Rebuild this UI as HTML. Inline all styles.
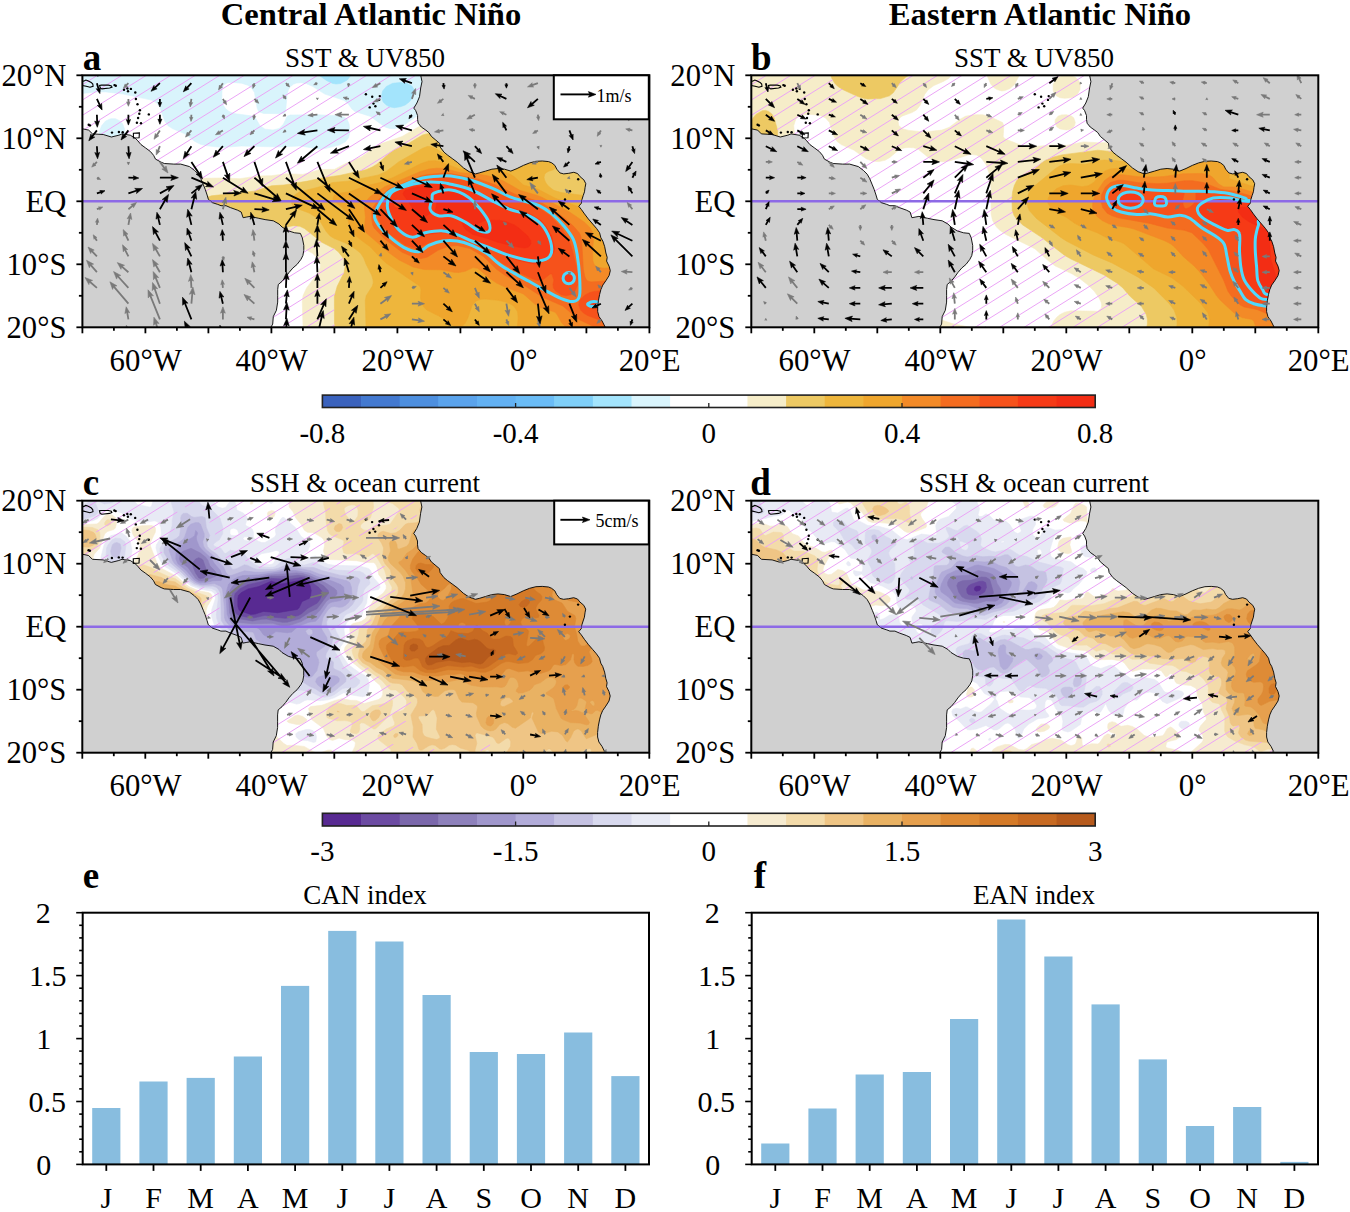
<!DOCTYPE html>
<html><head><meta charset="utf-8"><style>
html,body{margin:0;padding:0;background:#fff;}
svg{display:block;}
</style></head><body>
<svg width="1350" height="1212" viewBox="0 0 1350 1212">
<rect width="1350" height="1212" fill="#fff"/>
<clipPath id="clipa"><rect x="82.4" y="75.3" width="567.0" height="252.0"/></clipPath>
<g clip-path="url(#clipa)">
<path d="M71.4,339.9 205.9,339.9 227.3,319.1 244.6,300.4 254.1,288.8 270.1,265.9 276.6,258 281.9,253.3 286.9,250.1 291.9,248.2 296.6,247.6 304.5,249 312.5,253.3 318.6,259.2 320.5,264.3 320.3,267.4 318.5,272.2 306.6,287.9 303,295.8 302.3,302.1 303,325.7 299.9,339.9 662,339.9 662,120.4 641.5,115.4 606.9,102.2 592.7,97.9 575.4,95.3 559.6,96 545.5,99.2 531.3,105.1 518.7,112.6 491.9,131.2 484,135.3 477.7,137.3 471.4,137.8 466.7,136.5 451,125.7 443.1,122.3 435.2,121.4 427.3,122.8 419.5,126.3 402.1,136.5 380.1,144.1 361.2,157 347,162.8 334.4,169.4 320.2,169.5 302.9,174.4 285.6,173.8 271.4,175.7 257.2,176 239.9,178.7 222.6,178 184.8,178.6 172.2,180.3 161.2,183.2 149.4,188.7 121.8,206.1 106,214.7 88.7,221.8 69.8,226.7 69.8,339.9 71.4,339.9Z" fill="#f6edc9" stroke="#f6edc9" stroke-width="0.6" fill-rule="evenodd"/>
<path d="M336,339.9 662,339.9 662,178.5 646.2,177.7 632.1,175.6 617.9,172.1 607.9,168.2 602.7,165.1 599,161.8 587.1,144.6 581.4,138.3 572.2,132 562.8,128.7 551.8,127.9 539.1,130 528.1,134 506.2,144.6 495,149.2 479.3,153.7 468.3,155.6 463.5,155.2 458.8,153.1 441.5,136.7 435.4,133.6 430.5,132.9 422.6,135 408.4,143.5 394.2,149.9 389.5,153.2 376.9,164.2 372.2,167.1 365.9,169.7 339.1,175.5 323.4,177.7 307.6,181.1 284,185 271.4,185.8 254.1,191.2 211.6,195.8 205.2,197.8 199,201.3 192.8,206 188,210.8 183.2,217.1 179.1,224.9 177,232.8 176.8,240.7 178.5,247.1 182.4,253.3 187.9,257.8 194.2,260.5 200.5,261.7 208.4,261.8 216.3,260.7 225.7,258 241.5,250.6 265.1,236.2 274.6,231.1 284,227.4 293.4,225.7 299.8,226.3 304.5,228.5 321.7,242.2 334.4,248.8 338.2,251.7 343.2,258 344.5,261.1 345.2,265.9 344.2,272.2 337.2,286.3 334.4,296.2 334.5,328.9 335.1,339.9 336,339.9Z" fill="#edc963" stroke="#edc963" stroke-width="0.6" fill-rule="evenodd"/>
<path d="M370.6,339.9 662,339.9 662,217.2 647.8,216.3 636.8,214.4 627.3,211.4 605.3,201.9 594.3,198.1 581.7,195.2 561.2,192.6 553.7,190.3 549.4,187.1 546.6,184 544.8,180.8 544,177.7 544.6,174.5 545.7,172.9 548.6,171.2 553.3,169.8 554.9,168.5 555.6,166.6 555.2,163.5 554.3,161.9 551.8,159.8 549.2,158.8 542.3,157.9 525,157.5 504.5,160.4 462,164.3 456.1,161.9 436.8,149.1 430.5,146.4 427.3,146.5 422.6,148.3 399,161.7 386.2,171.4 378.5,174.9 350.1,180.9 332.8,182.5 317.1,187.5 299.7,191.8 294.6,195 291.9,198.1 291.3,202.9 293.4,206 298.2,208.9 309.2,213.1 315.5,217 320.4,221.8 326,231.2 330.1,235.9 334.4,238.5 345.4,243 354.8,248.6 360.7,253.3 363.7,258 366.1,264.3 371.7,275.3 373.1,280.1 373.2,283.2 372.2,286.3 366.2,295.8 365.3,300.5 366,327.3 368.1,335.2 370.1,339.9 370.6,339.9Z" fill="#eeb63c" stroke="#eeb63c" stroke-width="0.6" fill-rule="evenodd"/>
<path d="M518.7,338.8 519.1,339.9 662,339.9 662,246.8 632.1,244.6 621,241.9 614.8,237.3 605.4,224.9 601,220.2 589.9,212.3 578.5,206.8 554.9,198.1 537.6,189 523.4,185.1 514,176.6 510.8,174.6 504.5,172.1 496.6,170.4 479.3,168.8 460.4,169.4 441.5,162.1 435.2,160.8 428.9,160.9 421,163.6 392.9,177.7 380.1,182.6 365.9,185.8 350.1,191.8 337.6,193.4 334.4,195.1 333.1,198.1 333.4,199.7 334.5,201.3 342.3,207.5 345.4,211.5 347.6,217.1 349.4,226.5 354.7,234.4 359.8,239.1 370.5,247 380.1,257.5 386.4,263.3 419.9,286.3 421,289.5 420.5,297.4 421.3,302.1 423.7,306.8 426.8,310 439.9,316.6 452.5,325.2 458.8,327.3 462,326.4 465.1,323.3 467.9,317.8 472.2,305.2 476.1,300.9 480.9,299.3 485.6,299.1 498.2,300.3 505.9,302.1 510,303.7 514,306.2 517.5,311.6 518.2,317.8 517,330.4 518.7,338.8Z" fill="#efa62d" stroke="#efa62d" stroke-width="0.6" fill-rule="evenodd"/>
<path d="M589.5,338.7 590.7,339.9 662,339.9 662,271.8 647.8,268.7 635.2,267.2 622.6,267 603.7,268.2 597.4,267.3 594.3,264.8 592.9,261.1 592.5,251.7 593.5,239.1 592.6,232.8 590.3,228.1 584.8,222.4 569.9,212.3 542.3,197.5 536,195 520.2,190.5 502.9,180.7 489,176.1 476.1,173.7 460.4,172.8 444.6,168.5 436.8,168.2 428.9,169.1 419.5,171.9 384.8,186.7 370.2,196.6 366,201.3 364.4,207.6 365.5,217.1 364.5,226.5 364.8,229.6 366.1,232.8 389.5,253.1 399,259.9 413.1,267 424.2,269.5 441.5,269.8 454.1,272.3 458.8,272.5 465.1,271.3 473,267.6 477.7,268.3 490.3,278.8 496.6,283.1 504.5,286.8 523.4,293.9 534.4,303.7 540.7,307.7 554.9,312.1 557.2,314.7 561.5,322.6 564.6,325.7 569.1,328.3 583.2,333.6 589.5,338.7Z" fill="#f38a27" stroke="#f38a27" stroke-width="0.6" fill-rule="evenodd"/>
<path d="M614.8,338.6 617.7,339.9 662,339.9 662,302.9 655.7,296.7 647.9,291.1 639.9,287 632.1,284 617.9,281.3 608.4,281 591.1,281.9 588,281.2 586.5,280.1 584.8,276.8 583.3,269 581.7,240.7 580.7,235.9 579.2,232.8 573.8,226.5 565,218.6 554.7,210.8 542.3,203.2 536,200.6 515.5,194.4 495,184.7 478.8,179.2 451,173.6 443.1,173 427.3,174.6 421,175.9 389.2,188.7 383.5,193.4 372.8,207.6 371.5,212.3 371.9,220.2 372.7,224.9 374.2,228.1 384.8,239.1 402.1,252.3 414.7,257.6 421,258.6 427.3,257.1 438.4,250.1 447.8,246.5 457.2,245.5 470.1,248.6 483.4,256.4 496.6,269.3 505.1,275.3 526.5,286.8 542.3,297.1 562.8,306 578.5,319.3 589.5,324.5 614.8,338.6Z" fill="#f46c20" stroke="#f46c20" stroke-width="0.6" fill-rule="evenodd"/>
<path d="M605.3,321 611.6,321.6 617.9,321 622.4,319.4 625.8,317 628.3,313.1 628.8,310 627.9,305.2 624.9,300.5 621.6,297.4 616.6,294.2 606,291.1 600.6,290.8 594.3,291.4 589.5,292.7 584.8,295.2 580.9,298.9 579,302.1 578.8,305.2 580.6,310 583.6,313.1 588,315.7 597.4,319.1 605.3,321ZM561.2,294.8 565.9,295.8 570.6,294.8 575.4,290.3 577.7,284.8 578.4,278.5 578,273.8 572.2,249.6 568.6,239.1 560.2,226.5 549.9,215.5 538,207.6 509.2,198.5 491.9,190.3 472.4,182.4 451.9,177.7 444.6,177.1 421,179.2 403.7,185 389.5,191.6 386.7,195 378.3,210.8 377.6,213.9 377.9,217.1 378.7,220.2 380.5,223.3 390.3,234.4 405.3,245.3 413.1,247.5 417.9,247.9 428.9,242.8 441.5,239.3 454.1,239.6 459.9,240.7 473,245.2 485.9,251.7 502.9,263.6 521.5,273.8 532.9,279 537.6,280.4 542.3,280.3 550.2,274 551.8,273.9 553.9,280.1 553,284.8 553.5,287.9 555.6,291.1 561.2,294.8Z" fill="#f6521b" stroke="#f6521b" stroke-width="0.6" fill-rule="evenodd"/>
<path d="M592.7,306.9 599,306.3 600.4,305.2 600.5,303.7 597.4,302 591,302.1 589,303.7 589,305.2 591.1,306.7 592.7,306.9ZM567.5,283.8 570.6,283.4 572.2,282.2 573.9,278.5 572.2,273.9 569.1,272.4 565.9,273.2 563.6,276.9 564.4,281.6 567.5,283.8ZM529.7,263.1 534.4,263.8 537.6,263.5 547,260.1 549.9,258 552.4,254.8 554.1,251.7 554.7,248.6 551.6,235.9 545.9,226.5 540.7,220.2 529.8,213.9 509.2,206.8 471.4,188.4 446.2,182 439.9,181.6 421,182.3 403.7,187.1 394.2,192.8 392.1,193.4 390.5,195 386,207.6 386.1,212.3 387.4,217.1 390.3,221.8 397.9,231.2 408,237.5 411.6,238.8 414.7,238.8 427.3,234.5 439.9,232.7 446.2,233.1 460.4,236.8 487.2,247.5 506.1,256.1 518.7,260.4 529.7,263.1ZM396,207.6 394.2,205.9 393.5,202.9 395.3,199.7 397.4,199.1 399,199.6 400.6,201.3 401.3,204.4 400.5,206.5 399,207.8 396,207.6Z" fill="#f63a16" stroke="#f63a16" stroke-width="0.6" fill-rule="evenodd"/>
<path d="M518.7,247.3 525,248 528.1,247 530,245.4 530.8,243.8 530.7,240.7 527.6,235.9 518.9,228.1 514.2,224.9 506.1,221.8 499.8,220.4 491.9,220.2 488.8,221.5 487.2,229.9 484,230.2 479.3,228.6 477,224.9 478.7,223.3 485.4,220.2 485.2,217.1 480.1,209.2 471,199.7 467,196.6 451,190.3 441.5,191.5 436.8,193.1 435.2,192.6 431.5,188.7 424.2,186.5 417.9,186.8 410,188.5 405.5,190.3 403.8,191.8 403.2,193.4 403.6,195 409.3,202.9 414.7,212.3 417.9,215.8 422.6,216.7 426.9,215.5 429.5,213.9 430.5,212.3 432,202.3 433.6,198.8 435.2,197.9 436.7,202.9 436.1,207.6 434.5,212.3 435.5,213.9 438.6,215.5 451,216.3 459.8,220.2 461.8,221.8 463.4,226.5 465.7,229.6 472.7,234.4 487.2,238.4 497.6,242.2 518.7,247.3Z" fill="#f32d14" stroke="#f32d14" stroke-width="0.6" fill-rule="evenodd"/>
<path d="M109.2,148 113.9,147.7 118.6,145.2 122,141.4 124.5,135.2 124.5,128.8 122.7,124.1 120.1,121 115.5,118.7 110.8,118.7 105.6,121 101.6,125.7 99.8,130.4 99.4,136.7 101.3,142.5 104.5,146 109.2,148ZM312.4,147.9 318.6,149 324.9,148.6 339.1,145.1 345.4,141.8 348.6,137.7 349.9,132 349.1,124.1 347,119.1 343.9,116.9 336,115.7 317.1,114.7 290.3,115 287.1,116.2 283.5,124.1 279.3,128.4 273,130 265.1,129.2 260,125.7 255.7,118.3 254.1,116.8 250.9,115.8 233.6,113.5 229.1,111.5 225.7,108.8 223.3,105.2 221.8,98.9 222,89.5 223.8,84.8 227.3,82.8 232,82.4 241.5,83.2 247.8,85.2 251.5,87.9 254.5,92.6 257.2,108.2 258.8,111.7 263.5,113.4 279.3,113.7 284,113.2 285.6,111.5 287.1,94.2 288.5,89.5 290.3,86.7 293.4,84.2 296.6,83 301.3,82.7 306.1,83.5 312.4,86.3 324.9,94.1 343.9,100.3 348,103.6 351.7,108.7 354.9,111.4 370.6,116.5 384.8,126.9 389.5,128.4 394.2,128.7 402.1,126.5 422.6,112 436.8,105 447.8,102.2 469.9,100.1 479.3,97 488.8,91.2 514,72.2 530.2,62.7 69.8,62.7 69.8,92.2 82.4,93.4 98.2,91.8 106,91.9 123.3,94.1 151.7,100.1 156.4,102.8 159.6,106.4 164.7,121 168,125.7 172.8,128.8 184.4,133.6 194.9,141.4 200.5,144.3 206.8,145.8 222.6,147.5 241.5,146 279.3,147 299.8,145.9 312.4,147.9Z" fill="#d9f4fc" stroke="#d9f4fc" stroke-width="0.6" fill-rule="evenodd"/>
<path d="M389.5,106.8 394.2,107.7 400.5,106.7 405.3,104.9 409.1,102.1 411.8,98.9 414.1,94.2 414,89.5 412.1,86.3 406.9,83.3 400.5,82.5 392.7,83.3 386.4,86.4 382.6,91 381.3,97.3 383.2,102.1 386.4,105.1 389.5,106.8ZM332.8,83.4 336,84 340.7,83.5 347.3,80 352.1,73.7 356.8,62.7 297.2,62.7 310.8,69.5 326.5,80.5 332.8,83.4ZM142.2,74 145.4,75.1 150.2,73.7 153.3,70.6 157.5,62.7 128.5,62.7 142.2,74Z" fill="#a3e4fc" stroke="#a3e4fc" stroke-width="0.6" fill-rule="evenodd"/>
<clipPath id="ha"><path d="M71.4,339.9 335.1,339.9 334,303.7 334.4,295.8 336.6,287.9 343.6,273.8 345.2,267.4 344.9,262.7 343.9,259.6 341.1,254.8 338.2,251.7 334.4,248.8 321.7,242.2 304.5,228.5 299.8,226.3 293.4,225.7 284,227.4 274.6,231.1 265.1,236.2 241.5,250.6 225.7,258 216.3,260.7 208.4,261.8 200.5,261.7 194.2,260.5 187.9,257.8 182.4,253.3 178.5,247.1 176.8,240.7 177,232.8 179.1,224.9 183.2,217.1 188,210.8 192.8,206 199,201.3 205.2,197.8 211.6,195.8 254.1,191.2 271.4,185.8 284,185 307.6,181.1 323.4,177.7 339.1,175.5 365.9,169.7 372.2,167.1 376.9,164.2 389.5,153.2 394.2,149.9 408.4,143.5 422.6,135 430.5,132.9 435.4,133.6 441.5,136.7 458.8,153.1 463.5,155.2 468.3,155.6 479.3,153.7 495,149.2 506.2,144.6 528.1,134 539.1,130 551.8,127.9 562.8,128.7 572.2,132 581.4,138.3 587.1,144.6 599,161.8 602.7,165.1 607.9,168.2 617.9,172.1 632.1,175.6 646.2,177.7 662,178.5 662,62.7 356.8,62.7 352.9,72.1 348.9,78.5 343.9,82.3 337.6,84 332.8,83.4 328.4,81.6 310.8,69.5 297.2,62.7 157.5,62.7 154.9,68.2 152,72.1 148.6,74.6 145.4,75.1 139.4,72.1 128.5,62.7 69.8,62.7 69.8,339.9 71.4,339.9ZM389.4,106.8 386.4,105.1 383.2,102.1 381.3,97.3 382.6,91 386.4,86.4 392.7,83.3 400.5,82.5 406.9,83.3 412.1,86.3 414,89.5 414.1,94.2 411.8,98.9 409.1,102.1 405.3,104.9 400.5,106.7 394.2,107.7 389.4,106.8Z" clip-rule="evenodd"/></clipPath><path d="M82.4,84.7L649.4,-269.7M82.4,100.0L649.4,-254.4M82.4,115.3L649.4,-239.1M82.4,130.6L649.4,-223.8M82.4,145.9L649.4,-208.5M82.4,161.2L649.4,-193.2M82.4,176.5L649.4,-177.9M82.4,191.8L649.4,-162.6M82.4,207.1L649.4,-147.3M82.4,222.4L649.4,-132.0M82.4,237.7L649.4,-116.7M82.4,253.0L649.4,-101.4M82.4,268.3L649.4,-86.1M82.4,283.6L649.4,-70.8M82.4,298.9L649.4,-55.5M82.4,314.2L649.4,-40.2M82.4,329.5L649.4,-24.9M82.4,344.8L649.4,-9.6M82.4,360.1L649.4,5.7M82.4,375.4L649.4,21.0M82.4,390.7L649.4,36.3M82.4,406.0L649.4,51.6M82.4,421.3L649.4,66.9M82.4,436.6L649.4,82.2M82.4,451.9L649.4,97.5M82.4,467.2L649.4,112.8M82.4,482.5L649.4,128.1M82.4,497.8L649.4,143.4M82.4,513.1L649.4,158.7M82.4,528.4L649.4,174.0M82.4,543.7L649.4,189.3M82.4,559.0L649.4,204.6M82.4,574.3L649.4,219.9M82.4,589.6L649.4,235.2M82.4,604.9L649.4,250.5M82.4,620.2L649.4,265.8M82.4,635.5L649.4,281.1M82.4,650.8L649.4,296.4M82.4,666.1L649.4,311.7M82.4,681.4L649.4,327.0M82.4,696.7L649.4,342.3" stroke="#eba4f6" stroke-width="1.0" fill="none" clip-path="url(#ha)"/>
<line x1="82.4" y1="201.3" x2="649.4" y2="201.3" stroke="#8d6ae6" stroke-width="2.6"/>
<path d="M375.4,212.0C377.1,207.2 382.6,197.6 387.3,193.1C392.0,188.6 397.8,187.4 403.7,184.9C409.6,182.4 416.3,179.5 422.6,178.0C428.9,176.5 436.8,176.4 441.5,176.1C446.2,175.8 445.9,175.4 451.0,176.1C456.0,176.8 464.7,178.4 471.7,180.5C478.8,182.6 486.8,186.0 493.2,188.7C499.6,191.4 504.9,194.8 510.2,196.9C515.4,199.0 519.8,199.8 524.7,201.3C529.5,202.8 534.6,203.6 539.1,205.7C543.7,207.8 547.5,210.4 551.8,213.9C556.0,217.4 560.8,222.3 564.4,226.5C567.9,230.7 571.1,234.6 573.2,239.1C575.3,243.6 575.9,247.6 577.0,253.6C578.0,259.6 579.1,268.0 579.5,275.0C579.9,282.0 580.5,291.4 579.5,295.8C578.4,300.2 576.3,301.0 573.2,301.5C570.0,301.9 565.5,300.3 560.6,298.3C555.6,296.3 548.8,292.3 543.6,289.5C538.3,286.7 534.0,284.0 529.1,281.3C524.1,278.6 518.9,276.0 514.0,273.1C509.0,270.3 504.0,267.6 499.5,264.3C494.9,261.0 491.5,256.7 486.9,253.6C482.2,250.4 476.7,247.5 471.7,245.4C466.8,243.3 462.1,241.7 457.2,241.0C452.4,240.3 447.5,240.3 442.8,241.0C438.0,241.7 432.9,243.6 428.9,245.4C424.9,247.2 423.0,251.4 418.8,251.7C414.6,252.0 409.0,250.1 403.7,247.3C398.5,244.5 391.8,238.9 387.3,234.7C382.8,230.5 378.6,225.9 376.6,222.1C374.6,218.3 373.6,216.8 375.4,212.0Z" fill="none" stroke="#50d8fc" stroke-width="3"/>
<path d="M387.3,205.7C387.3,201.5 388.4,196.3 391.1,193.1C393.8,190.0 398.5,188.6 403.7,186.8C409.0,185.0 416.3,183.1 422.6,182.4C428.9,181.7 436.8,182.1 441.5,182.4C446.2,182.7 445.9,183.0 451.0,184.3C456.0,185.5 464.7,187.1 471.7,190.0C478.8,192.8 486.8,198.0 493.2,201.3C499.6,204.6 504.9,207.4 510.2,209.5C515.4,211.6 519.8,211.8 524.7,213.9C529.5,216.0 535.3,218.6 539.1,222.1C543.0,225.6 545.9,230.1 548.0,234.7C550.1,239.3 551.8,245.9 551.8,249.8C551.8,253.7 550.7,256.1 548.0,258.0C545.2,259.9 540.3,261.1 535.4,261.1C530.4,261.1 523.6,259.3 518.4,258.0C513.1,256.7 508.8,255.4 503.9,253.6C498.9,251.8 494.1,249.4 488.8,247.3C483.4,245.2 477.0,243.1 471.7,241.0C466.5,238.9 462.1,236.4 457.2,234.7C452.4,233.0 448.1,231.2 442.8,230.9C437.4,230.6 430.2,231.8 425.1,232.8C420.1,233.9 416.7,237.5 412.5,237.2C408.3,236.9 403.5,234.1 399.9,230.9C396.3,227.8 393.2,222.5 391.1,218.3C389.0,214.1 387.3,209.9 387.3,205.7Z" fill="none" stroke="#50d8fc" stroke-width="3"/>
<path d="M430.2,209.5C429.1,206.8 431.4,202.1 432.0,199.4C432.7,196.7 430.8,194.7 433.9,193.1C437.1,191.5 445.3,189.3 451.0,190.0C456.6,190.6 463.0,193.6 468.0,196.9C472.9,200.1 477.1,205.3 480.6,209.5C484.0,213.7 487.4,218.4 488.8,222.1C490.1,225.8 490.5,230.2 488.8,231.5C487.0,232.9 481.9,231.9 478.0,230.3C474.2,228.7 470.0,224.5 465.4,222.1C460.9,219.7 455.5,216.8 451.0,215.8C446.4,214.7 441.8,216.8 438.4,215.8C434.9,214.7 431.2,212.2 430.2,209.5Z" fill="none" stroke="#50d8fc" stroke-width="3"/>
<path d="M574.4,278.2C574.4,276.8 573.7,275.1 572.8,274.2C571.8,273.2 570.1,272.5 568.8,272.5C567.4,272.5 565.7,273.2 564.8,274.2C563.8,275.1 563.1,276.8 563.1,278.2C563.1,279.5 563.8,281.2 564.8,282.2C565.7,283.1 567.4,283.8 568.8,283.8C570.1,283.8 571.8,283.1 572.8,282.2C573.7,281.2 574.4,279.5 574.4,278.2Z" fill="none" stroke="#50d8fc" stroke-width="3"/>
<path d="M588.3,303.4C589.2,302.7 591.9,301.5 594.0,301.5C596.1,301.5 600.9,302.5 600.9,303.4C600.9,304.2 596.1,306.2 594.0,306.5C591.9,306.8 589.2,305.8 588.3,305.2C587.3,304.7 587.3,304.0 588.3,303.4Z" fill="none" stroke="#50d8fc" stroke-width="3"/>
<path d="M50.9,122.5L73.0,123.2L81.1,125.7L82.4,128.8L88.7,130.1L92.5,133.9L103.2,134.5L111.4,137.0L118.9,135.2L122.1,133.9L130.3,135.2L135.3,138.3L137.8,140.8L141.0,144.6L145.4,147.8L150.4,151.5L153.6,155.3L155.5,159.1L161.2,162.2L164.3,163.5L173.8,164.1L180.7,164.1L189.5,166.6L194.5,170.4L198.3,174.2L200.8,178.6L203.4,184.9L205.2,189.3L207.1,195.0L208.4,199.4L212.2,202.6L217.8,204.4L221.0,205.7L226.0,205.7L230.4,207.6L237.4,210.1L241.2,212.0L243.1,217.7L246.2,217.1L250.0,216.4L258.8,218.3L265.1,219.6L273.3,220.8L279.0,224.0L282.1,227.1L288.4,230.9L294.7,232.8L300.4,233.4L302.3,237.8L303.8,245.4L303.8,250.4L302.9,255.5L301.0,259.3L297.2,264.3L292.8,268.1L289.0,272.5L285.9,276.9L282.1,281.3L278.3,284.5L277.7,289.5L277.7,295.8L277.7,302.1L276.4,310.3L273.3,316.6L272.7,324.1L269.5,329.8L265.1,336.8L258.8,346.2L145.4,390.3L19.4,390.3L19.4,122.5Z" fill="#d0d0d0" stroke="#000" stroke-width="0.9" stroke-linejoin="round"/>
<path d="M415.0,56.4L416.3,69.0L420.7,75.3L422.0,81.6L420.7,87.9L419.5,96.7L416.9,103.0L413.8,108.1L415.7,110.6L417.6,115.6L417.6,119.4L418.2,123.2L421.3,127.0L425.8,130.1L428.9,132.6L431.4,136.4L435.2,139.6L439.6,143.3L440.2,147.1L444.0,152.2L447.8,155.3L452.2,158.5L457.2,162.2L463.5,167.9L469.2,171.7L475.5,173.9L479.3,172.9L485.6,171.1L491.9,169.2L498.2,168.5L504.5,169.2L510.8,171.1L517.1,168.5L523.4,165.4L529.7,162.9L536.0,161.3L542.3,161.0L548.6,161.6L551.8,162.9L554.9,165.4L556.8,169.2L559.9,172.9L563.7,173.9L568.8,173.3L573.8,172.3L577.6,173.6L580.1,176.7L583.9,179.9L585.8,183.7L585.1,187.4L584.5,191.8L583.2,195.6L582.0,199.4L581.4,203.2L578.8,206.3L581.4,209.5L584.5,213.9L588.3,218.9L592.7,224.0L596.5,228.4L599.6,232.8L600.9,237.8L602.8,241.0L604.7,246.7L605.9,253.0L607.2,257.4L606.6,261.1L609.1,266.2L610.3,270.6L609.1,275.6L605.9,280.7L602.8,285.1L600.9,289.5L599.6,294.5L598.4,300.8L597.7,307.1L597.7,311.6L599.0,316.6L602.1,321.0L605.3,327.3L608.4,333.6L611.6,346.2L712.4,346.2L712.4,56.4Z" fill="#d0d0d0" stroke="#000" stroke-width="0.9" stroke-linejoin="round"/>
<path d="M99.6,85.4L100.2,88.0L101.9,88.9L109.7,88.0L112.0,87.1L111.4,85.9L108.5,85.1L101.4,85.1Z" fill="none" stroke="#000" stroke-width="1.1"/>
<path d="M79.2,79.7L83.7,81.2L85.9,80.0L87.8,80.7L91.2,82.4L92.8,84.1L93.1,86.3L90.0,87.3L86.2,86.3L83.7,85.7L79.2,86.0Z" fill="none" stroke="#000" stroke-width="1.1"/>
<path d="M133.4,133.3L139.4,132.9L139.1,137.7L133.4,138.0Z" fill="none" stroke="#000" stroke-width="1.1"/>
<circle cx="114.5" cy="85.1" r="1.2" fill="#000"/>
<circle cx="115.8" cy="85.7" r="1.2" fill="#000"/>
<circle cx="124.0" cy="89.8" r="1.2" fill="#000"/>
<circle cx="127.4" cy="88.5" r="1.2" fill="#000"/>
<circle cx="128.0" cy="91.3" r="1.2" fill="#000"/>
<circle cx="130.9" cy="88.9" r="1.2" fill="#000"/>
<circle cx="135.3" cy="92.5" r="1.2" fill="#000"/>
<circle cx="135.9" cy="99.0" r="1.2" fill="#000"/>
<circle cx="137.5" cy="104.3" r="1.2" fill="#000"/>
<circle cx="139.9" cy="110.3" r="1.2" fill="#000"/>
<circle cx="139.3" cy="113.7" r="1.2" fill="#000"/>
<circle cx="138.1" cy="118.0" r="1.2" fill="#000"/>
<circle cx="136.9" cy="122.7" r="1.2" fill="#000"/>
<circle cx="141.0" cy="123.3" r="1.2" fill="#000"/>
<circle cx="148.8" cy="114.4" r="1.2" fill="#000"/>
<circle cx="88.7" cy="124.8" r="1.2" fill="#000"/>
<circle cx="90.0" cy="125.4" r="1.2" fill="#000"/>
<circle cx="112.0" cy="132.6" r="1.2" fill="#000"/>
<circle cx="118.9" cy="132.0" r="1.2" fill="#000"/>
<circle cx="122.7" cy="132.2" r="1.2" fill="#000"/>
<circle cx="372.2" cy="96.7" r="1.2" fill="#000"/>
<circle cx="375.4" cy="106.2" r="1.2" fill="#000"/>
<circle cx="379.1" cy="99.9" r="1.2" fill="#000"/>
<circle cx="369.7" cy="107.4" r="1.2" fill="#000"/>
<circle cx="365.9" cy="94.2" r="1.2" fill="#000"/>
<circle cx="379.8" cy="96.1" r="1.2" fill="#000"/>
<circle cx="373.5" cy="103.6" r="1.2" fill="#000"/>
<circle cx="578.2" cy="179.2" r="1.2" fill="#000"/>
<circle cx="565.0" cy="199.4" r="1.2" fill="#000"/>
<circle cx="570.0" cy="191.2" r="1.2" fill="#000"/>
<clipPath id="La"><path d="M50.9,122.5L73.0,123.2L81.1,125.7L82.4,128.8L88.7,130.1L92.5,133.9L103.2,134.5L111.4,137.0L118.9,135.2L122.1,133.9L130.3,135.2L135.3,138.3L137.8,140.8L141.0,144.6L145.4,147.8L150.4,151.5L153.6,155.3L155.5,159.1L161.2,162.2L164.3,163.5L173.8,164.1L180.7,164.1L189.5,166.6L194.5,170.4L198.3,174.2L200.8,178.6L203.4,184.9L205.2,189.3L207.1,195.0L208.4,199.4L212.2,202.6L217.8,204.4L221.0,205.7L226.0,205.7L230.4,207.6L237.4,210.1L241.2,212.0L243.1,217.7L246.2,217.1L250.0,216.4L258.8,218.3L265.1,219.6L273.3,220.8L279.0,224.0L282.1,227.1L288.4,230.9L294.7,232.8L300.4,233.4L302.3,237.8L303.8,245.4L303.8,250.4L302.9,255.5L301.0,259.3L297.2,264.3L292.8,268.1L289.0,272.5L285.9,276.9L282.1,281.3L278.3,284.5L277.7,289.5L277.7,295.8L277.7,302.1L276.4,310.3L273.3,316.6L272.7,324.1L269.5,329.8L265.1,336.8L258.8,346.2L145.4,390.3L19.4,390.3L19.4,122.5ZM415.0,56.4L416.3,69.0L420.7,75.3L422.0,81.6L420.7,87.9L419.5,96.7L416.9,103.0L413.8,108.1L415.7,110.6L417.6,115.6L417.6,119.4L418.2,123.2L421.3,127.0L425.8,130.1L428.9,132.6L431.4,136.4L435.2,139.6L439.6,143.3L440.2,147.1L444.0,152.2L447.8,155.3L452.2,158.5L457.2,162.2L463.5,167.9L469.2,171.7L475.5,173.9L479.3,172.9L485.6,171.1L491.9,169.2L498.2,168.5L504.5,169.2L510.8,171.1L517.1,168.5L523.4,165.4L529.7,162.9L536.0,161.3L542.3,161.0L548.6,161.6L551.8,162.9L554.9,165.4L556.8,169.2L559.9,172.9L563.7,173.9L568.8,173.3L573.8,172.3L577.6,173.6L580.1,176.7L583.9,179.9L585.8,183.7L585.1,187.4L584.5,191.8L583.2,195.6L582.0,199.4L581.4,203.2L578.8,206.3L581.4,209.5L584.5,213.9L588.3,218.9L592.7,224.0L596.5,228.4L599.6,232.8L600.9,237.8L602.8,241.0L604.7,246.7L605.9,253.0L607.2,257.4L606.6,261.1L609.1,266.2L610.3,270.6L609.1,275.6L605.9,280.7L602.8,285.1L600.9,289.5L599.6,294.5L598.4,300.8L597.7,307.1L597.7,311.6L599.0,316.6L602.1,321.0L605.3,327.3L608.4,333.6L611.6,346.2L712.4,346.2L712.4,56.4Z"/></clipPath>
<line x1="82.4" y1="201.3" x2="649.4" y2="201.3" stroke="#8d6ae6" stroke-width="2.6" clip-path="url(#La)"/>
<path d="M128.4,83.2L125.2,86.4M222.9,83.2L220.0,87.5M254.4,83.2L253.5,86.3M285.9,83.2L288.1,85.4M317.4,83.2L315.4,84.0M348.9,83.2L348.5,85.1M380.4,83.2L375.0,86.1M474.9,83.2L474.9,86.2M537.9,83.2L530.8,85.7M569.4,83.2L565.6,85.1M600.9,83.2L597.9,84.4M632.4,83.2L630.0,85.6M128.4,98.9L128.4,103.7M191.4,98.9L190.6,104.2M222.9,98.9L225.2,102.7M254.4,98.9L257.1,101.6M285.9,98.9L284.1,96.6M317.4,98.9L317.4,98.7M348.9,98.9L345.3,98.0M380.4,98.9L376.1,100.8M411.9,98.9L414.4,91.8M443.4,98.9L439.6,101.7M474.9,98.9L470.6,96.7M191.4,114.7L191.1,118.9M222.9,114.7L223.7,117.2M254.4,114.7L254.0,117.7M285.9,114.7L284.4,115.4M317.4,114.7L310.9,115.1M348.9,114.7L339.0,114.7M380.4,114.7L377.8,112.9M443.4,114.7L442.8,114.9M474.9,114.7L469.5,117.6M506.4,114.7L502.1,112.8M537.9,114.7L538.3,118.3M632.4,114.7L629.8,118.5M159.9,130.4L155.9,136.5M191.4,130.4L187.5,134.9M222.9,130.4L218.0,133.3M254.4,130.4L251.7,133.1M285.9,130.4L284.4,131.4M443.4,130.4L437.5,131.4M474.9,130.4L471.3,129.8M537.9,130.4L534.7,132.3M600.9,130.4L598.5,134.2M632.4,130.4L628.2,129.5M159.9,146.2L157.4,152.2M537.9,146.2L538.4,147.6M600.9,146.2L600.9,146.0M96.9,161.9L93.6,165.3M128.4,161.9L128.4,163.3M159.9,161.9L165.6,169.7M411.9,161.9L407.1,163.3M537.9,161.9L534.2,163.2M96.9,177.7L98.9,178.7M569.4,177.7L568.8,177.8M537.9,193.4L532.2,185.9M569.4,193.4L566.7,190.7M96.9,209.2L100.5,207.8M128.4,209.2L133.9,204.6M222.9,209.2L225.0,200.9M474.9,209.2L474.9,203.4M632.4,209.2L629.0,204.8M96.9,224.9L97.3,220.7M128.4,224.9L129.9,216.7M506.4,224.9L504.8,223.3M96.9,240.7L94.5,236.9M128.4,240.7L124.8,233.0M254.4,240.7L253.4,233.1M506.4,240.7L511.4,245.7M537.9,240.7L539.6,243.0M96.9,256.4L90.7,249.9M128.4,256.4L124.3,248.3M159.9,256.4L154.7,247.2M222.9,256.4L223.4,258.6M254.4,256.4L253.5,253.0M380.4,256.4L380.7,254.7M96.9,272.2L89.5,263.7M128.4,272.2L120.5,265.4M159.9,272.2L154.7,263.3M254.4,272.2L252.9,265.1M411.9,272.2L412.2,273.6M443.4,272.2L448.9,276.2M569.4,272.2L569.4,273.5M600.9,272.2L597.5,268.3M632.4,272.2L624.8,271.7M96.9,287.9L88.4,280.5M128.4,287.9L116.7,275.0M159.9,287.9L154.9,275.8M191.4,287.9L190.9,278.6M222.9,287.9L222.4,282.6M254.4,287.9L247.7,281.2M411.9,287.9L414.4,287.1M443.4,287.9L447.2,291.3M474.9,287.9L477.9,295.1M569.4,287.9L574.0,294.0M600.9,287.9L599.3,286.3M632.4,287.9L630.4,289.1M128.4,303.7L112.8,285.3M159.9,303.7L154.0,286.8M191.4,303.7L192.5,291.5M254.4,303.7L247.1,297.1M380.4,303.7L388.2,298.0M411.9,303.7L420.7,303.7M474.9,303.7L477.8,309.1M506.4,303.7L507.9,312.5M128.4,319.4L126.9,310.6M159.9,319.4L149.7,294.1M222.9,319.4L222.9,310.7M254.4,319.4L249.6,318.0M380.4,319.4L387.6,315.6M411.9,319.4L420.7,320.7M506.4,319.4L507.8,323.2M537.9,319.4L539.2,324.7M600.9,319.4L598.5,321.8M128.4,335.2L127.0,328.4M159.9,335.2L155.3,321.5" stroke="#7a7a7a" stroke-width="1.8" fill="none" stroke-linecap="butt"/>
<path d="M123.4,88.2L125.2,83.9L125.8,85.7L127.6,86.4ZM218.5,89.9L219.5,85.0L220.5,86.8L222.6,87.0ZM252.9,88.4L252.5,84.4L253.7,85.6L255.4,85.3ZM289.6,86.9L286.0,85.4L287.6,84.8L288.1,83.3ZM313.7,84.7L316.1,82.3L316.0,83.7L317.1,84.7ZM348.2,86.9L347.5,83.7L348.6,84.5L350.0,84.1ZM372.3,87.6L375.8,83.4L375.9,85.6L377.7,86.9ZM474.9,88.4L473.4,84.8L474.9,85.5L476.4,84.8ZM527.5,86.9L532.2,82.8L531.9,85.3L533.7,87.0ZM563.4,86.2L566.4,82.8L566.4,84.7L567.8,85.8ZM595.9,85.2L598.7,82.4L598.6,84.1L599.8,85.2ZM628.4,87.2L630.0,83.4L630.5,85.1L632.1,85.6ZM128.4,106.3L126.6,101.9L128.4,102.8L130.1,101.9ZM190.2,107.0L189.0,102.1L190.7,103.3L192.7,102.6ZM226.6,104.8L222.9,102.1L224.8,101.9L225.8,100.3ZM258.8,103.3L254.8,101.7L256.5,101.1L257.1,99.4ZM282.9,94.9L286.2,96.9L284.6,97.2L283.8,98.6ZM317.4,99.9L316.4,97.9L317.4,98.3L318.3,97.9ZM343.0,97.4L347.2,96.8L346.0,98.2L346.4,99.9ZM373.7,101.9L377.0,98.5L376.9,100.5L378.4,101.7ZM415.6,88.5L415.7,94.7L414.0,92.9L411.6,93.2ZM437.5,103.3L440.0,99.3L440.3,101.2L442.1,102.1ZM468.2,95.4L473.0,95.9L471.4,97.1L471.3,99.1ZM191.0,121.4L189.6,117.1L191.2,118.1L192.9,117.3ZM224.4,119.1L222.0,116.3L223.5,116.5L224.6,115.4ZM253.7,119.9L252.7,116.1L254.1,117.0L255.6,116.5ZM282.9,116.2L284.9,113.8L284.9,115.1L286.0,116.0ZM307.8,115.4L312.9,113.0L312.0,115.1L313.2,117.0ZM334.9,114.7L341.8,112.1L340.4,114.7L341.8,117.3ZM376.0,111.7L379.8,112.5L378.4,113.3L378.1,115.0ZM441.4,115.4L443.3,113.5L443.2,114.7L444.0,115.6ZM466.8,119.1L470.3,114.9L470.4,117.1L472.2,118.4ZM499.7,111.7L504.4,111.9L502.9,113.1L503.0,115.1ZM538.6,120.6L536.6,116.9L538.2,117.5L539.7,116.6ZM628.4,120.7L629.4,116.1L630.3,117.8L632.2,118.0ZM154.0,139.3L155.3,133.4L156.5,135.6L158.9,135.8ZM185.5,137.1L187.3,132.1L188.1,134.1L190.3,134.7ZM215.5,134.8L218.7,130.7L218.8,132.8L220.7,134.0ZM250.0,134.8L251.7,130.9L252.2,132.6L253.9,133.2ZM282.9,132.4L284.7,129.7L284.9,131.1L286.1,131.8ZM434.5,131.9L439.1,129.2L438.5,131.3L439.8,133.0ZM469.0,129.4L473.1,128.5L472.0,129.9L472.5,131.6ZM532.7,133.4L535.3,130.1L535.4,131.9L536.8,132.9ZM597.2,136.3L598.0,131.8L599.0,133.4L600.9,133.6ZM625.7,128.9L630.2,128.2L629.0,129.7L629.4,131.5ZM156.2,155.1L156.3,149.4L157.8,151.2L160.1,151.0ZM538.9,149.2L536.8,146.9L538.2,147.0L539.2,146.1ZM600.9,147.2L599.9,145.2L600.9,145.6L601.8,145.2ZM91.7,167.1L93.6,162.8L94.2,164.6L96.0,165.3ZM128.4,164.9L127.2,162.2L128.4,162.7L129.6,162.2ZM168.0,173.0L161.9,169.0L164.8,168.6L166.0,166.0ZM404.5,164.1L408.3,161.1L408.0,163.1L409.3,164.6ZM531.9,163.9L535.2,161.1L534.9,162.9L536.2,164.2ZM100.6,179.6L97.1,179.3L98.3,178.4L98.4,176.9ZM567.4,178.2L569.4,176.5L569.2,177.7L570.0,178.7ZM529.8,182.6L535.8,186.5L533.0,186.9L531.8,189.5ZM565.0,189.0L568.9,190.7L567.2,191.3L566.7,193.0ZM102.8,207.0L99.6,209.9L99.8,208.1L98.5,206.9ZM136.5,202.5L133.5,207.7L133.0,205.3L130.8,204.4ZM225.9,197.3L226.7,203.9L224.7,202.1L222.1,202.8ZM474.9,200.5L476.8,205.4L474.9,204.4L473.0,205.4ZM627.2,202.5L631.6,205.1L629.6,205.5L628.7,207.4ZM97.6,218.2L98.8,222.5L97.2,221.5L95.5,222.2ZM130.6,213.0L131.8,219.5L129.7,217.9L127.2,218.7ZM503.4,221.9L506.6,223.2L505.2,223.7L504.7,225.2ZM93.2,234.8L96.9,237.5L95.0,237.7L94.0,239.3ZM123.2,229.6L128.0,234.2L125.3,234.1L123.7,236.2ZM252.9,229.6L255.9,235.1L253.5,234.2L251.5,235.7ZM513.8,248.1L508.3,245.6L510.6,244.9L511.4,242.6ZM540.9,244.7L537.6,242.7L539.2,242.4L540.0,241.0ZM88.0,247.1L94.2,250.1L91.6,250.9L90.7,253.5ZM122.5,244.8L127.7,249.5L124.9,249.5L123.3,251.8ZM152.5,243.4L158.4,248.4L155.4,248.5L153.7,251.1ZM223.9,260.4L221.8,257.7L223.3,258.0L224.4,257.0ZM252.9,250.8L255.4,254.1L253.7,253.8L252.4,254.9ZM381.1,252.9L381.8,256.1L380.6,255.2L379.3,255.6ZM86.5,260.3L93.6,264.1L90.5,264.9L89.4,267.8ZM117.3,262.6L124.5,265.3L121.6,266.3L121.0,269.3ZM152.5,259.6L158.4,264.4L155.4,264.5L153.8,267.1ZM252.2,261.8L255.5,266.8L253.1,266.2L251.2,267.7ZM412.6,275.2L410.8,272.8L412.1,273.0L413.1,272.2ZM451.5,278.1L445.9,276.6L448.0,275.5L448.3,273.2ZM569.4,275.2L568.2,272.4L569.4,273.0L570.6,272.4ZM595.7,266.3L600.1,268.5L598.1,269.0L597.4,270.9ZM621.3,271.5L627.2,269.6L625.9,271.8L627.0,274.1ZM85.0,277.5L92.6,280.4L89.6,281.5L88.9,284.6ZM113.6,271.6L120.8,275.4L117.7,276.1L116.6,279.1ZM153.2,271.6L158.7,277.6L155.5,277.2L153.5,279.7ZM190.7,274.6L193.5,281.1L191.0,279.9L188.5,281.4ZM222.2,279.8L224.4,284.3L222.5,283.6L220.8,284.7ZM244.8,278.3L251.4,281.3L248.6,282.1L247.8,284.9ZM416.3,286.4L413.6,288.8L413.7,287.3L412.6,286.2ZM449.3,293.1L444.6,291.5L446.5,290.7L447.0,288.7ZM479.3,298.3L474.9,293.8L477.5,294.0L479.1,292.0ZM576.1,296.8L570.8,293.5L573.3,293.1L574.4,290.8ZM597.9,284.9L601.1,286.2L599.7,286.7L599.2,288.2ZM628.7,290.1L630.8,287.3L630.9,288.8L632.2,289.6ZM109.9,281.8L116.9,285.8L113.8,286.4L112.6,289.4ZM152.5,282.5L157.6,288.7L154.5,288.2L152.3,290.6ZM192.9,287.0L195.0,294.8L192.3,293.0L189.4,294.3ZM244.0,294.4L250.9,297.1L248.1,298.1L247.4,300.9ZM391.5,295.6L387.5,301.7L387.1,298.8L384.5,297.5ZM424.5,303.7L418.1,306.1L419.4,303.7L418.1,301.3ZM479.3,311.8L475.1,308.2L477.3,308.2L478.6,306.3ZM508.6,316.3L505.1,310.3L507.7,311.2L509.9,309.5ZM126.2,306.8L129.7,312.8L127.1,311.9L124.9,313.6ZM148.0,289.8L153.4,295.8L150.3,295.5L148.2,297.9ZM222.9,306.8L225.3,313.2L222.9,311.9L220.5,313.2ZM247.0,317.2L251.8,316.8L250.5,318.3L250.8,320.2ZM390.8,313.8L386.5,318.7L386.5,316.1L384.3,314.7ZM424.5,321.2L417.8,322.7L419.4,320.5L418.5,317.9ZM508.6,325.4L505.7,322.2L507.5,322.4L508.7,321.1ZM539.9,327.4L536.9,323.3L539.0,323.8L540.5,322.4ZM596.9,323.4L598.5,319.7L599.0,321.3L600.6,321.9ZM126.4,325.2L129.5,330.1L127.2,329.5L125.4,331.0ZM153.9,317.2L159.0,323.5L155.8,322.9L153.6,325.3Z" fill="#7a7a7a" stroke="#7a7a7a" stroke-width="0.6" stroke-linejoin="miter"/>
<path d="M96.9,67.4L97.6,73.4M159.9,67.4L157.2,72.7M191.4,67.4L188.7,72.7M96.9,83.2L98.9,90.3M159.9,83.2L153.7,88.8M191.4,83.2L185.8,89.1M411.9,83.2L403.1,80.1M443.4,83.2L443.8,86.8M506.4,83.2L506.4,86.1M96.9,98.9L100.5,106.6M159.9,98.9L159.9,104.2M506.4,98.9L498.7,95.3M537.9,98.9L530.6,105.2M569.4,98.9L565.5,102.2M600.9,98.9L597.8,101.4M632.4,98.9L629.8,102.8M96.9,114.7L97.2,123.4M128.4,114.7L128.4,121.7M159.9,114.7L159.9,121.1M411.9,114.7L410.1,117.0M569.4,114.7L565.0,117.5M600.9,114.7L596.3,117.3M96.9,130.4L91.2,137.7M128.4,130.4L123.3,137.1M317.4,130.4L301.9,132.7M348.9,130.4L331.9,130.2M380.4,130.4L367.8,127.5M411.9,130.4L400.0,127.0M506.4,130.4L503.9,125.0M569.4,130.4L571.9,136.9M96.9,146.2L97.4,154.9M128.4,146.2L128.9,154.9M191.4,146.2L185.7,155.1M222.9,146.2L216.1,154.0M254.4,146.2L247.0,153.5M285.9,146.2L278.5,154.6M317.4,146.2L300.9,160.2M348.9,146.2L334.7,151.6M380.4,146.2L367.9,148.6M411.9,146.2L399.3,143.1M443.4,146.2L434.6,144.9M474.9,146.2L479.4,151.2M506.4,146.2L510.9,151.2M569.4,146.2L568.4,150.4M632.4,146.2L633.8,151.0M191.4,161.9L200.0,175.1M222.9,161.9L228.1,176.9M254.4,161.9L261.1,182.0M285.9,161.9L294.7,186.0M317.4,161.9L328.2,188.1M348.9,161.9L356.8,174.4M380.4,161.9L382.4,167.9M443.4,161.9L439.3,156.5M474.9,161.9L466.3,153.9M506.4,161.9L499.9,158.9M569.4,161.9L565.6,165.3M600.9,161.9L597.2,163.3M632.4,161.9L627.8,168.5M128.4,177.7L135.5,177.9M159.9,177.7L173.8,177.7M191.4,177.7L209.4,185.2M222.9,177.7L244.2,190.9M254.4,177.7L277.6,197.7M285.9,177.7L321.5,207.2M317.4,177.7L351.4,205.5M348.9,177.7L378.3,192.1M380.4,177.7L399.3,186.5M411.9,177.7L428.2,185.5M443.4,177.7L447.1,167.7M474.9,177.7L466.2,156.7M506.4,177.7L499.6,168.7M537.9,177.7L530.3,179.0M600.9,177.7L600.5,175.2M632.4,177.7L634.8,173.3M96.9,193.4L102.2,191.6M128.4,193.4L138.4,190.0M159.9,193.4L170.0,187.8M191.4,193.4L199.2,187.2M222.9,193.4L236.8,193.1M254.4,193.4L275.9,199.8M285.9,193.4L315.1,207.1M317.4,193.4L350.1,217.8M348.9,193.4L377.0,213.0M380.4,193.4L402.6,207.9M411.9,193.4L428.4,200.5M443.4,193.4L441.3,186.6M474.9,193.4L470.0,181.6M506.4,193.4L495.0,178.1M600.9,193.4L598.2,191.2M632.4,193.4L629.5,188.5M159.9,209.2L166.2,198.3M191.4,209.2L194.7,195.8M254.4,209.2L264.9,209.7M285.9,209.2L297.9,206.3M317.4,209.2L333.2,222.5M348.9,209.2L361.9,228.4M380.4,209.2L394.2,223.7M411.9,209.2L424.0,219.5M443.4,209.2L449.9,211.2M506.4,209.2L494.7,197.1M537.9,209.2L522.2,197.2M569.4,209.2L561.6,203.6M600.9,209.2L596.6,207.8M159.9,224.9L157.8,216.1M191.4,224.9L188.7,213.8M222.9,224.9L220.8,216.1M254.4,224.9L251.8,216.1M285.9,224.9L294.0,213.5M317.4,224.9L318.8,216.6M348.9,224.9L352.5,233.2M380.4,224.9L386.1,234.4M411.9,224.9L421.2,233.7M443.4,224.9L453.3,233.8M474.9,224.9L482.1,229.6M537.9,224.9L523.0,213.6M569.4,224.9L552.8,210.2M600.9,224.9L595.4,220.9M632.4,224.9L624.6,219.7M159.9,240.7L154.6,230.6M191.4,240.7L188.3,231.9M222.9,240.7L222.4,233.1M285.9,240.7L285.9,229.2M317.4,240.7L317.4,229.2M348.9,240.7L350.8,244.4M380.4,240.7L386.0,247.4M411.9,240.7L419.9,249.2M443.4,240.7L454.5,253.5M474.9,240.7L487.0,251.0M569.4,240.7L555.8,228.9M600.9,240.7L589.3,234.7M632.4,240.7L615.8,233.0M191.4,256.4L186.6,246.6M285.9,256.4L285.9,245.0M317.4,256.4L316.7,244.0M348.9,256.4L343.7,249.3M411.9,256.4L416.9,261.0M443.4,256.4L452.4,263.3M474.9,256.4L487.3,268.8M506.4,256.4L516.9,269.8M537.9,256.4L538.9,264.0M569.4,256.4L561.6,250.7M600.9,256.4L585.7,242.5M632.4,256.4L614.1,238.1M191.4,272.2L188.8,262.2M222.9,272.2L222.4,263.4M285.9,272.2L285.9,256.7M317.4,272.2L316.9,260.4M348.9,272.2L345.8,262.1M380.4,272.2L379.4,267.2M474.9,272.2L486.8,280.6M506.4,272.2L520.0,284.7M537.9,272.2L544.3,288.9M285.9,287.9L286.4,276.6M317.4,287.9L317.4,277.8M348.9,287.9L349.4,280.1M380.4,287.9L384.9,283.8M506.4,287.9L514.8,299.1M537.9,287.9L547.2,309.6M222.9,303.7L220.8,295.1M285.9,303.7L286.9,293.9M317.4,303.7L317.4,293.8M348.9,303.7L352.5,295.0M443.4,303.7L449.6,309.3M537.9,303.7L539.6,319.1M569.4,303.7L575.1,317.9M600.9,303.7L594.9,306.6M632.4,303.7L627.4,308.2M191.4,319.4L184.2,301.5M285.9,319.4L286.6,307.0M317.4,319.4L324.5,302.9M348.9,319.4L355.4,309.2M443.4,319.4L448.4,323.6M474.9,319.4L477.7,323.3M569.4,319.4L571.4,324.7M632.4,319.4L631.1,323.1M191.4,335.2L186.4,325.2M222.9,335.2L220.8,328.4M285.9,335.2L286.6,322.7M317.4,335.2L322.2,315.0M348.9,335.2L352.7,321.6" stroke="#000" stroke-width="1.8" fill="none" stroke-linecap="butt"/>
<path d="M97.9,76.4L95.4,71.6L97.4,72.4L99.3,71.2ZM155.9,75.4L156.4,70.1L157.7,71.8L159.9,71.8ZM187.4,75.4L187.9,70.1L189.2,71.8L191.4,71.8ZM99.9,93.6L96.2,88.7L98.6,89.2L100.4,87.5ZM151.0,91.3L154.0,85.4L154.6,88.0L157.1,88.8ZM183.3,91.8L185.8,85.8L186.6,88.2L189.1,88.9ZM399.3,78.8L406.4,78.6L404.3,80.5L404.8,83.3ZM444.1,89.1L442.1,85.4L443.7,86.0L445.2,85.1ZM506.4,88.2L504.9,84.7L506.4,85.4L507.8,84.7ZM102.1,110.0L97.3,105.4L100.0,105.5L101.6,103.4ZM159.9,107.0L158.0,102.3L159.9,103.3L161.7,102.3ZM495.3,93.7L502.0,94.2L499.8,95.8L500.0,98.5ZM527.5,107.8L531.0,101.5L531.6,104.3L534.3,105.3ZM563.4,103.9L565.7,99.6L566.2,101.6L568.1,102.4ZM595.9,102.9L598.0,99.1L598.4,100.9L600.1,101.7ZM628.4,104.9L629.4,100.4L630.3,102.0L632.2,102.3ZM97.3,127.3L94.7,121.0L97.1,122.2L99.5,120.8ZM128.4,125.1L126.3,119.5L128.4,120.6L130.5,119.5ZM159.9,124.3L157.9,119.0L159.9,120.1L161.9,119.0ZM408.9,118.7L409.8,115.0L410.6,116.4L412.2,116.7ZM562.7,119.1L565.6,115.0L565.8,117.0L567.6,118.1ZM593.9,118.7L597.0,114.8L597.1,116.8L598.9,118.0ZM88.8,140.8L90.9,134.1L92.0,136.7L94.8,137.1ZM121.0,140.0L122.9,133.7L124.0,136.1L126.6,136.5ZM297.4,133.4L304.5,129.5L303.4,132.5L305.3,135.1ZM327.4,130.1L335.0,127.4L333.5,130.2L335.0,133.0ZM363.4,126.4L371.4,125.4L369.3,127.8L370.1,130.9ZM395.6,125.7L403.7,125.1L401.4,127.4L402.1,130.5ZM502.7,122.3L506.5,126.1L504.3,126.0L503.0,127.7ZM573.1,140.0L569.1,135.6L571.5,135.9L573.1,134.1ZM97.6,158.8L94.8,152.5L97.3,153.7L99.6,152.3ZM129.1,158.8L126.3,152.5L128.8,153.7L131.1,152.3ZM183.3,158.8L185.0,151.2L186.4,153.9L189.5,154.1ZM213.3,157.3L216.0,150.1L217.0,152.9L220.0,153.6ZM244.0,156.6L247.2,149.6L248.1,152.5L251.0,153.4ZM275.5,158.1L278.4,150.5L279.5,153.5L282.6,154.2ZM297.4,163.2L301.4,156.1L302.0,159.2L305.0,160.4ZM330.4,153.2L336.5,147.9L336.1,151.0L338.5,153.1ZM363.4,149.5L370.3,145.3L369.4,148.3L371.4,150.8ZM394.9,142.1L402.9,141.1L400.8,143.5L401.6,146.6ZM430.8,144.3L437.5,142.8L435.9,145.0L436.8,147.6ZM481.6,153.6L476.4,151.0L478.7,150.4L479.5,148.2ZM513.1,153.6L507.9,151.0L510.2,150.4L511.0,148.2ZM567.9,152.9L567.2,148.4L568.6,149.6L570.5,149.1ZM634.6,153.6L631.6,149.7L633.6,150.1L635.0,148.7ZM202.5,178.9L196.0,174.1L199.2,173.8L200.7,171.0ZM229.6,181.2L224.4,175.0L227.6,175.5L229.8,173.1ZM262.5,186.3L257.4,180.0L260.6,180.6L262.8,178.2ZM296.3,190.3L291.0,184.2L294.2,184.6L296.3,182.2ZM330.0,192.3L324.5,186.4L327.7,186.7L329.7,184.2ZM359.3,178.2L352.8,173.3L356.0,173.1L357.6,170.3ZM383.4,170.8L379.8,166.6L382.1,166.9L383.6,165.3ZM437.4,153.9L442.3,157.0L440.0,157.4L439.0,159.5ZM463.0,150.8L470.5,154.0L467.4,155.0L466.6,158.1ZM496.8,157.5L502.8,157.9L500.9,159.4L501.0,161.8ZM563.5,167.1L565.7,162.7L566.2,164.7L568.1,165.5ZM595.0,164.1L598.2,161.2L598.0,163.0L599.3,164.2ZM625.7,171.5L627.3,165.3L628.5,167.6L631.0,167.9ZM138.8,178.1L133.2,180.0L134.3,177.9L133.3,175.7ZM178.4,177.7L170.8,180.5L172.3,177.7L170.8,174.9ZM213.6,187.0L205.5,186.6L208.0,184.6L207.7,181.4ZM248.1,193.3L240.1,191.7L242.9,190.1L243.1,186.9ZM281.1,200.7L273.5,197.8L276.5,196.7L277.2,193.6ZM325.0,210.1L317.3,207.4L320.3,206.2L320.9,203.1ZM354.9,208.4L347.2,205.7L350.2,204.5L350.8,201.4ZM382.4,194.1L374.3,193.3L376.9,191.4L376.8,188.2ZM403.4,188.5L395.3,187.8L397.9,185.9L397.7,182.7ZM432.3,187.5L424.2,186.7L426.8,184.8L426.7,181.7ZM448.6,163.6L448.6,171.4L446.6,169.1L443.5,169.5ZM464.5,152.5L470.0,158.4L466.8,158.1L464.8,160.6ZM496.8,165.1L503.6,169.4L500.5,169.9L499.2,172.8ZM526.8,179.6L532.2,176.4L531.4,178.8L533.0,180.8ZM600.2,173.3L602.1,176.3L600.6,175.9L599.3,176.7ZM636.1,171.0L635.5,175.8L634.3,174.1L632.3,174.1ZM105.0,190.7L101.0,194.1L101.3,192.0L99.8,190.5ZM142.5,188.5L136.5,193.5L137.0,190.4L134.7,188.4ZM174.0,185.5L168.7,191.7L168.7,188.5L166.0,186.8ZM202.5,184.5L198.7,190.9L198.1,188.0L195.4,186.9ZM241.4,193.0L233.9,196.0L235.3,193.2L233.7,190.4ZM280.3,201.1L272.2,201.7L274.5,199.4L273.8,196.3ZM319.2,209.0L311.1,208.3L313.7,206.4L313.5,203.3ZM353.8,220.5L346.0,218.2L348.9,216.9L349.4,213.7ZM380.8,215.6L372.9,213.6L375.8,212.2L376.2,209.0ZM406.4,210.4L398.5,208.6L401.3,207.1L401.6,203.9ZM432.6,202.3L424.5,201.9L427.0,199.9L426.7,196.7ZM440.4,183.4L444.0,188.1L441.7,187.7L439.9,189.4ZM468.2,177.4L473.7,183.4L470.5,183.0L468.5,185.5ZM492.3,174.4L499.1,178.9L495.9,179.3L494.6,182.2ZM596.5,189.7L600.4,191.0L598.8,191.7L598.4,193.3ZM628.0,186.0L632.1,189.2L630.0,189.4L628.8,191.2ZM168.5,194.4L167.1,202.4L165.4,199.6L162.2,199.5ZM195.8,191.4L196.7,199.4L194.3,197.3L191.2,198.1ZM269.2,209.9L261.8,212.2L263.4,209.6L262.1,206.9ZM302.3,205.2L295.6,209.7L296.4,206.6L294.2,204.2ZM336.7,225.5L329.1,222.7L332.0,221.6L332.7,218.4ZM364.5,232.2L357.9,227.5L361.1,227.1L362.5,224.3ZM397.4,227.0L390.1,223.4L393.2,222.6L394.2,219.5ZM427.5,222.5L419.9,219.7L422.9,218.5L423.5,215.4ZM453.0,212.2L447.2,212.6L448.8,210.9L448.4,208.6ZM491.6,193.8L498.9,197.3L495.8,198.2L494.8,201.2ZM518.6,194.5L526.3,196.8L523.4,198.2L522.9,201.3ZM558.3,201.2L565.3,203.1L562.7,204.4L562.3,207.2ZM594.2,207.0L598.8,206.7L597.4,208.0L597.7,209.9ZM156.9,212.3L160.8,218.1L158.1,217.4L156.0,219.2ZM187.7,209.3L192.2,216.1L189.1,215.2L186.7,217.4ZM219.9,212.3L223.8,218.1L221.1,217.4L219.0,219.2ZM250.7,212.3L254.9,218.0L252.2,217.4L250.2,219.3ZM296.6,209.8L294.5,217.6L293.1,214.8L289.9,214.4ZM319.4,212.9L320.7,219.5L318.6,217.8L316.0,218.7ZM354.1,236.8L349.2,231.8L352.0,232.0L353.7,229.9ZM388.5,238.2L382.2,233.3L385.4,233.1L387.0,230.4ZM424.5,236.8L417.0,233.6L420.1,232.7L420.9,229.6ZM456.7,236.8L449.2,233.8L452.2,232.8L452.9,229.7ZM485.3,231.6L478.7,230.2L481.1,228.9L481.3,226.2ZM519.4,210.8L527.1,213.2L524.2,214.5L523.7,217.7ZM549.4,207.1L556.9,210.1L553.9,211.2L553.2,214.3ZM592.8,219.0L598.4,220.5L596.3,221.6L595.9,223.9ZM621.3,217.5L628.2,219.1L625.7,220.5L625.5,223.3ZM152.5,226.6L158.5,232.0L155.3,232.0L153.5,234.6ZM187.0,228.1L191.6,233.5L188.7,233.1L186.8,235.2ZM222.2,229.6L224.8,235.2L222.5,234.2L220.3,235.5ZM285.9,224.7L288.7,232.3L285.9,230.8L283.1,232.3ZM317.4,224.7L320.2,232.3L317.4,230.8L314.6,232.3ZM351.9,246.7L348.5,243.7L350.4,243.7L351.5,242.2ZM388.5,250.3L382.5,247.0L385.2,246.4L386.2,243.9ZM423.0,252.6L415.8,248.9L418.8,248.1L419.9,245.1ZM457.5,257.0L450.4,253.1L453.5,252.4L454.6,249.4ZM490.5,254.0L482.9,251.2L485.9,250.0L486.5,246.9ZM552.4,225.9L560.0,228.7L557.0,229.9L556.3,233.0ZM585.3,232.6L593.3,233.6L590.7,235.4L590.7,238.6ZM611.7,231.1L619.8,231.7L617.2,233.6L617.4,236.8ZM184.7,242.6L190.4,248.1L187.3,248.0L185.5,250.5ZM285.9,240.4L288.7,248.0L285.9,246.5L283.1,248.0ZM316.4,239.4L319.6,246.8L316.7,245.5L314.0,247.2ZM341.5,246.2L347.2,250.0L344.5,250.4L343.3,252.8ZM419.3,263.1L413.9,261.0L416.1,260.2L416.7,258.0ZM456.0,266.0L448.2,263.7L451.2,262.3L451.6,259.2ZM490.5,272.0L483.1,268.6L486.2,267.7L487.1,264.7ZM519.7,273.4L512.8,269.2L515.9,268.6L517.2,265.7ZM539.4,267.5L536.4,262.0L538.8,262.9L540.8,261.4ZM558.3,248.3L565.3,250.3L562.7,251.5L562.3,254.4ZM582.4,239.4L589.9,242.5L586.9,243.5L586.1,246.6ZM610.9,234.9L618.2,238.3L615.2,239.2L614.3,242.3ZM187.7,258.1L192.1,264.3L189.1,263.6L186.9,265.7ZM222.2,259.6L225.0,265.8L222.5,264.7L220.1,266.1ZM285.9,252.2L288.7,259.8L285.9,258.3L283.1,259.8ZM316.7,255.9L319.8,263.3L317.0,261.9L314.2,263.6ZM344.5,258.0L349.2,264.1L346.2,263.5L344.1,265.7ZM378.9,264.6L381.5,268.7L379.6,268.1L378.0,269.4ZM490.5,283.3L482.7,281.2L485.5,279.8L485.9,276.6ZM523.4,287.8L515.9,284.7L518.9,283.7L519.7,280.6ZM546.0,293.2L540.6,287.1L543.8,287.5L545.9,285.1ZM286.6,272.0L289.1,279.7L286.3,278.1L283.5,279.5ZM317.4,273.5L320.0,280.6L317.4,279.2L314.8,280.6ZM349.6,276.5L351.5,282.6L349.3,281.3L347.0,282.3ZM387.1,281.7L384.7,286.6L384.1,284.5L382.0,283.7ZM517.5,302.7L510.7,298.3L513.8,297.9L515.2,295.0ZM549.0,313.8L543.4,307.9L546.6,308.2L548.6,305.7ZM219.9,291.4L223.8,297.0L221.1,296.4L219.1,298.2ZM287.4,289.8L289.2,296.9L286.8,295.3L284.1,296.4ZM317.4,289.7L320.0,296.6L317.4,295.2L314.8,296.6ZM354.1,291.3L353.8,298.4L352.0,296.2L349.2,296.5ZM452.3,311.8L446.2,309.3L448.6,308.5L449.3,305.9ZM540.1,323.7L536.5,316.4L539.4,317.6L542.1,315.8ZM576.8,322.2L571.4,316.2L574.5,316.5L576.6,314.1ZM592.0,308.1L595.9,303.8L595.8,306.2L597.7,307.6ZM625.0,310.4L627.6,305.2L628.2,307.5L630.4,308.3ZM182.5,297.2L187.9,303.2L184.8,302.9L182.7,305.3ZM286.9,302.4L289.2,310.2L286.5,308.5L283.6,309.8ZM326.3,298.7L325.9,306.8L323.9,304.3L320.7,304.6ZM357.8,305.3L356.1,313.3L354.5,310.5L351.4,310.3ZM450.8,325.6L445.4,323.8L447.6,322.9L448.1,320.7ZM479.3,325.4L475.3,322.9L477.2,322.6L478.1,320.8ZM572.4,327.4L568.9,323.6L571.0,323.8L572.5,322.2ZM630.4,325.4L630.1,321.1L631.4,322.4L633.2,322.1ZM184.4,321.2L190.3,326.7L187.1,326.6L185.3,329.2ZM219.9,325.2L223.5,329.9L221.2,329.4L219.4,331.1ZM286.9,318.2L289.2,325.9L286.5,324.2L283.6,325.6ZM323.3,310.6L324.2,318.6L321.9,316.5L318.8,317.3ZM353.9,317.2L354.6,325.2L352.3,323.0L349.2,323.7Z" fill="#000" stroke="#000" stroke-width="0.6" stroke-linejoin="miter"/>
</g>
<rect x="82.4" y="75.3" width="567.0" height="252.0" fill="none" stroke="#000" stroke-width="2"/>
<line x1="76.4" y1="327.3" x2="82.4" y2="327.3" stroke="#000" stroke-width="1.8"/>
<line x1="78.9" y1="295.8" x2="82.4" y2="295.8" stroke="#000" stroke-width="1.8"/>
<line x1="76.4" y1="264.3" x2="82.4" y2="264.3" stroke="#000" stroke-width="1.8"/>
<line x1="78.9" y1="232.8" x2="82.4" y2="232.8" stroke="#000" stroke-width="1.8"/>
<line x1="76.4" y1="201.3" x2="82.4" y2="201.3" stroke="#000" stroke-width="1.8"/>
<line x1="78.9" y1="169.8" x2="82.4" y2="169.8" stroke="#000" stroke-width="1.8"/>
<line x1="76.4" y1="138.3" x2="82.4" y2="138.3" stroke="#000" stroke-width="1.8"/>
<line x1="78.9" y1="106.8" x2="82.4" y2="106.8" stroke="#000" stroke-width="1.8"/>
<line x1="76.4" y1="75.3" x2="82.4" y2="75.3" stroke="#000" stroke-width="1.8"/>
<line x1="82.4" y1="327.3" x2="82.4" y2="333.3" stroke="#000" stroke-width="1.8"/>
<line x1="113.9" y1="327.3" x2="113.9" y2="330.8" stroke="#000" stroke-width="1.8"/>
<line x1="145.4" y1="327.3" x2="145.4" y2="333.3" stroke="#000" stroke-width="1.8"/>
<line x1="176.9" y1="327.3" x2="176.9" y2="330.8" stroke="#000" stroke-width="1.8"/>
<line x1="208.4" y1="327.3" x2="208.4" y2="333.3" stroke="#000" stroke-width="1.8"/>
<line x1="239.9" y1="327.3" x2="239.9" y2="330.8" stroke="#000" stroke-width="1.8"/>
<line x1="271.4" y1="327.3" x2="271.4" y2="333.3" stroke="#000" stroke-width="1.8"/>
<line x1="302.9" y1="327.3" x2="302.9" y2="330.8" stroke="#000" stroke-width="1.8"/>
<line x1="334.4" y1="327.3" x2="334.4" y2="333.3" stroke="#000" stroke-width="1.8"/>
<line x1="365.9" y1="327.3" x2="365.9" y2="330.8" stroke="#000" stroke-width="1.8"/>
<line x1="397.4" y1="327.3" x2="397.4" y2="333.3" stroke="#000" stroke-width="1.8"/>
<line x1="428.9" y1="327.3" x2="428.9" y2="330.8" stroke="#000" stroke-width="1.8"/>
<line x1="460.4" y1="327.3" x2="460.4" y2="333.3" stroke="#000" stroke-width="1.8"/>
<line x1="491.9" y1="327.3" x2="491.9" y2="330.8" stroke="#000" stroke-width="1.8"/>
<line x1="523.4" y1="327.3" x2="523.4" y2="333.3" stroke="#000" stroke-width="1.8"/>
<line x1="554.9" y1="327.3" x2="554.9" y2="330.8" stroke="#000" stroke-width="1.8"/>
<line x1="586.4" y1="327.3" x2="586.4" y2="333.3" stroke="#000" stroke-width="1.8"/>
<line x1="617.9" y1="327.3" x2="617.9" y2="330.8" stroke="#000" stroke-width="1.8"/>
<line x1="649.4" y1="327.3" x2="649.4" y2="333.3" stroke="#000" stroke-width="1.8"/>
<text x="66.4" y="85.9" style="font-family:'Liberation Serif',serif;font-size:30.6px;" text-anchor="end" >20°N</text>
<text x="66.4" y="148.9" style="font-family:'Liberation Serif',serif;font-size:30.6px;" text-anchor="end" >10°N</text>
<text x="66.4" y="211.9" style="font-family:'Liberation Serif',serif;font-size:30.6px;" text-anchor="end" >EQ</text>
<text x="66.4" y="274.9" style="font-family:'Liberation Serif',serif;font-size:30.6px;" text-anchor="end" >10°S</text>
<text x="66.4" y="337.9" style="font-family:'Liberation Serif',serif;font-size:30.6px;" text-anchor="end" >20°S</text>
<text x="145.7" y="370.9" style="font-family:'Liberation Serif',serif;font-size:30.8px;" text-anchor="middle" >60°W</text>
<text x="271.7" y="370.9" style="font-family:'Liberation Serif',serif;font-size:30.8px;" text-anchor="middle" >40°W</text>
<text x="397.7" y="370.9" style="font-family:'Liberation Serif',serif;font-size:30.8px;" text-anchor="middle" >20°W</text>
<text x="523.7" y="370.9" style="font-family:'Liberation Serif',serif;font-size:30.8px;" text-anchor="middle" >0°</text>
<text x="649.7" y="370.9" style="font-family:'Liberation Serif',serif;font-size:30.8px;" text-anchor="middle" >20°E</text>
<clipPath id="clipb"><rect x="751.3" y="75.3" width="567.0" height="252.0"/></clipPath>
<g clip-path="url(#clipb)">
<path d="M740.3,339.9 984.5,339.9 977.7,332 971.8,327.6 952.9,323.8 937.1,318.4 848.5,278.5 836.3,271.6 826.9,265.1 818.5,258 811.1,250.1 804.6,240.7 799.2,229.6 795.6,217.1 793.9,204.4 793.8,190.3 796.3,154.1 793.7,125.7 795.7,119.4 798.5,116.6 801.7,115.1 808,114.3 815.9,114.8 820.6,115.7 825.3,117.8 829.5,122.5 833.2,135.2 837,141.4 841.3,144.6 853.7,150.1 866.3,158.8 872.6,161.2 878.9,161.6 885,160.3 889.9,157.4 899.3,149.5 904.1,147.9 908.8,147.4 913.8,147.8 918.2,149.2 929.3,158.3 937.1,161.3 943.4,161.7 949.8,160.9 970.2,154.3 976.5,155.1 981.2,157.9 986.4,165.1 989.5,174.5 991.1,190.3 991.1,213.9 992.5,220.2 996,226.5 1000.1,230.5 1005.9,234.4 1034.8,248.7 1049,261.3 1055.3,266 1071.9,273.8 1079.7,278.5 1087.7,284.8 1094.1,291.1 1098.8,297.4 1101.1,302.1 1101.7,305.2 1101.2,308.4 1097.8,311.2 1071,310.8 1064.7,312.2 1060,314.6 1056.8,317.2 1053.7,321.1 1044.4,339.9 1330.9,339.9 1330.9,150.2 1321.4,148 1310.4,146.5 1282.1,146.5 1272.6,145.4 1264.8,142.2 1247.4,130.9 1239.5,126.9 1230.1,123.6 1219.1,122.1 1209.6,122.5 1200.2,124.3 1162.4,137.9 1145,141.8 1130.9,142.7 1097.8,142.7 1083.6,141.9 1066.3,145.4 1052.1,145 1033.2,146.7 1022.2,145.7 1004.9,138.8 1003.2,136.7 1003.8,125.7 1002.5,122.5 990.7,117 982.8,114.8 973.4,114.7 965.5,116.3 959.7,119.4 949.3,127.3 941.9,130.1 924.5,132 908.8,130.4 902.6,128.8 898.8,125.7 898,121 899.8,117.8 902.5,115.9 911.9,112.6 916.5,109.9 920.2,105.2 924.7,94.2 928.4,89.5 934,85.5 943.4,81.4 948.5,78.5 960.8,66 965.3,62.7 738.7,62.7 738.7,339.9 740.3,339.9ZM1060,128.9 1066.3,129.9 1069.4,129.5 1072.6,128 1074.5,125.7 1075.3,122.5 1073.7,117.8 1071,115.8 1066.3,114.7 1061.6,114.9 1058,116.2 1055.4,119.4 1055,122.5 1056.8,126.7 1060,128.9ZM1060,97.7 1064.7,98.3 1071,97.8 1074.2,96.7 1077.5,94.2 1080,89.5 1080.2,84.8 1078.9,81 1075.8,77.4 1071,75.3 1063.1,75.4 1058.4,77.1 1055.4,80 1053.1,84.8 1053.2,91 1056.2,95.8 1060,97.7ZM997,89.6 1001.7,90.9 1004.9,90.6 1009.6,88.7 1014.3,84.8 1018.5,76.9 1021.6,62.7 979,62.7 981.2,64.6 984.2,69 990.7,84 993.8,87.5 997,89.6Z" fill="#f6edc9" stroke="#f6edc9" stroke-width="0.6" fill-rule="evenodd"/>
<path d="M740.3,339.9 779.7,339.9 759.2,325.6 738.7,307.7 738.7,339.9 740.3,339.9ZM1143.5,339.9 1330.9,339.9 1330.9,166.6 1318.3,162.3 1304.1,160.5 1291.5,161.4 1271,165.3 1263.2,164.9 1256.9,161.5 1244.4,147.8 1236.4,141.4 1231.7,138.9 1225.4,136.9 1214.3,135.9 1203.3,137.7 1170.2,148.9 1151.3,153 1132.4,153.7 1097.8,150.2 1061.6,154.9 1053,157.2 1045.5,160.3 1040.8,163.5 1034.2,169.8 1023.8,174.5 1019.3,177.7 1016.7,180.8 1014.3,185.6 1012.6,191.8 1011.9,198.1 1012.3,210.8 1014.1,215.5 1016.1,218.6 1022.7,224.9 1041.1,237.1 1064.7,255.4 1071,259 1104.1,275 1117.2,283.2 1122.9,287.9 1129.5,295.8 1141.7,306.8 1146.4,314.7 1147.4,319.4 1147.4,324.1 1145.7,332 1142.2,339.9 1143.5,339.9ZM740.3,177.9 745,178.3 749.7,177.2 759.2,171.8 767,164.1 770.8,158.8 774.2,152.5 777.4,141.4 777.6,130.4 774.1,117.8 771.8,114 768.6,111.4 765.5,110.4 762.3,110.7 756,114.4 753.2,117.8 750.8,122.5 742.9,133.6 738.7,141 738.7,177.2 740.3,177.9ZM867.8,99 880.4,98.6 889.5,95.8 893.4,92.6 900.8,81.6 905.6,77.2 915.1,71.7 929.3,65.7 933.6,62.7 826.2,62.7 831.9,78.5 834.7,83.2 837.7,86.3 842.6,89.5 856.8,96.1 863.1,98.2 867.8,99Z" fill="#edc963" stroke="#edc963" stroke-width="0.6" fill-rule="evenodd"/>
<path d="M1175,339.9 1330.9,339.9 1330.9,182.9 1324.6,178.7 1316.7,174.9 1310.1,172.9 1302.5,171.9 1289.9,172.7 1266.3,179.1 1260,179.2 1255.3,178.3 1250.3,176.1 1245.8,172.8 1242.7,168.6 1237.3,158.8 1231.7,152.8 1223.8,148.9 1215.9,148 1206.5,149.4 1181.3,157 1156.1,162.1 1135.6,162.8 1115.1,160.5 1104.1,160.1 1099.4,160.5 1085.2,164.3 1071,163.5 1064.7,164.1 1060,165.8 1055.3,168.7 1033.2,187.1 1030.1,191 1028.1,195 1026.9,202.9 1028,207.6 1029.5,210.8 1036.4,218.4 1060.9,237.5 1066.3,241 1093.1,254.9 1112,262.9 1137.7,276.9 1153.7,287.9 1169.4,303.7 1174.1,310 1176.9,317.8 1177.1,324.1 1175,339.9Z" fill="#eeb63c" stroke="#eeb63c" stroke-width="0.6" fill-rule="evenodd"/>
<path d="M1208,339.9 1330.9,339.9 1330.9,204.8 1325.4,196.6 1319.9,190.6 1315.2,186.9 1310,184 1304.1,181.9 1297.8,180.8 1288.4,181.4 1266.3,187.1 1258.4,187.2 1250.6,185.7 1230.1,178.9 1229,177.7 1229.7,169.8 1228.2,165.1 1223.8,161.2 1217.5,159.8 1211.2,160.4 1192.3,165.1 1159.2,169.9 1140.3,170.4 1118.3,168.3 1110.4,168.9 1105.7,170.7 1102.5,172.8 1093.1,182.9 1088.3,185.7 1082,186.7 1071,185 1063.1,185.8 1056.8,188.6 1051.1,193.4 1048.2,198.1 1047.9,202.9 1050.5,207.6 1055.3,211.9 1066.3,217.3 1074.7,223.3 1080.7,226.5 1097.3,232.8 1107.2,238 1119.8,241.8 1124.2,243.8 1153.7,269 1171.8,277.7 1183,286.3 1201,303.7 1208.1,313.1 1209.6,319.4 1207.9,333.6 1208,339.9Z" fill="#efa62d" stroke="#efa62d" stroke-width="0.6" fill-rule="evenodd"/>
<path d="M1269.5,339.2 1270.8,339.9 1302.3,339.9 1308.8,335.2 1314.4,328.9 1318.9,321 1322.2,311.6 1324.7,297.4 1326.2,276.9 1326.6,259.6 1325.6,243.8 1322.8,228.1 1318.2,212.3 1314.1,202.9 1308.3,195 1301,190 1293.1,188 1286.8,188.3 1271,192 1260,192.6 1252.1,191.8 1234.8,187 1223.8,186.9 1218.6,184 1212.8,177.5 1209.6,175.2 1201.8,173.4 1182.8,173.8 1163.9,176.5 1154.5,177.1 1138.8,176.8 1123,174.8 1116.7,174.7 1110.4,176.3 1104.2,180.8 1095.7,193.4 1092.9,201.3 1092.5,206 1093,209.2 1095.2,213.9 1097.8,217.1 1102.5,220.7 1108.8,223.8 1115.1,225.6 1127.7,227.4 1134,229 1164.6,240.7 1170.6,243.8 1174.5,247 1183.1,256.4 1193.9,265.8 1200.2,272.4 1208,282.4 1216.6,295.8 1220.6,300.5 1233.2,312.2 1238,315.8 1242.7,317.7 1252.1,319.5 1253.8,321 1255.9,327.3 1258.1,330.4 1263.3,335.2 1269.5,339.2Z" fill="#f38a27" stroke="#f38a27" stroke-width="0.6" fill-rule="evenodd"/>
<path d="M1283.7,319.5 1289.9,319.3 1294.7,317.5 1299.4,313.5 1302.5,308.7 1305.1,302.1 1306.6,295.8 1310.2,269 1311,251.7 1309.2,234.4 1302,204.4 1299.6,199.7 1296.6,196.6 1293.1,194.7 1288.4,193.9 1271,196.3 1252.1,196.2 1234.8,191.2 1220.6,189.4 1203.3,182.5 1192.3,180.7 1184.4,180.8 1167.1,183.2 1157.6,183.7 1138.8,182.7 1123,180.3 1118.3,180.2 1110.4,182.6 1105.4,187.1 1101.5,195 1101,201.3 1102.7,207.6 1107.2,213.2 1112,215.8 1118.3,217.8 1149.8,223.4 1167.1,228 1184.4,230.3 1191.9,232.8 1203.4,243.8 1208.5,250.1 1223.6,280.1 1227.9,291.1 1231.1,295.8 1236.8,302.1 1240.7,305.2 1244.3,307 1256.9,309.4 1274.2,316.8 1283.7,319.5Z" fill="#f46c20" stroke="#f46c20" stroke-width="0.6" fill-rule="evenodd"/>
<path d="M1263.2,305.6 1271,306.5 1285.2,306.2 1291.5,300.5 1293.7,295.8 1297.5,264.3 1298.1,245.4 1297.3,235.9 1295.3,224.9 1291.1,212.3 1291.6,202.9 1289.9,200.2 1288.4,199.3 1285.2,198.9 1271,199.7 1250.6,199.6 1230.1,193.9 1212.8,191.8 1200.2,191.4 1197.3,191.8 1195.9,193.4 1195.9,199.7 1193.9,203.8 1189.1,207.7 1186,208.8 1184.4,207.9 1183,204.4 1182.7,199.7 1184.3,193.4 1182.8,191.6 1149.8,189.7 1121.4,185.7 1113.5,187.6 1109.5,190.3 1106.9,196.6 1107.6,201.3 1109.2,204.4 1111.9,207.6 1118.3,210.9 1123,212.5 1135.6,214.4 1151.3,214 1167.1,216.9 1184.4,214.4 1201.8,227.7 1214.9,235.9 1223.8,244 1230.5,272.2 1235.2,283.2 1244.2,297.4 1247.4,300.4 1250.6,302.1 1254.6,303.7 1263.2,305.6Z" fill="#f6521b" stroke="#f6521b" stroke-width="0.6" fill-rule="evenodd"/>
<path d="M1263.2,299.1 1267.9,299.9 1280.5,299.8 1283.7,298.3 1287.3,294.2 1285.9,291.1 1287.2,289.5 1285.6,286.3 1287.1,283.2 1285.6,281.6 1287.4,278.5 1285.7,276.9 1285.6,275.3 1287.3,273.8 1285.4,270.6 1287.2,267.4 1285.4,265.9 1287.4,262.7 1285.5,261.1 1285.7,259.6 1287.2,258 1285.6,254.8 1287,251.7 1285.7,250.1 1287,247 1286.1,245.4 1287,234.4 1286.3,231.2 1287.4,229.6 1286.2,226.5 1287.4,224.9 1286.5,221.8 1287.4,218.6 1284.6,215.5 1283.1,206 1282.3,204.4 1280.5,203.4 1275.8,202.7 1249,202.6 1228.5,198.1 1212.8,198.4 1203.3,202.3 1200.2,205.5 1197.9,209.2 1198.6,213.4 1201.8,217 1212.8,223.4 1223.1,228.1 1226.9,229.7 1234.8,230.1 1238.3,232.8 1239.6,235.9 1239.6,251.7 1240.7,265.9 1243.7,278.5 1252.4,291.1 1258.4,296.9 1263.2,299.1ZM1127.7,207.7 1134,207.7 1139,206 1143.1,202.9 1144.1,201.3 1143.2,198.1 1140,195 1134,192.6 1126.1,192.5 1121.4,194.2 1118.3,197.4 1118.2,201.3 1121.4,205.3 1127.7,207.7ZM1154.5,204.6 1163.9,205.3 1166.1,204.4 1167.2,202.9 1167.3,201.3 1166.6,199.7 1163.9,197.9 1155.1,198.1 1151.7,199.7 1150.5,201.3 1151.5,202.9 1154.5,204.6Z" fill="#f63a16" stroke="#f63a16" stroke-width="0.6" fill-rule="evenodd"/>
<path d="M1267.9,294.2 1278.9,294.1 1280.1,292.6 1280.1,289.5 1270.8,259.6 1268.8,231.2 1267.9,229.6 1266.3,228.5 1258.4,226.8 1256.9,231.1 1255.4,242.2 1255.4,251.7 1257.4,278.5 1258.4,281.6 1262.5,289.5 1265,292.6 1267.9,294.2ZM1256.9,225.5 1258.4,224.9 1260.3,221.8 1263.1,220.2 1269.5,220.5 1274.2,222.9 1275.8,222.9 1278.5,221.8 1279.6,220.2 1274.8,210.8 1273.1,209.2 1271,208.4 1264.8,207.6 1242.7,207.3 1240.4,207.6 1238.2,209.2 1238.5,212.3 1242.3,217.1 1249,221.8 1256.9,225.5Z" fill="#f32d14" stroke="#f32d14" stroke-width="0.6" fill-rule="evenodd"/>
<path d="M1324.6,130.6 1330.9,131.9 1330.9,62.7 1100.7,62.7 1103.8,73.7 1104.4,84.8 1103,94.2 1098.1,111.5 1097.4,119.4 1097.8,122.6 1099.2,125.7 1102.5,128 1107.2,128.6 1115.1,128.2 1141.9,125.2 1157.5,121 1192.3,108.5 1204.9,105.9 1217.5,105.1 1228.5,106.1 1241.1,109 1271,121.1 1282.1,124.5 1324.6,130.6Z" fill="#d9f4fc" stroke="#d9f4fc" stroke-width="0.6" fill-rule="evenodd"/>
<path d="M1330.9,110.2 1330.9,62.7 1138.8,62.7 1143.1,72.1 1146.6,77.2 1151.3,81.1 1157.6,83.5 1168.7,84.4 1206.5,82.3 1228.5,84.1 1249,88.7 1289.9,101.5 1330.9,110.2Z" fill="#a3e4fc" stroke="#a3e4fc" stroke-width="0.6" fill-rule="evenodd"/>
<path d="M1329.3,83.6 1330.9,84 1330.9,62.7 1259.1,62.7 1294.7,74.1 1329.3,83.6Z" fill="#7fcff8" stroke="#7fcff8" stroke-width="0.6" fill-rule="evenodd"/>
<clipPath id="hb"><path d="M778.1,338.9 779.7,339.9 1142.2,339.9 1145.2,333.6 1147.2,325.7 1147.4,319.4 1146.4,314.7 1141.7,306.8 1129.5,295.8 1122.9,287.9 1117.2,283.2 1104.1,275 1071,259 1064.7,255.4 1041.1,237.1 1022.7,224.9 1016.1,218.6 1014.1,215.5 1012.3,210.8 1011.8,199.7 1013.8,187.1 1017.9,179.2 1023.7,174.5 1034.8,169.4 1040.8,163.5 1044.2,161 1052.1,157.5 1060,155.3 1097.8,150.2 1132.4,153.7 1151.3,153 1170.2,148.9 1203.3,137.7 1214.3,135.9 1225.4,136.9 1231.7,138.9 1236.4,141.4 1244.4,147.8 1256.9,161.5 1263.2,164.9 1271,165.3 1291.5,161.4 1304.1,160.5 1318.3,162.3 1330.9,166.6 1330.9,110.2 1289.9,101.5 1249,88.7 1228.5,84.1 1206.5,82.3 1168.7,84.4 1157.6,83.5 1151.3,81.1 1146.6,77.2 1143.1,72.1 1138.8,62.7 933.6,62.7 929.3,65.7 915.1,71.7 905.6,77.2 900.8,81.6 893.4,92.6 889.5,95.8 882,98.3 872.6,99.1 864.7,98.6 858.4,96.8 844.2,90.3 837.9,86.5 834.7,83.2 831.9,78.5 826.2,62.7 738.7,62.7 738.7,141 754.4,116 759.2,112 763.9,110.4 768.6,111.4 771.8,114 773.3,116.3 776.7,125.7 777.9,135.2 777.1,143 774.8,150.9 770.2,159.8 765.5,166 759.2,171.8 751.3,176.6 745,178.3 738.7,177.2 738.7,307.7 757.3,324.1 778.1,338.9Z" clip-rule="evenodd"/></clipPath><path d="M751.3,84.7L1318.3,-269.7M751.3,100.0L1318.3,-254.4M751.3,115.3L1318.3,-239.1M751.3,130.6L1318.3,-223.8M751.3,145.9L1318.3,-208.5M751.3,161.2L1318.3,-193.2M751.3,176.5L1318.3,-177.9M751.3,191.8L1318.3,-162.6M751.3,207.1L1318.3,-147.3M751.3,222.4L1318.3,-132.0M751.3,237.7L1318.3,-116.7M751.3,253.0L1318.3,-101.4M751.3,268.3L1318.3,-86.1M751.3,283.6L1318.3,-70.8M751.3,298.9L1318.3,-55.5M751.3,314.2L1318.3,-40.2M751.3,329.5L1318.3,-24.9M751.3,344.8L1318.3,-9.6M751.3,360.1L1318.3,5.7M751.3,375.4L1318.3,21.0M751.3,390.7L1318.3,36.3M751.3,406.0L1318.3,51.6M751.3,421.3L1318.3,66.9M751.3,436.6L1318.3,82.2M751.3,451.9L1318.3,97.5M751.3,467.2L1318.3,112.8M751.3,482.5L1318.3,128.1M751.3,497.8L1318.3,143.4M751.3,513.1L1318.3,158.7M751.3,528.4L1318.3,174.0M751.3,543.7L1318.3,189.3M751.3,559.0L1318.3,204.6M751.3,574.3L1318.3,219.9M751.3,589.6L1318.3,235.2M751.3,604.9L1318.3,250.5M751.3,620.2L1318.3,265.8M751.3,635.5L1318.3,281.1M751.3,650.8L1318.3,296.4M751.3,666.1L1318.3,311.7M751.3,681.4L1318.3,327.0M751.3,696.7L1318.3,342.3" stroke="#eba4f6" stroke-width="1.0" fill="none" clip-path="url(#hb)"/>
<line x1="751.3" y1="201.3" x2="1318.3" y2="201.3" stroke="#8d6ae6" stroke-width="2.6"/>
<path d="M1250.3,200.7C1243.3,200.2 1248.6,199.3 1245.2,198.1C1241.9,197.0 1235.2,194.8 1230.1,193.7C1225.0,192.7 1219.6,192.3 1214.3,191.8C1209.1,191.4 1203.7,191.3 1198.6,191.2C1193.5,191.1 1188.6,191.3 1183.5,191.2C1178.3,191.1 1173.0,190.8 1167.7,190.6C1162.5,190.4 1157.1,190.4 1152.0,190.0C1146.8,189.5 1142.0,188.8 1136.9,188.1C1131.7,187.3 1125.5,185.4 1121.1,185.6C1116.7,185.7 1112.8,186.8 1110.4,188.7C1108.0,190.6 1106.9,194.5 1106.6,196.9C1106.3,199.3 1107.7,201.4 1108.5,203.2C1109.3,205.0 1109.6,206.1 1111.7,207.6C1113.8,209.1 1116.9,210.9 1121.1,212.0C1125.3,213.2 1131.7,214.2 1136.9,214.5C1142.0,214.8 1146.8,213.5 1152.0,213.9C1157.1,214.3 1163.0,216.8 1167.7,217.1C1172.5,217.3 1176.7,214.9 1180.3,215.2C1184.0,215.4 1186.2,216.2 1189.8,218.3C1193.3,220.4 1197.7,224.9 1201.8,227.8C1205.8,230.6 1210.7,232.7 1214.3,235.3C1218.0,237.9 1221.7,240.0 1223.8,243.5C1225.9,247.0 1225.9,251.5 1226.9,256.1C1228.0,260.7 1228.8,266.9 1230.1,271.2C1231.4,275.5 1232.9,278.8 1234.5,281.9C1236.1,285.1 1237.7,287.2 1239.5,290.1C1241.4,293.1 1243.3,297.3 1245.8,299.6C1248.4,301.9 1251.6,302.9 1254.7,304.0C1257.7,305.0 1261.4,305.5 1264.1,305.9C1266.8,306.3 1267.3,306.4 1271.0,306.5C1274.8,306.6 1284.2,324.1 1286.8,306.5C1289.4,288.9 1292.9,218.3 1286.8,200.7C1280.7,183.0 1257.2,201.1 1250.3,200.7Z" fill="none" stroke="#50d8fc" stroke-width="3"/>
<path d="M1247.1,201.3C1237.7,200.8 1235.8,198.7 1230.1,198.1C1224.4,197.6 1217.8,197.3 1213.1,198.1C1208.4,199.0 1204.4,201.4 1201.8,203.2C1199.1,205.0 1197.3,206.6 1197.3,208.9C1197.3,211.2 1198.9,214.4 1201.8,217.1C1204.6,219.7 1210.1,222.4 1214.3,224.6C1218.5,226.8 1223.6,229.4 1226.9,230.3C1230.3,231.1 1232.4,229.0 1234.5,229.6C1236.6,230.3 1238.7,230.5 1239.5,234.1C1240.4,237.6 1239.3,245.6 1239.5,251.1C1239.8,256.5 1240.1,262.1 1240.8,266.8C1241.5,271.5 1242.2,275.5 1244.0,279.4C1245.7,283.3 1248.9,287.1 1251.5,290.1C1254.1,293.2 1257.3,296.1 1259.7,297.7C1262.1,299.3 1261.5,299.3 1266.0,299.6C1270.5,299.9 1283.3,316.0 1286.8,299.6C1290.3,283.2 1293.4,217.7 1286.8,201.3C1280.2,184.9 1256.6,201.8 1247.1,201.3Z" fill="none" stroke="#50d8fc" stroke-width="3"/>
<path d="M1261.0,219.6C1256.2,220.5 1259.2,223.2 1258.4,225.2C1257.7,227.2 1257.1,229.2 1256.6,231.5C1256.0,233.9 1255.5,235.8 1255.3,239.1C1255.1,242.4 1255.1,246.4 1255.3,251.1C1255.5,255.7 1256.1,261.9 1256.6,266.8C1257.0,271.8 1256.8,276.8 1257.8,280.7C1258.9,284.6 1261.3,287.8 1262.9,290.1C1264.4,292.4 1263.3,293.8 1267.3,294.5C1271.3,295.3 1283.5,307.0 1286.8,294.5C1290.1,282.0 1291.1,232.1 1286.8,219.6C1282.5,207.1 1265.7,218.6 1261.0,219.6Z" fill="none" stroke="#50d8fc" stroke-width="3"/>
<path d="M1143.2,200.0C1143.2,198.4 1142.2,196.5 1140.8,195.2C1139.3,193.9 1136.8,192.7 1134.5,192.3C1132.1,191.8 1129.0,191.8 1126.7,192.3C1124.3,192.7 1121.8,193.9 1120.4,195.2C1118.9,196.5 1118.0,198.4 1118.0,200.0C1118.0,201.6 1118.9,203.6 1120.4,204.9C1121.8,206.2 1124.3,207.3 1126.7,207.8C1129.0,208.3 1132.1,208.3 1134.5,207.8C1136.8,207.3 1139.3,206.2 1140.8,204.9C1142.2,203.6 1143.2,201.6 1143.2,200.0Z" fill="none" stroke="#50d8fc" stroke-width="3"/>
<path d="M1155.1,205.1C1153.6,203.8 1154.8,198.8 1156.4,197.5C1158.0,196.3 1163.0,196.3 1164.6,197.5C1166.2,198.8 1167.4,203.8 1165.8,205.1C1164.3,206.3 1156.7,206.3 1155.1,205.1Z" fill="none" stroke="#50d8fc" stroke-width="3"/>
<path d="M719.8,122.5L741.8,123.2L750.0,125.7L751.3,128.8L757.6,130.1L761.4,133.9L772.1,134.5L780.3,137.0L787.8,135.2L791.0,133.9L799.2,135.2L804.2,138.3L806.7,140.8L809.9,144.6L814.3,147.8L819.3,151.5L822.5,155.3L824.4,159.1L830.0,162.2L833.2,163.5L842.6,164.1L849.6,164.1L858.4,166.6L863.4,170.4L867.2,174.2L869.7,178.6L872.3,184.9L874.1,189.3L876.0,195.0L877.3,199.4L881.1,202.6L886.8,204.4L889.9,205.7L894.9,205.7L899.3,207.6L906.3,210.1L910.1,212.0L911.9,217.7L915.1,217.1L918.9,216.4L927.7,218.3L934.0,219.6L942.2,220.8L947.9,224.0L951.0,227.1L957.3,230.9L963.6,232.8L969.3,233.4L971.2,237.8L972.7,245.4L972.7,250.4L971.8,255.5L969.9,259.3L966.1,264.3L961.7,268.1L957.9,272.5L954.8,276.9L951.0,281.3L947.2,284.5L946.6,289.5L946.6,295.8L946.6,302.1L945.3,310.3L942.2,316.6L941.6,324.1L938.4,329.8L934.0,336.8L927.7,346.2L814.3,390.3L688.3,390.3L688.3,122.5Z" fill="#d0d0d0" stroke="#000" stroke-width="0.9" stroke-linejoin="round"/>
<path d="M1083.9,56.4L1085.2,69.0L1089.6,75.3L1090.9,81.6L1089.6,87.9L1088.3,96.7L1085.8,103.0L1082.7,108.1L1084.6,110.6L1086.5,115.6L1086.5,119.4L1087.1,123.2L1090.2,127.0L1094.6,130.1L1097.8,132.6L1100.3,136.4L1104.1,139.6L1108.5,143.3L1109.1,147.1L1112.9,152.2L1116.7,155.3L1121.1,158.5L1126.1,162.2L1132.4,167.9L1138.1,171.7L1144.4,173.9L1148.2,172.9L1154.5,171.1L1160.8,169.2L1167.1,168.5L1173.4,169.2L1179.7,171.1L1186.0,168.5L1192.3,165.4L1198.6,162.9L1204.9,161.3L1211.2,161.0L1217.5,161.6L1220.6,162.9L1223.8,165.4L1225.7,169.2L1228.8,172.9L1232.6,173.9L1237.7,173.3L1242.7,172.3L1246.5,173.6L1249.0,176.7L1252.8,179.9L1254.7,183.7L1254.0,187.4L1253.4,191.8L1252.1,195.6L1250.9,199.4L1250.3,203.2L1247.7,206.3L1250.3,209.5L1253.4,213.9L1257.2,218.9L1261.6,224.0L1265.4,228.4L1268.5,232.8L1269.8,237.8L1271.7,241.0L1273.6,246.7L1274.8,253.0L1276.1,257.4L1275.5,261.1L1278.0,266.2L1279.2,270.6L1278.0,275.6L1274.8,280.7L1271.7,285.1L1269.8,289.5L1268.5,294.5L1267.3,300.8L1266.6,307.1L1266.6,311.6L1267.9,316.6L1271.0,321.0L1274.2,327.3L1277.3,333.6L1280.5,346.2L1381.3,346.2L1381.3,56.4Z" fill="#d0d0d0" stroke="#000" stroke-width="0.9" stroke-linejoin="round"/>
<path d="M768.5,85.4L769.1,88.0L770.8,88.9L778.6,88.0L780.9,87.1L780.3,85.9L777.4,85.1L770.3,85.1Z" fill="none" stroke="#000" stroke-width="1.1"/>
<path d="M748.1,79.7L752.6,81.2L754.8,80.0L756.7,80.7L760.1,82.4L761.7,84.1L762.0,86.3L758.9,87.3L755.1,86.3L752.6,85.7L748.1,86.0Z" fill="none" stroke="#000" stroke-width="1.1"/>
<path d="M802.3,133.3L808.3,132.9L808.0,137.7L802.3,138.0Z" fill="none" stroke="#000" stroke-width="1.1"/>
<circle cx="783.4" cy="85.1" r="1.2" fill="#000"/>
<circle cx="784.7" cy="85.7" r="1.2" fill="#000"/>
<circle cx="792.9" cy="89.8" r="1.2" fill="#000"/>
<circle cx="796.3" cy="88.5" r="1.2" fill="#000"/>
<circle cx="796.9" cy="91.3" r="1.2" fill="#000"/>
<circle cx="799.8" cy="88.9" r="1.2" fill="#000"/>
<circle cx="804.2" cy="92.5" r="1.2" fill="#000"/>
<circle cx="804.8" cy="99.0" r="1.2" fill="#000"/>
<circle cx="806.4" cy="104.3" r="1.2" fill="#000"/>
<circle cx="808.8" cy="110.3" r="1.2" fill="#000"/>
<circle cx="808.2" cy="113.7" r="1.2" fill="#000"/>
<circle cx="807.0" cy="118.0" r="1.2" fill="#000"/>
<circle cx="805.8" cy="122.7" r="1.2" fill="#000"/>
<circle cx="809.9" cy="123.3" r="1.2" fill="#000"/>
<circle cx="817.7" cy="114.4" r="1.2" fill="#000"/>
<circle cx="757.6" cy="124.8" r="1.2" fill="#000"/>
<circle cx="758.9" cy="125.4" r="1.2" fill="#000"/>
<circle cx="780.9" cy="132.6" r="1.2" fill="#000"/>
<circle cx="787.8" cy="132.0" r="1.2" fill="#000"/>
<circle cx="791.6" cy="132.2" r="1.2" fill="#000"/>
<circle cx="1041.1" cy="96.7" r="1.2" fill="#000"/>
<circle cx="1044.2" cy="106.2" r="1.2" fill="#000"/>
<circle cx="1048.0" cy="99.9" r="1.2" fill="#000"/>
<circle cx="1038.6" cy="107.4" r="1.2" fill="#000"/>
<circle cx="1034.8" cy="94.2" r="1.2" fill="#000"/>
<circle cx="1048.7" cy="96.1" r="1.2" fill="#000"/>
<circle cx="1042.4" cy="103.6" r="1.2" fill="#000"/>
<circle cx="1247.1" cy="179.2" r="1.2" fill="#000"/>
<circle cx="1233.9" cy="199.4" r="1.2" fill="#000"/>
<circle cx="1238.9" cy="191.2" r="1.2" fill="#000"/>
<clipPath id="Lb"><path d="M719.8,122.5L741.8,123.2L750.0,125.7L751.3,128.8L757.6,130.1L761.4,133.9L772.1,134.5L780.3,137.0L787.8,135.2L791.0,133.9L799.2,135.2L804.2,138.3L806.7,140.8L809.9,144.6L814.3,147.8L819.3,151.5L822.5,155.3L824.4,159.1L830.0,162.2L833.2,163.5L842.6,164.1L849.6,164.1L858.4,166.6L863.4,170.4L867.2,174.2L869.7,178.6L872.3,184.9L874.1,189.3L876.0,195.0L877.3,199.4L881.1,202.6L886.8,204.4L889.9,205.7L894.9,205.7L899.3,207.6L906.3,210.1L910.1,212.0L911.9,217.7L915.1,217.1L918.9,216.4L927.7,218.3L934.0,219.6L942.2,220.8L947.9,224.0L951.0,227.1L957.3,230.9L963.6,232.8L969.3,233.4L971.2,237.8L972.7,245.4L972.7,250.4L971.8,255.5L969.9,259.3L966.1,264.3L961.7,268.1L957.9,272.5L954.8,276.9L951.0,281.3L947.2,284.5L946.6,289.5L946.6,295.8L946.6,302.1L945.3,310.3L942.2,316.6L941.6,324.1L938.4,329.8L934.0,336.8L927.7,346.2L814.3,390.3L688.3,390.3L688.3,122.5ZM1083.9,56.4L1085.2,69.0L1089.6,75.3L1090.9,81.6L1089.6,87.9L1088.3,96.7L1085.8,103.0L1082.7,108.1L1084.6,110.6L1086.5,115.6L1086.5,119.4L1087.1,123.2L1090.2,127.0L1094.6,130.1L1097.8,132.6L1100.3,136.4L1104.1,139.6L1108.5,143.3L1109.1,147.1L1112.9,152.2L1116.7,155.3L1121.1,158.5L1126.1,162.2L1132.4,167.9L1138.1,171.7L1144.4,173.9L1148.2,172.9L1154.5,171.1L1160.8,169.2L1167.1,168.5L1173.4,169.2L1179.7,171.1L1186.0,168.5L1192.3,165.4L1198.6,162.9L1204.9,161.3L1211.2,161.0L1217.5,161.6L1220.6,162.9L1223.8,165.4L1225.7,169.2L1228.8,172.9L1232.6,173.9L1237.7,173.3L1242.7,172.3L1246.5,173.6L1249.0,176.7L1252.8,179.9L1254.7,183.7L1254.0,187.4L1253.4,191.8L1252.1,195.6L1250.9,199.4L1250.3,203.2L1247.7,206.3L1250.3,209.5L1253.4,213.9L1257.2,218.9L1261.6,224.0L1265.4,228.4L1268.5,232.8L1269.8,237.8L1271.7,241.0L1273.6,246.7L1274.8,253.0L1276.1,257.4L1275.5,261.1L1278.0,266.2L1279.2,270.6L1278.0,275.6L1274.8,280.7L1271.7,285.1L1269.8,289.5L1268.5,294.5L1267.3,300.8L1266.6,307.1L1266.6,311.6L1267.9,316.6L1271.0,321.0L1274.2,327.3L1277.3,333.6L1280.5,346.2L1381.3,346.2L1381.3,56.4Z"/></clipPath>
<line x1="751.3" y1="201.3" x2="1318.3" y2="201.3" stroke="#8d6ae6" stroke-width="2.6" clip-path="url(#Lb)"/>
<path d="M797.3,67.4L799.9,71.5M891.8,67.4L894.6,70.1M923.3,67.4L925.1,69.9M954.8,67.4L954.3,69.2M986.3,67.4L985.9,69.2M1017.8,67.4L1017.9,68.2M1080.8,67.4L1080.9,67.4M1112.3,67.4L1110.9,69.7M1143.8,67.4L1141.5,66.7M1175.3,67.4L1172.4,66.7M1206.8,67.4L1203.7,66.5M1238.3,67.4L1234.8,65.4M1269.8,67.4L1265.7,64.0M1301.3,67.4L1298.0,62.3M797.3,83.2L799.4,87.4M891.8,83.2L894.5,85.9M923.3,83.2L925.3,85.8M954.8,83.2L952.9,85.0M986.3,83.2L985.0,85.7M1017.8,83.2L1016.5,85.7M1080.8,83.2L1080.7,83.2M1112.3,83.2L1110.9,87.4M1143.8,83.2L1141.3,81.9M1175.3,83.2L1172.0,82.5M1206.8,83.2L1203.5,82.5M1238.3,83.2L1234.9,81.1M1269.8,83.2L1265.4,79.5M1301.3,83.2L1298.3,77.2M1017.8,98.9L1021.1,97.6M1049.3,98.9L1053.7,94.5M1080.8,98.9L1080.8,98.7M1112.3,98.9L1109.0,98.9M1143.8,98.9L1141.3,97.7M1175.3,98.9L1173.7,98.9M1206.8,98.9L1206.8,99.0M1238.3,98.9L1234.1,97.5M1269.8,98.9L1263.9,96.0M1301.3,98.9L1297.8,96.1M860.3,114.7L864.6,117.5M954.8,114.7L957.6,118.2M986.3,114.7L989.6,116.0M1017.8,114.7L1020.3,113.4M1049.3,114.7L1051.9,112.7M1080.8,114.7L1080.8,114.6M1112.3,114.7L1109.0,114.7M1143.8,114.7L1141.3,113.4M1206.8,114.7L1204.3,113.4M1269.8,114.7L1260.6,114.7M1301.3,114.7L1297.2,114.7M860.3,130.4L864.5,131.8M986.3,130.4L990.5,131.8M1017.8,130.4L1021.9,130.4M1049.3,130.4L1051.9,128.5M1080.8,130.4L1082.0,130.2M1112.3,130.4L1108.9,131.8M1143.8,130.4L1143.2,128.8M1206.8,130.4L1204.3,129.2M1301.3,130.4L1296.3,129.7M1080.8,146.2L1086.1,146.2M1112.3,146.2L1109.8,147.4M1143.8,146.2L1141.2,144.2M1175.3,146.2L1173.3,143.5M1206.8,146.2L1203.4,144.1M1238.3,146.2L1234.9,144.1M1269.8,146.2L1266.4,144.1M1301.3,146.2L1297.9,144.1M765.8,161.9L769.9,161.9M797.3,161.9L800.7,164.0M828.8,161.9L832.4,165.5M860.3,161.9L864.7,166.3M891.8,161.9L895.1,161.9M1112.3,161.9L1110.4,160.1M1143.8,161.9L1141.8,159.3M1175.3,161.9L1173.3,159.3M1206.8,161.9L1204.2,160.0M1301.3,161.9L1297.2,161.9M828.8,177.7L832.9,178.4M860.3,177.7L864.6,180.5M891.8,177.7L896.8,176.2M1301.3,177.7L1297.2,177.7M828.8,193.4L832.9,193.4M860.3,193.4L864.4,193.4M891.8,193.4L897.7,190.5M1175.3,193.4L1175.3,186.7M1301.3,193.4L1297.2,193.4M828.8,209.2L832.2,207.1M860.3,209.2L863.8,206.4M891.8,209.2L895.2,207.1M1143.8,209.2L1146.5,211.9M1175.3,209.2L1178.0,206.5M1206.8,209.2L1211.0,211.3M1301.3,209.2L1297.3,207.6M828.8,224.9L831.5,227.6M860.3,224.9L860.3,228.2M891.8,224.9L891.8,228.2M1049.3,224.9L1052.7,227.0M1080.8,224.9L1084.2,227.0M1112.3,224.9L1114.9,226.9M1143.8,224.9L1146.5,227.6M1175.3,224.9L1172.7,223.0M1206.8,224.9L1204.2,223.0M1301.3,224.9L1296.2,222.8M765.8,240.7L764.3,234.8M860.3,240.7L863.0,243.4M891.8,240.7L894.5,243.4M1049.3,240.7L1051.3,244.1M1080.8,240.7L1078.7,237.3M1112.3,240.7L1109.6,238.0M1143.8,240.7L1141.2,238.7M1175.3,240.7L1172.6,238.0M1206.8,240.7L1204.1,238.0M1238.3,240.7L1236.2,237.3M1301.3,240.7L1296.3,240.7M1080.8,256.4L1077.9,252.1M1112.3,256.4L1108.8,253.6M1143.8,256.4L1140.4,254.4M1175.3,256.4L1172.6,253.7M1206.8,256.4L1204.0,252.9M1238.3,256.4L1235.6,253.7M1269.8,256.4L1264.8,256.4M1301.3,256.4L1297.1,254.3M765.8,272.2L760.4,265.3M891.8,272.2L886.0,272.2M923.3,272.2L917.5,272.2M1080.8,272.2L1076.5,269.3M1112.3,272.2L1108.1,270.8M1143.8,272.2L1139.6,271.5M1175.3,272.2L1171.2,272.2M1206.8,272.2L1202.6,270.8M1238.3,272.2L1234.8,269.4M1269.8,272.2L1264.8,272.2M1301.3,272.2L1296.3,272.2M797.3,287.9L791.1,280.2M954.8,287.9L951.0,281.1M1017.8,287.9L1013.3,281.9M1049.3,287.9L1044.9,283.5M1080.8,287.9L1076.6,285.8M1112.3,287.9L1108.1,286.5M1143.8,287.9L1139.7,287.9M1175.3,287.9L1171.1,286.5M1206.8,287.9L1202.6,285.8M1238.3,287.9L1234.7,283.6M1269.8,287.9L1264.8,287.9M1301.3,287.9L1296.3,287.9M765.8,303.7L764.8,302.7M797.3,303.7L790.3,296.7M954.8,303.7L954.0,296.1M1017.8,303.7L1016.4,299.5M1049.3,303.7L1045.8,300.9M1080.8,303.7L1076.6,302.3M1112.3,303.7L1108.2,303.7M1143.8,303.7L1139.7,303.7M1175.3,303.7L1171.1,301.6M1206.8,303.7L1202.5,300.8M1238.3,303.7L1235.4,299.4M1269.8,303.7L1264.8,303.7M1301.3,303.7L1296.3,303.7M765.8,319.4L765.8,319.5M797.3,319.4L796.7,317.8M954.8,319.4L954.8,311.9M1017.8,319.4L1017.8,315.3M1049.3,319.4L1046.5,315.9M1080.8,319.4L1077.4,317.4M1112.3,319.4L1108.9,317.4M1143.8,319.4L1141.1,316.7M1175.3,319.4L1171.9,318.1M1206.8,319.4L1203.9,315.1M1238.3,319.4L1236.9,314.4M1269.8,319.4L1264.8,319.4M1301.3,319.4L1296.3,319.4M765.8,335.2L765.4,334.5M797.3,335.2L795.4,333.4M954.8,335.2L953.7,329.2M1017.8,335.2L1017.0,331.0M1049.3,335.2L1046.6,331.9M1080.8,335.2L1077.5,333.0M1112.3,335.2L1108.9,333.1M1143.8,335.2L1140.8,332.9M1175.3,335.2L1172.0,333.3M1206.8,335.2L1203.9,331.5M1238.3,335.2L1236.0,331.4M1269.8,335.2L1265.3,334.5M1301.3,335.2L1296.4,335.0" stroke="#7a7a7a" stroke-width="1.8" fill="none" stroke-linecap="butt"/>
<path d="M801.4,73.8L797.5,71.0L799.5,70.8L800.5,69.1ZM896.3,71.7L892.3,70.2L894.0,69.5L894.5,67.8ZM926.3,71.6L923.0,69.6L924.6,69.3L925.4,67.9ZM953.7,70.9L953.4,67.7L954.4,68.6L955.8,68.4ZM985.5,71.0L984.9,67.8L986.0,68.7L987.4,68.4ZM1018.0,69.7L1016.7,67.3L1017.8,67.7L1018.9,67.1ZM1082.2,67.4L1080.1,68.5L1080.5,67.4L1080.0,66.4ZM1109.9,71.4L1110.4,67.8L1111.3,69.1L1112.8,69.3ZM1139.7,66.2L1143.2,65.8L1142.1,66.9L1142.4,68.4ZM1170.3,66.2L1174.1,65.6L1173.1,66.9L1173.4,68.5ZM1201.6,65.9L1205.5,65.5L1204.4,66.7L1204.7,68.4ZM1232.7,64.1L1237.0,64.8L1235.5,65.8L1235.3,67.6ZM1263.5,62.1L1268.3,63.8L1266.4,64.6L1265.9,66.6ZM1296.4,59.8L1300.8,63.0L1298.6,63.2L1297.4,65.1ZM800.6,89.8L797.1,86.6L799.0,86.6L800.2,85.1ZM896.2,87.6L892.2,85.9L893.9,85.3L894.5,83.6ZM926.6,87.6L923.2,85.5L924.8,85.2L925.6,83.7ZM951.5,86.5L952.9,83.1L953.4,84.6L954.9,85.1ZM984.1,87.6L984.3,83.8L985.3,85.1L986.9,85.1ZM1015.6,87.6L1015.8,83.8L1016.8,85.1L1018.4,85.1ZM1081.9,83.3L1079.8,84.1L1080.3,83.1L1080.0,82.1ZM1110.1,89.8L1109.8,85.2L1111.2,86.6L1113.0,86.3ZM1139.4,81.0L1143.1,81.2L1141.9,82.2L1141.8,83.8ZM1169.8,82.1L1173.7,81.3L1172.7,82.7L1173.1,84.3ZM1201.3,82.1L1205.2,81.3L1204.2,82.7L1204.6,84.3ZM1232.8,79.9L1237.1,80.6L1235.6,81.5L1235.4,83.4ZM1263.2,77.7L1268.1,79.3L1266.2,80.2L1265.7,82.3ZM1296.9,74.4L1301.1,78.2L1298.8,78.2L1297.4,80.1ZM1023.3,96.7L1020.3,99.6L1020.4,97.9L1019.1,96.7ZM1055.9,92.3L1053.7,97.4L1053.0,95.2L1050.8,94.6ZM1080.8,97.5L1081.8,99.6L1080.8,99.2L1079.8,99.6ZM1106.8,98.9L1110.5,97.4L1109.7,98.9L1110.5,100.4ZM1139.4,96.7L1143.1,97.0L1141.9,98.0L1141.8,99.6ZM1172.0,98.9L1174.8,97.7L1174.3,98.9L1174.8,100.2ZM1206.8,97.8L1207.8,99.8L1206.8,99.4L1205.8,99.8ZM1231.7,96.7L1236.3,96.5L1234.9,97.8L1235.2,99.7ZM1261.0,94.5L1266.7,95.1L1264.8,96.4L1264.8,98.8ZM1295.8,94.5L1300.2,95.9L1298.5,96.7L1298.1,98.5ZM866.9,119.1L862.0,118.0L863.8,117.0L864.1,115.0ZM959.2,120.2L955.2,117.9L957.1,117.5L957.9,115.8ZM991.8,116.9L987.6,116.9L988.9,115.7L988.8,114.0ZM1022.2,112.5L1019.7,115.3L1019.7,113.7L1018.4,112.7ZM1053.7,111.4L1051.6,114.8L1051.3,113.1L1049.8,112.4ZM1080.7,113.4L1081.8,115.4L1080.8,115.1L1079.9,115.5ZM1106.8,114.7L1110.5,113.2L1109.7,114.7L1110.5,116.2ZM1139.4,112.5L1143.1,112.7L1141.9,113.7L1141.8,115.3ZM1202.4,112.5L1206.1,112.7L1204.9,113.7L1204.8,115.3ZM1256.6,114.7L1263.2,112.2L1261.9,114.7L1263.2,117.2ZM1294.7,114.7L1298.8,113.0L1298.0,114.7L1298.8,116.3ZM866.9,132.6L862.3,132.9L863.7,131.6L863.4,129.7ZM992.9,132.6L988.3,132.9L989.7,131.6L989.4,129.7ZM1024.4,130.4L1020.3,132.1L1021.1,130.4L1020.3,128.8ZM1053.7,127.1L1051.6,130.6L1051.3,128.9L1049.8,128.1ZM1083.6,130.0L1081.2,131.6L1081.5,130.3L1080.8,129.2ZM1106.8,132.6L1109.8,129.7L1109.7,131.5L1110.9,132.7ZM1142.7,127.1L1144.8,129.5L1143.4,129.3L1142.4,130.3ZM1202.4,128.2L1206.1,128.5L1204.9,129.5L1204.8,131.1ZM1293.6,129.3L1298.4,128.2L1297.2,129.8L1297.8,131.8ZM1088.9,146.2L1084.2,148.0L1085.1,146.2L1084.2,144.3ZM1107.9,148.4L1110.3,145.5L1110.4,147.1L1111.6,148.1ZM1139.4,142.9L1143.3,143.9L1141.8,144.6L1141.4,146.3ZM1172.0,141.8L1175.4,143.8L1173.8,144.1L1173.0,145.6ZM1201.3,142.9L1205.6,143.6L1204.1,144.5L1203.9,146.4ZM1232.8,142.9L1237.1,143.6L1235.6,144.5L1235.4,146.4ZM1264.3,142.9L1268.6,143.6L1267.1,144.5L1266.9,146.4ZM1295.8,142.9L1300.1,143.6L1298.6,144.5L1298.4,146.4ZM772.4,161.9L768.3,163.6L769.1,161.9L768.3,160.3ZM802.8,165.2L798.5,164.5L800.0,163.6L800.2,161.7ZM834.3,167.4L829.8,165.5L831.7,164.8L832.3,162.9ZM866.9,168.5L861.8,166.3L864.0,165.6L864.7,163.5ZM897.3,161.9L893.6,163.4L894.3,161.9L893.6,160.4ZM1109.0,158.6L1112.4,160.0L1110.9,160.5L1110.4,162.0ZM1140.5,157.5L1143.9,159.6L1142.3,159.9L1141.5,161.4ZM1172.0,157.5L1175.4,159.6L1173.8,159.9L1173.0,161.4ZM1202.4,158.6L1206.3,159.6L1204.8,160.4L1204.4,162.1ZM1294.7,161.9L1298.8,160.3L1298.0,161.9L1298.8,163.6ZM835.4,178.8L831.0,179.7L832.1,178.2L831.6,176.4ZM866.9,182.1L862.0,181.0L863.8,180.0L864.1,178.0ZM899.5,175.5L895.5,178.5L895.9,176.5L894.5,175.0ZM1294.7,177.7L1298.8,176.0L1298.0,177.7L1298.8,179.3ZM835.4,193.4L831.3,195.1L832.1,193.4L831.3,191.8ZM866.9,193.4L862.8,195.1L863.6,193.4L862.8,191.8ZM900.6,189.0L896.7,193.3L896.8,190.9L894.9,189.6ZM1175.3,183.5L1177.4,188.9L1175.3,187.8L1173.2,188.9ZM1294.7,193.4L1298.8,191.8L1298.0,193.4L1298.8,195.1ZM834.3,205.9L831.7,209.4L831.5,207.5L830.0,206.6ZM865.8,204.8L863.5,208.8L863.1,206.9L861.4,206.1ZM897.3,205.9L894.7,209.4L894.5,207.5L893.0,206.6ZM1148.2,213.6L1144.2,211.9L1145.9,211.3L1146.5,209.6ZM1179.7,204.8L1178.0,208.7L1177.4,207.0L1175.7,206.4ZM1213.4,212.5L1208.7,212.1L1210.2,210.9L1210.2,208.9ZM1294.9,206.7L1299.4,206.6L1298.0,207.9L1298.2,209.8ZM833.2,229.3L829.2,227.7L830.9,227.1L831.5,225.4ZM860.3,230.4L858.8,226.7L860.3,227.5L861.8,226.7ZM891.8,230.4L890.3,226.7L891.8,227.5L893.3,226.7ZM1054.8,228.2L1050.5,227.5L1052.0,226.6L1052.2,224.7ZM1086.3,228.2L1082.0,227.5L1083.5,226.6L1083.7,224.7ZM1116.7,228.2L1112.8,227.2L1114.3,226.5L1114.6,224.8ZM1148.2,229.3L1144.2,227.7L1145.9,227.1L1146.5,225.4ZM1170.9,221.6L1174.8,222.6L1173.3,223.4L1172.9,225.1ZM1202.4,221.6L1206.3,222.6L1204.8,223.4L1204.4,225.1ZM1293.6,221.6L1298.7,221.8L1297.1,223.1L1297.2,225.2ZM763.6,231.9L766.7,236.3L764.6,235.8L762.9,237.2ZM864.7,245.1L860.7,243.4L862.4,242.8L863.0,241.1ZM896.2,245.1L892.2,243.4L893.9,242.8L894.5,241.1ZM1052.6,246.2L1049.1,243.6L1050.9,243.4L1051.9,241.9ZM1077.5,235.2L1081.0,237.8L1079.2,237.9L1078.2,239.5ZM1107.9,236.3L1111.8,237.9L1110.1,238.5L1109.6,240.2ZM1139.4,237.4L1143.3,238.4L1141.8,239.1L1141.4,240.8ZM1170.9,236.3L1174.8,237.9L1173.1,238.5L1172.6,240.2ZM1202.4,236.3L1206.3,237.9L1204.6,238.5L1204.1,240.2ZM1235.0,235.2L1238.5,237.8L1236.7,237.9L1235.7,239.5ZM1293.6,240.7L1298.1,238.9L1297.2,240.7L1298.1,242.5ZM1076.4,249.8L1080.5,252.7L1078.4,252.9L1077.4,254.7ZM1106.8,252.0L1111.2,253.4L1109.5,254.2L1109.1,256.0ZM1138.3,253.1L1142.6,253.8L1141.1,254.8L1140.9,256.6ZM1170.9,252.0L1174.8,253.7L1173.1,254.3L1172.6,256.0ZM1202.4,250.9L1206.4,253.2L1204.5,253.6L1203.7,255.3ZM1233.9,252.0L1237.8,253.7L1236.1,254.3L1235.6,256.0ZM1262.1,256.4L1266.6,254.6L1265.7,256.4L1266.6,258.2ZM1294.7,253.1L1299.4,253.5L1297.8,254.7L1297.8,256.7ZM758.1,262.3L763.9,265.8L761.2,266.3L760.1,268.8ZM883.0,272.2L887.9,270.2L886.9,272.2L887.9,274.1ZM914.5,272.2L919.4,270.2L918.4,272.2L919.4,274.1ZM1074.2,267.8L1079.0,268.8L1077.3,269.8L1077.0,271.9ZM1105.7,270.0L1110.3,269.7L1108.9,271.0L1109.2,272.9ZM1137.2,271.1L1141.6,270.1L1140.5,271.6L1141.0,273.4ZM1168.7,272.2L1172.8,270.5L1172.0,272.2L1172.8,273.8ZM1200.2,270.0L1204.8,269.7L1203.4,271.0L1203.7,272.9ZM1232.8,267.8L1237.2,269.1L1235.5,269.9L1235.1,271.8ZM1262.1,272.2L1266.6,270.4L1265.7,272.2L1266.6,274.0ZM1293.6,272.2L1298.1,270.4L1297.2,272.2L1298.1,274.0ZM788.5,276.9L794.9,280.7L792.0,281.3L790.8,284.0ZM949.3,278.0L954.1,282.1L951.6,282.2L950.2,284.3ZM1011.2,279.1L1016.4,282.4L1014.0,282.8L1012.9,285.1ZM1042.7,281.3L1047.7,283.6L1045.6,284.2L1044.9,286.4ZM1074.2,284.6L1078.9,285.0L1077.3,286.2L1077.3,288.2ZM1105.7,285.7L1110.3,285.5L1108.9,286.8L1109.2,288.7ZM1137.2,287.9L1141.3,286.3L1140.5,287.9L1141.3,289.6ZM1168.7,285.7L1173.3,285.5L1171.9,286.8L1172.2,288.7ZM1200.2,284.6L1204.9,285.0L1203.3,286.2L1203.3,288.2ZM1232.8,281.3L1237.4,283.8L1235.3,284.3L1234.4,286.3ZM1262.1,287.9L1266.6,286.1L1265.7,287.9L1266.6,289.7ZM1293.6,287.9L1298.1,286.1L1297.2,287.9L1298.1,289.7ZM763.6,301.5L766.4,302.6L765.2,303.0L764.7,304.3ZM787.4,293.8L794.1,296.8L791.3,297.7L790.5,300.5ZM953.7,292.7L956.5,298.2L954.2,297.3L952.1,298.7ZM1015.6,297.1L1018.5,300.6L1016.7,300.3L1015.3,301.6ZM1043.8,299.3L1048.2,300.6L1046.5,301.4L1046.1,303.3ZM1074.2,301.5L1078.8,301.2L1077.4,302.5L1077.7,304.4ZM1105.7,303.7L1109.8,302.0L1109.0,303.7L1109.8,305.3ZM1137.2,303.7L1141.3,302.0L1140.5,303.7L1141.3,305.3ZM1168.7,300.4L1173.4,300.8L1171.8,302.0L1171.8,303.9ZM1200.2,299.3L1205.0,300.3L1203.3,301.3L1203.0,303.4ZM1233.9,297.1L1238.0,299.9L1235.9,300.1L1234.9,301.9ZM1262.1,303.7L1266.6,301.9L1265.7,303.7L1266.6,305.5ZM1293.6,303.7L1298.1,301.9L1297.2,303.7L1298.1,305.5ZM765.8,318.3L766.8,320.3L765.8,319.9L764.8,320.3ZM796.2,316.1L798.3,318.5L796.9,318.3L795.9,319.3ZM954.8,308.4L957.0,314.2L954.8,313.0L952.6,314.2ZM1017.8,312.8L1019.4,316.9L1017.8,316.1L1016.1,316.9ZM1044.9,313.9L1048.9,316.2L1047.0,316.6L1046.2,318.3ZM1075.3,316.1L1079.6,316.8L1078.1,317.8L1077.9,319.6ZM1106.8,316.1L1111.1,316.8L1109.6,317.8L1109.4,319.6ZM1139.4,315.0L1143.3,316.7L1141.6,317.3L1141.1,319.0ZM1169.8,317.2L1173.9,317.2L1172.7,318.4L1172.8,320.1ZM1202.4,312.8L1206.5,315.7L1204.4,315.9L1203.4,317.7ZM1236.1,311.7L1239.1,315.7L1237.1,315.3L1235.6,316.7ZM1262.1,319.4L1266.6,317.6L1265.7,319.4L1266.6,321.2ZM1293.6,319.4L1298.1,317.6L1297.2,319.4L1298.1,321.2ZM764.7,333.2L766.9,334.8L765.6,334.9L764.9,335.9ZM793.9,332.0L797.3,333.3L795.9,333.8L795.4,335.3ZM953.1,326.3L956.0,330.9L953.9,330.2L952.1,331.6ZM1016.6,328.6L1019.0,332.4L1017.2,331.9L1015.7,333.0ZM1045.1,329.9L1049.0,332.1L1047.2,332.5L1046.4,334.2ZM1075.4,331.6L1079.7,332.5L1078.1,333.4L1077.9,335.2ZM1106.9,331.9L1111.1,332.6L1109.6,333.6L1109.5,335.4ZM1138.9,331.5L1143.0,332.6L1141.4,333.4L1141.1,335.1ZM1170.0,332.1L1174.2,332.7L1172.7,333.7L1172.6,335.5ZM1202.3,329.4L1206.3,331.8L1204.4,332.2L1203.6,333.9ZM1234.6,329.2L1238.3,332.0L1236.4,332.1L1235.4,333.7ZM1262.8,334.1L1267.3,333.1L1266.2,334.6L1266.8,336.5ZM1293.8,334.9L1298.3,333.3L1297.3,335.0L1298.2,336.8Z" fill="#7a7a7a" stroke="#7a7a7a" stroke-width="0.6" stroke-linejoin="miter"/>
<path d="M765.8,67.4L767.9,72.8M828.8,67.4L832.4,70.8M860.3,67.4L863.7,69.8M1049.3,67.4L1053.7,64.4M765.8,83.2L767.3,89.0M828.8,83.2L832.4,86.7M860.3,83.2L863.7,85.2M1049.3,83.2L1055.3,78.7M765.8,98.9L771.9,105.0M797.3,98.9L802.5,102.6M828.8,98.9L833.9,101.1M860.3,98.9L865.5,102.6M891.8,98.9L895.3,101.7M923.3,98.9L926.9,102.5M954.8,98.9L958.4,102.5M986.3,98.9L990.4,98.2M765.8,114.7L771.8,119.2M797.3,114.7L803.2,117.6M828.8,114.7L833.0,116.1M891.8,114.7L896.1,118.3M923.3,114.7L926.9,119.0M1175.3,114.7L1174.0,112.1M1238.3,114.7L1229.0,111.6M765.8,130.4L770.9,133.3M797.3,130.4L802.4,133.3M828.8,130.4L834.7,133.4M891.8,130.4L896.1,134.1M923.3,130.4L928.6,135.7M954.8,130.4L959.1,134.1M1175.3,130.4L1175.3,127.1M1238.3,130.4L1234.2,130.4M1269.8,130.4L1262.2,128.9M765.8,146.2L773.4,150.0M797.3,146.2L804.9,150.0M828.8,146.2L834.7,149.1M860.3,146.2L866.2,149.1M891.8,146.2L898.6,149.2M923.3,146.2L932.8,149.0M954.8,146.2L966.9,152.2M986.3,146.2L1001.0,152.5M1017.8,146.2L1032.1,146.2M1049.3,146.2L1060.9,146.2M923.3,161.9L934.9,161.9M954.8,161.9L969.2,164.0M986.3,161.9L1003.3,163.0M1017.8,161.9L1036.2,159.8M1049.3,161.9L1066.4,159.8M1080.8,161.9L1095.2,159.9M1238.3,161.9L1234.1,159.8M1269.8,161.9L1264.7,159.8M765.8,177.7L771.6,177.7M797.3,177.7L803.1,177.7M923.3,177.7L930.9,172.0M954.8,177.7L965.1,167.4M986.3,177.7L999.0,167.1M1017.8,177.7L1035.1,171.2M1049.3,177.7L1066.5,173.4M1080.8,177.7L1097.9,174.5M1112.3,177.7L1123.1,168.5M1143.8,177.7L1145.3,168.4M1175.3,177.7L1176.1,168.4M1206.8,177.7L1206.8,168.4M1238.3,177.7L1236.0,173.2M1269.8,177.7L1264.7,175.5M765.8,193.4L767.7,191.6M797.3,193.4L802.3,193.4M923.3,193.4L931.2,183.5M954.8,193.4L961.1,178.7M986.3,193.4L991.6,177.5M1017.8,193.4L1029.9,187.4M1049.3,193.4L1063.6,193.4M1080.8,193.4L1095.1,193.4M1112.3,193.4L1120.0,187.2M1143.8,193.4L1144.6,185.0M1206.8,193.4L1206.8,185.9M1238.3,193.4L1239.1,184.2M1269.8,193.4L1265.6,191.3M765.8,209.2L768.0,204.1M797.3,209.2L803.1,209.2M923.3,209.2L927.2,197.3M954.8,209.2L957.9,194.7M986.3,209.2L989.4,194.7M1017.8,209.2L1025.6,200.4M1049.3,209.2L1061.0,211.1M1080.8,209.2L1092.6,212.1M1112.3,209.2L1115.3,203.2M1238.3,209.2L1239.8,201.6M1269.8,209.2L1265.6,207.1M765.8,224.9L768.7,219.8M797.3,224.9L800.9,220.6M923.3,224.9L922.5,215.7M954.8,224.9L953.2,214.0M986.3,224.9L984.7,214.0M1017.8,224.9L1019.3,217.4M1238.3,224.9L1238.3,220.8M1269.8,224.9L1269.8,219.1M797.3,240.7L796.5,231.4M828.8,240.7L828.0,231.4M923.3,240.7L920.2,232.2M954.8,240.7L951.7,230.6M986.3,240.7L984.0,230.6M1017.8,240.7L1016.3,233.1M1269.8,240.7L1269.8,234.8M765.8,256.4L761.3,250.4M797.3,256.4L795.7,247.2M828.8,256.4L827.2,247.2M860.3,256.4L855.3,255.0M891.8,256.4L885.8,251.9M923.3,256.4L917.2,250.3M954.8,256.4L950.2,247.9M986.3,256.4L981.7,247.9M1017.8,256.4L1014.0,249.6M1049.3,256.4L1046.3,250.5M797.3,272.2L791.9,264.5M828.8,272.2L822.7,266.1M860.3,272.2L854.4,271.4M954.8,272.2L950.2,263.7M986.3,272.2L980.9,264.5M1017.8,272.2L1013.3,266.1M1049.3,272.2L1044.8,267.0M765.8,287.9L759.6,280.2M828.8,287.9L821.9,281.8M860.3,287.9L852.8,287.9M891.8,287.9L882.6,287.9M923.3,287.9L914.1,287.9M986.3,287.9L981.8,281.9M828.8,303.7L821.2,302.2M860.3,303.7L852.8,303.7M891.8,303.7L882.6,304.4M923.3,303.7L915.8,303.7M986.3,303.7L986.3,297.8M828.8,319.4L821.3,318.7M860.3,319.4L849.4,318.6M891.8,319.4L884.3,320.2M923.3,319.4L917.5,319.4M986.3,319.4L986.3,313.6M828.8,335.2L821.8,334.0M860.3,335.2L851.0,334.4M891.8,335.2L884.5,335.2M923.3,335.2L918.2,334.0M986.3,335.2L985.8,329.7" stroke="#000" stroke-width="1.8" fill="none" stroke-linecap="butt"/>
<path d="M768.9,75.5L765.4,71.6L767.5,71.9L768.9,70.2ZM834.3,72.6L829.8,70.8L831.7,70.1L832.3,68.2ZM865.8,71.2L861.4,70.2L863.1,69.3L863.3,67.5ZM1056.0,62.8L1053.2,67.0L1052.9,65.0L1051.1,64.0ZM768.0,92.0L764.9,87.6L767.0,88.1L768.7,86.6ZM834.3,88.7L829.8,86.7L831.7,86.1L832.3,84.2ZM865.8,86.5L861.5,85.8L863.0,84.8L863.2,83.0ZM1058.1,76.6L1054.8,81.8L1054.4,79.3L1052.1,78.3ZM774.6,107.7L768.4,104.9L771.0,104.1L771.8,101.6ZM805.0,104.4L799.6,103.0L801.6,102.0L801.9,99.8ZM836.5,102.2L831.4,102.1L833.0,100.7L832.8,98.6ZM868.0,104.4L862.6,103.0L864.6,102.0L864.9,99.8ZM897.3,103.3L892.9,102.0L894.6,101.2L895.0,99.3ZM928.8,104.4L924.3,102.5L926.2,101.8L926.8,99.9ZM960.3,104.4L955.8,102.5L957.7,101.8L958.3,99.9ZM992.9,97.8L989.1,100.2L989.6,98.4L988.5,96.9ZM774.6,121.3L768.6,119.6L770.9,118.5L771.3,116.0ZM806.1,119.1L800.4,118.5L802.3,117.2L802.2,114.8ZM835.4,116.9L830.8,117.1L832.2,115.8L831.9,113.9ZM898.4,120.2L893.4,118.5L895.4,117.7L895.9,115.6ZM928.8,121.3L924.2,118.8L926.3,118.3L927.1,116.3ZM1173.1,110.3L1175.9,112.7L1174.3,112.8L1173.3,114.0ZM1225.1,110.3L1232.4,110.0L1230.3,112.0L1230.8,114.9ZM773.5,134.8L768.2,134.0L770.0,132.9L770.1,130.7ZM805.0,134.8L799.7,134.0L801.5,132.9L801.6,130.7ZM837.6,134.8L831.9,134.3L833.8,132.9L833.7,130.6ZM898.4,135.9L893.4,134.3L895.4,133.4L895.9,131.3ZM931.0,138.1L925.4,135.6L927.7,134.9L928.5,132.5ZM961.4,135.9L956.4,134.3L958.4,133.4L958.9,131.3ZM1175.3,124.9L1176.8,128.6L1175.3,127.9L1173.8,128.6ZM1231.7,130.4L1235.8,128.8L1235.0,130.4L1235.8,132.1ZM1258.8,128.2L1265.0,127.2L1263.4,129.1L1264.1,131.6ZM776.8,151.7L770.1,151.0L772.3,149.4L772.2,146.7ZM808.3,151.7L801.6,151.0L803.8,149.4L803.7,146.7ZM837.6,150.6L831.9,150.0L833.8,148.7L833.7,146.3ZM869.1,150.6L863.4,150.0L865.3,148.7L865.2,146.3ZM901.7,150.6L895.6,150.3L897.5,148.7L897.4,146.3ZM936.8,150.2L929.4,150.7L931.5,148.6L930.9,145.7ZM971.0,154.3L962.9,153.4L965.6,151.6L965.4,148.4ZM1005.2,154.3L997.1,153.9L999.6,151.9L999.3,148.7ZM1036.7,146.2L1029.1,149.0L1030.6,146.2L1029.1,143.4ZM1065.5,146.2L1057.9,149.0L1059.4,146.2L1057.9,143.4ZM939.5,161.9L931.9,164.7L933.4,161.9L931.9,159.1ZM973.7,164.6L965.8,166.3L967.7,163.8L966.6,160.8ZM1007.9,163.3L1000.1,165.6L1001.8,162.9L1000.5,160.0ZM1040.7,159.2L1033.5,162.9L1034.7,159.9L1032.9,157.3ZM1070.9,159.2L1063.7,163.0L1064.9,160.0L1063.0,157.4ZM1099.7,159.2L1092.6,163.1L1093.7,160.1L1091.8,157.5ZM1231.7,158.6L1236.4,159.0L1234.8,160.2L1234.8,162.2ZM1262.1,158.6L1267.2,158.8L1265.6,160.1L1265.7,162.2ZM774.6,177.7L769.6,179.6L770.6,177.7L769.6,175.7ZM806.1,177.7L801.1,179.6L802.1,177.7L801.1,175.7ZM934.1,169.6L930.2,175.6L929.8,172.8L927.2,171.6ZM968.3,164.2L964.9,171.5L964.0,168.5L960.9,167.6ZM1002.5,164.2L998.4,171.2L997.8,168.1L994.9,166.9ZM1039.4,169.6L1033.3,174.9L1033.7,171.7L1031.3,169.6ZM1070.9,172.3L1064.2,176.8L1065.0,173.7L1062.8,171.4ZM1102.4,173.6L1095.4,177.8L1096.4,174.7L1094.4,172.3ZM1126.6,165.6L1122.6,172.6L1121.9,169.5L1119.0,168.3ZM1146.0,164.5L1147.4,171.5L1145.1,169.8L1142.4,170.7ZM1176.4,164.5L1178.3,171.3L1175.9,169.8L1173.4,170.9ZM1206.8,164.5L1209.3,171.1L1206.8,169.8L1204.3,171.1ZM1234.7,170.8L1238.4,174.0L1236.4,174.0L1235.2,175.6ZM1262.1,174.4L1267.2,174.5L1265.6,175.9L1265.7,178.0ZM769.1,190.1L767.7,193.5L767.2,192.0L765.7,191.5ZM805.0,193.4L800.5,195.2L801.4,193.4L800.5,191.6ZM934.1,179.9L931.5,187.6L930.3,184.7L927.1,184.1ZM962.9,174.5L962.5,182.6L960.5,180.1L957.3,180.4ZM993.0,173.2L993.3,181.3L991.1,178.9L988.0,179.5ZM1034.0,185.3L1028.4,191.2L1028.6,188.0L1025.9,186.2ZM1068.2,193.4L1060.6,196.2L1062.1,193.4L1060.6,190.6ZM1099.7,193.4L1092.1,196.2L1093.6,193.4L1092.1,190.6ZM1123.3,184.6L1119.5,191.0L1118.9,188.1L1116.2,186.9ZM1144.9,181.3L1146.7,187.7L1144.4,186.3L1142.0,187.3ZM1206.8,182.4L1209.0,188.2L1206.8,187.0L1204.6,188.2ZM1239.4,180.2L1241.3,187.0L1238.9,185.5L1236.4,186.6ZM1263.2,190.1L1267.9,190.5L1266.3,191.7L1266.3,193.7ZM769.1,201.5L768.9,206.6L767.6,205.0L765.5,205.1ZM806.1,209.2L801.1,211.1L802.1,209.2L801.1,207.2ZM928.7,193.0L929.0,201.1L926.8,198.7L923.6,199.3ZM958.8,190.3L960.0,198.3L957.6,196.2L954.5,197.1ZM990.3,190.3L991.5,198.3L989.1,196.2L986.0,197.1ZM1028.6,197.0L1025.6,204.6L1024.6,201.6L1021.4,200.8ZM1065.5,211.9L1057.5,213.4L1059.5,210.9L1058.5,207.9ZM1097.0,213.2L1088.9,214.1L1091.1,211.7L1090.3,208.7ZM1116.7,200.4L1116.1,206.1L1114.8,204.2L1112.5,204.2ZM1240.5,198.2L1241.5,204.4L1239.6,202.8L1237.1,203.5ZM1263.2,205.9L1267.9,206.3L1266.3,207.5L1266.3,209.4ZM770.2,217.2L769.4,222.5L768.2,220.7L766.0,220.6ZM802.8,218.3L801.1,223.3L800.3,221.3L798.2,220.8ZM922.2,211.7L925.2,218.1L922.6,217.0L920.3,218.5ZM952.6,209.5L956.4,216.6L953.4,215.5L950.9,217.4ZM984.1,209.5L987.9,216.6L984.9,215.5L982.4,217.4ZM1020.0,213.9L1021.0,220.1L1019.1,218.5L1016.6,219.2ZM1238.3,218.3L1239.9,222.4L1238.3,221.6L1236.6,222.4ZM1269.8,216.1L1271.7,221.1L1269.8,220.1L1267.9,221.1ZM796.2,227.5L799.2,233.9L796.6,232.8L794.3,234.3ZM827.7,227.5L830.7,233.9L828.1,232.8L825.8,234.3ZM918.9,228.6L923.4,233.8L920.7,233.5L918.8,235.5ZM950.4,226.4L955.1,232.5L952.1,231.9L949.9,234.1ZM983.0,226.4L987.2,232.8L984.3,232.0L982.0,234.0ZM1015.6,229.7L1018.9,235.0L1016.5,234.3L1014.5,235.9ZM1269.8,231.9L1271.7,236.8L1269.8,235.8L1267.9,236.8ZM759.2,247.6L764.4,250.9L762.0,251.3L760.9,253.6ZM795.1,243.2L798.7,249.4L796.0,248.5L793.7,250.2ZM826.6,243.2L830.2,249.4L827.5,248.5L825.2,250.2ZM852.6,254.2L857.6,253.7L856.2,255.2L856.6,257.3ZM883.0,249.8L888.9,251.5L886.7,252.6L886.3,255.1ZM914.5,247.6L920.7,250.4L918.1,251.2L917.3,253.8ZM948.2,244.3L953.7,249.1L950.8,249.1L949.2,251.6ZM979.7,244.3L985.2,249.1L982.3,249.1L980.7,251.6ZM1012.3,246.5L1017.1,250.6L1014.6,250.7L1013.2,252.8ZM1044.9,247.6L1049.1,251.5L1046.8,251.4L1045.4,253.3ZM789.6,261.2L795.5,265.2L792.7,265.6L791.4,268.1ZM820.0,263.4L826.2,266.2L823.6,267.0L822.8,269.5ZM851.5,271.1L856.7,269.8L855.4,271.6L856.2,273.6ZM948.2,260.1L953.7,264.9L950.8,264.9L949.2,267.3ZM978.6,261.2L984.5,265.2L981.7,265.6L980.4,268.1ZM1011.2,263.4L1016.4,266.7L1014.0,267.1L1012.9,269.3ZM1042.7,264.5L1047.8,267.2L1045.5,267.8L1044.6,270.0ZM757.0,276.9L763.4,280.7L760.5,281.3L759.3,284.0ZM818.9,279.1L825.5,281.7L822.9,282.7L822.2,285.4ZM849.3,287.9L855.1,285.7L853.9,287.9L855.1,290.1ZM878.6,287.9L885.2,285.4L883.9,287.9L885.2,290.4ZM910.1,287.9L916.7,285.4L915.4,287.9L916.7,290.4ZM979.7,279.1L984.9,282.4L982.5,282.8L981.4,285.1ZM817.8,301.5L824.0,300.4L822.4,302.4L823.1,304.8ZM849.3,303.7L855.1,301.5L853.9,303.7L855.1,305.9ZM878.6,304.8L885.0,301.7L883.9,304.3L885.4,306.7ZM912.3,303.7L918.1,301.5L916.9,303.7L918.1,305.9ZM986.3,294.9L988.2,299.8L986.3,298.8L984.4,299.8ZM817.8,318.3L823.8,316.7L822.4,318.8L823.3,321.1ZM844.9,318.3L852.5,316.1L850.8,318.8L852.1,321.6ZM880.8,320.5L886.3,317.7L885.4,320.1L886.8,322.2ZM914.5,319.4L919.4,317.5L918.4,319.4L919.4,321.4ZM986.3,310.6L988.2,315.6L986.3,314.6L984.4,315.6ZM818.5,333.5L824.4,332.3L822.9,334.2L823.7,336.5ZM847.0,334.1L853.8,332.1L852.3,334.5L853.4,337.1ZM881.1,335.2L886.8,333.0L885.6,335.2L886.8,337.4ZM915.5,333.3L920.5,332.6L919.1,334.2L919.6,336.2ZM985.5,326.9L987.8,331.5L985.9,330.7L984.1,331.8Z" fill="#000" stroke="#000" stroke-width="0.6" stroke-linejoin="miter"/>
</g>
<rect x="751.3" y="75.3" width="567.0" height="252.0" fill="none" stroke="#000" stroke-width="2"/>
<line x1="745.3" y1="327.3" x2="751.3" y2="327.3" stroke="#000" stroke-width="1.8"/>
<line x1="747.8" y1="295.8" x2="751.3" y2="295.8" stroke="#000" stroke-width="1.8"/>
<line x1="745.3" y1="264.3" x2="751.3" y2="264.3" stroke="#000" stroke-width="1.8"/>
<line x1="747.8" y1="232.8" x2="751.3" y2="232.8" stroke="#000" stroke-width="1.8"/>
<line x1="745.3" y1="201.3" x2="751.3" y2="201.3" stroke="#000" stroke-width="1.8"/>
<line x1="747.8" y1="169.8" x2="751.3" y2="169.8" stroke="#000" stroke-width="1.8"/>
<line x1="745.3" y1="138.3" x2="751.3" y2="138.3" stroke="#000" stroke-width="1.8"/>
<line x1="747.8" y1="106.8" x2="751.3" y2="106.8" stroke="#000" stroke-width="1.8"/>
<line x1="745.3" y1="75.3" x2="751.3" y2="75.3" stroke="#000" stroke-width="1.8"/>
<line x1="751.3" y1="327.3" x2="751.3" y2="333.3" stroke="#000" stroke-width="1.8"/>
<line x1="782.8" y1="327.3" x2="782.8" y2="330.8" stroke="#000" stroke-width="1.8"/>
<line x1="814.3" y1="327.3" x2="814.3" y2="333.3" stroke="#000" stroke-width="1.8"/>
<line x1="845.8" y1="327.3" x2="845.8" y2="330.8" stroke="#000" stroke-width="1.8"/>
<line x1="877.3" y1="327.3" x2="877.3" y2="333.3" stroke="#000" stroke-width="1.8"/>
<line x1="908.8" y1="327.3" x2="908.8" y2="330.8" stroke="#000" stroke-width="1.8"/>
<line x1="940.3" y1="327.3" x2="940.3" y2="333.3" stroke="#000" stroke-width="1.8"/>
<line x1="971.8" y1="327.3" x2="971.8" y2="330.8" stroke="#000" stroke-width="1.8"/>
<line x1="1003.3" y1="327.3" x2="1003.3" y2="333.3" stroke="#000" stroke-width="1.8"/>
<line x1="1034.8" y1="327.3" x2="1034.8" y2="330.8" stroke="#000" stroke-width="1.8"/>
<line x1="1066.3" y1="327.3" x2="1066.3" y2="333.3" stroke="#000" stroke-width="1.8"/>
<line x1="1097.8" y1="327.3" x2="1097.8" y2="330.8" stroke="#000" stroke-width="1.8"/>
<line x1="1129.3" y1="327.3" x2="1129.3" y2="333.3" stroke="#000" stroke-width="1.8"/>
<line x1="1160.8" y1="327.3" x2="1160.8" y2="330.8" stroke="#000" stroke-width="1.8"/>
<line x1="1192.3" y1="327.3" x2="1192.3" y2="333.3" stroke="#000" stroke-width="1.8"/>
<line x1="1223.8" y1="327.3" x2="1223.8" y2="330.8" stroke="#000" stroke-width="1.8"/>
<line x1="1255.3" y1="327.3" x2="1255.3" y2="333.3" stroke="#000" stroke-width="1.8"/>
<line x1="1286.8" y1="327.3" x2="1286.8" y2="330.8" stroke="#000" stroke-width="1.8"/>
<line x1="1318.3" y1="327.3" x2="1318.3" y2="333.3" stroke="#000" stroke-width="1.8"/>
<text x="735.3" y="85.9" style="font-family:'Liberation Serif',serif;font-size:30.6px;" text-anchor="end" >20°N</text>
<text x="735.3" y="148.9" style="font-family:'Liberation Serif',serif;font-size:30.6px;" text-anchor="end" >10°N</text>
<text x="735.3" y="211.9" style="font-family:'Liberation Serif',serif;font-size:30.6px;" text-anchor="end" >EQ</text>
<text x="735.3" y="274.9" style="font-family:'Liberation Serif',serif;font-size:30.6px;" text-anchor="end" >10°S</text>
<text x="735.3" y="337.9" style="font-family:'Liberation Serif',serif;font-size:30.6px;" text-anchor="end" >20°S</text>
<text x="814.6" y="370.9" style="font-family:'Liberation Serif',serif;font-size:30.8px;" text-anchor="middle" >60°W</text>
<text x="940.6" y="370.9" style="font-family:'Liberation Serif',serif;font-size:30.8px;" text-anchor="middle" >40°W</text>
<text x="1066.6" y="370.9" style="font-family:'Liberation Serif',serif;font-size:30.8px;" text-anchor="middle" >20°W</text>
<text x="1192.6" y="370.9" style="font-family:'Liberation Serif',serif;font-size:30.8px;" text-anchor="middle" >0°</text>
<text x="1318.6" y="370.9" style="font-family:'Liberation Serif',serif;font-size:30.8px;" text-anchor="middle" >20°E</text>
<clipPath id="clipc"><rect x="82.3" y="500.7" width="567.0" height="252.0"/></clipPath>
<g clip-path="url(#clipc)">
<path d="M71.3,765.3 661.9,765.3 661.9,488.1 280.3,488.1 282.3,490.6 287.3,494.4 288.9,499.1 289.1,507 293,511.7 295.8,518 301.1,524.3 304.4,530.2 307.5,532.3 313.8,532.8 321.7,537.6 323.3,539.2 324.4,541.6 324.6,544.8 323.5,551.1 325,555.8 326.4,557.9 329.6,559.5 356.4,560.7 365.8,562.5 373.7,562.6 375.3,563.7 377,566.9 378.8,574.7 384.7,582.3 386.3,585.8 386.1,588.9 383.1,593.3 373.7,599.8 369.2,607.8 367.2,615.7 365.3,618.8 361.1,621.6 353.2,623.5 351.1,625.1 349.7,628.3 350.5,636.1 350.1,639.3 348.7,642.5 345.1,647.2 344.2,650.3 345.4,653.5 351.3,661.4 360.9,669.2 368.5,674 375.2,681.3 380,685.2 382.8,691.3 382.7,694.4 381.6,697.3 378.4,699.6 364.2,703.6 356.4,700.4 350.1,700.3 342.2,698.6 334.3,700.7 321.7,705.3 310.7,706.6 308.5,708.6 311.6,719.6 323.3,728.3 326.4,735.7 329.6,739.5 332.7,740.4 339,738.1 345.3,739.7 352.1,740.1 354.9,741.7 355.4,743.2 354.9,746.4 351.9,752.7 348.5,757.4 345.3,759.2 338.7,757.4 334.3,752.4 331.1,750.1 328,750.1 320.1,752.9 317,753 313.8,751.9 304.1,746.4 293.3,745.2 287.1,745.5 283.9,743.6 276,736 274.9,733.8 275.1,727.5 274.5,725.9 265.4,721.2 261.2,714.9 260.9,713.3 261.8,710.9 268,708.6 268.4,707 267.7,705.5 265,703.4 258.7,702.1 255.9,700.7 255.2,699.1 255.4,691.3 254.4,688.1 250.7,685 241.9,680.2 241.3,678.7 241.7,674 241.2,672.4 234.4,664.5 229.8,655 227.2,652.4 219.3,649.1 210.8,634.6 206.9,620.4 206,611 207.4,606.2 212.1,598.4 211.8,595.2 210.5,593.6 208.3,592.6 198.8,590.8 189.4,586.8 184.7,583.6 176.8,576.4 161.6,568.4 157.3,563.7 150.6,546.4 150,543.2 155.3,532.2 155.6,529 154.8,526.8 151.6,525.5 142.1,525.7 134.3,526.9 132.7,527.9 131.9,530.6 132.6,533.8 134.4,536.9 139.7,543.2 140.1,544.8 139.4,551.1 137.8,555.8 132.8,563.7 123.2,572.7 115.4,577.7 109.1,583.8 105.9,584.9 102.8,583.2 95.5,573.1 95,565.3 93.1,557.4 94.2,554.2 99.6,548.2 104.7,533.8 107.5,531.4 113.8,529.6 115.4,527.9 116.7,522.8 116.1,518 112.2,514.9 107.5,514.2 104.3,516.2 98.7,522.8 96.5,524 69.7,524.9 69.7,765.3 71.3,765.3ZM84.1,571.6 83.1,568.4 83.9,566.9 87,566.5 89.3,568.4 89.6,570 88.6,572 87,572.8 84.1,571.6ZM296.5,724.4 299.6,724.5 302.8,723.6 306.2,721.2 306.9,719.6 302.8,716.5 298.1,715 294.9,715.8 286.9,721.2 289,722.8 296.5,724.4ZM269.7,519.5 271.3,519.3 274.1,516.5 275.2,513.3 274.4,511.1 271.3,510.6 268.1,511.9 267.5,513.3 267.8,516.5 269.7,519.5ZM250.8,504.3 252.6,503.8 253,502.3 252.4,501.6 250.7,502.3 250.2,503.8 250.8,504.3ZM236.6,492.2 238.2,492.6 241.4,491.5 243.4,488.1 234.2,488.1 235.1,490.7 236.6,492.2Z" fill="#f6ebd0" stroke="#f6ebd0" stroke-width="0.6" fill-rule="evenodd"/>
<path d="M71.3,765.3 279.6,765.3 274.2,759 263.7,749.5 262.1,746.4 262,738.5 254,728.9 250.8,726.2 242.9,725.7 240.5,722.8 239.6,718 239.9,711.8 242,705.5 243.2,699.1 246.3,694.4 246.5,691.3 244.5,689.7 242.9,689.8 240.5,691.3 235.1,697.2 231.9,698.1 227.2,696.5 224.7,692.9 222.5,684 222,678.7 223.2,672.4 227.2,665.2 227.2,661.4 225.3,658.2 217.8,654.9 213.4,650.3 208.3,641.3 205.1,629.9 200.5,620.4 201.1,611 207.3,598.4 207.5,596.8 206.7,595.9 197.3,592.5 187.8,588.1 175.2,578.5 168.9,576.7 157.6,571.6 151.6,567.8 142.2,564.3 139,565.3 134.3,569.6 129.6,572.7 123.2,579.2 116.9,581.8 109.1,588 104.3,589.8 101.2,588.8 96.7,582.6 94.9,581.2 83.9,578.9 79.7,576.3 76,572.8 69.7,570.3 69.7,765.3 71.3,765.3ZM288.6,765.3 298.1,765.3 294.9,761.1 293.3,760 291.8,760.2 287.3,765.3 288.6,765.3ZM323.3,765.3 327.9,765.3 326.4,762.6 324.8,761.8 323.3,762.8 322.4,765.3 323.3,765.3ZM351.6,765.3 373.6,765.3 374.2,763.7 373,760.6 371.5,759 365.8,755.7 362.6,755.2 353.2,761.8 350.9,765.3 351.6,765.3ZM378.4,765.3 386.1,765.3 384.7,763.4 381.6,762.9 378.4,763.7 377.1,765.3 378.4,765.3ZM392.6,764.4 392.8,765.3 411.6,765.3 413.1,760.9 414.6,759.6 427.2,756 428.8,756.1 433.5,760 437.6,762.1 440,765.3 501,765.3 502.8,764.3 503.2,765.3 577.4,765.3 578.4,764.7 579.3,765.3 661.9,765.3 661.9,488.1 301.7,488.1 302.5,489.7 304.4,491.2 309.1,493.2 312.2,493.9 320.1,492.8 323.6,494.4 324.5,497.6 323.4,503.8 325.6,511.7 325.9,519.6 327.5,530.6 329.4,533.8 331.1,535.2 343.1,540.1 343.8,541 343.9,543.2 342.5,548 343.7,552.7 346.9,554 354.8,553.6 365.8,557.1 368.9,556.2 372.1,553.8 373.7,553.8 376.8,557.3 384.5,570 386.9,577.9 392.1,587.3 391.7,590.5 385.2,598.4 381.6,604.8 373.7,610.8 370.1,618.8 367.5,622 359.3,628.3 358.6,634.6 355.4,644 352.1,650.3 352.6,653.5 354.5,658.2 359.5,664 381.7,680.2 389.4,689.1 391,689.9 395.7,689.9 397.3,691 404.7,697.6 406.6,700.7 406.5,705.5 403.6,709.9 400.4,711.3 395.7,712.2 393.7,713.3 392.6,714.9 392.4,716.5 394.7,722.8 394.6,724.4 393.5,725.9 386.3,729 378,735.4 378,738.5 379.1,740.1 391,749.5 391.5,759 392.6,764.4ZM486.2,757.4 485.2,755.9 484.7,752.7 485.5,750.6 487.1,749.7 488.6,750.2 490.2,752.4 490.4,755.9 488.6,758.3 487.1,758.3 486.2,757.4ZM362.1,529 360.7,527.5 360.4,525.9 361.2,524.3 364.2,521.8 368.9,519.8 370.5,517.5 373.6,507 373,500.7 373.4,499.1 375.1,497.6 378.4,497.4 384.7,501.2 392.6,503.4 399,508.6 399.4,510.1 398.7,511.7 390,524.3 386.3,525.2 375.2,525.9 367.4,530.4 364.2,530.2 362.1,529ZM349.4,519.6 345.9,514.9 344.2,510.1 344.3,508.6 345.4,507 348.7,505.4 351.6,504.8 354.8,505 356.9,507 358.2,510.1 357.9,516.1 354.8,520.6 351.6,520.9 349.4,519.6ZM351.6,732.9 356.4,733.7 358.7,732.2 359.8,729.1 359.6,724.4 361.1,722.7 364.2,723.1 373.7,729 375.2,728.9 376.8,727.8 389.7,714.9 392.4,705.5 392.6,700.6 391,699.9 388.6,702.3 386.3,703.3 372.1,705.8 364.2,711.4 362.6,711.7 361.1,711.1 356.4,705.8 354.8,705.3 346.9,705.6 340.6,703.5 337.4,703.3 332.7,704.5 329.1,707 326.6,711.8 326.6,716.5 327.5,718 337.4,720.8 345.3,720.6 350.1,721.5 351.8,722.8 352.4,724.4 350.4,730.6 350.6,732.2 351.6,732.9ZM71.3,561.3 76,560 80.7,557.7 96.5,547 98.6,543.2 100,536.9 99.6,532.2 98,529.7 92.3,527.5 82.3,527 78.5,527.5 69.7,530.3 69.7,561.6 71.3,561.3ZM107.5,525.9 110.6,524.3 111.1,522.8 110.6,520.9 109.1,519.8 107.5,519.8 105.9,520.8 104.8,522.8 104.6,524.3 105.9,525.7 107.5,525.9Z" fill="#f3dbaa" stroke="#f3dbaa" stroke-width="0.6" fill-rule="evenodd"/>
<path d="M71.3,765.3 273,765.3 269.8,760.6 263.4,755 260.3,753.6 254,752.9 252.4,751.6 252.4,749.2 254.9,743.2 254.9,740.1 254,738.5 250.8,736.3 241.4,734 238.2,732.2 236.6,729.1 234.4,721.2 233.7,711.8 232.4,707 230.3,704.9 223.2,700.7 220.3,696 217.3,688.1 214.1,677.1 214.4,674 216.6,666.1 216.2,662.9 213,659.7 208.3,653 200.8,647.2 197.9,644 198,640.9 201.4,634.6 201.6,631.4 200.4,628.3 195.9,622 195.3,617.2 196.2,612.5 201.2,601.5 201,598.4 199.6,596.8 183.1,587.8 175.2,582 167.3,580.5 161.1,577.4 150,574.4 146.9,574.9 139,578.4 132.7,579.8 131.1,581.1 127.1,587.3 125,588.9 115.4,589 107.5,594.5 97.7,593.6 94.4,592 90.2,588.8 82.3,586 79.1,586.7 72.8,591.7 69.7,592.6 69.7,765.3 71.3,765.3ZM469.8,765.3 479.8,765.3 480.1,762.1 479.3,759 474.8,751.1 476.8,743.2 475,735.4 476.1,733.1 477.6,732.9 492.4,737 494.3,738.5 496.5,742.6 498.1,743.5 499.7,743.1 506,738.5 507.6,738 509.2,738.5 510.8,741.7 510.5,746.4 506.4,752.7 511.6,765.3 515.5,765.3 516.6,760.6 516.3,752.7 517,751.5 518.6,750.8 520.2,751.1 522,757.4 523.3,759 526.4,759.9 539,754.9 548.5,749 550.1,748.9 553.2,752.3 554.9,757.4 556.4,758.9 561.1,759.2 562.7,760.6 564.5,765.3 570.9,765.3 572.5,759 574.6,755.9 580.9,751.1 589.4,748.6 591,749 591.4,751.1 590.2,754.3 586.3,760.3 585.7,765.3 595.6,765.3 598.9,762.3 602,761.4 605.9,762.1 609.7,765.3 617,765.3 619.4,763.5 620.9,763.3 622.7,765.3 641.7,765.3 644.6,761.6 649.3,760.1 657.2,751.8 661.9,749.5 661.9,488.1 412.3,488.1 412.2,492.8 413,494.4 414.6,495 418.1,494.4 420,492.8 422.5,489 424.1,488.7 430.4,499.1 430.5,500.7 428.8,502.2 424.1,503.5 420.6,507 419.8,510.1 421.1,516.5 420.4,519.6 419.1,521.2 416.2,522.8 408.3,523.3 405.4,524.3 399.4,530.6 395.7,532.8 391,533.4 383.1,531.3 380.3,532.2 378.5,533.8 377.8,535.4 378.4,538.5 381.6,543.2 383.6,548 382.8,555.8 383.5,560.5 385.1,563.7 390.5,570 391.9,577.9 396.7,584.2 398.2,587.3 398.4,592 397.2,595.2 389.4,601.3 383.1,608.8 376.6,614.1 372.5,623.5 367.3,629.9 366.7,639.3 365.8,641.6 361.8,645.6 359.5,649.9 358.3,655 359,658.2 362.6,662.7 368.7,666.1 375.2,671.6 381.6,675.1 389.4,681.9 392.6,683.1 398.9,683.5 402,684.7 407.4,691.3 416.2,697.4 417.4,699.1 417.7,702.3 416.6,705.5 410.9,714.9 413.4,727.5 413,737 416.9,743.2 419,749.5 420.9,750.2 422.5,749.8 428.8,745.8 431.9,744.8 435.1,745.3 439.8,748.9 441.4,749.3 444.6,748.3 449.3,745.1 452.4,744.5 455.6,745 460.3,748 468.2,750.3 471,752.7 469.8,765.3ZM431.5,738.5 426.2,737 423.8,735.4 422.4,732.2 422.1,724.4 418.2,718 418.5,716.5 419.4,716 427.2,715.4 431.9,709.9 433.5,709.6 435.1,711.5 437.2,718 436.3,729.1 440.2,737 439.4,738.5 436.7,739.6 431.5,738.5ZM535.9,765.3 540.8,765.3 540.7,763.7 539,762.2 537.5,762 535.4,763.7 535.3,765.3 535.9,765.3ZM394.1,737.2 395.7,737.5 396.6,737 397.8,735.4 397.9,733.8 395.7,733.6 394.1,734.8 393.7,735.4 394.1,737.2ZM372.1,720.2 373.7,720.8 375.2,720.5 378.4,717.8 380.8,713.3 380,710.7 378.4,709.9 375.2,710 371.9,711.8 370.5,713.5 369.9,716.5 372.1,720.2ZM337.4,711.9 339.3,711.8 337.4,711 337.4,711.9ZM69.7,554.2 76,551.9 80.7,546.7 88.6,547.1 93.3,545.3 95.2,543.2 96.2,540.1 96.1,536.9 94.9,533.8 93.2,532.2 88.6,530.4 83.9,530 80.7,530.9 78.4,533.8 76,539.2 69.7,540.4 69.7,554.2ZM335.9,531.2 339,531.7 341.1,530.6 342.7,527.5 341.6,524.3 339,523.5 335.2,525.9 334.1,529 335.9,531.2ZM362.6,494.6 365.8,494.8 375.2,488.7 384.7,493.8 387.9,494.5 391,494.2 394.1,491.8 395.6,488.1 357.2,488.1 358.4,491.2 362.6,494.6Z" fill="#efc585" stroke="#efc585" stroke-width="0.6" fill-rule="evenodd"/>
<path d="M71.3,765.3 221.7,765.3 221.7,762.1 223.8,754.3 221.9,748 218.7,741.7 219.4,738.5 223,730.6 222.7,722.8 221.1,718 219.6,716.5 214.2,714.9 214.1,711.8 216.9,705.5 217,700.7 214.6,694.7 210.1,689.7 208.1,681.8 203.6,672.4 203.6,670.4 205.5,664.5 204.5,659.8 201.8,655 194.1,647.6 192.9,644 193.8,639.3 197,633 197.1,631.4 192.9,625.1 191.8,622 192.5,612.5 196.2,604.6 196.9,601.5 195.7,598.7 193.8,596.8 175.2,586 165.8,584.5 159.5,581.8 156.3,581.5 150,584.3 143.7,585.1 134.3,588.1 127.1,593.6 120.8,596.8 115.5,603.1 113.8,604 110.6,604.5 109.1,604 104.3,600.6 101.2,599.6 98,601.2 95.5,604.6 93.3,606 85.5,606 69.7,608.5 69.7,765.3 71.3,765.3ZM209.7,721.2 211,721.2 209.9,722.1 209.7,721.2ZM633.5,760.7 634.5,759 633.5,758.4 632.3,759 633.5,760.7ZM609.9,756.4 613.1,757.4 616.2,756.6 618.3,754.3 622.5,746.1 630.4,742.4 632.6,740.1 633.1,737 632,734 626,730.6 624.8,729.1 624.6,725.9 625.7,724.3 627.2,723.5 632.3,724.4 638.2,729.1 639.8,729.6 652.4,731.4 658.7,735.8 661.9,736.7 661.9,488.1 455.7,488.1 453.6,491.2 450.9,493.1 443,494.6 441.8,496 441.9,497.6 446.1,507 445,510.1 443,511.4 434.9,513.3 431.9,514.6 431.1,516.5 430.3,522.8 427.2,526.4 417.1,529 413.8,530.6 411.8,533.8 409.2,543.2 406.8,546.3 398.9,549.2 397.2,548 396.9,544.8 395.6,541.6 392.6,540.5 390.2,541.6 389.5,543.2 390.5,551.1 388.1,557.4 388.5,560.5 390.6,563.7 400.7,573.1 403.1,576.3 405.6,582.6 405.5,588.9 404,593.6 400.8,598.4 392,604.6 380,617.1 377.4,625.1 372.2,633 370.4,644 368.9,646.6 364.2,651 362.8,653.5 362.4,656.6 362.9,658.2 365.8,660.8 370.5,662.6 376.8,667.4 383.1,670.2 389.4,676.4 392.6,678.3 411.5,680.4 415.9,681.8 419.8,685 422.6,691.3 425.6,693.8 428.8,695.2 435.1,696.4 438.2,696.3 444.6,690.9 449.3,689.6 454,689.5 455.8,691.3 459.2,699.1 461.9,702.1 472.9,702.7 477.1,705.5 477.6,707 476.4,713.3 476.8,716.5 481,725.9 483.9,728.7 487.1,730.3 490.2,730.9 493.4,730.5 495.9,729.1 499.7,724.4 504.4,722.5 507.6,723.4 512.3,727.3 515.4,728.2 530.3,718 531.4,713.3 532.8,711.4 533.7,713.3 532,718 538.5,732.2 540.6,733.3 543.8,733.6 551.6,731.2 557.9,731.9 562.6,735.4 565.8,740.8 567.4,742.1 570.5,737.8 573.7,731 576.9,728.9 578.4,729 581,730.6 586.3,738.8 598.9,733.6 602,733.5 603.6,734.2 606.2,737 607,740.1 603.8,748 603.7,751.1 606.7,754.3 609.9,756.4ZM500.5,705.5 500.1,703.9 500.9,700.7 505.5,697.6 509.3,697.6 513.1,700.7 512.9,702.3 504.4,706.4 502.8,706.7 500.5,705.5ZM625.8,584.2 625.2,581 626.1,579.5 628.8,578.4 631,579.5 631.5,581 630.4,584.3 628.8,585.4 627.2,585.4 625.8,584.2ZM640.4,565.3 639.4,563.7 639,560.5 639.8,559.2 641.4,559.1 643.4,560.5 644.3,563.7 643,565.5 641.4,566 640.4,565.3ZM239.8,751.6 241.4,750.8 242,749.5 241.4,747.4 239.8,747.1 238.2,749.4 238.8,751.1 239.8,751.6Z" fill="#e9b263" stroke="#e9b263" stroke-width="0.6" fill-rule="evenodd"/>
<path d="M71.3,765.3 214.2,765.3 213.5,757.4 216.1,752.7 216.2,750.9 214.6,748.9 208.3,746 203.6,742.5 197.3,736 195.8,732.2 195.7,729.1 200.6,721.2 202.3,713.3 209,707 210.1,705.5 210.9,702.3 210.3,700.7 208.3,699.1 197.3,697.2 194.1,695 192.3,691.3 191.9,686.5 195.7,677.1 194.1,675.1 189.4,673.7 187.7,672.4 187.4,670.8 188.4,667.6 193.2,662.9 195,658.2 194.5,655 190.3,648.8 189.2,645.6 190.2,636.1 188.1,628.3 187.7,622 189.1,611 191.9,601.5 190.2,598.4 188.2,596.8 172.1,589.8 162.6,591.4 156.3,589.7 150,592.2 146.9,592.6 139,591.6 135.9,592 132.7,594 126.3,599.9 123.2,606.8 120.1,609.7 112.2,613 102.8,610.6 96.5,612.2 85.5,611.6 81.5,614.1 75.2,622 73.4,628.3 70.5,634.6 70.4,637.7 69.7,639.3 69.7,765.3 71.3,765.3ZM608.3,729.1 613.1,729.3 614.5,727.5 614.7,725.9 614.2,716.5 610.9,708.6 613.6,699.1 613.1,697.3 609.7,692.9 609.9,692 614.6,689 617,686.5 618.8,680.2 620,678.7 624.1,677.2 630.5,677.1 631.6,670.8 630.4,668.3 625.7,663 625.1,659.8 625.5,658.2 636.7,646.6 643,645.6 647.7,643.1 649.3,640.9 649.7,636.1 648.9,634.6 647.7,633.9 644.6,633.9 636.7,640.6 633.5,641.9 622.5,639.3 620.9,635.5 617.9,634.6 614.6,635.2 609.9,639.4 603.6,640 599.1,637.7 594.2,631.5 592.6,631.3 587.9,632.7 584.7,631.7 581.7,628.3 581.5,625.1 583.1,622.8 589.6,617.2 592.6,615.7 594.8,615.7 598.3,617.2 599.2,618.8 598.8,623.5 599.7,626.7 605.2,629.7 608.3,629.3 609.6,626.7 609.5,622 608.3,619 605.2,615.7 602.1,604.6 603.6,603.1 609.9,602.7 619.4,605.9 622.5,608.7 625.7,612.9 628.8,615.1 633.5,615.7 641.4,614.5 644.6,615.6 651.2,623.5 652,626.7 651.9,631.4 652.6,633 656.3,634.6 661.9,635.2 661.9,618.4 657.2,617.9 655.6,615.7 655.3,599.9 656.6,595.2 655,592 647.7,588.3 644.6,589 642,590.5 640.6,592 639.8,595.2 641.4,598.4 643.9,599.9 644,601.5 641.4,602.7 638.3,601.5 628.8,595.7 620.3,593.6 614.6,588 609.9,588.1 607.9,587.3 606.9,585.8 608.3,575.9 609.8,573.1 611.5,571.7 614.6,570.2 616.2,570.1 620.9,573.1 622.5,573.1 628.2,570 631.5,565.3 631.8,562.1 630.4,559.1 628.8,558 624.1,557.1 622.5,555.4 621.9,552.7 622.2,549.5 624.8,546.4 627.2,545.3 630.4,545.6 636.7,550.3 644.6,553 652.4,558.2 654,557.4 656.2,552.7 658.7,549.4 661.9,548.4 661.9,502.9 644.6,500.4 638.3,504.3 635.1,504.1 632.1,502.3 630.6,499.1 631,496 632,494.5 635.1,493 641.4,494.7 643,493.6 644.5,488.1 621,488.1 619.4,491.4 616.2,492.6 614.5,491.2 613.6,488.1 589.2,488.1 587.9,490.2 584.7,491 581.6,489.7 580.4,488.1 512,488.1 510.7,488.9 509.5,488.1 497.2,488.1 494.9,494.1 493.4,495.6 486.6,488.1 466.9,488.1 465,491.7 458.7,496.5 457.2,500.7 458.6,503.8 460.3,505.2 461.9,505.7 466.9,505.4 468.4,507 468.2,509.5 466.6,510.3 461.9,509.5 458.7,510.7 457.1,513.3 455.5,519.6 452.4,523.8 449.3,524.9 444.6,525 441.4,525.8 435.5,530.6 434,533.8 434,536.9 439.8,538 441.4,540.1 440.9,541.6 438.2,542.5 436,541.6 433.5,537.2 422.5,539.9 419.4,542.2 413.1,549.2 406.8,553.3 402,560.4 398.8,562.1 399.2,563.7 405.2,570 410.7,577.9 413.1,593.6 412.5,595.2 410.7,596.8 395.7,606.9 391,613.7 384.7,620.3 375.8,636.1 373.7,648.2 371,655 375.2,657.5 380.5,662.9 395.2,674 400.4,675.3 413.1,676 425.6,680.6 435.1,679.9 441.4,682.2 444.6,682.6 460.3,679.2 463,680.2 468.2,684.1 471.3,685.3 482.4,687 496.5,686.8 501.2,687.4 504.4,686.7 506,685 509.1,678.5 510.7,677.3 513.9,677.4 517,680 518.4,683.4 518.8,686.5 516.5,689.7 516.2,691.3 518.6,693 522.2,692.9 529.6,690.3 532.1,688.1 534.3,684.8 540.6,682.6 546.9,677.8 550.1,677.2 553.2,677.7 556.2,680.2 556.5,681.8 555.6,685 553.2,687.9 546,692.9 546.8,694.4 551.6,696.9 554,699.1 556.4,708.6 561.1,718.2 563,719.6 570.5,722.6 580,723 586.3,724.8 588.4,724.4 589.4,722.8 588.9,721.2 583.1,713.1 578.4,710.9 575.3,710.5 572.1,711.3 571,710.2 573.7,709.4 575.3,708.1 576.9,705.2 578.4,698.8 580,698 581.6,698.2 585.8,700.7 586.6,702.3 585.2,708.6 586.3,711.6 587.9,712.8 591,713.9 592.6,713.5 595.7,710.4 597.3,710.2 603.9,713.3 606.1,716.5 606.2,718 605.2,719.6 599.6,722.8 598.4,724.4 599.9,725.9 608.3,729.1ZM592.2,705.5 589.7,702.3 590.7,700.7 592.6,700.4 594.2,701.5 594.9,703.9 594.2,706.4 592.2,705.5ZM605.4,653.5 604.1,650.3 605.2,647.3 608.3,646.5 609.9,647.1 610.8,648.8 609.9,652.5 608.3,654.1 606.8,654.2 605.4,653.5ZM600.4,529 599.5,525.9 600.5,521.9 602,519.4 603.6,518.7 605.2,519.2 606.8,520.6 607.8,522.8 606.9,525.9 603.6,529 602,529.5 600.4,529ZM553,502.3 552.3,499.1 553.2,497.5 556.4,497.3 558.5,499.1 558.6,500.7 557.3,502.3 554.8,502.9 553,502.3ZM490.2,726 491.8,725.3 493.4,723.3 493.8,719.6 491.8,717.1 488.6,716.3 486.9,718 486,722.8 487.1,724.9 490.2,726ZM635.1,708.8 635.1,706.6 634.5,707 635.1,708.8ZM635.1,691.8 646.1,691.8 647.7,690.8 650,685 652.4,681.7 655.6,680.7 661.9,680.4 661.9,663.5 658.7,663.5 656.8,664.5 654.8,670.8 652.4,674 650.9,675 647.7,674.2 644.6,671.2 642.4,672.4 640.4,677.1 639.1,678.7 632,679.7 632.9,688.1 633.5,690.2 635.1,691.8ZM71.3,617.4 71.3,615.7 69.7,615.3 69.7,617.9 71.3,617.4ZM661.9,493 661.9,488.1 658.1,488.1 659.5,491.2 661.9,493Z" fill="#e6a04e" stroke="#e6a04e" stroke-width="0.6" fill-rule="evenodd"/>
<path d="M71.3,765.3 198.9,765.3 197.3,755.3 195.7,754.9 191.1,760.6 189.4,761 186.2,757.5 184.7,751.7 183.1,749.3 179.9,747.4 176.7,748 181.9,741.7 188.5,735.4 187.8,732.3 184.4,729.1 183.7,727.5 184.7,723.3 187.4,718 185.4,708.6 188,700.7 188,696 185.5,689.7 184.7,684.5 184.1,683.4 179.5,680.2 178.3,678.7 177.7,675.5 178.4,672.4 183.4,662.9 188.2,656.6 185.2,648.8 185.1,639.3 183.2,633 181.8,623.5 182,620.4 184,615.7 184.1,611 181.8,606.2 177.5,603.1 173.6,598.3 170.5,597.1 164.2,598.6 156.3,597.5 151.6,597.9 147.1,599.9 145.4,601.5 142.2,607.8 140.6,608.7 137.6,607.8 134.3,603.6 132.7,604.4 126.4,611.7 120.1,617.2 110.5,628.3 104.3,632.3 99.6,636.6 98,637.3 91.8,637.8 85.5,640.5 69.7,644.7 69.7,765.3 71.3,765.3ZM565.8,689.7 567.4,689.6 569.3,688.1 569.5,686.5 567.4,684.8 565,685 563.4,686.5 563.3,688.1 565.8,689.7ZM468.2,677.5 471.3,678.6 477.6,677.5 483.9,678.6 498.1,676.9 501.2,675.3 506,669.2 509.1,668.4 518.6,671.8 528,670.8 535.9,673.5 540.6,673.4 548.8,670.8 550.7,669.2 553.2,665.2 554.8,664.3 561.1,665.5 565.8,664.6 570.5,659.8 572.1,653.7 573.7,653.7 574.2,655 574,659.8 574.8,662.9 576.9,665.6 578.4,666.3 583.1,666.4 587.9,665.3 591,663.3 592.1,661.4 591.6,658.2 589,651.9 591.6,647.2 591,644.1 589.4,643.5 587.9,643.7 584.7,646 581.6,646 580,644.8 577.7,640.9 576.8,634.6 574.5,626.7 575.8,618.8 575,615.7 567.4,611.3 562.7,603.9 561.1,602.6 554.8,600.1 553.2,598.4 551.9,595.2 552.4,592 556.4,585.6 564.2,579.3 566.5,568.4 570.4,560.5 572.3,559 579.2,555.8 581.1,552.7 579.4,548 571.2,536.9 571.1,535.4 574.6,530.6 574.5,529 569.7,522.8 568.6,519.6 569.4,516.5 571.9,511.7 571.6,508.6 570.2,505.4 569,504.1 567.4,503.8 559.5,508.1 548.5,509.5 546.9,508.4 545.6,505.4 543.7,494.4 538,488.1 534.3,488.1 531.8,492.8 529.6,493.9 523.3,493.7 520.1,494.5 518.5,496 517.7,499.1 519,502.3 527.1,505.4 530.6,510.1 532.1,514.9 533.1,522.8 537,530.6 537,533.8 536.1,535.4 534.3,536.5 531.2,537 528.2,535.4 526.1,529 521.7,522.8 518.6,515 512.7,507 506,505.6 496.5,507.2 488.6,506.6 485.5,508.4 484.7,510.1 484.1,514.9 485,518 487.1,519 491.8,519.1 495.3,518 499.7,515.4 501.2,516.4 504.4,531.6 507.9,536.9 507.6,538.2 506,538.5 501.2,535.9 490.2,533 487.1,533.5 482.4,537.1 480.8,537.4 477.6,536.7 475.2,535.4 473.8,533.8 473.8,532.2 479,525.9 480.1,522.8 479.7,521.2 477.4,519.6 471.3,518 466.6,518.1 462.7,519.6 461.5,521.2 460.9,524.3 461.8,525.9 467.2,530.6 467.8,532.2 466.2,538.5 467.1,546.4 469.8,549.4 479.1,552.7 479.9,554.2 479.4,557.4 477.9,560.5 471.3,567.4 468.2,568.4 466.6,567.7 457.5,559 456.5,555.8 456.9,551.1 455.6,548.5 454,547.8 443,548.6 433.5,551 427.2,548.7 424.1,548.3 420.9,549.6 417.8,552.2 412.7,559 410.4,565.3 410.4,568.4 411.9,571.6 418.2,579.5 421.1,584.2 429.8,592 431.4,595.2 431.2,596.8 428.8,600.8 425.6,603 419.4,603.8 411.5,608 403.6,609.5 402,611 399.5,617.2 390.8,626.7 388.6,634.6 386.3,636.6 381.6,638.5 379.5,640.9 378.9,644 379.6,647.2 385.7,659.8 391,665.9 397.3,670.1 403.6,671.8 413.1,672 422.5,675.3 427.2,676 438.2,676.1 446.1,674.5 454,674.5 460.3,673.6 463.4,674.5 468.2,677.5ZM563.6,639.3 563.1,637.7 564.3,634.6 567.4,633.5 569.6,634.6 570.4,636.1 570,637.7 568.5,639.3 565.8,640.5 563.6,639.3ZM440.7,599.9 437.6,596.8 437.9,593.6 444.6,588.3 447.7,584.7 449.3,583.7 450.9,584.3 451.5,585.8 451.5,588.9 447.4,596.8 444.1,599.9 443,600.4 440.7,599.9ZM552.2,540.1 549.9,536.9 548.7,530.6 546.3,524.3 546.8,522.8 548.5,522 559.5,521 561.1,521.9 562.5,524.3 563,527.5 562.2,530.6 557.8,540.1 554.8,541.3 552.2,540.1ZM575.3,601.7 580,602.7 581.6,602 582.7,599.9 582.3,595.2 579.1,590.5 578.4,585.8 579.4,582.6 586.3,579 586.7,577.9 586.2,574.7 584.3,571.6 581.6,571.7 579.2,573.1 576.9,576.1 575.3,580.1 569,583 566.9,585.8 566.6,598.4 567.4,599.8 569,600.5 575.3,601.7ZM584.7,526.3 587.9,527.3 591,525.9 592.6,524.1 594.3,519.6 594.2,516.5 592.7,513.3 587.9,508.1 585.7,508.6 584.1,511.7 585.3,518 584.4,524.3 584.7,526.3ZM630.4,523.5 631.9,522.8 632,520.2 630.4,520.7 630.4,523.5ZM613.1,517 616.2,516.6 619.6,513.3 621.3,510.1 620.9,506.5 619.4,505.8 617.8,506.2 613.1,508.4 611,510.1 610.2,513.3 611.5,515.7 613.1,517ZM575.3,499.9 580,499.9 581.3,499.1 581.7,497.6 579.1,494.4 575.3,492.8 573.7,493 572.5,496 573.7,499 575.3,499.9ZM562.7,491.3 567.4,490.5 568.7,489.7 569.5,488.1 555.4,488.1 557.5,489.7 562.7,491.3Z" fill="#de8b36" stroke="#de8b36" stroke-width="0.6" fill-rule="evenodd"/>
<path d="M71.3,765.3 157.1,765.3 157.9,763.1 159.5,761.4 167.3,757.1 168.4,754.3 169.5,744.8 172.1,737 171.8,733.8 170,729.1 170,725.9 172.1,719.7 174.6,714.9 170.5,706.5 165.6,703.9 164.2,702.3 163.4,697.6 164.2,694.2 165.8,692.6 170.5,690.2 173.3,685 172.7,678.7 171.5,675.5 167.6,669.2 167,662.9 167.7,659.8 168.9,658 173.6,654.3 175,650.3 173.4,644 174.6,637.7 174,634.6 172.5,633 168.9,631.5 167.6,628.3 170,617.2 169,609.4 167.3,606.9 161.1,605.2 156.3,603 153.2,604.1 149.2,614.1 149.1,622 146.9,623.3 142.1,622 135.6,615.7 132.1,615.7 130.8,617.2 131,622 129.2,623.5 123.2,625.5 120.9,628.3 121.1,631.4 123.6,636.1 123.2,638 120.1,638.9 112.2,636.9 108.4,637.7 106.1,640.9 104.3,647.3 101.1,650.3 85.5,654.9 77.6,658.2 76.7,656.6 76.8,651.9 76.1,650.3 73.7,648.8 69.7,648.3 69.7,765.3 71.3,765.3ZM178.4,764.4 178.4,762 178.4,764.4ZM425.6,672.5 435.1,672.8 447.7,669.7 460.3,670.2 468.2,671.4 474.5,671 480.8,672.2 485.5,672.2 491.8,669.9 501.2,663.5 506,661.6 509.1,661.5 518.6,663.5 528,662.6 532.4,659.8 535.9,655.2 540.6,653.7 542.9,651.9 544.2,650.3 544.5,647.2 543.1,642.5 542.5,637.7 540.6,636.7 539,636.4 529.6,645.6 528,646.5 526.2,645.6 528.6,631.4 527.8,629.9 521.5,625.1 520.5,622 522.1,618.8 526.4,616.2 529.6,616.1 535.9,617.9 538.5,617.2 539,615.3 535.9,609.5 535.9,607.8 537.5,604.6 541.5,599.9 542,596.8 540.6,594.4 535.9,591.2 533.8,588.9 531.8,582.6 529.6,579.6 528,578.6 526.4,578.6 523.9,582.6 521.7,583.3 519.5,581 517.4,574.7 518.6,572.6 523.3,572.9 524.1,568.4 525.6,566.9 529.6,565 532.8,566.2 537.5,572.7 540.6,572.7 545.4,568.8 547.1,563.7 546.7,555.8 549.1,551.1 547.5,546.4 545.4,543.7 542.2,542.8 535.9,543.5 531.2,543 521.7,540.1 518.6,540 515.4,542.9 513.7,546.4 513.3,549.5 514.4,554.2 513.9,558 512.3,559.8 509.1,560.4 506,559.9 505,559 504.6,555.8 505.8,551.1 504.5,548 499.7,542.9 496.5,541.9 494.9,542.2 492.3,544.8 486,559 486.5,562.1 493.1,570 493.7,571.6 491.3,576.3 487.1,580.9 483.9,582.4 480.8,582 479.2,581.1 474.7,576.3 472.9,575.8 470.4,576.3 467.8,577.9 465.5,581 465.9,584.2 473.7,588.9 477.6,595.8 479.2,597 480.8,596.9 488.6,592.7 491.8,592.3 493.4,592.8 494.2,593.6 494.1,595.2 490.2,600.5 487.1,602.1 476.1,603.5 463.4,598.6 460.3,598.8 454,600.9 450.9,603.1 449.1,606.2 449.6,612.5 447.7,617.9 444.6,622.6 441.4,624.3 433.5,616.7 431.9,615.9 427.2,615.3 422.5,611.9 420.9,611.4 417.8,612.1 413.1,615.7 412.3,618.8 417.3,625.1 419.1,629.9 416,631.4 408.3,632.3 402,631.8 398.9,632.8 392.6,640.1 387.7,644 386.5,645.6 386.3,648.8 387.9,653.3 391.6,659.8 394.1,662.9 397.3,665.4 403.6,667 413.1,665.6 414.6,666.1 420.6,670.8 425.6,672.5ZM459.2,628.3 458.1,626.7 458.9,623.5 461.9,622.2 465.2,623.5 466,625.1 465,627.5 461.9,628.8 459.2,628.3ZM505.1,625.1 504.3,622 505.3,618.8 507.6,616.8 510.7,617.1 511.3,620.4 510.1,623.5 507.6,626 506,625.9 505.1,625.1ZM457.1,576.6 458.7,577 459.6,576.3 459.9,574.7 458.7,571.1 446.1,558.4 444.6,560.7 443.8,563.7 443.5,566.9 444.2,568.4 446.1,570.1 452.4,572.6 457.1,576.6ZM420.9,573.4 425.6,573.7 428.8,572.4 432.6,568.4 433.5,566.9 433.5,565.3 431.9,564.6 425.6,564.5 420.9,563.1 417.8,563.8 416.2,565.6 415.7,568.4 417.6,571.6 420.9,573.4ZM510.7,528.3 513.9,528.1 516.1,525.9 515.6,521.2 513.9,519.1 512.3,518.4 509.1,519.1 507.6,522 508.2,525.9 510.7,528.3ZM537.5,510.2 539,510 539.9,507 539,503.4 537.5,502.2 535.9,502.7 535.1,505.4 535.9,508.3 537.5,510.2Z" fill="#d47a28" stroke="#d47a28" stroke-width="0.6" fill-rule="evenodd"/>
<path d="M71.3,765.3 130.5,765.3 130.3,762.1 127.7,757.4 128.1,754.3 132.4,748 133.1,740.1 139.7,730.6 150.9,718 151.2,716.5 150.5,714.9 145.6,710.2 145.4,705.5 150,697.1 157.9,687.2 159.6,681.8 159.5,681.1 157.9,681.1 150,689.2 146.9,689.8 140.2,688.1 137.9,686.5 136,680.2 134.3,678.6 121.4,677.1 124.8,670.1 126.4,668.7 134.3,671.5 137,670.8 138.5,669.2 138.5,666.1 135.6,656.6 136.8,653.5 139,652.3 140.6,653 142.3,655 145.3,664.4 146.9,667 151.6,666.6 152.8,667.6 151.6,670.7 150,672.2 146.9,668.7 145.3,668.9 142.5,670.8 142.2,672.8 143.5,674 145.3,674 150,672.4 157.9,677.5 159.5,676.4 160.4,667.6 159.8,656.6 159.1,655 148.4,645.4 145.3,645.1 139,646.4 132.7,645.2 129.5,645.3 124.2,647.2 122,648.8 121.8,650.3 125.6,658.2 125.3,662.9 123.2,664.8 113.8,665.5 111.1,666.1 109.5,667.6 111.5,678.7 108.9,686.5 104.3,691.4 102.8,692.2 101.2,692 99.9,689.7 101.7,681.8 100.9,680.2 98,679.1 88.6,677.5 82.3,673.5 80.4,674 78.5,680.2 77.6,681 69.7,683.6 69.7,740.8 71.4,741.7 72.6,744.8 72.4,752.7 69.7,754.4 69.7,765.3 71.3,765.3ZM108,722.8 103.3,718 102.6,716.5 103.1,714.9 113.8,710.6 116.9,710.8 118.5,711.9 120.5,714.9 121.1,718 120.2,721.2 118.7,722.8 113.8,724.3 108,722.8ZM122.7,699.1 119.4,696 117.8,691.3 118.5,685.3 120.1,682.9 131.5,691.3 133.6,694.4 132.7,697.5 131.1,698.3 124.8,699.6 122.7,699.1ZM118.3,681.8 117.1,680.2 117.2,678.7 120.1,677.7 120.9,678.7 120.1,681.2 118.5,682.3 118.3,681.8ZM139,765.3 150.7,765.3 150,762.7 148.4,760.6 145.3,759.5 140.5,762.1 139,765.3ZM159.5,745.2 161.1,745.2 163,743.2 163.9,740.1 162.6,738 154.2,740.1 153.9,741.7 154.8,743.2 159.5,745.2ZM70,669.2 70.9,667.6 69.7,665.5 70,669.2ZM93.3,669.9 94.9,670.4 99.6,669.8 106.3,667.6 109,666.1 108.2,662.9 106.4,659.8 104.3,658.1 99.6,657.1 96.5,657.6 93.3,659.5 91.9,661.4 91.4,664.5 92,667.6 93.3,669.9ZM427.2,669.5 433.5,669.4 447.7,665.5 463.4,667.1 471.3,666 479.2,668.4 483.9,668.3 488.6,666.3 506,654.1 509.1,653.6 515.4,655 517.5,653.5 517.2,651.9 513.3,645.6 512.7,639.3 512.1,637.7 510.7,636.6 506,636.1 499.7,639 493.2,639.3 490.7,637.7 487.1,633 482.4,630.5 477.6,625.7 476.1,625.5 472.8,631.4 468.2,633.6 457.1,633 450.9,630.8 448.8,634.6 446.1,637.6 439.8,640.9 431.9,646.3 428.8,647.6 427.2,647.6 425.6,646.6 422.6,640.9 419.4,638.9 413.1,638.6 407.2,640.9 405.4,642.5 404.1,645.6 403.3,658.2 404.9,659.8 406.8,660.3 409.9,659.9 414.6,658.1 417.8,658.1 419.4,659.6 422.5,666.8 427.2,669.5ZM150,639.6 153.2,639.7 155.8,637.7 157.9,633 158.4,629.9 157.9,628.8 150,630.5 146.9,632.6 146.4,634.6 146.9,636.1 150,639.6ZM161,624 163,620.4 162.6,617.9 161.1,617.8 159.5,620.1 159.5,622.2 161,624ZM520.1,606.4 523.3,607.4 526.6,606.2 529.2,603.1 529.5,601.5 528.6,599.9 526.4,599 524.9,599.4 521.5,601.5 519.2,604.6 520.1,606.4Z" fill="#c76a22" stroke="#c76a22" stroke-width="0.6" fill-rule="evenodd"/>
<path d="M71.3,765.3 72.8,765.3 72,763.7 69.7,762.5 69.7,765.3 71.3,765.3ZM80.7,765.3 92.1,765.3 93.3,763.3 98.1,760.6 99.1,757.4 98,754.3 96.5,753 94.9,752.9 90.2,756.9 82.3,760.2 80,763.7 79.7,765.3 80.7,765.3ZM109.1,765.3 121.4,765.3 120.6,763.7 118.5,762.1 113.8,761.4 109.1,763 107.5,765.3 109.1,765.3ZM90.2,746.6 93.3,747.4 94.9,746.4 100.6,738.5 100.7,737 99.6,735.4 93.3,731 86.3,740.1 86.6,743.2 90.2,746.6ZM118.5,746.5 120.2,746.4 119.8,744.8 118.5,744.1 118.5,746.5ZM107.5,744.9 109.1,745.4 111.3,744.8 115.4,741.1 118.5,740.6 121.7,738.8 124.2,735.4 124,732.2 121.7,731.1 116.9,731.7 110.6,730.8 106.3,732.2 103.9,737 105.9,742.9 107.5,744.9ZM91.8,729.9 93.3,730.1 94.8,727.5 94.7,724.4 87.7,719.6 82.5,711.8 80.7,710.3 79.1,709.9 76,710.8 71.4,714.9 71.3,716.5 79.7,721.2 91.8,729.9ZM428.8,665.1 431.9,664.5 436.7,662.2 449.3,660.3 461.9,662.6 469.8,661.9 477.6,663.8 480.8,663.9 483,662.9 488.6,656.7 494.5,653.5 495.3,650.3 493.4,649.2 490.2,649.4 487.1,648.3 480.8,642.1 477.6,640 474.5,639.4 468.2,640.8 461.9,638.4 458.7,638.5 455.6,640.2 449.3,645.4 443,645.8 438.2,647.8 427.2,656 425.7,658.2 425.5,661.4 427.2,664.5 428.8,665.1ZM411.5,651.1 414.6,651.1 417.6,648.8 417.5,645.6 416.2,644.4 413.1,644 410.5,645.6 409.8,648.8 411.5,651.1Z" fill="#b65a1c" stroke="#b65a1c" stroke-width="0.6" fill-rule="evenodd"/>
<path d="M312.2,742 313.8,742.4 315.8,741.7 316.5,737 315.4,732.8 312.2,730.3 309.1,729.4 305.9,729.6 298.1,731.9 295.7,733.8 296.2,737 299.5,740.1 307.5,740.6 312.2,742ZM296.5,704.1 299.6,703.5 304.4,700.7 307.5,699.8 320.1,700.7 328,699.8 334.7,697.6 343.8,692.7 351.6,694.9 362.6,696.8 365.5,696 368,692.9 369.3,685 367.9,678.7 365,675.5 359.1,672.4 348.2,664.5 340.8,653.5 339.6,650.3 340.2,647.2 343.7,642.5 345.2,639.3 344,629.9 344.7,626.7 346.9,622.3 350.1,619.7 357.9,618.6 361.1,616.8 362.4,614.1 363.2,609.4 366.6,603.1 367.8,593.6 370.5,591 378.4,589.5 380,587.3 379.4,584.2 373.7,577.9 370.2,570 368.3,568.4 359.5,566 334.3,565.3 328,564.3 323.6,562.1 318.6,557.4 315.4,556.1 310.7,556.8 306.1,560.5 302.8,561.2 300.8,559 300.7,555.8 301.6,554.2 307.5,551.2 309.7,546.4 309.7,543.2 307.5,540.8 301.2,536.6 295.4,527.5 283.9,517.5 282.3,517.6 280.8,519 275.9,527.5 275.3,530.6 276,534.5 274.7,536.9 265,542.5 261.8,542.6 258.7,541.4 254.3,538.5 253.4,536.9 253.4,532.2 252.4,529.3 250.8,527.9 246.1,525.8 245.5,524.3 246.9,519.6 246.8,516.5 242.9,512.8 236.8,510.1 236,503.8 235.1,502.3 231.9,501.3 230.3,501.6 228.8,502.8 225.6,507.4 222.5,508.3 218.2,507 215,503.8 213.9,500.7 214.7,499.1 223.3,489.7 223.8,488.1 152.3,488.1 154,494.4 153.9,497.6 151.6,506.1 150,507.2 137.4,504.4 133.7,500.7 132.6,497.6 132.8,496 137.6,488.1 83,488.1 80.8,492.8 80.7,499.1 79.6,500.7 76,502 69.7,502.3 69.7,520.5 83.9,521.8 93.3,520.7 98,518.3 104.3,510.9 105.9,509.8 109.1,509.1 121.7,512.9 128,517.9 139,521.3 146.9,522.1 154.8,520.8 157.9,522.1 159.6,524.3 160.8,527.5 161.3,533.8 160.4,538.5 156.4,544.8 155.9,547.9 158.7,557.4 162.1,563.7 165.8,567.1 176.8,573.7 186.5,582.6 191,585.7 200.4,589.3 211.4,591 214.6,593.6 215.5,598.4 211.8,609.4 211.3,615.7 214.3,625.1 215,633 222.5,644 224.6,645.6 231.9,648.6 233.5,650.2 236.1,656.6 238.2,659.8 243.5,666.1 250.3,670.8 252.4,678.7 261,686.5 263.1,692.9 264.4,694.4 269.7,695.5 275.1,700.7 277.6,702 287.1,701.4 296.5,704.1ZM263.1,563.7 258.4,560.5 257.6,557.4 258.7,555.4 261.8,553.6 269.7,552.3 276,550.4 278.9,551.1 279.4,552.7 273.2,563.7 269.7,564.8 263.1,563.7ZM243.9,540.1 243,538.5 244.5,536.7 248.2,536.9 250.3,538.5 249.6,540.1 247.7,540.9 243.9,540.1ZM231.5,535.4 230,533.8 230,530.6 230.7,529 233.5,528.2 236.1,529 237.8,530.6 238.8,533.8 238.2,534.8 235.1,535.7 231.5,535.4ZM104.3,578.1 105.9,579.2 107.5,579.3 120.1,570.3 127.8,562.1 130.7,557.4 132,551.1 130.3,541.6 126.4,536.4 121.7,532.8 110.6,535.8 107.5,538.9 104.1,544.8 100.9,557.4 103.2,565.3 101.7,573.1 104.3,578.1ZM269.7,503.1 271.3,503.4 273.3,502.3 271.3,501.1 268.9,502.3 269.7,503.1ZM71.3,493.1 73.6,491.2 74.2,488.1 69.7,488.1 69.7,493.4 71.3,493.1Z" fill="#e8eaf5" stroke="#e8eaf5" stroke-width="0.6" fill-rule="evenodd"/>
<path d="M320.1,696.4 324.8,697.2 331.1,696.1 334.6,694.4 342.2,688.8 345.3,687.9 353.2,688 356.3,686.5 359.5,683.1 359.7,680.2 343.1,666.1 339.3,658.2 334.9,651.9 335,647.2 338.8,640.9 339.6,637.7 336.1,631.4 335.1,628.3 335.8,626.7 340.6,622.7 344.6,615.7 346.9,614 354.4,611 361.5,603.1 362.9,599.9 363,593.6 363.8,590.5 365.8,587.5 369.5,584.2 370,582.6 369.1,579.5 367.4,576.9 363.3,573.1 359.5,571.3 335.9,570.1 324.8,567.3 315.4,562.7 312.2,562.8 304.4,565.1 301.2,564.7 299.2,563.7 293.3,558.4 291.8,557.9 288.6,558.3 282.3,560.6 277.2,565.3 274.4,566.9 269.7,567.5 260.9,566.9 256,565.3 249.2,560.5 244.4,554.2 241.4,552.2 230.3,550.3 225.6,553.6 224.1,553.1 220.9,548.2 214.6,546.5 213.4,544.8 214.2,543.2 219.3,539.8 222.6,533.8 222.8,527.5 219.9,518 210.5,508.6 202.4,505.4 200.2,503.8 199.6,502.3 199.3,496 193.7,491.2 191.6,488.1 183.7,488.1 181.5,491.9 179.9,493.1 178.4,493.3 176.6,492.8 174.8,488.1 158.7,488.1 159.5,492.6 162.6,499.3 164.2,499.3 168.9,496 170.9,496 171.2,502.3 174,511.7 172.4,519.6 172.1,525.9 170.6,530.6 168.3,535.4 160.1,548 159.9,551.1 160.8,554.2 165.1,562.1 168.3,565.3 178.4,572.3 187.8,581.3 192.6,584.7 200.4,587.6 211.4,588.4 215.6,590.5 217.6,593.6 218.3,598.4 216.4,614.1 216.8,618.8 220.3,628.3 225.1,631.4 226.4,633 226.9,639.3 227.8,640.9 236.6,645.4 241.4,649.6 251,651.9 253.4,655 253.5,661.4 254.1,662.9 260.3,669.5 271.3,671.3 276,673.9 278.4,677.1 279.6,685 282.3,690 284,691.3 287.1,691.9 301.2,689.9 312.2,692.5 320.1,696.4ZM112.2,567.4 115.4,567.2 120.1,564.1 123,560.5 124.4,557.4 125.9,544.8 124.7,541.6 120.1,538.4 115.4,538.2 112.2,539.8 108,544.8 106.6,548 106,555.8 112.2,567.4ZM79.1,518.3 85.5,518.7 94.9,515.8 97.4,513.3 98.4,510.1 95.6,503.8 96.5,501.5 98,500.9 104.3,503.9 112.2,502.8 114.9,500.7 115.4,499.1 114.1,494.4 109.1,490.8 106.7,488.1 99.3,488.1 99.5,492.8 98,495.6 96.5,496 91.8,493.1 90.2,493.7 88.6,496 88,502.3 86.6,503.8 83.3,505.4 72.8,507.5 69.7,509 70.1,514.9 72.8,516.5 79.1,518.3ZM208.3,493 210.1,492.8 212.6,491.2 213.8,488.1 205,488.1 205.1,491.4 208.3,493ZM121.7,491.4 123.2,491.6 124.8,490.6 126,488.1 119.5,488.1 119.8,489.7 121.7,491.4Z" fill="#d8d9ee" stroke="#d8d9ee" stroke-width="0.6" fill-rule="evenodd"/>
<path d="M321.7,693 326.4,694 331.1,692.9 334.3,691.1 345.7,681.8 346.1,678.7 343.8,674.6 340.6,671.7 334.8,669.2 333.1,667.6 333.5,662.9 333,661.4 326.4,658.5 325.6,656.6 326.2,653.5 331.7,644 332.7,639.3 332,636.1 327,626.7 326.5,622 327.9,618.8 329.6,617.4 335.9,616.1 348.5,608.3 352.5,604.6 356,598.4 357.9,586.1 359.9,581 359.6,579.5 357.8,577.9 354.8,576.8 340.6,575.4 321.7,570.5 313.8,567.5 302.8,567.4 291.8,563.7 287.1,564.5 277.6,568.4 272.9,569.5 257.1,569.4 253.6,568.4 247.7,565.4 244.5,564.8 236.6,568.7 233.5,569.4 231.9,569 228.7,563.7 220.9,559 216.2,553.7 209.9,549.5 207.4,546.4 206.8,543.2 209.7,535.4 206.3,527.5 205.1,517.7 202,516.5 194.1,517.4 191.5,516.5 187.2,513.3 183.1,513.4 181.5,515.2 180.7,518 181.2,524.3 179.6,535.4 176.8,538.2 168.9,542.2 165.8,545.1 164,548 164,552.7 169.5,562.1 181.5,572.4 190.2,581 194.1,583.7 202,586.3 213,586.1 216.2,587.3 218.1,588.9 219.9,592 220.8,596.8 221.3,620.4 224.1,625.1 231.3,631.4 234.2,637.7 244.5,645.4 254,647.2 257,648.8 258.7,651 260.9,656.6 263.4,659.7 272.9,662.6 287.1,676.9 294.9,680.5 302.8,681.8 309.1,686.1 315.4,688.8 321.7,693ZM115.4,557.6 117.7,557.4 119.3,555.8 121.1,548 120.1,543.9 116.9,542.5 114.3,543.2 112.4,544.8 110.7,551.1 111.2,554.2 112.2,555.8 115.4,557.6Z" fill="#c5c2e2" stroke="#c5c2e2" stroke-width="0.6" fill-rule="evenodd"/>
<path d="M321.7,688.1 326.4,689.4 331.1,688.1 338.9,681.8 339.4,678.7 337.4,676.5 334.3,675.8 323.3,675.6 318.6,676.9 316.6,678.7 315.6,681.8 317.8,685 321.7,688.1ZM307.5,677.3 310.7,677.2 312.2,676.4 316.8,670.8 318.8,662.9 318.5,659.8 316.2,655 316.4,651.9 324.8,646.2 327.4,642.5 326.9,637.7 322.1,629.9 321,626.7 323.1,617.2 328,609.8 331.1,607.1 334.3,606.4 339,607.3 342.2,607 345.3,605.4 348.5,602.6 350.9,598.4 351.9,593.6 351.4,587.3 349.8,582.6 346.9,580.8 318.6,573.9 310.7,570.7 293.3,567.5 287.1,568 276,571 260.3,572.3 254,572.1 244.5,570.8 231.9,575.3 228.8,575.6 226.2,573.1 223.5,566.9 218.5,562.1 213.6,555.8 205.8,549.5 203.6,546.4 202.7,541.6 204.2,536.9 204.2,533.8 200.4,524 198.8,522.8 195.7,522.5 190.6,524.3 187.8,527.5 184.7,536.9 183.1,539.4 180.2,541.6 171.2,546.4 168.9,549.5 172.6,560.5 174.7,563.7 183.8,571.6 191.1,579.5 195.7,582.7 200.4,584.4 203.6,584.7 214.6,583.6 220.9,586.5 222.4,588.9 222.9,592 224.4,607.8 224.5,617.2 225.3,620.4 227.6,623.5 231.9,627.5 235.1,629.4 244.5,631.3 252.4,632 254,633.3 256,639.3 265.2,645.6 271.3,651.3 277.8,655 285.3,664.5 291.8,667.8 298.1,668.4 298.8,669.2 299.7,674 301.2,675.4 307.5,677.3ZM307.3,634.6 305.6,631.4 306.2,629.9 309.1,628.5 312.4,629.9 312.9,633 312.1,634.6 309.1,635.5 307.3,634.6Z" fill="#b2acd9" stroke="#b2acd9" stroke-width="0.6" fill-rule="evenodd"/>
<path d="M266.6,636.6 269.7,636 276,631.6 287.1,632.7 291.8,632.1 295.9,628.3 301.4,625.1 309.1,622.2 315.4,621.3 318.1,618.8 328,604.2 331.1,602.3 340.6,600.5 343.3,598.4 344.3,595.2 343.7,587.3 340.6,584.6 332,581 317,576.6 309.1,573.1 294.9,570.4 287.1,570.8 258.7,574.9 242.9,575.6 238.2,576.9 233.4,579.5 228.5,584.2 225.9,593.6 227.2,614.1 229.5,620.4 231.9,623.5 235.1,625.6 257.1,627.7 260.1,629.9 263.4,634.7 266.6,636.6ZM200.4,582.8 205.1,582.8 213,580.7 220.9,580.4 222,579.5 222.3,576.3 220,570 214.5,563.7 211.4,558.5 201.7,549.5 199.2,546.4 196.6,540.1 196.3,536.9 197.5,533.8 197.2,532.2 195.7,530.6 194.7,535.4 193.2,536.9 189.4,539.2 184.7,543.5 177.5,548 176.1,551.1 175.8,559 177.9,563.7 186.2,570.5 193.9,579.5 197.3,581.7 200.4,582.8Z" fill="#a097cc" stroke="#a097cc" stroke-width="0.6" fill-rule="evenodd"/>
<path d="M280.8,625.7 283.9,626.4 288.6,625.8 301.2,621.6 307.5,618 315.4,614.9 320.1,610.1 326.4,601.2 329.6,598.8 335.9,595.8 337,593.6 336.5,590.5 334.3,588.3 325,582.6 309.1,575.4 302.8,573.6 296.5,572.9 269.7,574.9 260.3,577 247.7,578.6 238.2,581.4 232.9,585.8 229.8,590.5 228.6,596.8 229.5,612.5 231.3,617.2 233.6,620.4 235.1,621.6 238.2,622.5 252.4,623.7 272.9,623.3 280.8,625.7ZM202,581.1 205.1,580.5 215.6,576.3 216.6,574.7 215.5,571.6 209.9,565.8 208,560.5 205.9,557.4 200.4,553.1 191,548.3 183.1,551.3 181.5,552.6 179.9,555.8 179.4,559 180.5,562.1 187.8,567.2 195.7,578.4 198.8,580.5 202,581.1Z" fill="#8e81bb" stroke="#8e81bb" stroke-width="0.6" fill-rule="evenodd"/>
<path d="M282.3,622.3 287.1,622.2 299.6,618.8 309.1,612.5 317,608.7 328.4,593.6 328.7,592 328.1,590.5 323.3,585.6 309.1,577.8 304.4,576 298.1,575.3 290.2,576.2 271.3,576.4 260.3,579.3 249.2,581.2 239.8,584.7 235.1,588.6 232.5,592 231.3,596.8 231.7,611 233.5,615.3 236.6,618.3 252.4,620.9 261.8,619.2 266.6,619.1 282.3,622.3ZM198.8,577.9 200.4,578.6 204,577.9 207.2,574.7 207.5,573.1 203.1,560.5 201.8,559 198.8,557.7 195.6,559 193.2,562.1 192.8,563.7 193.2,566.9 195.6,573.1 198.8,577.9Z" fill="#7b68ab" stroke="#7b68ab" stroke-width="0.6" fill-rule="evenodd"/>
<path d="M247.7,617.3 254,617.8 265,615.3 274.4,617.3 285.5,618.3 298.1,615.6 301.2,613.9 307.5,608.4 317.2,603.1 319.6,599.9 321.7,595.2 321.7,590.9 318.5,587.3 309.1,580.4 304.4,578 301.2,577.5 290.2,579.4 271.3,578.4 260.3,582 247.7,584.7 239.8,588.9 235.2,593.6 234.3,596.8 234.2,607.8 234.7,611 236.7,614.1 239.8,615.7 247.7,617.3Z" fill="#6c4ba2" stroke="#6c4ba2" stroke-width="0.6" fill-rule="evenodd"/>
<path d="M250.8,614.4 255.1,614.1 263.4,611.4 277.6,612.7 297.3,609.4 299.1,607.8 302.1,601.5 309.1,598.5 310.4,596.8 311.2,590.5 310.1,585.8 307.5,582.5 302.8,580 280.8,584 271.3,581.2 258.7,586.6 248.2,588.9 241.4,592.6 238.5,595.2 237.8,598.4 237.9,606.2 238.8,609.4 240.3,611 250.8,614.4Z" fill="#582a92" stroke="#582a92" stroke-width="0.6" fill-rule="evenodd"/>
<clipPath id="hc"><path d="M276,765.3 444.5,765.3 442.4,759 439.4,755.9 436.4,751.1 433.5,748.9 430.4,748.9 422.5,753.8 417.8,754.5 415.1,752.7 413.1,747.1 411.5,745.8 409.9,745.5 407.8,746.4 403.6,750.8 400.4,751.9 398.7,751.1 395.7,746 389.4,741.7 388.2,740.1 386.6,735.4 387,733.8 389.4,731.4 400.4,726.7 406.8,729.6 408.3,729 408.9,725.9 407.9,722.8 406.6,721.2 401.7,719.6 400.3,718 405.2,713.2 409.5,707 411.1,702.3 410.6,699.1 399.1,686.5 389.4,684.8 383.1,678.9 375.2,673.9 367.9,667.6 361.1,663.4 357.8,659.8 356.1,655 357.2,648.8 359.5,643.2 362.9,637.7 364.4,628.3 370.5,621.9 375.2,612.4 383.1,606.2 387.9,599.2 394,593.6 395.4,590.5 394.4,585.8 389.2,577.9 387.5,570 383.1,564.5 381.1,560.5 378.6,548 376.8,545.6 372.2,543.2 372.9,533.8 376.4,530.6 381.6,528.5 384.7,528.4 391,529.8 395.2,529 398.2,525.9 401.1,519.6 403.6,517.4 406.8,517.5 411.5,519.5 414.7,519.6 416.5,518 416.8,516.5 416.1,510.1 418.1,502.3 417.5,500.7 413.1,500.2 400.4,501.8 386.3,497.9 378.4,494.3 373.7,494.1 369.6,497.6 368.8,500.7 369,508.6 367.4,511.7 365.8,512.5 364.2,511.7 357.9,500.9 354.8,500 346.9,500.8 344.7,499.1 345.9,494.4 351.7,488.1 336.7,488.1 334.3,491.5 331.1,492.7 320.1,489.7 312.2,489.9 309.2,488.1 69.7,488.1 69.7,535.9 79.1,529.4 85.5,528.4 91.3,529 95.2,530.6 97.6,533.8 98.2,536.9 97,543.2 94.8,546.4 91.8,548.2 83.7,551.1 76,555.9 69.7,558 69.7,587.4 72.8,586.2 77.6,582.1 80.7,581.4 93.3,584.6 99.6,591.2 102.8,592.2 105.9,592 116.9,585.1 123.4,584.2 131.1,575.2 134.3,574.2 140.6,574.1 146.9,571.4 150,571.1 168.9,578.9 175.2,580.2 186.2,588.4 203.3,596.8 204.1,598.4 203.9,599.9 198.3,612.5 197.7,620.4 202.4,628.3 203.5,631.4 203,642.5 204.4,645.6 209.9,650.6 214.9,656.6 221.2,659.8 223.1,661.4 223,664.5 219.3,669.7 217.5,677.1 217.8,680.3 222.1,694.4 225.6,699.2 235.9,703.9 236.6,706.7 237.3,721.2 239.8,727.9 242.9,730.1 247.7,730.2 250.8,731 255.8,735.4 259,740.1 258.6,746.4 259.9,749.5 271.2,759 276,765.3ZM371.5,724.4 368.1,721.2 365.8,718 365.5,716.5 367,713.3 370.5,709.4 373.7,707.7 378.4,706.8 383.1,707.5 384.6,708.6 385.2,710.2 384.8,713.3 383.1,716.5 375.2,724.5 373.7,725 371.5,724.4ZM334.7,716.5 331.3,713.3 331,710.2 332.9,707 335.9,705.6 339,705.8 345.3,708.3 353.5,708.6 355.7,710.2 356.9,713.3 356.4,715.5 353.2,717.2 339,717.4 334.7,716.5ZM320.5,694.4 315.4,691.1 307.5,688.3 301.2,684.8 298.1,684.8 291.8,687 287.1,686.4 284.2,683.4 279.8,674 276,669.9 271.3,666.8 263.4,664.9 260.3,662.5 258.4,659.8 255.6,652.1 254,650.4 242.9,647.4 238.2,643.5 231.9,640.5 229.9,637.7 229.8,634.6 228.8,631.4 222.5,626.6 220.9,624.6 219.3,620.4 218.7,615.7 219.5,609.4 219.7,598.4 219,593.6 217.5,590.5 213,587.4 202,587.1 193.4,584.2 188.9,581 179.9,572.3 167.3,562.1 162.7,554.2 161.7,549.5 163.8,544.8 172.2,535.4 175.3,527.5 177.7,513.3 175.3,503.8 176.8,500.2 178.4,499.6 181.5,500.6 184.8,507 186.2,508.4 194.1,512 195.7,512.3 203.6,510.6 208.3,511.6 210.4,513.3 211.5,514.9 211.9,518 209.5,522.8 209,525.9 209.9,528.3 214.7,532.2 215.4,533.8 214.1,536.9 209.9,542.1 209.2,544.8 209.7,546.4 211.4,548.3 217.8,552.2 220.9,555.8 224.1,558.2 230.3,558.8 236.6,556.3 239.8,556.6 244.4,560.5 254,566.4 257.1,567.7 261.8,568.4 274.4,568.2 283.9,563.1 291.8,561.2 299.3,565.3 302.8,566.3 313.8,565.1 326.4,569.8 339,572.9 357.9,573.9 362.6,576.2 365.8,579.4 365.8,582.6 361.2,588.9 359.8,598.4 358.5,601.5 351.6,608.9 343,614.1 337.4,620.9 331.1,622.7 330.2,625.1 331.5,629.9 335.8,637.7 335.4,640.9 331.6,650.3 331.8,653.5 337.1,659.8 339,666.2 345.8,672.4 349.7,677.1 350.3,681.8 348.5,684.3 340.6,687.7 334.4,692.9 331.1,694.6 324.8,695.6 320.5,694.4ZM113.2,560.5 108.6,555.8 108,552.7 108.7,548 110.2,544.8 113,541.6 115.4,540.3 118.5,540.2 121.7,541.7 123.5,544.8 122.3,555.8 121,559 118.5,561.4 115.4,561.7 113.2,560.5ZM358,546.4 353.2,543.6 351.3,540.1 351.9,536.9 354.8,535 357.9,535.1 359.5,536.4 362.3,544.8 362.1,546.4 361.1,546.9 358,546.4ZM334.5,533.8 332.2,532.2 330.6,529 331.1,525.9 334.8,519.6 334.6,516.5 333.6,513.3 328.9,507 327.4,503.8 328,500.3 329.6,498.5 331.1,498.1 334.3,499.6 336.9,502.3 335.7,510.1 336.1,511.7 345.3,522 346.9,525.9 345.2,530.6 342.2,534 339,534.8 334.5,533.8ZM79.3,516.5 75.7,514.9 73.9,513.3 73.6,511.7 74.7,510.1 79.1,508.7 88.6,507.5 91.5,508.6 93,510.1 93.6,511.7 92.9,513.3 90.4,514.9 83.9,517 79.3,516.5ZM450.9,765.3 463.7,765.3 465.3,759 465.1,755.9 463.4,754.6 461.9,754.5 455.6,757.6 452.4,760.6 450.9,765.3ZM485.5,765.3 491.2,765.3 493.4,764.4 493.6,765.3 507.5,765.3 506.3,760.6 504.4,758.2 501.2,757 496.5,758.4 495.7,757.4 493.7,749.5 488.6,742.7 485.5,740.8 483.8,741.7 480.6,751.1 481.5,755.9 485.5,765.3ZM575.3,765.3 583.1,765.3 581.6,760.3 580,759.4 576.9,760.2 575,762.1 573.7,765.3 575.3,765.3ZM654,765.3 661.9,765.3 661.9,758.3 657.2,760 655.3,762.1 654,765.3ZM235.1,562.8 235.8,562.1 235.1,561.5 235.1,562.8ZM402,497 403.6,497.1 406.3,494.4 407.9,488.1 399.1,488.1 398.9,492.8 400.4,496 402,497Z" clip-rule="evenodd"/></clipPath><path d="M82.3,510.1L649.3,155.7M82.3,525.4L649.3,171.0M82.3,540.7L649.3,186.3M82.3,556.0L649.3,201.6M82.3,571.3L649.3,216.9M82.3,586.6L649.3,232.2M82.3,601.9L649.3,247.5M82.3,617.2L649.3,262.8M82.3,632.5L649.3,278.1M82.3,647.8L649.3,293.4M82.3,663.1L649.3,308.7M82.3,678.4L649.3,324.0M82.3,693.7L649.3,339.3M82.3,709.0L649.3,354.6M82.3,724.3L649.3,369.9M82.3,739.6L649.3,385.2M82.3,754.9L649.3,400.5M82.3,770.2L649.3,415.8M82.3,785.5L649.3,431.1M82.3,800.8L649.3,446.4M82.3,816.1L649.3,461.7M82.3,831.4L649.3,477.0M82.3,846.7L649.3,492.3M82.3,862.0L649.3,507.6M82.3,877.3L649.3,522.9M82.3,892.6L649.3,538.2M82.3,907.9L649.3,553.5M82.3,923.2L649.3,568.8M82.3,938.5L649.3,584.1M82.3,953.8L649.3,599.4M82.3,969.1L649.3,614.7M82.3,984.4L649.3,630.0M82.3,999.7L649.3,645.3M82.3,1015.0L649.3,660.6M82.3,1030.3L649.3,675.9M82.3,1045.6L649.3,691.2M82.3,1060.9L649.3,706.5M82.3,1076.2L649.3,721.8M82.3,1091.5L649.3,737.1M82.3,1106.8L649.3,752.4M82.3,1122.1L649.3,767.7" stroke="#eba4f6" stroke-width="1.0" fill="none" clip-path="url(#hc)"/>
<line x1="82.3" y1="626.7" x2="649.3" y2="626.7" stroke="#8d6ae6" stroke-width="2.6"/>
<path d="M50.8,548.0L72.8,548.6L81.0,551.1L82.3,554.2L88.6,555.5L92.4,559.3L103.1,559.9L111.3,562.4L118.8,560.5L122.0,559.3L130.2,560.5L135.2,563.7L137.7,566.2L140.9,570.0L145.3,573.1L150.3,576.9L153.5,580.7L155.4,584.5L161.1,587.6L164.2,588.9L173.6,589.5L180.6,589.5L189.4,592.0L194.4,595.8L198.2,599.6L200.7,604.0L203.3,610.3L205.1,614.7L207.0,620.4L208.3,624.8L212.1,628.0L217.8,629.9L220.9,631.1L225.9,631.1L230.3,633.0L237.3,635.5L241.1,637.4L242.9,643.1L246.1,642.5L249.9,641.8L258.7,643.7L265.0,645.0L273.2,646.2L278.9,649.4L282.0,652.5L288.3,656.3L294.6,658.2L300.3,658.8L302.2,663.2L303.7,670.8L303.7,675.8L302.8,680.9L300.9,684.7L297.1,689.7L292.7,693.5L288.9,697.9L285.8,702.3L282.0,706.7L278.2,709.9L277.6,714.9L277.6,721.2L277.6,727.5L276.3,735.7L273.2,742.0L272.6,749.5L269.4,755.2L265.0,762.1L258.7,771.6L145.3,815.7L19.3,815.7L19.3,548.0Z" fill="#d0d0d0" stroke="#000" stroke-width="0.9" stroke-linejoin="round"/>
<path d="M414.9,481.8L416.2,494.4L420.6,500.7L421.9,507.0L420.6,513.3L419.4,522.1L416.8,528.4L413.7,533.5L415.6,536.0L417.5,541.0L417.5,544.8L418.1,548.6L421.2,552.4L425.6,555.5L428.8,558.0L431.3,561.8L435.1,565.0L439.5,568.7L440.1,572.5L443.9,577.6L447.7,580.7L452.1,583.9L457.1,587.6L463.4,593.3L469.1,597.1L475.4,599.3L479.2,598.4L485.5,596.5L491.8,594.6L498.1,593.9L504.4,594.6L510.7,596.5L517.0,593.9L523.3,590.8L529.6,588.3L535.9,586.7L542.2,586.4L548.5,587.0L551.6,588.3L554.8,590.8L556.7,594.6L559.8,598.4L563.6,599.3L568.7,598.7L573.7,597.7L577.5,599.0L580.0,602.1L583.8,605.3L585.7,609.1L585.0,612.8L584.4,617.2L583.1,621.0L581.9,624.8L581.3,628.6L578.7,631.7L581.3,634.9L584.4,639.3L588.2,644.3L592.6,649.4L596.4,653.8L599.5,658.2L600.8,663.2L602.7,666.4L604.6,672.1L605.8,678.4L607.1,682.8L606.5,686.5L609.0,691.6L610.2,696.0L609.0,701.0L605.8,706.1L602.7,710.5L600.8,714.9L599.5,719.9L598.3,726.2L597.6,732.5L597.6,737.0L598.9,742.0L602.0,746.4L605.2,752.7L608.3,759.0L611.5,771.6L712.3,771.6L712.3,481.8Z" fill="#d0d0d0" stroke="#000" stroke-width="0.9" stroke-linejoin="round"/>
<path d="M99.5,510.8L100.1,513.4L101.8,514.3L109.6,513.4L111.9,512.5L111.3,511.3L108.4,510.5L101.3,510.5Z" fill="none" stroke="#000" stroke-width="1.1"/>
<path d="M79.1,505.1L83.6,506.6L85.8,505.4L87.7,506.1L91.1,507.8L92.7,509.5L93.0,511.7L89.9,512.7L86.1,511.7L83.6,511.1L79.1,511.4Z" fill="none" stroke="#000" stroke-width="1.1"/>
<path d="M133.3,558.7L139.3,558.3L139.0,563.1L133.3,563.4Z" fill="none" stroke="#000" stroke-width="1.1"/>
<circle cx="114.4" cy="510.5" r="1.2" fill="#000"/>
<circle cx="115.7" cy="511.1" r="1.2" fill="#000"/>
<circle cx="123.9" cy="515.2" r="1.2" fill="#000"/>
<circle cx="127.3" cy="513.9" r="1.2" fill="#000"/>
<circle cx="127.9" cy="516.7" r="1.2" fill="#000"/>
<circle cx="130.8" cy="514.3" r="1.2" fill="#000"/>
<circle cx="135.2" cy="517.9" r="1.2" fill="#000"/>
<circle cx="135.8" cy="524.4" r="1.2" fill="#000"/>
<circle cx="137.4" cy="529.7" r="1.2" fill="#000"/>
<circle cx="139.8" cy="535.7" r="1.2" fill="#000"/>
<circle cx="139.2" cy="539.1" r="1.2" fill="#000"/>
<circle cx="138.0" cy="543.4" r="1.2" fill="#000"/>
<circle cx="136.8" cy="548.1" r="1.2" fill="#000"/>
<circle cx="140.9" cy="548.7" r="1.2" fill="#000"/>
<circle cx="148.7" cy="539.8" r="1.2" fill="#000"/>
<circle cx="88.6" cy="550.2" r="1.2" fill="#000"/>
<circle cx="89.9" cy="550.8" r="1.2" fill="#000"/>
<circle cx="111.9" cy="558.0" r="1.2" fill="#000"/>
<circle cx="118.8" cy="557.4" r="1.2" fill="#000"/>
<circle cx="122.6" cy="557.6" r="1.2" fill="#000"/>
<circle cx="372.1" cy="522.1" r="1.2" fill="#000"/>
<circle cx="375.2" cy="531.6" r="1.2" fill="#000"/>
<circle cx="379.0" cy="525.3" r="1.2" fill="#000"/>
<circle cx="369.6" cy="532.8" r="1.2" fill="#000"/>
<circle cx="365.8" cy="519.6" r="1.2" fill="#000"/>
<circle cx="379.7" cy="521.5" r="1.2" fill="#000"/>
<circle cx="373.4" cy="529.0" r="1.2" fill="#000"/>
<circle cx="578.1" cy="604.6" r="1.2" fill="#000"/>
<circle cx="564.9" cy="624.8" r="1.2" fill="#000"/>
<circle cx="569.9" cy="616.6" r="1.2" fill="#000"/>
<clipPath id="Lc"><path d="M50.8,548.0L72.8,548.6L81.0,551.1L82.3,554.2L88.6,555.5L92.4,559.3L103.1,559.9L111.3,562.4L118.8,560.5L122.0,559.3L130.2,560.5L135.2,563.7L137.7,566.2L140.9,570.0L145.3,573.1L150.3,576.9L153.5,580.7L155.4,584.5L161.1,587.6L164.2,588.9L173.6,589.5L180.6,589.5L189.4,592.0L194.4,595.8L198.2,599.6L200.7,604.0L203.3,610.3L205.1,614.7L207.0,620.4L208.3,624.8L212.1,628.0L217.8,629.9L220.9,631.1L225.9,631.1L230.3,633.0L237.3,635.5L241.1,637.4L242.9,643.1L246.1,642.5L249.9,641.8L258.7,643.7L265.0,645.0L273.2,646.2L278.9,649.4L282.0,652.5L288.3,656.3L294.6,658.2L300.3,658.8L302.2,663.2L303.7,670.8L303.7,675.8L302.8,680.9L300.9,684.7L297.1,689.7L292.7,693.5L288.9,697.9L285.8,702.3L282.0,706.7L278.2,709.9L277.6,714.9L277.6,721.2L277.6,727.5L276.3,735.7L273.2,742.0L272.6,749.5L269.4,755.2L265.0,762.1L258.7,771.6L145.3,815.7L19.3,815.7L19.3,548.0ZM414.9,481.8L416.2,494.4L420.6,500.7L421.9,507.0L420.6,513.3L419.4,522.1L416.8,528.4L413.7,533.5L415.6,536.0L417.5,541.0L417.5,544.8L418.1,548.6L421.2,552.4L425.6,555.5L428.8,558.0L431.3,561.8L435.1,565.0L439.5,568.7L440.1,572.5L443.9,577.6L447.7,580.7L452.1,583.9L457.1,587.6L463.4,593.3L469.1,597.1L475.4,599.3L479.2,598.4L485.5,596.5L491.8,594.6L498.1,593.9L504.4,594.6L510.7,596.5L517.0,593.9L523.3,590.8L529.6,588.3L535.9,586.7L542.2,586.4L548.5,587.0L551.6,588.3L554.8,590.8L556.7,594.6L559.8,598.4L563.6,599.3L568.7,598.7L573.7,597.7L577.5,599.0L580.0,602.1L583.8,605.3L585.7,609.1L585.0,612.8L584.4,617.2L583.1,621.0L581.9,624.8L581.3,628.6L578.7,631.7L581.3,634.9L584.4,639.3L588.2,644.3L592.6,649.4L596.4,653.8L599.5,658.2L600.8,663.2L602.7,666.4L604.6,672.1L605.8,678.4L607.1,682.8L606.5,686.5L609.0,691.6L610.2,696.0L609.0,701.0L605.8,706.1L602.7,710.5L600.8,714.9L599.5,719.9L598.3,726.2L597.6,732.5L597.6,737.0L598.9,742.0L602.0,746.4L605.2,752.7L608.3,759.0L611.5,771.6L712.3,771.6L712.3,481.8Z"/></clipPath>
<line x1="82.3" y1="626.7" x2="649.3" y2="626.7" stroke="#8d6ae6" stroke-width="2.6" clip-path="url(#Lc)"/>
<path d="M310.3,557.8L324.2,557.3M249.5,577.6L227.9,595.2M310.3,597.5L324.4,593.9M309.6,656.9L301.2,650.8M289.8,637.7L286.1,645.0M190.1,519.3L180.0,525.7M110.1,538.5L93.9,542.0M129.4,537.0L127.4,531.0M330.2,636.7L359.5,645.8M345.0,620.0L357.6,617.0M330.0,598.0L347.5,596.4M150.0,560.0L157.0,567.0M170.0,590.0L175.7,599.2M366.0,614.6L456.1,609.7M366.0,612.0L435.5,606.4M380.0,616.0L450.4,612.2M366.0,537.9L395.1,537.9M450.1,611.5L460.6,610.0M469.1,614.6L481.4,612.3M513.2,634.6L520.4,633.2M530.1,637.8L540.5,638.5M388.0,636.0L395.0,642.3M88.6,519.6L84.7,521.9M88.6,539.1L85.2,541.4M108.4,558.7L105.4,561.2M128.3,519.6L123.1,522.2M128.3,558.7L124.9,561.6M148.1,519.6L142.8,522.3M148.1,539.1L143.7,542.0M168.0,519.6L163.2,522.1M168.0,539.1L164.2,542.3M168.0,558.7L164.0,562.6M168.0,578.2L164.7,581.6M187.8,539.1L184.9,542.0M187.8,558.7L183.9,562.6M187.8,578.2L184.9,581.4M207.7,539.1L207.5,539.9M207.7,578.2L206.1,580.5M207.7,597.7L207.8,598.4M207.7,617.2L208.9,617.6M227.5,519.6L231.2,518.4M227.5,539.1L229.5,538.9M247.4,519.6L251.1,518.4M247.4,539.1L250.3,538.5M247.4,617.2L250.7,617.3M267.2,519.6L270.6,518.7M267.2,597.7L271.4,597.6M267.2,617.2L271.6,617.1M267.2,636.8L271.0,636.8M287.1,519.6L290.5,519.5M287.1,539.1L290.4,539.0M287.1,617.2L292.5,617.0M287.1,714.9L290.3,713.9M287.1,734.4L290.7,734.4M287.1,754.0L290.1,753.9M306.9,519.6L311.3,520.4M306.9,539.1L310.3,539.2M306.9,617.2L313.7,617.0M306.9,695.4L309.7,691.6M306.9,714.9L310.6,714.0M306.9,734.4L311.4,735.1M306.9,754.0L310.3,754.2M326.7,519.6L332.0,520.9M326.7,539.1L329.7,539.2M326.7,617.2L335.1,616.7M326.7,695.4L329.4,690.1M326.7,714.9L330.9,714.6M326.7,734.4L331.8,735.6M326.7,754.0L330.1,754.3M346.6,519.6L351.6,520.8M346.6,539.1L347.3,538.8M346.6,558.7L344.5,556.7M346.6,578.2L351.3,577.5M346.6,597.7L355.0,597.6M346.6,636.8L351.7,636.9M346.6,656.3L350.4,658.7M346.6,675.8L349.5,675.3M346.6,695.4L349.3,690.4M346.6,714.9L350.3,714.5M346.6,734.4L351.3,735.5M346.6,754.0L349.0,754.2M366.4,519.6L366.7,518.8M366.4,558.7L362.6,556.1M366.4,578.2L369.5,577.1M366.4,636.8L368.6,635.7M366.4,675.8L369.2,675.2M366.4,695.4L369.5,693.7M366.4,714.9L367.4,714.3M366.4,754.0L366.4,754.0M386.3,539.1L384.4,536.8M386.3,558.7L383.9,556.5M386.3,578.2L392.5,577.3M386.3,656.3L386.3,656.0M386.3,675.8L389.1,675.4M386.3,695.4L391.3,695.3M386.3,714.9L385.2,714.3M386.3,734.4L381.8,733.2M386.3,754.0L385.7,753.7M406.1,519.6L402.2,515.7M406.1,539.1L404.3,536.4M406.1,558.7L406.8,557.4M406.1,578.2L414.1,577.5M406.1,617.2L407.7,616.0M406.1,636.8L401.2,634.2M406.1,656.3L405.5,655.5M406.1,695.4L411.2,695.4M406.1,714.9L404.9,714.3M406.1,734.4L401.4,733.2M406.1,754.0L405.5,753.7M426.0,558.7L428.7,557.3M426.0,597.7L434.3,596.6M426.0,617.2L429.4,615.9M426.0,636.8L424.3,635.4M426.0,695.4L429.4,695.0M426.0,714.9L426.4,714.8M445.8,597.7L454.0,595.3M445.8,636.8L442.1,635.6M445.8,656.3L439.9,655.0M445.8,695.4L450.6,694.2M445.8,714.9L449.6,715.9M445.8,734.4L450.3,736.6M445.8,754.0L447.3,754.4M465.7,597.7L474.0,595.0M465.7,636.8L460.7,635.5M465.7,656.3L458.9,655.0M465.7,695.4L470.9,694.1M465.7,714.9L469.9,716.2M465.7,734.4L470.7,736.9M465.7,754.0L467.6,754.5M485.5,597.7L492.9,596.5M485.5,695.4L487.2,695.0M485.5,734.4L487.5,735.0M485.5,754.0L485.9,753.8M505.3,597.7L512.0,598.8M505.3,617.2L512.1,619.0M505.3,656.3L500.9,658.2M505.3,675.8L502.7,676.8M505.3,695.4L502.5,697.1M505.3,714.9L503.6,713.7M505.3,734.4L502.7,731.5M505.3,754.0L504.9,752.8M525.2,597.7L532.0,599.1M525.2,617.2L533.5,620.0M525.2,656.3L519.9,659.0M525.2,695.4L521.4,697.9M525.2,714.9L522.2,712.7M525.2,754.0L524.0,751.8M545.0,597.7L551.2,598.9M545.0,617.2L547.8,617.2M545.0,636.8L540.0,631.9M545.0,656.3L541.2,658.4M545.0,695.4L542.7,695.4M545.0,714.9L543.6,712.8M545.0,734.4L543.5,731.1M545.0,754.0L544.5,751.5M564.9,617.2L563.6,615.1M564.9,636.8L559.8,631.9M564.9,656.3L562.2,661.4M564.9,675.8L563.1,676.5M564.9,695.4L563.6,690.3M564.9,714.9L565.7,711.5M564.9,734.4L567.1,730.7M564.9,754.0L565.4,751.2M584.7,656.3L582.1,661.3M584.7,675.8L583.2,676.3M584.7,695.4L583.4,690.3M584.7,714.9L585.8,711.3M584.7,734.4L587.0,730.7M584.7,754.0L585.7,751.1M604.6,675.8L603.4,675.9M604.6,695.4L603.5,692.0M604.6,754.0L605.4,751.3" stroke="#7a7a7a" stroke-width="1.8" fill="none" stroke-linecap="butt"/>
<path d="M328.8,557.2L321.3,560.3L322.7,557.4L321.1,554.6ZM224.4,598.1L228.5,591.1L229.1,594.3L232.1,595.5ZM328.8,592.8L322.1,597.4L322.9,594.3L320.7,591.9ZM297.7,648.3L305.1,650.3L302.4,651.7L302.0,654.7ZM284.5,648.3L285.2,641.8L286.7,643.9L289.3,643.9ZM176.1,528.1L181.0,521.7L181.2,524.9L184.0,526.4ZM89.4,543.0L96.2,538.6L95.3,541.7L97.4,544.1ZM126.4,528.1L130.0,532.4L127.7,532.0L126.2,533.6ZM363.9,647.2L355.8,647.6L358.1,645.4L357.5,642.3ZM362.0,616.0L355.2,620.5L356.1,617.4L354.0,615.0ZM352.0,596.0L344.7,599.5L345.9,596.6L344.2,593.9ZM160.0,570.0L153.2,566.9L156.1,566.1L156.9,563.2ZM178.0,603.0L171.8,598.1L174.9,598.0L176.5,595.3ZM460.7,609.4L453.3,612.6L454.6,609.7L453.0,607.0ZM440.0,606.0L432.7,609.4L433.9,606.5L432.2,603.8ZM455.0,612.0L447.6,615.2L448.9,612.3L447.3,609.6ZM399.7,537.9L392.1,540.7L393.6,537.9L392.1,535.1ZM464.9,609.4L458.1,613.1L459.1,610.2L457.3,607.7ZM485.9,611.5L478.9,615.6L479.9,612.6L477.9,610.1ZM523.8,632.5L518.6,635.8L519.3,633.4L517.8,631.5ZM544.8,638.8L537.4,641.0L539.1,638.4L537.8,635.6ZM398.0,645.0L391.3,642.4L394.0,641.4L394.7,638.6ZM82.4,523.2L85.3,519.5L85.4,521.4L87.0,522.5ZM83.1,542.7L85.6,539.1L85.8,540.9L87.4,541.9ZM103.6,562.7L105.6,558.9L106.1,560.6L107.7,561.4ZM120.4,523.6L124.0,519.6L124.0,521.8L125.7,523.1ZM123.0,563.3L125.1,559.2L125.6,561.1L127.3,561.8ZM140.1,523.6L143.7,519.6L143.7,521.8L145.5,523.1ZM141.4,543.5L144.3,539.4L144.5,541.5L146.3,542.5ZM160.7,523.5L164.0,519.6L164.0,521.7L165.7,522.9ZM162.1,544.0L164.4,539.8L164.9,541.7L166.7,542.5ZM162.0,564.6L164.1,559.9L164.7,561.9L166.7,562.6ZM162.9,583.5L164.7,579.1L165.3,581.0L167.2,581.5ZM183.2,543.8L184.9,539.7L185.5,541.4L187.3,542.0ZM181.9,564.6L183.9,559.9L184.6,561.9L186.6,562.5ZM183.1,583.3L184.8,579.0L185.4,580.8L187.3,581.3ZM207.1,541.3L206.6,538.6L207.6,539.4L208.8,539.2ZM204.9,582.2L205.7,578.5L206.5,579.9L208.1,580.2ZM208.1,599.9L206.5,597.7L207.7,598.0L208.7,597.3ZM210.4,618.1L207.5,618.4L208.4,617.5L208.2,616.2ZM233.4,517.7L230.2,520.4L230.4,518.6L229.2,517.4ZM231.3,538.6L228.5,540.3L228.9,538.9L228.1,537.7ZM253.3,517.6L250.1,520.4L250.3,518.6L249.0,517.3ZM252.4,538.0L249.2,540.2L249.6,538.6L248.6,537.3ZM252.9,617.3L249.2,618.8L249.9,617.3L249.2,615.7ZM272.9,518.1L269.6,520.6L269.9,518.9L268.8,517.6ZM273.9,597.6L269.8,599.3L270.6,597.6L269.7,596.0ZM274.1,617.0L269.9,618.9L270.7,617.1L269.8,615.5ZM273.4,636.8L269.4,638.4L270.2,636.8L269.4,635.2ZM292.7,519.4L289.0,521.1L289.7,519.5L288.9,518.0ZM292.6,539.0L288.9,540.6L289.6,539.1L288.8,537.6ZM295.4,616.9L290.7,619.0L291.6,617.1L290.6,615.2ZM292.4,713.2L289.3,715.8L289.6,714.1L288.4,712.9ZM293.0,734.4L289.1,736.0L289.9,734.4L289.1,732.8ZM292.2,753.9L288.7,755.4L289.4,753.9L288.6,752.5ZM313.9,520.8L309.3,521.8L310.5,520.2L309.9,518.4ZM312.5,539.2L308.8,540.7L309.5,539.2L308.8,537.6ZM316.9,616.8L311.6,619.1L312.6,617.0L311.4,615.0ZM311.2,689.5L310.0,694.0L309.1,692.3L307.2,692.0ZM312.9,713.5L309.4,715.9L309.8,714.2L308.7,712.8ZM313.9,735.5L309.4,736.5L310.5,735.0L309.9,733.1ZM312.5,754.4L308.7,755.6L309.5,754.1L308.9,752.6ZM334.7,521.6L329.7,522.2L331.0,520.7L330.6,518.6ZM331.9,539.3L328.3,540.6L329.0,539.2L328.4,537.7ZM338.9,616.5L332.8,619.2L333.9,616.8L332.5,614.5ZM330.8,687.5L330.2,692.8L329.0,691.0L326.8,691.0ZM333.4,714.4L329.4,716.4L330.1,714.7L329.2,713.1ZM334.6,736.3L329.6,737.0L330.9,735.4L330.5,733.4ZM332.3,754.6L328.4,755.7L329.4,754.3L328.8,752.6ZM354.3,521.4L349.4,522.1L350.7,520.6L350.2,518.6ZM348.6,538.0L346.9,540.2L346.9,539.0L345.9,538.2ZM342.9,555.3L346.5,556.6L345.0,557.2L344.5,558.7ZM353.9,577.1L349.8,579.5L350.4,577.6L349.3,576.0ZM358.8,597.6L352.6,600.0L353.8,597.6L352.5,595.3ZM354.5,636.9L349.8,638.7L350.8,636.9L349.9,635.0ZM352.5,660.0L348.0,659.2L349.6,658.2L349.8,656.3ZM351.6,674.9L348.4,677.0L348.8,675.4L347.8,674.1ZM350.6,687.8L350.0,693.0L348.8,691.2L346.7,691.2ZM352.6,714.2L348.9,716.2L349.5,714.5L348.6,713.1ZM354.0,736.1L349.2,736.8L350.5,735.3L350.0,733.4ZM350.9,754.3L347.6,755.4L348.3,754.1L347.8,752.7ZM367.1,517.4L367.5,520.1L366.5,519.3L365.3,519.5ZM360.4,554.7L365.0,555.6L363.3,556.6L363.1,558.5ZM371.6,576.3L368.6,579.0L368.8,577.3L367.6,576.1ZM370.4,634.8L368.1,637.5L368.1,636.0L366.9,635.0ZM371.2,674.8L368.1,676.9L368.5,675.4L367.5,674.1ZM371.5,692.5L369.0,695.8L368.9,694.0L367.4,693.0ZM368.7,713.5L367.1,715.9L366.9,714.6L365.9,713.9ZM367.6,753.5L366.0,755.2L366.0,754.1L365.3,753.3ZM383.1,535.1L386.4,537.0L384.9,537.3L384.1,538.8ZM382.3,555.0L386.0,556.4L384.5,557.0L384.0,558.6ZM395.6,576.9L390.7,579.6L391.5,577.5L390.2,575.6ZM386.7,654.7L387.1,657.1L386.2,656.4L385.1,656.6ZM391.2,675.1L388.0,677.0L388.4,675.5L387.5,674.2ZM394.0,695.3L389.5,697.1L390.4,695.3L389.5,693.5ZM383.8,713.5L386.7,713.8L385.7,714.6L385.5,715.8ZM379.3,732.6L383.9,732.0L382.6,733.5L383.0,735.4ZM384.5,753.0L387.1,753.2L386.1,753.9L386.0,755.1ZM400.2,513.6L404.9,515.7L402.9,516.4L402.2,518.4ZM403.0,534.6L406.3,536.8L404.7,537.0L403.8,538.5ZM407.6,555.9L407.4,558.9L406.5,557.9L405.2,557.8ZM417.7,577.2L411.9,580.0L412.9,577.6L411.5,575.5ZM409.1,614.8L407.6,617.8L407.2,616.3L405.9,615.7ZM398.7,632.9L403.8,633.4L402.1,634.7L402.1,636.8ZM404.6,654.2L407.0,655.6L405.8,655.9L405.2,657.0ZM414.0,695.3L409.4,697.2L410.3,695.4L409.4,693.5ZM403.4,713.6L406.4,713.7L405.4,714.5L405.3,715.9ZM398.9,732.6L403.6,732.0L402.3,733.5L402.7,735.4ZM404.1,753.1L406.8,753.1L405.9,753.9L405.9,755.1ZM430.6,556.3L428.1,559.2L428.1,557.6L426.8,556.6ZM438.0,596.1L432.1,599.3L433.0,596.8L431.5,594.6ZM431.6,615.1L428.5,618.0L428.7,616.2L427.4,615.0ZM422.9,634.2L426.1,635.2L424.8,635.8L424.4,637.2ZM431.7,694.7L428.1,696.7L428.7,695.0L427.7,693.6ZM427.8,714.6L425.7,716.0L426.0,714.9L425.4,713.9ZM457.7,594.2L452.3,598.3L452.8,595.6L451.0,593.7ZM439.8,634.8L444.1,634.5L442.8,635.8L443.1,637.6ZM436.9,654.4L442.3,653.5L440.9,655.2L441.4,657.4ZM453.2,693.6L449.3,696.4L449.7,694.4L448.4,692.9ZM451.9,716.5L447.6,717.0L448.8,715.7L448.4,713.9ZM452.7,737.7L447.9,737.4L449.5,736.2L449.4,734.2ZM449.0,755.0L445.9,755.3L446.8,754.3L446.6,752.9ZM477.7,593.8L472.3,598.1L472.8,595.4L470.8,593.5ZM458.0,634.8L462.9,634.2L461.6,635.7L462.0,637.7ZM455.7,654.3L461.5,653.3L460.0,655.2L460.7,657.4ZM473.6,693.4L469.5,696.3L469.9,694.3L468.6,692.7ZM472.3,717.0L467.8,717.3L469.1,716.0L468.8,714.1ZM473.3,738.2L468.1,737.8L469.9,736.5L469.8,734.4ZM469.3,755.0L466.0,755.4L467.0,754.3L466.8,752.9ZM496.3,595.9L491.0,599.0L491.7,596.6L490.2,594.7ZM488.9,694.7L486.3,696.5L486.6,695.2L485.8,694.0ZM489.3,735.4L485.9,735.9L486.9,734.8L486.6,733.4ZM487.2,753.5L485.3,755.1L485.5,754.0L484.8,753.1ZM515.2,599.4L509.5,600.5L510.9,598.7L510.2,596.4ZM515.3,619.9L509.5,620.5L511.1,618.8L510.5,616.4ZM498.4,659.3L501.8,655.9L501.7,657.9L503.2,659.2ZM500.8,677.6L503.5,675.0L503.4,676.6L504.5,677.7ZM500.6,698.3L502.9,695.1L503.1,696.7L504.5,697.7ZM502.0,712.7L505.4,713.3L504.1,714.1L503.9,715.5ZM501.1,729.7L505.0,731.6L503.2,732.1L502.6,733.8ZM504.3,751.3L506.4,753.3L505.1,753.3L504.2,754.2ZM535.2,599.7L529.4,600.7L530.9,598.9L530.2,596.6ZM537.1,621.2L530.3,621.5L532.3,619.6L531.8,616.9ZM517.2,660.3L520.8,656.3L520.8,658.5L522.5,659.8ZM519.2,699.4L521.8,695.5L522.1,697.4L523.8,698.4ZM520.3,711.3L524.4,712.3L522.8,713.2L522.5,714.9ZM523.1,750.0L525.8,752.3L524.3,752.3L523.4,753.6ZM554.2,599.5L548.8,600.5L550.2,598.7L549.5,596.6ZM549.8,617.2L546.4,618.7L547.1,617.2L546.4,615.8ZM537.7,629.6L543.1,631.9L540.8,632.7L540.1,635.0ZM539.0,659.5L541.9,656.1L542.0,658.0L543.5,659.0ZM540.7,695.5L543.9,694.0L543.3,695.4L544.0,696.8ZM542.4,711.1L545.5,713.1L543.9,713.3L543.2,714.7ZM542.5,729.0L545.6,731.9L543.8,731.8L542.7,733.2ZM544.0,749.6L546.1,752.5L544.6,752.2L543.4,753.1ZM562.5,613.4L565.4,615.5L563.9,615.7L563.1,617.0ZM557.4,629.6L562.8,631.9L560.6,632.7L559.9,635.0ZM560.8,663.9L561.4,658.7L562.7,660.5L564.8,660.5ZM561.5,677.0L563.8,674.8L563.7,676.3L564.7,677.3ZM562.9,687.6L565.8,691.6L563.8,691.2L562.3,692.6ZM566.3,709.3L566.9,713.4L565.5,712.2L563.8,712.6ZM568.4,728.6L567.7,733.0L566.7,731.4L564.8,731.3ZM565.8,749.2L566.5,752.8L565.3,751.9L563.7,752.3ZM580.7,663.9L581.3,658.7L582.5,660.5L584.7,660.5ZM581.6,676.8L584.0,674.8L583.8,676.1L584.7,677.1ZM582.7,687.6L585.7,691.7L583.7,691.2L582.1,692.6ZM586.5,709.0L586.9,713.2L585.6,712.0L583.9,712.3ZM588.4,728.5L587.6,733.0L586.6,731.4L584.7,731.2ZM586.4,749.1L586.6,752.9L585.5,751.8L583.8,752.0ZM601.8,676.0L604.4,674.7L603.9,675.9L604.5,677.0ZM602.9,689.8L605.5,693.0L603.8,692.7L602.5,693.9ZM606.1,749.4L606.4,753.1L605.2,752.0L603.6,752.2Z" fill="#7a7a7a" stroke="#7a7a7a" stroke-width="0.6" stroke-linejoin="miter"/>
<path d="M210.6,557.2L228.1,563.0M231.0,557.2L243.3,552.3M250.2,557.8L258.0,561.1M270.7,557.2L296.6,564.6M290.5,557.2L303.7,557.6M328.8,557.8L321.1,560.1M229.7,577.6L204.5,572.0M269.3,577.6L235.5,582.3M289.8,596.8L286.9,567.6M287.2,578.3L269.5,587.4M309.6,577.6L269.6,594.3M329.4,577.6L300.8,584.5M250.2,597.5L222.0,649.6M230.4,597.5L240.0,645.1M230.4,617.9L286.8,683.8M250.2,637.7L271.6,672.1M255.5,660.2L282.1,677.5M310.3,637.1L335.8,648.4M309.6,676.0L293.9,655.2M330.1,657.6L326.5,674.2M330.1,677.4L324.9,687.8M299.0,545.3L305.3,542.2M110.9,519.3L120.2,520.3M209.4,518.5L208.3,506.7M269.4,537.8L260.6,534.6M199.8,569.4L165.5,541.8M180.9,546.3L164.0,539.6M370.2,596.8L412.3,614.0M390.2,596.8L418.3,600.4M410.2,595.7L435.1,591.2M429.1,656.7L445.5,656.7M370.2,656.7L395.4,664.8M410.2,676.7L423.0,684.0M429.1,676.7L443.8,683.2M450.1,676.7L466.7,680.0M469.1,676.7L483.5,679.1M490.1,676.7L498.9,676.7M530.1,675.6L537.3,672.0M549.0,675.6L557.8,674.9M490.1,615.7L500.6,611.2M538.5,609.4L545.8,613.8M490.1,635.7L495.7,632.9M491.2,655.7L492.5,652.5M389.1,520.0L381.9,520.7M429.1,576.8L421.8,571.6M490.1,715.6L498.1,716.3M530.1,734.5L537.3,735.9M524.0,608.0L528.1,614.9M504.5,609.0L508.2,615.1" stroke="#000" stroke-width="1.8" fill="none" stroke-linecap="butt"/>
<path d="M232.4,564.4L224.3,564.7L226.6,562.5L226.1,559.4ZM247.5,550.6L241.5,556.0L241.9,552.9L239.4,550.8ZM261.4,562.5L254.8,562.3L256.8,560.6L256.6,557.9ZM301.0,565.8L292.9,566.4L295.2,564.1L294.5,561.0ZM308.3,557.8L300.6,560.4L302.2,557.6L300.8,554.7ZM317.6,561.1L322.7,557.2L322.2,559.7L324.0,561.6ZM200.0,571.0L208.0,569.9L205.9,572.3L206.8,575.4ZM231.0,582.9L238.1,579.1L237.0,582.1L238.9,584.6ZM286.5,563.1L290.0,570.4L287.1,569.2L284.4,570.9ZM265.4,589.5L270.9,583.5L270.8,586.7L273.4,588.5ZM265.4,596.1L271.3,590.6L271.0,593.8L273.5,595.8ZM296.4,585.6L303.1,581.1L302.3,584.2L304.4,586.5ZM219.8,653.6L221.0,645.6L222.7,648.3L225.9,648.3ZM240.9,649.6L236.6,642.7L239.7,643.6L242.2,641.6ZM289.8,687.3L282.7,683.4L285.8,682.7L287.0,679.7ZM274.0,676.0L267.6,671.0L270.8,670.8L272.4,668.1ZM285.9,680.0L278.0,678.2L280.8,676.7L281.1,673.5ZM340.0,650.3L331.9,649.8L334.4,647.8L334.2,644.6ZM291.1,651.6L297.9,656.0L294.8,656.4L293.5,659.4ZM325.5,678.7L324.4,670.7L326.8,672.8L329.9,671.9ZM322.8,691.9L323.7,683.8L325.5,686.5L328.7,686.4ZM308.3,540.7L304.3,545.1L304.3,542.7L302.4,541.2ZM124.2,520.7L117.3,522.5L118.9,520.1L117.8,517.5ZM207.9,502.2L211.4,509.5L208.5,508.3L205.8,510.0ZM256.8,533.3L263.9,533.2L261.8,535.1L262.3,537.9ZM161.9,538.9L169.6,541.5L166.6,542.7L166.1,545.9ZM159.8,537.9L167.9,538.1L165.4,540.1L165.8,543.3ZM416.5,615.7L408.4,615.4L410.9,613.4L410.5,610.2ZM422.8,601.0L414.9,602.8L416.8,600.2L415.6,597.2ZM439.6,590.4L432.6,594.5L433.6,591.5L431.6,589.0ZM450.1,656.7L442.5,659.5L444.0,656.7L442.5,653.9ZM399.7,666.2L391.6,666.5L393.9,664.3L393.3,661.2ZM427.0,686.2L419.0,684.9L421.7,683.2L421.8,680.0ZM448.0,685.1L439.9,684.6L442.4,682.6L442.2,679.4ZM471.2,680.9L463.2,682.2L465.2,679.7L464.3,676.7ZM488.0,679.8L480.0,681.3L482.0,678.8L481.0,675.8ZM502.7,676.7L496.3,679.1L497.6,676.7L496.3,674.3ZM540.6,670.4L536.2,675.1L536.3,672.5L534.2,671.0ZM561.6,674.6L555.4,677.5L556.5,675.0L555.0,672.7ZM504.8,609.4L498.9,615.0L499.2,611.8L496.7,609.8ZM549.0,615.7L542.4,614.5L544.7,613.1L544.9,610.5ZM498.5,631.5L494.8,635.6L494.8,633.3L493.0,632.0ZM493.3,650.4L493.3,654.5L492.2,653.2L490.5,653.3ZM378.6,521.0L384.0,518.3L383.1,520.6L384.4,522.6ZM418.6,569.4L425.3,571.1L422.8,572.4L422.5,575.1ZM501.7,716.6L495.5,718.4L496.9,716.2L495.9,713.8ZM540.6,736.6L534.6,737.6L536.2,735.7L535.5,733.4ZM530.0,618.0L524.9,614.0L527.5,613.9L528.9,611.6ZM510.0,618.0L505.2,614.3L507.7,614.2L508.9,612.1Z" fill="#000" stroke="#000" stroke-width="0.6" stroke-linejoin="miter"/>
</g>
<rect x="82.3" y="500.7" width="567.0" height="252.0" fill="none" stroke="#000" stroke-width="2"/>
<line x1="76.3" y1="752.7" x2="82.3" y2="752.7" stroke="#000" stroke-width="1.8"/>
<line x1="78.8" y1="721.2" x2="82.3" y2="721.2" stroke="#000" stroke-width="1.8"/>
<line x1="76.3" y1="689.7" x2="82.3" y2="689.7" stroke="#000" stroke-width="1.8"/>
<line x1="78.8" y1="658.2" x2="82.3" y2="658.2" stroke="#000" stroke-width="1.8"/>
<line x1="76.3" y1="626.7" x2="82.3" y2="626.7" stroke="#000" stroke-width="1.8"/>
<line x1="78.8" y1="595.2" x2="82.3" y2="595.2" stroke="#000" stroke-width="1.8"/>
<line x1="76.3" y1="563.7" x2="82.3" y2="563.7" stroke="#000" stroke-width="1.8"/>
<line x1="78.8" y1="532.2" x2="82.3" y2="532.2" stroke="#000" stroke-width="1.8"/>
<line x1="76.3" y1="500.7" x2="82.3" y2="500.7" stroke="#000" stroke-width="1.8"/>
<line x1="82.3" y1="752.7" x2="82.3" y2="758.7" stroke="#000" stroke-width="1.8"/>
<line x1="113.8" y1="752.7" x2="113.8" y2="756.2" stroke="#000" stroke-width="1.8"/>
<line x1="145.3" y1="752.7" x2="145.3" y2="758.7" stroke="#000" stroke-width="1.8"/>
<line x1="176.8" y1="752.7" x2="176.8" y2="756.2" stroke="#000" stroke-width="1.8"/>
<line x1="208.3" y1="752.7" x2="208.3" y2="758.7" stroke="#000" stroke-width="1.8"/>
<line x1="239.8" y1="752.7" x2="239.8" y2="756.2" stroke="#000" stroke-width="1.8"/>
<line x1="271.3" y1="752.7" x2="271.3" y2="758.7" stroke="#000" stroke-width="1.8"/>
<line x1="302.8" y1="752.7" x2="302.8" y2="756.2" stroke="#000" stroke-width="1.8"/>
<line x1="334.3" y1="752.7" x2="334.3" y2="758.7" stroke="#000" stroke-width="1.8"/>
<line x1="365.8" y1="752.7" x2="365.8" y2="756.2" stroke="#000" stroke-width="1.8"/>
<line x1="397.3" y1="752.7" x2="397.3" y2="758.7" stroke="#000" stroke-width="1.8"/>
<line x1="428.8" y1="752.7" x2="428.8" y2="756.2" stroke="#000" stroke-width="1.8"/>
<line x1="460.3" y1="752.7" x2="460.3" y2="758.7" stroke="#000" stroke-width="1.8"/>
<line x1="491.8" y1="752.7" x2="491.8" y2="756.2" stroke="#000" stroke-width="1.8"/>
<line x1="523.3" y1="752.7" x2="523.3" y2="758.7" stroke="#000" stroke-width="1.8"/>
<line x1="554.8" y1="752.7" x2="554.8" y2="756.2" stroke="#000" stroke-width="1.8"/>
<line x1="586.3" y1="752.7" x2="586.3" y2="758.7" stroke="#000" stroke-width="1.8"/>
<line x1="617.8" y1="752.7" x2="617.8" y2="756.2" stroke="#000" stroke-width="1.8"/>
<line x1="649.3" y1="752.7" x2="649.3" y2="758.7" stroke="#000" stroke-width="1.8"/>
<text x="66.3" y="511.3" style="font-family:'Liberation Serif',serif;font-size:30.6px;" text-anchor="end" >20°N</text>
<text x="66.3" y="574.3" style="font-family:'Liberation Serif',serif;font-size:30.6px;" text-anchor="end" >10°N</text>
<text x="66.3" y="637.3" style="font-family:'Liberation Serif',serif;font-size:30.6px;" text-anchor="end" >EQ</text>
<text x="66.3" y="700.3" style="font-family:'Liberation Serif',serif;font-size:30.6px;" text-anchor="end" >10°S</text>
<text x="66.3" y="763.3" style="font-family:'Liberation Serif',serif;font-size:30.6px;" text-anchor="end" >20°S</text>
<text x="145.6" y="796.3" style="font-family:'Liberation Serif',serif;font-size:30.8px;" text-anchor="middle" >60°W</text>
<text x="271.6" y="796.3" style="font-family:'Liberation Serif',serif;font-size:30.8px;" text-anchor="middle" >40°W</text>
<text x="397.6" y="796.3" style="font-family:'Liberation Serif',serif;font-size:30.8px;" text-anchor="middle" >20°W</text>
<text x="523.6" y="796.3" style="font-family:'Liberation Serif',serif;font-size:30.8px;" text-anchor="middle" >0°</text>
<text x="649.6" y="796.3" style="font-family:'Liberation Serif',serif;font-size:30.8px;" text-anchor="middle" >20°E</text>
<clipPath id="clipd"><rect x="751.3" y="500.7" width="567.0" height="252.0"/></clipPath>
<g clip-path="url(#clipd)">
<path d="M740.3,765.3 863.8,765.3 866.3,761.3 871,758.2 872.3,760.6 872.4,765.3 883.9,765.3 881.4,755.9 884.6,749.5 884.1,748 882,747.3 878.9,748 875.7,753.8 873.7,754.3 872.6,751.4 872.5,741.7 869.9,737 868.3,729.1 866.2,725.9 859,719.6 858.1,718 859,716.5 861.5,714.5 863.1,714 869.4,714.7 871.9,713.3 873.5,710.2 872.6,704.2 871,702.3 869.4,702.1 863.1,706 861.5,706.1 851.5,702.3 850.9,700.7 852.1,699.8 856.8,699.7 859.6,697.6 860.2,696 859,692.9 855.2,690.2 853.7,688.1 852.9,680.2 849.9,674 849.9,670.8 853,666.1 853.6,661.4 860,656.6 864.5,650.3 867.7,647.2 868.6,645.6 868.7,642.5 867.8,640.2 864.7,638.7 861.5,639.3 856.8,641.5 852.1,641.4 847.7,639.3 846.5,637.7 846.4,636.1 848.9,632.6 856.8,629.3 858.4,626.9 861.4,618.8 866.3,613.4 871,606.4 875.7,604.9 882,605.7 885.2,605.1 889.8,601.5 890.3,598.4 888.3,595.9 879.9,592 874.1,590.7 863.1,589.9 853.7,585 850.5,582.3 846.4,573.1 842.6,570.6 837.9,569.6 831.6,574.2 828.5,574.8 825.3,573.7 823.8,572.1 823,570 823.6,566.9 828.8,557.4 832.6,552.7 832.6,551.1 831.6,550.3 830,550.3 825.3,552.3 822.2,551.9 814.3,547.3 806.4,545 803.3,542.3 798.5,535.9 792.2,533.7 787.5,526.8 782.8,524.3 779.6,524.3 773.3,526.1 770.2,526.2 763.9,523.7 759.2,523.2 752.9,524.6 743.4,528 738.7,528.1 738.7,765.3 740.3,765.3ZM919.8,765.3 927.1,765.3 926.2,762.1 924.8,760.6 921.4,758.8 919.8,758.9 919,760.6 918.8,765.3 919.8,765.3ZM945,765.3 954.4,765.3 953.4,760.6 949.8,760.4 946.6,761.1 945,763.6 945,765.3ZM982.8,765.3 1224.6,765.3 1226.9,764.3 1230.1,764 1238,764.1 1240.8,765.3 1254.3,765.3 1256.9,762.6 1264.8,761.2 1266,762.1 1266.9,765.3 1330.9,765.3 1330.9,488.1 1304.2,488.1 1302.5,489.7 1299.4,490.5 1296.2,489.9 1294.6,488.1 1264.1,488.1 1263.2,492.1 1260,494.5 1256.9,494.4 1250.6,492 1249,492.5 1244.3,496.6 1236.4,497.5 1234.7,500.7 1234.9,503.8 1236.4,506 1243.1,511.7 1243.9,513.3 1241.3,519.6 1243.6,532.2 1242.9,533.8 1233.3,541.6 1231.9,544.8 1231.6,552.7 1230.1,555.6 1228.5,557 1226.9,557.4 1223.8,550.6 1220.6,547.9 1211.2,542.7 1204.9,541 1201.8,541.1 1199.6,543.2 1199.2,544.8 1199.8,546.4 1201.8,547.6 1208,548.1 1209.6,549.3 1213.8,554.2 1214.4,557.4 1213.9,559 1212.6,560.5 1206.5,563.7 1203.3,568.1 1201.8,569 1190.7,570.2 1189.1,569.1 1188.5,566.9 1191.8,560.5 1192.3,557.4 1189.7,549.5 1187.6,547.1 1184.4,545.1 1181.3,543.9 1178.1,543.7 1175.8,544.8 1174.1,548 1174,552.7 1175.4,560.5 1175,563.4 1159.2,553.5 1157.6,553.3 1156.1,554.1 1155.7,557.4 1161.1,565.3 1161.8,568.4 1161.3,570 1159.3,571.6 1157.6,571.9 1149.8,570.7 1140.3,577.4 1132.4,579 1130.7,581 1129.2,587.3 1126.1,590.2 1118.3,591.1 1116,590.5 1113.5,588.4 1112,588.8 1110,592 1107.8,593.6 1096.2,596.9 1093.1,596 1088.3,592.3 1086.8,592.1 1085.2,593.6 1084.2,596.8 1082,598.7 1074.2,599.1 1066.3,600.5 1060,600 1056.8,604.6 1053.7,607.3 1050.5,608.3 1041.1,609.6 1037.7,611 1036,612.5 1034.9,615.7 1034.7,620.4 1035,623.5 1036.4,626.8 1039.5,629.5 1044.2,630.5 1047.4,632 1051.5,636.1 1055.9,642.5 1058.4,644.6 1072.6,649.4 1085.2,650.6 1094.6,658.2 1097.8,659.8 1112,659.4 1121.4,661.1 1124.3,662.9 1129.3,669.6 1132.4,671.4 1141.9,669 1156.1,669.2 1161.3,670.8 1165.5,676.5 1167.1,676.6 1170.2,673.5 1171.8,673.8 1173.4,675.6 1175.2,681.8 1176.9,683.4 1181.3,684.6 1190.7,685.5 1195.6,688.1 1196.6,689.7 1197.3,696 1202.4,703.9 1203.4,711.8 1206.4,718 1206.2,719.6 1200.5,725.9 1199.1,729.1 1199.2,730.6 1202.8,735.4 1203.2,740.1 1201.8,742.4 1189.1,753.8 1187.6,754.5 1186,754.2 1178.1,750.3 1167.1,747.9 1165.8,746.4 1166.4,743.2 1167.6,741.7 1176.5,739.6 1179.7,737 1180,735.4 1179.3,733.8 1171.8,727.5 1170.2,726.9 1167.1,728.9 1163.9,734.4 1162.4,735.7 1149.8,737.4 1144.2,735.4 1137.1,729.1 1132.4,726.4 1127.7,725.3 1121.4,726.3 1119.8,725.8 1115.1,722.4 1112,721.7 1108.8,722.9 1107.9,724.4 1107.6,727.5 1108.8,730.9 1110.4,732.1 1115.5,733.8 1116.2,735.4 1115.7,737 1113.5,737.2 1108.8,734 1107.2,734.1 1104.1,736 1099.4,743.1 1097.8,744 1091.5,743.7 1083.6,746.2 1082.2,744.8 1081.8,738.5 1080.5,736.2 1078.9,736.5 1077.3,738.5 1075.8,743.3 1074.2,744.8 1071,745.7 1067.9,744.7 1061.1,740.1 1052.1,738.3 1045.8,739.4 1039.5,742.4 1031.6,744.6 1026.9,748.6 1023.8,750 1019,749.6 1009.6,744.6 1004.9,744.4 997,746.9 993,749.5 991.6,752.7 989.9,762.1 989.1,763.1 982.8,765.3ZM1218.4,760.6 1216.7,759 1216.2,757.4 1217.5,756 1219.1,757 1220,759 1219.6,760.6 1218.4,760.6ZM1248.4,536.9 1245.3,533.8 1245.9,532.2 1249.4,529 1252.1,527.5 1253.7,527.5 1255.3,528.5 1256.4,532.2 1254.1,536.9 1252.1,538 1248.4,536.9ZM1262.2,513.3 1262.2,511.7 1263.2,510.3 1264.8,510 1266.3,511.7 1266.3,513.4 1264.8,514.8 1262.2,513.3ZM956,759.2 956.8,759 956.7,757.4 956,757.2 955.2,759 956,759.2ZM973.4,759.2 976.5,758.4 977.6,757.4 978.3,754.3 976.5,750.6 973.4,748.2 971.8,748.3 970.8,749.5 969.6,755.9 970.2,757.8 973.4,759.2ZM900.9,756.4 904.1,756.1 907.2,754 908.6,751.1 908,748 905.6,745.2 900.9,743.7 896.8,740.1 893,739.7 890.6,741.7 888.7,746.4 897.8,754.7 900.9,756.4ZM926.1,735.7 929.3,735.8 932.4,734.8 935.4,732.2 937.2,729.1 937.1,726.9 935.6,724.4 929.3,721.1 928.3,722.8 925.4,733.8 926.1,735.7ZM1036.4,730.8 1039.5,732 1044.2,731.2 1048.4,729.1 1049.6,727.5 1049.5,725.9 1047.7,724.4 1045.8,723.8 1041.1,724.2 1037.3,727.5 1036.3,729.1 1036.4,730.8ZM897.8,721.3 901.6,721.2 904.2,718 904.1,713.3 902.5,711.1 900.9,710.1 897.8,709.9 896.2,710.5 894.2,713.3 894.4,718 895.4,719.6 897.8,721.3ZM1009.6,703 1012.8,702.4 1013.2,700.7 1011.2,699.5 1008,700.7 1008.3,702.3 1009.6,703ZM967.1,696.3 968.6,697.1 971.8,696.9 973.4,696.1 974.6,694.4 974.3,689.7 971.8,687 970.2,687 968.6,687.9 967.7,689.7 966.5,694.4 967.1,696.3ZM1003.3,622.3 1005.1,622 1003.3,621.7 1003.3,622.3ZM1108.8,568.7 1110.7,566.9 1111,563.7 1109,560.5 1107.2,559.4 1105.3,560.5 1105.3,563.7 1107.2,568.1 1108.8,568.7ZM1063.1,552.8 1067.9,553.7 1071.2,552.7 1071.6,551.1 1069.8,544.8 1071.3,538.5 1071,536.9 1063.1,538.3 1060.2,540.1 1059,541.6 1057.8,546.4 1058.2,549.5 1060,551.5 1063.1,552.8ZM1089.9,534.2 1092.6,533.8 1094.6,532.3 1095.8,529 1094.2,524.3 1088,521.2 1087.1,519.6 1086.6,507 1084.6,505.4 1078.9,503.2 1075.8,503.2 1074.2,504.9 1070.7,513.3 1063,519.6 1064,521.2 1069.4,523 1072.6,522.9 1080.5,520.8 1085.2,521.3 1086.8,522.6 1087.2,524.3 1087.2,532.2 1089.9,534.2ZM907.2,532.5 913.5,532.2 926,527.5 926.6,525.9 926.3,524.3 921.7,518 920.5,514.9 920.9,513.3 925.7,508.6 928.1,502.3 931.9,497.6 932.3,496 930.8,494 927.7,492.8 919.8,493.5 918.2,493.1 918.1,488.1 828.3,488.1 830,495.4 834.8,501.2 839.5,503.9 847.4,502.1 850.5,502.7 856.8,509.5 861.7,511.7 866.8,519.6 868.5,521.2 872.6,522.5 880.4,522.6 894.6,524.1 897.8,525.6 904.1,530.9 907.2,532.5ZM1198.6,529.5 1200.2,530.1 1201.5,529 1201.4,527.5 1199.5,527.5 1198.6,529.5ZM1214.3,517.6 1217.5,517.4 1219.2,516.5 1219.8,514.9 1218.5,508.6 1220.7,502.3 1219.1,500 1215.9,499 1212.8,499.2 1211.2,500.2 1210.4,502.3 1211.9,508.6 1212.4,514.9 1214.3,517.6ZM1025.3,507.1 1026.9,507.9 1028.5,507.1 1029,503.8 1026.9,500.5 1023.8,498.4 1022.7,499.1 1022.7,500.7 1025.3,507.1ZM1044.2,507.4 1047.4,508 1052.1,507.6 1055.3,506.3 1057.8,503.8 1059.4,500.7 1058,494.4 1060.2,488.1 1051.1,488.1 1054.1,494.4 1053.7,496 1044.3,503.8 1043.2,505.4 1044.2,507.4ZM1107.2,502.3 1108.9,502.3 1111.1,500.7 1111.3,494.4 1112.9,488.1 1092.5,488.1 1093,496 1094.6,499 1102.5,500.3 1107.2,502.3ZM1004.9,497.9 1006.5,497.6 1009.6,494.3 1011.2,493.6 1020.6,493.4 1022.2,492.3 1024.2,488.1 1008.1,488.1 1006.4,488.8 1006.1,488.1 999.1,488.1 1001.7,495.8 1003.3,497.5 1004.9,497.9ZM1135.6,489.8 1138.8,490.1 1140.9,488.1 1134,488.1 1135.6,489.8ZM1119.8,488.1 1121.4,488.8 1123.1,488.1 1119.8,488.1Z" fill="#f6ebd0" stroke="#f6ebd0" stroke-width="0.6" fill-rule="evenodd"/>
<path d="M740.3,765.3 852.5,765.3 856.5,757.4 851.8,754.3 850.6,752.7 848.9,748 845.1,744.8 843.6,741.7 844.6,733.8 843.2,725.9 844.7,714.9 844.2,713 839.9,708.6 839.9,707 842.2,700.7 842.4,697.6 839.5,694.6 834.8,692.7 831.6,692.4 826.9,693.6 825.3,693.3 821.5,680.2 822.1,677.1 823.8,674.9 826.9,673.1 830,672.6 835.2,674 836.3,675.5 837.9,680.8 839.5,681.5 842.7,680.2 843,678.7 840.3,674 839.4,667.6 837.9,665.1 834.2,661.4 833.7,659.8 839.5,658.6 842.4,656.6 843.6,653.5 843.5,650.3 842,647.2 836.6,640.9 834.5,633 833.2,631.1 828.9,628.3 827.9,625.1 828.5,623.1 830,622.3 837.9,628.5 839.5,629 842.6,628.2 845.8,625.1 850.5,617.9 850.8,614.1 849.8,609.4 850.5,606.5 857.9,604.6 859.2,603.1 859.5,601.5 858.6,599.9 853.7,597.5 842.4,588.9 840.6,585.8 843.1,582.6 843.5,581 842.6,578.4 841.1,578.4 840.2,579.5 839.7,581 840,584.2 837.9,585.4 831.6,584.6 823.8,581.6 822.2,580.3 817.3,571.6 817.1,568.4 818.3,560.5 816.5,557.4 814.5,555.8 803.3,551.1 793.8,551.1 785.9,546.4 783.2,543.2 783.4,535.4 782.8,533.7 781.2,532.5 773.3,532.1 765.5,535.6 763.9,535.1 759.8,529 756,528 751.3,528.8 743.4,533.5 738.7,534.8 738.7,765.3 740.3,765.3ZM1004.9,765.3 1053.7,765.3 1057,757.4 1055.3,754.8 1052.1,753.4 1050.5,753.3 1047.4,755.9 1044.2,756.8 1036.4,753.8 1033.2,754.5 1028.5,759.2 1026.9,759.3 1017.5,755.2 1010.6,751.1 1006.4,750.5 1001.7,751 998.1,752.7 996.9,754.3 996.7,757.4 997.6,759 1002,762.1 1004.9,765.3ZM1064.7,765.3 1092.7,765.3 1090.4,760.6 1086.8,759.2 1077.3,762.3 1071,761 1067.9,761.2 1066.3,762.3 1064.7,765.3ZM1105.7,765.3 1117.2,765.3 1115.1,760.5 1112,758.3 1108.8,758.9 1106.5,760.6 1105.3,763.7 1105.1,765.3 1105.7,765.3ZM1141.9,765.3 1180.7,765.3 1179.8,759 1177.6,755.9 1173.4,755.3 1165.5,759.8 1162.4,759.9 1159.2,758 1154.5,750.9 1152.9,749.9 1151.3,750.2 1148.2,752.9 1143,762.1 1141.9,765.3ZM1297.8,763.8 1299.5,765.3 1330.9,765.3 1330.9,488.1 1316.8,488.1 1314.8,491.2 1308.8,496.1 1305.7,497.9 1302.5,498.3 1297.8,497.9 1294.7,496.9 1290,492.8 1286.8,488.2 1284.9,488.1 1278.9,500.1 1274.5,505.4 1274.2,507 1275.8,509.6 1280.5,510.6 1282.6,511.7 1283.5,513.3 1283.1,514.9 1271,523.1 1264.1,524.3 1263.2,525.9 1264.5,532.2 1260.7,538.5 1258.3,544.8 1258.9,552.7 1258.4,554.1 1256.9,555.2 1252.1,556.4 1249,559.5 1244.3,566.9 1242.7,574.7 1240.9,576.3 1238,576.9 1236.3,576.3 1231.7,572.2 1228.5,571.1 1223.8,571.8 1215.9,574.3 1214.3,575.5 1213,577.9 1211,585.8 1209.6,588.6 1204.9,592.8 1201.8,592.6 1186,583.8 1181.3,583.7 1176.5,587 1170.2,582.4 1165.5,580.3 1148.2,579.1 1144.7,581 1141.8,584.2 1149.8,585 1152.7,587.3 1153.4,590.5 1152.5,595.2 1148.2,599 1143.5,599.3 1137.2,594.8 1135.6,594.4 1129.3,597.5 1119.5,598.4 1112,600.4 1104.1,603.7 1091.5,605.7 1072.6,605.2 1070.5,606.2 1066.4,611 1063.4,612.5 1045.8,614.1 1042.1,615.7 1041.5,617.2 1042.7,620.1 1047.4,623.1 1055.3,631.8 1060,634.8 1067.9,636.6 1069.4,637.9 1072.6,643.4 1074.2,644.6 1077.3,645.2 1086.8,645 1096.2,651.2 1104.1,649.3 1112,653.9 1123,654.7 1132.4,659.3 1141.9,659.1 1149.8,663.2 1162.4,664.9 1171.8,665.2 1175,666.6 1181.3,671.1 1186,671.5 1192.3,674.3 1198.6,674.8 1203.3,678.7 1207.8,685 1208.5,688.1 1208.1,696 1209.6,699.6 1212.8,702.4 1219.1,703.8 1220.2,705.5 1221.6,710.2 1224.9,716.5 1224.7,730.6 1225.4,733.8 1227.9,737 1234.8,740.9 1244.3,744.6 1253.7,746.8 1260,751.6 1261.6,751.6 1267.9,749 1272.2,749.5 1275.8,752.1 1280.5,758.1 1297.8,763.8ZM1271.8,546.4 1269.8,543.2 1268.7,536.9 1269.1,533.8 1271,532.6 1275.8,534.5 1277,535.4 1277.5,536.9 1275.8,546.9 1274.2,547.7 1271.8,546.4ZM1108.8,747.1 1110.4,746.4 1110,744.8 1108.8,744 1107.2,744.4 1107.4,746.4 1108.8,747.1ZM856.8,737.1 860,736.1 861.8,733.8 861.5,730.6 860,729 858.4,728.5 855.2,729.8 852.8,733.8 853.7,735.8 856.8,737.1ZM908.8,522.8 910.4,522.6 911.2,521.2 909.6,513.3 909.5,507 908.8,504.7 907.2,502.9 905.6,502.3 900.9,504.3 898.4,503.8 897.2,502.3 897.6,500.7 899.3,498.8 900.9,498 904.1,498.9 905.3,497.6 905.5,496 904.1,494.4 900.9,495.7 899.3,495.3 896.2,492.5 893.8,488.1 875.3,488.1 874.1,489.9 871,491 869.4,490.6 867.7,488.1 847.2,488.1 850.5,494.8 853.7,497.1 860,500.2 861.5,501.8 869.4,514.9 872.6,518.2 877.3,519.2 896.2,518.4 901.8,519.6 908.8,522.8ZM837.9,489.8 840.1,489.7 842.3,488.1 835.7,488.1 837.9,489.8Z" fill="#f3dbaa" stroke="#f3dbaa" stroke-width="0.6" fill-rule="evenodd"/>
<path d="M740.3,765.3 805,765.3 804.4,757.4 807.8,748 811.1,743.3 816.3,738.5 816.8,737 815.9,735.1 811.5,732.2 810.3,730.6 809,725.9 804.8,719 803.3,714.9 803.1,711.8 804.2,710.2 808,708.3 812.7,707.2 814.9,714.9 818.3,719.6 818.6,721.2 814.8,725.9 815.4,729.1 817.4,731.1 820.6,732.5 822.2,732 823.3,730.6 824.2,727.5 822.7,724.4 819.4,721.2 819.7,719.6 822.2,716.4 823.2,713.3 823.2,710.2 822.4,708.6 819,706.8 814.3,706.5 813.7,705.5 814.2,700.7 816.2,692.9 815.9,691.1 810.9,686.5 809.6,675.4 808,672.8 804.8,670.1 803.3,669.7 799.6,670.8 797,670.8 795,669.2 797,667.8 801.7,667.3 803,666.1 799.6,655 800.4,651.9 803.3,648.2 806.4,647.5 814.3,652.9 817.4,652.7 819.5,650.3 819.5,647.2 817.2,637.7 817.9,634.6 821.4,628.3 822.4,617.2 821.5,612.5 817.2,607.8 818.2,601.5 813.5,593.6 815,584.2 814.4,579.5 812.7,577.2 808,573.4 795.4,566.9 789.1,564.9 787,562.1 785.4,555.8 782.8,552.7 776.5,549.9 763.9,547.1 760.8,545 756,540.2 752.9,538.8 748.1,539.4 738.7,542.3 738.7,765.3 740.3,765.3ZM779.3,669.2 778.1,668.8 777.7,667.6 778.1,665.3 779.6,664 782,664.5 783.5,666.1 782.3,667.6 779.3,669.2ZM817.4,765.3 842.3,765.3 841,762.1 837.9,759.5 834.8,758.8 825.3,759.2 821.6,757.4 819.5,754.3 819.2,749.5 817.5,748.9 816.2,749.5 815.4,751.1 816.5,755.9 816.9,765.3 817.4,765.3ZM1085.2,765.3 1087.3,765.3 1084.7,765.3 1085.2,765.3ZM1305.7,764 1306.3,765.3 1313.8,765.3 1316.7,764.2 1319.5,765.3 1330.9,765.3 1330.9,521.7 1321.4,523 1319.9,522.3 1315.2,516.2 1312,515.7 1308.8,516.8 1305.7,519.6 1299.4,527.5 1299.2,529 1300.8,535.4 1299.5,538.5 1285.6,546.4 1282.1,556.7 1280.5,556.9 1271,554.4 1267.9,554.4 1263.2,559.2 1256.9,562.4 1253.7,564.9 1252.5,566.9 1252.2,570 1253.7,572.8 1257,576.3 1257.1,577.9 1254.9,582.6 1252.1,583.8 1244.3,582 1230.1,586.7 1227.6,588.9 1223.8,594 1216.8,596.8 1214.3,599.9 1211.2,602.1 1200.2,603.8 1189.1,601.1 1183.3,596.8 1181.3,596.4 1178.1,597.6 1173.4,601.3 1171.8,601.8 1169.7,601.5 1163.9,598.5 1145,605.5 1141.9,604.7 1137.2,601.5 1134,601.3 1117.6,607.8 1110.4,608.5 1096.2,612.1 1093.1,612.3 1084.9,611 1082.2,612.5 1078.9,616 1069.4,616.5 1066.3,618.1 1064,620.4 1063.5,623.5 1066.3,627 1069.4,628.6 1078.9,630.4 1084.7,636.1 1093.1,638.2 1097.8,642.7 1105.7,643.7 1113.5,647.7 1121.4,645.9 1129.3,652.2 1132.4,654 1135.6,654.5 1141.9,654 1149.8,656.1 1156.1,655.8 1160.8,658 1163.9,658.7 1176.5,659.1 1182.8,658.4 1189.1,662.1 1192.3,662.9 1195.5,661.4 1198.6,656.5 1204.7,656.6 1208,657.4 1209.5,659.8 1209.3,670.8 1210.5,674 1212.8,675.5 1219.1,676.7 1221.1,678.7 1221.7,681.8 1221.5,685 1218.3,692.9 1225.4,697.2 1227,699.1 1227.4,700.7 1226.1,708.6 1229.4,716.5 1230.4,722.8 1231.7,725.1 1233.2,725.9 1238,725.3 1239.7,725.9 1239.9,727.5 1238.6,732.2 1238.9,733.8 1241.1,737 1245.6,740.1 1249,741.1 1276.7,743.2 1279,744.8 1283.7,751.1 1287.8,754.3 1291.5,756.3 1299.4,756.9 1302.5,758.4 1304.3,760.6 1305.7,764ZM1259.6,574.7 1260,573.8 1261.6,574 1261.7,574.7 1259.6,574.7ZM1318,535.4 1315.1,533.8 1313.8,530.6 1314.6,529 1316.7,527.4 1319.9,526.8 1322.6,529 1323,532.2 1321.4,534 1318,535.4ZM831.6,745.2 832,744.8 831.3,744.8 831.6,745.2ZM825.3,604.2 826.9,604.5 830,603.1 834.8,600.1 836.3,598.4 836.8,596.8 836.1,593.6 832.4,590.5 826.9,589.1 824.5,590.5 823.6,592 823.4,596.8 824.5,603.1 825.3,604.2ZM1165.5,591.3 1166.3,590.5 1165.5,589.5 1165.1,590.5 1165.5,591.3ZM1282.1,526 1285.4,525.9 1287,524.3 1286.8,522.8 1285.2,522.2 1283.3,522.8 1281.7,524.3 1282.1,526ZM877.3,515.4 880.4,515.5 885.2,514 888.5,511.7 888.3,510.1 885.2,507.7 880.4,505.5 877.3,505.4 874.1,506.3 872.7,508.6 873,510.1 874.5,513.3 877.3,515.4ZM1319.9,506.6 1323,504.9 1325,502.3 1326.4,499.1 1327.2,494.4 1330.9,494.5 1330.9,488.1 1326.4,488.1 1326.2,493.7 1321.4,495.9 1318.5,499.1 1318.1,503.8 1319.9,506.6Z" fill="#efc585" stroke="#efc585" stroke-width="0.6" fill-rule="evenodd"/>
<path d="M740.3,765.3 764.3,765.3 765.1,760.6 766.3,759 780.9,754.3 780.6,748 781.1,741.7 779.7,737 780.9,730.6 779.9,727.5 780.8,724.4 782.8,722.5 784.4,721.9 785.3,722.8 783.7,729.1 784,730.6 785.9,731.9 793.8,733.5 797,732.3 798.2,730.6 799,725.9 797,722.2 793.8,719.9 790.7,719.7 787.5,720.5 786.6,719.6 788.6,711.8 790.2,697.6 789.1,696.4 781.2,698.5 777.9,697.6 776.9,696 776.2,692.9 777.3,686.5 777.1,683.4 775.3,680.2 771,675.5 770.1,670.8 772.1,659.8 774.9,655.7 778.1,654.2 785.9,653.4 789.1,652.2 793.8,648.6 797,642.4 798.5,640.9 806.4,639 808.3,637.7 808.8,636.1 808.6,634.6 804.7,628.3 804.6,625.1 806,620.4 805.7,618.8 802.5,614.1 802.5,612.5 804.8,606.2 804.8,603.1 798.9,595.2 797.7,592 798.5,589.9 804.9,587.3 805.3,585.8 804.8,584.2 801.7,582.5 797,583.1 790.7,581.6 784.4,582.1 778.1,579.9 771.8,579.2 768.6,578 766.5,576.3 762.3,570 760.8,569.4 754.4,569.2 752.9,568.3 749.7,550.8 738.7,550.2 738.7,765.3 740.3,765.3ZM776.2,626.7 773.5,623.5 773.3,620.4 774.2,618.8 784.4,614.9 787.7,615.7 790,620.4 789.1,622.6 781.2,626.9 776.2,626.7ZM769.9,601.5 768.8,599.9 768.8,598.4 770.2,596.3 773.3,594.7 777.4,595.2 776.9,598.4 774.9,600.5 771.8,601.9 769.9,601.5ZM1307.3,754.9 1310.4,755.5 1321.4,751.5 1330.9,751.9 1330.9,538.7 1326.2,539.5 1323.5,541.6 1321.4,550.1 1318.3,558.1 1316.7,560.8 1313.6,563.9 1310.4,565.5 1306.6,565.3 1305.3,559 1301,552.7 1297.8,551.1 1294.7,552 1293.1,553.5 1292.5,555.8 1293.4,559 1297,563.7 1297.4,565.3 1296.3,566.9 1293.1,568.2 1282.1,569.4 1277.6,571.6 1275.1,574.7 1267.9,588.1 1265.4,590.5 1258.4,594.1 1252.1,595.6 1249,594.6 1246.4,590.5 1244.5,588.9 1241.1,589.2 1236.2,592 1230.7,599.9 1223.8,603.5 1219,607.8 1215.9,609.5 1212.8,609.8 1206.5,609 1200.2,610.3 1193.9,609.9 1192.3,610.4 1187.6,614.4 1184.4,614.9 1176.5,610.9 1170.2,610.8 1160.8,608.5 1156.1,608.3 1151.3,610.3 1143.5,617.4 1140.3,618.9 1135.8,617.2 1129.3,612.8 1123,611.7 1102.5,615.3 1094.6,618.1 1088.3,618.2 1086.5,618.8 1083.4,622 1082.9,623.5 1083.4,625.1 1086.3,629.9 1088.3,631.4 1089.9,631.7 1096.2,630.1 1104.1,632.6 1110.1,636.1 1118.3,635.7 1123.6,639.3 1130.4,647.2 1134,648.7 1139.9,647.2 1146.1,644 1148.2,643.7 1154.5,644.7 1160.8,646.7 1166.9,651.9 1168.7,652.5 1171.8,651.8 1176.5,648 1190.7,644.5 1193.9,645 1203.3,649.5 1212.8,648.6 1217.5,649.4 1222.2,649.3 1225.2,650.3 1225.5,653.5 1222.4,658.2 1221.2,662.9 1222.3,666.1 1226.9,670 1228.2,672.4 1226,681.8 1226.2,689.7 1228.5,692.9 1232.5,696 1234.9,699.1 1234.6,702.3 1232,708.6 1233.9,713.3 1235.7,714.9 1238,715.6 1247.4,714.3 1251.2,714.9 1253.4,718 1254.2,725.9 1255.3,728.3 1263.2,729.8 1269.5,733.1 1272.5,733.8 1277.3,733.4 1283.7,731.6 1288.4,732.4 1291.5,734.9 1292.9,737 1294.4,744.8 1296,748 1307.3,754.9ZM1249,735.4 1252.1,735 1253.2,733.8 1253.4,730.6 1252.1,729.8 1249,730.8 1247.5,733.8 1249,735.4Z" fill="#e9b263" stroke="#e9b263" stroke-width="0.6" fill-rule="evenodd"/>
<path d="M745,737.1 746.6,738.1 748.1,738.1 749,737 748.5,729.1 752.9,724 754.6,719.6 755,710.2 753.8,707 751.3,704.8 749.7,704.9 748.1,706.6 745,712.9 743.4,714.4 738.7,714.2 738.7,734 741.8,734.7 745,737.1ZM1301,737 1302.5,737.4 1305.7,735.3 1306.7,732.2 1305.4,729.1 1306,727.5 1308.8,725.9 1316.7,724 1321.4,723.9 1327.8,729.1 1330.9,730.8 1330.9,578.4 1328.5,581 1328.5,587.3 1327.8,588.9 1326.1,590.5 1323,591.5 1320.2,590.5 1318.9,588.9 1316.5,581 1313.6,575.1 1310.4,574.4 1303.5,576.3 1301.6,579.5 1301.2,584.2 1303.9,595.2 1302.5,598.1 1299.4,600 1291.5,599 1285.2,602.6 1282.1,603.2 1274.2,597.8 1271,597.5 1263.2,598.3 1247.9,604.6 1241.5,609.4 1239.5,610.1 1231.7,608.7 1226.9,609 1215.9,614.5 1211.2,615.4 1197,615.8 1184.4,620.5 1176.5,619.4 1168.7,621.4 1160.8,616.5 1154.5,616 1149.8,618.3 1143.5,625.4 1140.3,626.5 1135.6,625.3 1127.7,620.2 1126.1,619.8 1123.9,620.4 1123.6,625.1 1125.3,633 1129.3,637.1 1132.4,638.3 1145,634.1 1148.2,634.8 1154.5,638.1 1157.6,638.6 1160.8,638.1 1165.5,635.9 1168.7,635.6 1170.2,636.3 1175,641.2 1178.1,642.1 1182.2,640.9 1186,636.6 1187.6,636.2 1198.6,637.3 1200.2,638 1203.3,641.3 1205.7,642.5 1212.8,642.1 1219.1,643.1 1228.5,641.5 1231.7,642.6 1233.3,644 1234.7,647.2 1234.8,655 1234.7,656.6 1230.6,661.4 1230.8,662.9 1234.8,667.3 1236,670.8 1235.5,674 1231.7,682.3 1231.5,686.5 1232.9,689.7 1234.8,691.4 1238,692.7 1242.7,692.7 1244.3,693.4 1245.3,699.1 1244.7,705.5 1245.8,706.2 1250.6,706.8 1253.7,708.9 1259.2,714.9 1263,722.8 1266.3,724.2 1269.5,724.6 1277.3,722.5 1285.2,721.4 1289.9,722 1298.4,730.6 1301,737ZM1249,661.4 1247.2,659.8 1247.5,658.2 1250.6,654.5 1253.7,653 1255,656.6 1253.9,659.8 1252.1,661.1 1249,661.4ZM740.3,697.6 749.7,699 751.3,698.2 754,692.9 756,683.4 754.4,682.7 749.7,683 746.6,682.2 738.7,675 738.7,697.7 740.3,697.6ZM740.3,666.2 744.8,664.5 749.8,661.4 753.4,658.2 753.7,656.6 751.3,655.3 745,655.2 738.7,652.8 738.7,666.7 740.3,666.2ZM748.1,645.7 752.9,644.4 757.6,639.9 764.6,636.1 768.5,633 766.5,625.1 763.9,621.5 760.8,620.6 757.6,621.5 756.2,623.5 754.6,629.9 751.3,631.6 749.7,631.1 748.7,629.9 745,623.5 743.4,622.5 738.7,621.5 738.7,641.3 741.8,642.4 745,644.8 748.1,645.7ZM746.6,615.7 751.3,616.8 754.4,616.3 760.8,609.7 761,606.2 752.9,595.7 751.3,595 746.6,594.8 738.7,592.5 738.7,615.1 743.4,615 746.6,615.7ZM754.4,590.6 757.6,590.9 764.6,588.9 766.3,587.3 766.7,585.8 765.9,584.2 760.8,579.4 757.6,578.5 756,579.5 754.4,582.9 753.8,587.3 754.4,590.6ZM740.3,579.6 741.3,579.5 742,577.9 738.7,577.2 738.7,579.8 740.3,579.6ZM1329.3,568.5 1330.9,569.1 1330.9,559.5 1328.4,562.1 1327.2,565.3 1327.6,566.9 1329.3,568.5ZM1330.9,552.3 1330.9,544.8 1328.8,546.4 1328.5,548 1329.3,550.5 1330.9,552.3Z" fill="#e6a04e" stroke="#e6a04e" stroke-width="0.6" fill-rule="evenodd"/>
<path d="M1302.5,719.7 1306,718 1311.1,711.8 1310.3,710.2 1300.6,707 1298.1,705.5 1298,703.9 1301,701.5 1304.1,700.2 1312,701.1 1318.3,700 1320.5,700.7 1324.6,706.7 1328.6,708.6 1327.2,716.5 1328,718 1330.9,719.7 1330.9,683.9 1324.6,689.5 1323,689.9 1321.1,688.1 1321.8,685 1324.6,682.7 1327.8,682.4 1330.9,683 1330.9,640.1 1330.4,639.3 1330.9,637.2 1330.9,610 1326.2,608.4 1324.6,608.2 1319.9,612.7 1315.2,614.7 1305.7,611.4 1302.5,611.9 1299.4,614.2 1296,622 1291.5,625.2 1288.4,625.3 1282.1,623.1 1278.9,624.2 1276.1,629.9 1271.5,634.6 1271.1,636.1 1274.2,638.5 1279,639.3 1275.8,639.9 1275.4,640.9 1271,643.2 1264.8,642.7 1260.9,651.9 1259.5,661.4 1256.8,664.5 1247.5,670.8 1246.2,674 1246.9,677.1 1250.6,681.1 1253.7,682.3 1260.2,681.8 1261.6,682.2 1263.2,683.8 1263.6,686.5 1263,691.3 1261.6,694.3 1257.9,699.1 1258,702.3 1260,705 1261.6,705.3 1269.5,701.3 1277.3,699.7 1278.9,698 1282.1,692 1283.7,691.6 1286.8,694.6 1290.5,700.7 1295.1,705.5 1290.8,711.8 1299.4,718.8 1302.5,719.7ZM1272,662.9 1271.2,661.4 1271.1,656.6 1272.6,652.6 1274.2,651.6 1275.8,651.6 1279.6,653.5 1281.7,656.6 1280.5,659.6 1275.8,663 1274.2,663.6 1272,662.9ZM1255.3,640.9 1260,640.9 1264.8,642 1266.1,637.7 1261.6,634.4 1258.4,633.2 1255.3,633 1252.9,634.6 1251.6,637.7 1252.1,639.6 1255.3,640.9ZM1156.1,630.1 1159.2,630.7 1162.4,629.9 1163.6,628.3 1163.5,626.7 1162.4,624.8 1159.2,622.6 1154.5,622 1151.9,623.5 1151.1,626.7 1152.3,628.3 1156.1,630.1ZM1208,630.4 1210,629.9 1209.6,626.2 1207,623.5 1203.7,622 1200.2,621.4 1196.2,622 1193.6,623.5 1192.7,625.1 1193.9,626.6 1201.8,627.5 1208,630.4ZM1252.1,625.4 1256.9,626 1262.5,623.5 1264.8,621.3 1265.8,618.8 1264.8,615.7 1255.3,610.7 1252.1,610.2 1250.2,611 1247.6,614.1 1246.7,618.8 1248.1,622 1252.1,625.4ZM1228.5,622.5 1230.1,622.2 1232.1,620.4 1232.4,617.2 1230.1,614.7 1226.9,614.3 1224.5,615.7 1223.9,617.2 1225.4,620.4 1228.5,622.5ZM1288.4,612.6 1292,611 1292.2,609.4 1290.7,607.8 1288.4,607.8 1285.9,609.4 1285.2,611 1286.8,612.3 1288.4,612.6ZM1312,595.3 1313.8,595.2 1312,589.4 1310.4,586.9 1309.2,587.3 1309.1,588.9 1312,595.3Z" fill="#de8b36" stroke="#de8b36" stroke-width="0.6" fill-rule="evenodd"/>
<path d="M1271,694.5 1274.2,693.9 1276,691.3 1276.1,686.5 1274.2,683.6 1271,684.4 1269,688.1 1269.2,692.9 1271,694.5ZM1296.2,693.1 1298,692.9 1296.2,692.4 1296.2,693.1ZM1307.3,674.2 1308.8,674.9 1310.4,674.7 1318.3,669.1 1326.3,667.6 1327.7,666.1 1329.1,661.4 1330.9,659.7 1330.9,647.8 1326.7,645.6 1321.3,637.7 1318.3,637.4 1315.2,638.5 1313.6,640.9 1313.7,642.5 1315.2,645.8 1322.5,651.9 1323.7,656.6 1322.9,658.2 1316.7,664.5 1315.2,665.2 1308.8,665 1307.6,666.1 1306.2,670.8 1307.3,674.2ZM1288.4,669.9 1290.9,669.2 1291.5,667.8 1289.9,665.8 1286.8,666.1 1286.2,667.6 1286.8,669.1 1288.4,669.9ZM1289.9,652 1291.5,652.6 1293.3,651.9 1291.5,648.5 1289.9,647.5 1288.1,648.8 1288.3,650.3 1289.9,652ZM1327.8,629.3 1330.9,629.6 1330.9,621.2 1327.8,622.5 1326.2,625.1 1326.2,628.3 1327.8,629.3Z" fill="#d47a28" stroke="#d47a28" stroke-width="0.6" fill-rule="evenodd"/>
<path d="M932.4,765.3 938.5,765.3 937.1,762.6 935.6,761.8 933.7,762.1 932.4,763.7 932.4,765.3ZM943.4,740.9 945,741.4 946.8,740.1 946.9,737 945,735.3 943,735.4 941.4,737 941.4,738.5 943.4,740.9ZM989.1,740.5 990.8,740.1 990.7,738.1 989,738.5 988.5,740.1 989.1,740.5ZM1017.5,737.6 1019,738.2 1020.6,737.3 1023.7,729.1 1028.5,724.3 1037.9,718.7 1045.8,717.8 1048.9,716.5 1048.6,714.9 1046,711.8 1044.5,708.6 1045.1,702.3 1045.8,700.5 1047.4,699.4 1050.5,699.7 1052.1,700.8 1055.7,708.6 1061.6,715.4 1063,721.2 1062,729.1 1062.8,730.6 1067.9,732 1071,731 1080.4,724.4 1081.6,718 1088.3,712.5 1093.1,710.7 1097.8,712.6 1099.4,712.7 1100.9,711.7 1105.7,703.6 1108.6,710.2 1111.3,713.3 1115.1,714.9 1121.4,715.5 1122.9,714.9 1124.3,708.6 1129.3,701.1 1130.9,699.8 1137.2,700.1 1141.9,694.9 1145,693 1149.8,692 1154.5,693.1 1158.2,696 1162.4,701.4 1167.1,703.7 1181.1,697.6 1183.6,694.4 1183.5,692.9 1181.8,691.3 1178.1,690.4 1175,690.7 1168.7,692.7 1165.5,692.3 1163.9,691.2 1157.9,681.8 1154.5,679.4 1141.9,677.1 1134,679.1 1130.9,678.5 1119.4,670.8 1113.5,665.6 1110.4,665.1 1100.9,668.5 1093.1,666.3 1090.5,664.5 1087.3,658.2 1083.8,655 1067.9,652.5 1056.8,648.7 1052.6,645.6 1044.2,636.5 1034.5,634.6 1032.5,633 1028.5,627.6 1025.3,625.8 1020.6,625.7 1012.8,629.4 1001.7,630 992.3,632.8 990.7,632.8 988.9,631.4 989.2,629.9 991.9,626.7 994.2,620.4 997.9,617.2 1003.3,615.5 1014.3,615.5 1026.9,612.8 1034,607.8 1045.8,603.6 1049,601.6 1050.5,599 1051.9,593.6 1053.7,591.8 1058.4,590.7 1067.9,592.9 1070.5,592 1074.2,588 1078.9,584.3 1085.3,576.3 1086.8,573.1 1086.6,571.6 1083.2,568.4 1077.3,566.5 1071,561.8 1055.3,559 1052,557.4 1050.7,555.8 1050,549.5 1053.7,537.2 1056.8,533.1 1062.3,530.6 1061.6,529.6 1055.3,530.2 1049,528 1045.8,527.7 1043.7,529 1041.1,535.1 1039.6,536.9 1036.4,538 1033.2,535.4 1032.3,532.2 1032.9,529 1035.6,524.3 1034.8,518 1033.2,516.3 1030.1,516.2 1020.6,519.4 1019,520.7 1018.4,522.8 1021.3,530.6 1020.6,532.3 1017.5,533.6 1014.3,531.8 1009.6,524.3 1005.7,521.2 1001.7,520.2 997,520.5 993.8,519.9 989.1,515.2 986,513.9 981.9,516.5 979.4,516.5 978,514.9 979.6,508.6 977.1,502.3 977.3,499.1 979.7,497.6 989.1,496.8 992.3,495.4 993.6,492.8 994,488.1 956.2,488.1 954.5,490.1 952.9,490.6 951.3,490.4 949.6,488.1 938.4,488.1 945,498.6 946.6,499.7 951.3,500.9 955.1,503.8 956.5,507 956.4,508.6 948.6,516.5 940.3,519.2 937.1,522 935.7,525.9 936.9,533.8 935.6,534.9 930.8,535.2 921.4,534.1 907.2,539.7 904.1,539.1 900.9,537.4 891.5,529.9 878.9,526.3 867.8,525.5 860,521.4 855.2,520.7 853.5,519.6 850,510.1 847.4,508.1 845.3,508.6 837.9,513 831.6,512.1 830.1,503.8 826.9,499.7 822.2,496.6 819,496.7 815.9,498.1 811.1,505.2 809.6,505.7 806.4,505.1 803,502.3 796.3,488.1 780,488.1 778.1,488.8 776.5,488.1 765.4,488.1 763.9,490.8 760.8,492.2 756.5,491.2 753,488.1 738.7,488.1 738.7,504.2 740.3,506.5 740.6,508.6 740.3,510.2 738.7,512.2 738.7,523.8 745,523.8 757.6,519.4 765.5,518.4 773.3,516 781.2,515.1 784.1,513.3 786.9,510.1 789.1,510.2 794.3,514.9 801.7,518.7 803.4,521.2 803.8,525.9 805.1,527.5 811.1,531.4 820.6,542.6 823.8,543.8 831.6,541.6 834.8,541.9 844.9,549.5 850.5,558.1 858.4,559.4 860,560.4 862.9,566.9 862.7,570 861.5,572.1 853.7,570.6 853.4,573.1 855.2,575.7 856.8,575.9 861.5,574 870.3,582.6 882,585.9 893.5,592 896.2,595.2 897.3,604.6 899.3,608.4 902.5,609.2 910.4,605.7 913.5,606.1 915.5,607.8 916.3,611 911.9,617 911.9,620.4 913.5,625 919.8,623.8 921.4,624 922.7,625.1 922.8,629.9 921.4,632.7 919.8,633.6 918.2,633.2 916.7,631.7 913.5,625.2 905.6,627.2 901.4,625.1 899.4,622 898.8,617.2 897.8,615.4 894.6,614.6 889.9,614.9 883.6,618.8 880.4,619.7 879.4,618.8 879.6,615.7 877.8,612.5 875.7,612.2 874.2,614.1 875.5,617.2 878.8,620.4 874.2,626.7 873.9,628.3 880.3,640.9 881.6,650.3 883.6,653.8 889.5,656.6 890.1,658.2 886.5,666.1 884.9,674 888.3,676 894.6,676.7 896.2,676.3 902.5,671.7 905.6,671.1 908.8,673.4 910.5,677.1 910,678.7 907.2,680.6 904.1,680.6 894.6,678.8 891.5,679.9 889.4,681.8 888.7,685 892.1,689.7 891.6,691.3 880.4,698.7 878.2,702.3 878.5,707 883.6,717.8 885.2,717.6 886.8,715.8 889.5,708.6 893,705.8 899.3,705.2 908.8,706.3 910.4,706.1 915.1,703.3 917.7,700.7 921.4,693.6 929.3,687.3 930.5,681.8 932,680.2 937.1,678.3 941.9,674.9 945,674.8 950.7,677.1 954,680.2 954.5,688.1 955.2,689.7 957,691.3 959.2,691.2 960.7,689.7 962.1,685 963.9,682.7 968.6,681.2 973.4,681.5 977.2,683.4 984.4,693.6 992.9,697.6 994.8,699.1 990.9,703.9 981.2,712.1 978.1,712.4 974.9,711.5 967.1,707 965.5,706.9 960.8,709 956,708.3 952.9,709.3 951.8,711.8 952.9,715.8 959.2,721.2 967.1,729.6 970.2,730 976.5,729 986,725.4 993.8,729.9 997,729.9 1000.1,728.1 1004.9,723.8 1008,722.9 1011.2,724.8 1015,729.1 1017.5,737.6ZM1007.2,713.3 1000.1,708.5 999.1,707 997,700.8 995.6,699.1 995.7,697.6 997.4,694.4 1000.1,691.7 1011.2,690.7 1020.6,696.9 1028.5,697.4 1030.1,698.1 1034.9,702.3 1036.8,705.5 1036.6,707 1035.5,708.6 1033.2,709.7 1028.5,710.3 1019,709.8 1015.9,710.9 1011.2,713.9 1009.6,714.3 1007.2,713.3ZM930.4,666.1 926.3,661.4 925,658.2 926.8,647.2 928,645.6 930.8,644.9 933.7,645.6 935,647.2 937.5,655 937.8,658.2 935.6,665.2 934,667.3 932.4,667.4 930.4,666.1ZM1037.8,554.2 1037,551.1 1037.9,549.4 1039.5,549.1 1041.1,550 1042,552.7 1041.1,554.5 1039.5,555 1037.8,554.2ZM1000.8,541.6 1003.3,541 1004.4,541.6 1003.3,542.6 1001.7,542.7 1000.8,541.6ZM915.1,729.1 916.7,728 917.5,725.9 917.9,719.6 916.7,715.5 915.1,713.9 913.5,713.4 911.8,714.9 910.6,724.4 911.9,727.2 915.1,729.1ZM1181.3,728.3 1184.4,729 1187.6,727.5 1189.4,724.4 1189,722.8 1186,721.2 1181.3,721.3 1179.7,722.5 1179,724.4 1179.2,725.9 1181.3,728.3ZM934,712.3 937.1,712.3 938.2,710.2 938.1,708.6 936,705.5 932.4,704.7 930.7,705.5 930.1,707 931.5,710.2 934,712.3ZM1091.5,572 1094.6,572.4 1096.2,571.6 1096.7,570 1096.2,568.7 1094.6,567.8 1091.9,568.4 1090.5,570 1090.6,571.6 1091.5,572ZM848.9,565.9 850.4,565.3 850.4,563.7 848.9,561.6 847.4,561.8 846.4,563.7 847.4,565.2 848.9,565.9ZM1141.9,565.1 1143.5,564.6 1145,563.1 1145.8,560.5 1141.1,552.7 1134,547.4 1130.9,546.9 1129.3,547.7 1127.7,549.9 1127,552.7 1127.7,556.5 1130.9,558.8 1138.8,560.1 1141.9,565.1ZM1085.2,556.8 1089.9,557.2 1093.1,556.2 1094.6,554.8 1095.7,552.7 1096.8,544.8 1096.2,542.2 1094.6,541.8 1089.9,542.7 1081.4,546.4 1080.5,548 1081.3,552.7 1082.2,554.2 1085.2,556.8ZM1146.6,543.4 1149.8,542 1150.9,540.1 1149.9,536.9 1145,534.3 1143.5,534.2 1140.8,535.4 1139.9,536.9 1140.4,538.5 1143.5,542 1146.6,543.4ZM1127.7,537.3 1129.3,537.8 1130.9,537.1 1131.1,535.4 1128.3,535.4 1127.7,537.3ZM1175,529.7 1176.7,529 1177.1,522.8 1176.5,521 1175,519.8 1173.4,519.7 1171.1,521.2 1169.8,524.3 1171.3,527.5 1175,529.7ZM1156.1,513.3 1157.6,513.3 1159.2,512.3 1163.6,508.6 1164.9,505.4 1163.9,501.9 1162.4,501.2 1160.8,501.6 1157.6,504.5 1155.5,510.1 1156.1,513.3ZM1201.8,514.4 1203.3,514.8 1204.9,512.7 1203.5,507 1204.5,497.6 1203.8,496 1201.8,494.7 1198.6,494.5 1194,497.6 1192.4,500.7 1192.3,502.9 1193.9,506.2 1199.7,510.1 1201.8,514.4ZM1134,511.9 1137.2,512.7 1139.3,511.7 1143.5,506.4 1145.1,502.3 1138.8,500 1129.3,495.2 1127.7,495 1124.8,496 1122.6,499.1 1123,502.5 1124.6,504.3 1130.7,507 1134,511.9ZM1067.9,493.3 1069.4,493.7 1072,492.8 1073.3,491.2 1073.9,488.1 1065.2,488.1 1065.9,491.2 1067.9,493.3ZM1159.2,490.2 1160.8,491.1 1162.4,491 1163.6,488.1 1158,488.1 1159.2,490.2ZM1212.8,490.4 1214.3,490.8 1216.1,488.1 1212.3,488.1 1212.8,490.4Z" fill="#e8eaf5" stroke="#e8eaf5" stroke-width="0.6" fill-rule="evenodd"/>
<path d="M971.8,723.1 974.3,722.8 975.2,721.2 974.7,719.6 971.8,717.9 969.6,719.6 969.7,721.2 971.8,723.1ZM1078.9,707.2 1083.6,707 1089.9,703 1096.2,701.3 1099.4,699.3 1102.1,694.4 1102.1,691.3 1100.9,688.3 1099.4,686.4 1096.2,686.5 1088.3,693 1085.2,694.5 1083.6,693.9 1086,681.8 1086.1,677.1 1084.6,674 1079.2,669.2 1075.8,662.2 1072,659.8 1063.1,658.1 1057.3,653.5 1039.5,642.1 1031.6,641.5 1023.8,638 1004.9,635.1 1001.7,635.4 993.8,638.6 990.7,638.7 981.2,633.7 976.5,633.3 973.6,634.6 971.9,636.1 970.2,642.2 968.6,643.9 960.8,645.9 957.6,647.3 956.3,648.8 956.1,650.3 957.2,655 957,658.2 955.5,659.8 949.8,661.3 948,662.9 948,666.1 949.9,669.2 956,672.8 960.8,674.1 968.6,673.8 976.5,676 984.8,677.1 985.6,678.7 985.7,683.4 987.5,685.8 989.1,686.1 990.7,685.5 992.6,683.4 993.6,680.2 993.1,677.1 993.8,676.2 1003.3,678.5 1009.6,678.3 1011.2,678.8 1018.6,689.7 1020.6,691.2 1022.2,691.3 1023.8,690.5 1026.9,687 1030.1,685.5 1036.4,687.7 1045.8,688.3 1055.3,694.5 1057.6,697.6 1059.8,703.9 1061.6,705.5 1069.4,705.8 1078.9,707.2ZM899.3,699.8 902.5,700.6 905.6,699.5 906.9,697.6 906.5,696 904.1,694.2 900.9,694.8 898.4,697.6 898.5,699.1 899.3,699.8ZM1116.7,698 1118.3,698.1 1123,693.9 1130.9,690.8 1133.1,688.1 1132.8,686.5 1131.5,685 1127.7,682.8 1124.6,682.4 1121.8,683.4 1114,691.3 1113.9,694.4 1116.7,698ZM896.2,648.9 899.3,650.1 902.5,649.9 905.6,647.2 906.3,645.6 905.8,642.5 904.1,639.3 901.6,636.1 899.3,634.5 897.8,634.4 896.2,635.6 894.1,640.9 891.1,645.6 892.7,647.2 896.2,648.9ZM934,636.3 937.1,635 940.3,632.2 942,629.9 944.4,622 946.6,620.6 957.6,621.4 976.5,618.5 986,619.6 995.4,614.5 1014.3,611 1023.8,606.5 1039.1,601.5 1044.2,597.5 1047.4,590.8 1049,588.9 1060,583.9 1061.4,581 1063.4,568.4 1060.7,566.9 1055.3,566.3 1037.9,561.8 1026.9,556.6 1019,555.1 1010.6,549.5 1008,549.3 995.4,552 990.9,551.1 983.9,548 981.4,546.4 980.5,544.8 981.3,538.5 979.3,533.8 976.5,531.2 967.1,525.2 963.9,526.1 957.6,530.7 954.5,530 949.1,527.5 946.3,527.5 946.1,529 949.2,535.4 949.2,536.9 945.6,540.1 938.7,543.3 927.7,543.2 921.4,539.8 916.7,541 914.5,543.2 913.9,544.8 914.7,552.7 914,555.8 909.4,559 909.5,560.5 910.7,562.1 910.6,563.7 905.6,568 901.6,573.1 900.2,576.3 900.5,577.9 903.5,582.6 909.2,588.9 909.7,590.5 909.3,592 905.6,596 905.6,598.4 907.2,599.2 918.2,599.4 923,604.9 938.7,613.9 940.4,615.7 941.2,618.8 940.6,620.4 933.1,626.7 931.3,629.9 931.1,634.6 932.4,636.1 934,636.3ZM962.3,549.5 960.8,548 959.8,544.8 959.2,541.6 960.8,541.1 967,543.2 968.6,546.1 968.3,548 967.1,549.7 965.5,550.4 962.3,549.5ZM957.5,540.1 955.8,538.5 956,536.8 957.6,536.9 959.3,540.1 959.2,541.3 957.5,540.1ZM885.2,582.7 888.3,583.6 891.5,582.6 893.8,579.5 895,576.3 894.8,563.7 889.3,555.8 888.5,552.7 890.3,549.5 896.1,544.8 896.1,543.2 889.9,538.6 885.2,536.2 878.9,530.5 874.1,529.5 867.8,530.3 865.4,532.2 865,543.2 870.9,548 871.9,551.1 871,554.2 867.9,559 867.9,562.1 871.4,568.4 872.4,574.7 873.3,576.3 875.7,578.2 885.2,582.7ZM856.8,549.6 859.9,548 862.3,544.8 858.4,539 858,532.2 856.4,530.6 850.5,528.3 847.4,526.3 842.6,520.9 837.9,520.1 834.4,521.2 833.3,522.8 833.7,525.9 839.9,532.2 844.4,540.1 851.7,544.8 855.2,549.1 856.8,549.6ZM756,513.5 760.8,513.9 762.6,513.3 764.1,511.7 764,510.1 760.9,505.4 759.2,499.2 756,498.4 752.9,498.8 749.7,500.3 748.4,502.3 747.9,505.4 748.3,508.6 749.7,511.4 756,513.5Z" fill="#d8d9ee" stroke="#d8d9ee" stroke-width="0.6" fill-rule="evenodd"/>
<path d="M1066.3,698 1069.4,697.5 1071.1,696 1072.9,691.3 1072.5,688.1 1069.4,687.1 1064.7,687.2 1062.3,688.1 1061,689.7 1061,691.3 1062.3,694.4 1064.7,697.3 1066.3,698ZM1074.2,686.6 1077.3,686.8 1080.5,684.7 1081.6,680.2 1081.1,678.7 1079.4,677.1 1075.8,677 1074.1,678.7 1073.2,683.4 1074.2,686.6ZM1042.7,677.1 1045.8,676.1 1048.5,674 1049.6,670.8 1047.8,666.1 1048.4,664.5 1052.1,661.4 1052.8,659.8 1051.4,656.6 1046.3,651.9 1039.5,648.4 1034.8,648 1028.5,649.6 1025.3,649.5 1009.7,640.9 1004.9,639.4 1000.1,640 993.8,643.4 990.7,644.4 979.7,638.1 978.1,638.2 976.5,639.6 975.9,647.2 974.9,650.1 973.4,651 968.6,649.9 965.5,650.1 963.3,651.9 962.8,653.5 963.2,656.6 964.9,659.8 967.1,660.6 971.8,660.8 974.9,666.8 978.1,669.5 982.8,670.2 990.7,667.2 993.8,666.9 1000.1,672.3 1003.3,673.6 1008,672.6 1014.3,666.7 1023.8,659.9 1025.3,659.2 1026.9,659.5 1037.6,669.2 1040.2,675.5 1041.1,676.9 1042.7,677.1ZM954.5,614.1 962.3,615.3 970.2,614.6 984.4,615.3 991.3,612.5 1009.7,607.8 1013.3,606.2 1020.1,601.5 1034.8,598.3 1039.8,593.6 1046.3,582.6 1047,579.5 1045.8,572.5 1044.2,571.4 1037.9,570.9 1032,566.9 1028.5,565.4 1025.3,565.1 1019,566.9 1015.9,566.6 1013,563.7 1011.2,557.4 1008,554.8 1004.9,554.8 998.6,557.1 990.7,556.3 982.8,556.8 976.5,555.8 967.1,557 962.3,555.8 955.8,552.7 949.8,547.5 948.2,547 945,547.5 941.9,551.1 942.6,552.7 948.3,555.8 949.5,559 949.5,562.1 948.8,563.7 946.6,565.3 935.6,565.7 934,566.7 933.7,574.7 931.4,582.6 928.6,598.4 929.3,600 938.7,604.1 948.2,611.6 954.5,614.1ZM911.9,579.6 913.2,577.9 911.9,576.6 910.3,577.9 911.9,579.6ZM874.1,540.8 875.7,540.7 876.9,538.5 876,535.4 874.1,534.7 872.3,535.4 871.7,536.9 872.6,539.7 874.1,540.8Z" fill="#c5c2e2" stroke="#c5c2e2" stroke-width="0.6" fill-rule="evenodd"/>
<path d="M1003.3,669.4 1005.9,669.2 1008.1,667.6 1012.3,661.4 1013.1,658.2 1006.4,654.3 1005.5,651.9 1005.8,647.2 1005.2,645.6 1003.3,644.6 1000.1,645.8 998.6,648.8 998.2,651.9 1000.4,666.1 1003.3,669.4ZM1036.4,659 1037.9,659.6 1041.1,658.8 1042.5,656.6 1041.8,655 1039.5,653.4 1035.9,653.5 1034.5,655 1034.5,656.6 1036.4,659ZM974.9,611.4 982.8,612 989.1,609.9 1000.4,607.8 1006.2,604.6 1009.2,601.5 1012.8,595.6 1018.4,590.5 1019.8,582.6 1019.2,579.5 1017.4,576.3 1006.4,567.6 998.7,565.3 993.8,562.4 990.7,561.5 984.4,562 976.5,561.3 968.6,562.2 959.2,560.9 956.8,562.1 951.3,568.1 941.9,572.1 940,574.7 935.3,587.3 935.1,592 936.6,595.2 952.9,607.1 959.2,608.3 967.1,608.4 974.9,611.4ZM1023.8,593.8 1028.5,594 1033.2,592.3 1036.5,588.9 1037.2,585.8 1036.5,584.2 1034.8,582.7 1031.6,581.6 1028.5,582.5 1022.6,592 1023.8,593.8Z" fill="#b2acd9" stroke="#b2acd9" stroke-width="0.6" fill-rule="evenodd"/>
<path d="M976.5,608.1 979.7,608.2 987.5,606.1 997,605.3 1001.7,603.1 1004,599.9 1006.4,593.8 1011,585.8 1011.4,582.6 1010.6,581 1001.6,573.1 993.8,568.5 978.1,565 974.9,565.4 965.5,569.4 956,570.4 946.9,574.7 944.4,577.9 941.3,584.2 940.3,588.9 941.3,592 948.2,596.8 952.9,601.5 955.4,603.1 968.6,605.1 976.5,608.1Z" fill="#a097cc" stroke="#a097cc" stroke-width="0.6" fill-rule="evenodd"/>
<path d="M973.4,603.2 978.1,603.3 986,600.9 995.4,601.2 998.1,599.9 999.4,598.4 1000.8,593.6 1000.6,588.9 997,583.3 995.4,577.9 992.9,574.7 989.2,573.1 978.1,570.4 968.6,575.2 952.9,576.2 950,577.9 948.7,579.5 947.5,582.6 947.9,585.8 956,597.9 959,599.9 962.3,601.2 973.4,603.2Z" fill="#8e81bb" stroke="#8e81bb" stroke-width="0.6" fill-rule="evenodd"/>
<path d="M965.5,598.8 970.2,599.6 974.9,599.5 992.3,594.9 993.3,593.6 993.4,592 989.7,579.5 986,577.3 981.2,577 971.8,580.1 962.3,580.8 958,582.6 956.8,585.8 958.7,592 961.9,596.8 965.5,598.8Z" fill="#7b68ab" stroke="#7b68ab" stroke-width="0.6" fill-rule="evenodd"/>
<path d="M973.4,595.3 979.7,594.9 984.6,592 986.5,587.3 985.7,582.6 982.8,581.2 979.7,581.3 971.2,584.2 968.6,585.8 966.6,588.9 967.1,593.1 968.6,594.5 973.4,595.3Z" fill="#6c4ba2" stroke="#6c4ba2" stroke-width="0.6" fill-rule="evenodd"/>
<path d="M974.9,590.5 976.5,591.2 979.5,590.5 980.6,588.9 980.8,587.3 979.7,586.1 976.5,586.3 974.9,587.3 974.3,588.9 974.9,590.5Z" fill="#582a92" stroke="#582a92" stroke-width="0.6" fill-rule="evenodd"/>
<clipPath id="hd"><path d="M806.4,765.3 816.9,765.3 816.5,755.9 815.4,751.1 816.2,749.5 817.4,748.9 819.2,749.5 819.5,754.3 821.6,757.4 825.3,759.2 834.8,758.8 837.9,759.5 841,762.1 842.3,765.3 1306.3,765.3 1304.3,760.6 1302.5,758.4 1299.4,756.9 1291.5,756.3 1287.8,754.3 1283.7,751.1 1279,744.8 1276.7,743.2 1249,741.1 1245.6,740.1 1241.1,737 1238.9,733.8 1238.6,732.2 1239.9,727.5 1239.7,725.9 1238,725.3 1233.2,725.9 1231.7,725.1 1230.4,722.8 1229.4,716.5 1226.1,708.6 1227.4,700.7 1227,699.1 1225.4,697.2 1218.3,692.9 1221.5,685 1221.7,681.8 1221.1,678.7 1219.1,676.7 1212.8,675.5 1210.5,674 1209.3,670.8 1209.5,659.8 1208,657.4 1204.7,656.6 1198.6,656.5 1195.5,661.4 1192.3,662.9 1189.1,662.1 1182.8,658.4 1176.5,659.1 1163.9,658.7 1160.8,658 1156.1,655.8 1149.8,656.1 1141.9,654 1134,654.4 1129.3,652.2 1121.4,645.9 1113.5,647.7 1105.7,643.7 1097.8,642.7 1093.1,638.2 1084.7,636.1 1078.9,630.4 1069.4,628.6 1066.3,627 1064.3,625.1 1063.4,622 1065.4,618.8 1067.9,617.1 1071,616.2 1075.8,616.6 1078.9,616 1082.2,612.5 1084.9,611 1093.1,612.3 1096.2,612.1 1110.4,608.5 1117.6,607.8 1134,601.3 1137.2,601.5 1141.9,604.7 1145,605.5 1163.9,598.5 1169.7,601.5 1171.8,601.8 1173.4,601.3 1178.1,597.6 1181.3,596.4 1183.3,596.8 1189.1,601.1 1198.6,603.5 1201.8,603.8 1209.6,602.5 1212.8,601.4 1217.5,596.4 1223.8,594 1227.6,588.9 1230.1,586.7 1244.3,582 1252.1,583.8 1253.7,583.5 1256.1,581 1257.1,577.9 1257,576.3 1253.7,572.8 1252.2,570 1252.5,566.9 1253.7,564.9 1256.9,562.4 1263.2,559.2 1267.9,554.4 1271,554.4 1280.5,556.9 1282.1,556.7 1285.6,546.4 1299.5,538.5 1300.8,535.4 1299.2,529 1299.4,527.5 1307.3,517.9 1310.4,516.1 1313.6,515.6 1315.2,516.2 1319.9,522.3 1321.4,523 1330.9,521.7 1330.9,494.5 1327.2,494.4 1326.4,499.1 1325,502.3 1323,504.9 1319.9,506.6 1318.1,503.8 1318.3,499.7 1321.4,495.9 1326.2,493.7 1326.4,488.1 738.7,488.1 738.7,542.3 748.1,539.4 752.9,538.8 756,540.2 760.8,545 763.9,547.1 774.9,549.5 781.2,551.7 784.4,554.2 785.4,555.8 787.7,563.7 790,565.3 795.4,566.9 809.6,574.4 813.3,577.9 814.9,581 815,584.2 813.5,593.6 818.2,601.5 817.2,607.8 821.5,612.5 822.4,617.2 821.4,628.3 817.9,634.6 817.2,637.7 819.5,647.2 819.5,650.3 817.4,652.7 814.3,652.9 806.4,647.5 803.3,648.2 800.4,651.9 799.6,655 803,666.1 801.7,667.3 797,667.8 795,669.2 797,670.8 799.6,670.8 803.3,669.7 804.8,670.1 808,672.8 809.6,675.4 810.9,686.5 815.9,691.1 816.2,692.9 814.2,700.7 813.7,705.5 814.3,706.5 819,706.8 822.4,708.6 823.2,710.2 823.2,713.3 822.2,716.4 819.7,719.6 819.4,721.2 822.7,724.4 824.2,727.5 823.3,730.6 822.2,732 820.6,732.5 817.4,731.1 815.4,729.1 814.8,725.9 818.6,721.2 818.3,719.6 814.9,714.9 812.7,707.2 808,708.3 804.2,710.2 803.1,711.8 803.3,714.9 804.8,719 809,725.9 810.3,730.6 811.5,732.2 815.9,735.1 816.8,737 815,740.1 808.7,746.4 804.7,755.9 804.3,759 805,765.3 806.4,765.3ZM831.3,744.8 832,744.8 831.3,744.8ZM1065.4,697.6 1063.1,695.7 1061.5,692.9 1061,689.7 1061.6,688.8 1063.1,687.7 1066.3,687 1071,687.4 1072.5,688.1 1072.9,691.3 1071,696.1 1067.9,698 1065.4,697.6ZM1074.1,686.5 1073.2,683.4 1074.1,678.7 1075.8,677 1079.4,677.1 1081.1,678.7 1081.6,680.2 1080.5,684.7 1077.3,686.8 1074.1,686.5ZM1042.3,677.1 1041.1,676.9 1040.2,675.5 1037.6,669.2 1026.9,659.5 1025.3,659.2 1023.8,659.9 1014.3,666.7 1008,672.6 1003.3,673.6 1000.1,672.3 993.8,666.9 990.7,667.2 982.8,670.2 978.1,669.5 974.9,666.8 971.8,660.8 967.1,660.6 964.9,659.8 963.2,656.6 962.8,653.5 963.3,651.9 965.5,650.1 968.6,649.9 973.4,651 974.9,650.1 975.9,647.2 976.5,639.6 978.1,638.2 979.7,638.1 990.7,644.4 993.8,643.4 1000.1,640 1004.9,639.4 1009.7,640.9 1025.3,649.5 1028.5,649.6 1034.8,648 1039.5,648.4 1046.3,651.9 1051.4,656.6 1052.8,659.8 1052.1,661.4 1048.4,664.5 1047.8,666.1 1049.6,670.8 1048.5,674 1045.8,676.1 1042.3,677.1ZM954.4,614.1 948.2,611.6 937.1,603.2 930.8,601.1 929.2,599.9 928.6,598.4 931.4,582.6 933.7,574.7 934,566.7 935.6,565.7 946.6,565.3 948.8,563.7 949.5,562.1 949.5,559 948.3,555.8 942.6,552.7 941.9,551.1 945,547.5 948.2,547 949.8,547.5 955.8,552.7 962.3,555.8 967.1,557 976.5,555.8 982.8,556.8 990.7,556.3 998.6,557.1 1004.9,554.8 1008,554.8 1011.2,557.4 1013,563.7 1015.9,566.6 1019,566.9 1025.3,565.1 1028.5,565.4 1032,566.9 1037.9,570.9 1044.2,571.4 1045.8,572.5 1047,579.5 1046.3,582.6 1039.8,593.6 1034.8,598.3 1020.1,601.5 1013.3,606.2 1009.7,607.8 991.3,612.5 984.4,615.3 970.2,614.6 962.3,615.3 954.4,614.1ZM824.5,603.1 823.2,595.2 823.6,592 824.5,590.5 826.9,589.1 828.5,589.1 831.6,590.1 834.8,592 836.1,593.6 836.8,596.8 835,599.9 826.9,604.5 825.3,604.2 824.5,603.1ZM1165.1,590.5 1165.5,589.5 1166.3,590.5 1165.5,591.3 1165.1,590.5ZM911.5,579.5 910.3,577.9 911.9,576.6 913.2,577.9 912.5,579.5 911.5,579.5ZM873,540.1 871.7,536.9 872.3,535.4 874.1,534.7 875.7,535.1 876.9,536.9 876.3,540.1 874.1,540.8 873,540.1ZM1282,525.9 1281.7,524.3 1283.3,522.8 1285.2,522.2 1286.8,522.8 1287,524.3 1285.4,525.9 1282,525.9ZM876.2,514.9 874.5,513.3 873,510.1 872.7,508.6 874.1,506.3 877.3,505.4 880.4,505.5 885.2,507.7 888.3,510.1 888.5,511.7 883.3,514.9 878.9,515.6 876.2,514.9ZM1315.2,765.3 1319.5,765.3 1316.7,764.2 1313.8,765.3 1315.2,765.3ZM779.6,669.3 782.3,667.6 783.5,666.1 781.2,664.2 779.6,664 777.8,666.1 778.1,668.8 779.6,669.3ZM1260,574.9 1261.6,574.8 1261.6,574 1260,573.8 1260,574.9ZM1318.3,535.4 1321.4,534 1323,532.2 1322.6,529 1319.9,526.8 1316.7,527.4 1314.6,529 1313.8,530.6 1315.2,533.9 1318.3,535.4Z" clip-rule="evenodd"/></clipPath><path d="M751.3,510.1L1318.3,155.7M751.3,525.4L1318.3,171.0M751.3,540.7L1318.3,186.3M751.3,556.0L1318.3,201.6M751.3,571.3L1318.3,216.9M751.3,586.6L1318.3,232.2M751.3,601.9L1318.3,247.5M751.3,617.2L1318.3,262.8M751.3,632.5L1318.3,278.1M751.3,647.8L1318.3,293.4M751.3,663.1L1318.3,308.7M751.3,678.4L1318.3,324.0M751.3,693.7L1318.3,339.3M751.3,709.0L1318.3,354.6M751.3,724.3L1318.3,369.9M751.3,739.6L1318.3,385.2M751.3,754.9L1318.3,400.5M751.3,770.2L1318.3,415.8M751.3,785.5L1318.3,431.1M751.3,800.8L1318.3,446.4M751.3,816.1L1318.3,461.7M751.3,831.4L1318.3,477.0M751.3,846.7L1318.3,492.3M751.3,862.0L1318.3,507.6M751.3,877.3L1318.3,522.9M751.3,892.6L1318.3,538.2M751.3,907.9L1318.3,553.5M751.3,923.2L1318.3,568.8M751.3,938.5L1318.3,584.1M751.3,953.8L1318.3,599.4M751.3,969.1L1318.3,614.7M751.3,984.4L1318.3,630.0M751.3,999.7L1318.3,645.3M751.3,1015.0L1318.3,660.6M751.3,1030.3L1318.3,675.9M751.3,1045.6L1318.3,691.2M751.3,1060.9L1318.3,706.5M751.3,1076.2L1318.3,721.8M751.3,1091.5L1318.3,737.1M751.3,1106.8L1318.3,752.4M751.3,1122.1L1318.3,767.7" stroke="#eba4f6" stroke-width="1.0" fill="none" clip-path="url(#hd)"/>
<line x1="751.3" y1="626.7" x2="1318.3" y2="626.7" stroke="#8d6ae6" stroke-width="2.6"/>
<path d="M719.8,548.0L741.8,548.6L750.0,551.1L751.3,554.2L757.6,555.5L761.4,559.3L772.1,559.9L780.3,562.4L787.8,560.5L791.0,559.3L799.2,560.5L804.2,563.7L806.7,566.2L809.9,570.0L814.3,573.1L819.3,576.9L822.5,580.7L824.4,584.5L830.0,587.6L833.2,588.9L842.6,589.5L849.6,589.5L858.4,592.0L863.4,595.8L867.2,599.6L869.7,604.0L872.3,610.3L874.1,614.7L876.0,620.4L877.3,624.8L881.1,628.0L886.8,629.9L889.9,631.1L894.9,631.1L899.3,633.0L906.3,635.5L910.1,637.4L911.9,643.1L915.1,642.5L918.9,641.8L927.7,643.7L934.0,645.0L942.2,646.2L947.9,649.4L951.0,652.5L957.3,656.3L963.6,658.2L969.3,658.8L971.2,663.2L972.7,670.8L972.7,675.8L971.8,680.9L969.9,684.7L966.1,689.7L961.7,693.5L957.9,697.9L954.8,702.3L951.0,706.7L947.2,709.9L946.6,714.9L946.6,721.2L946.6,727.5L945.3,735.7L942.2,742.0L941.6,749.5L938.4,755.2L934.0,762.1L927.7,771.6L814.3,815.7L688.3,815.7L688.3,548.0Z" fill="#d0d0d0" stroke="#000" stroke-width="0.9" stroke-linejoin="round"/>
<path d="M1083.9,481.8L1085.2,494.4L1089.6,500.7L1090.9,507.0L1089.6,513.3L1088.3,522.1L1085.8,528.4L1082.7,533.5L1084.6,536.0L1086.5,541.0L1086.5,544.8L1087.1,548.6L1090.2,552.4L1094.6,555.5L1097.8,558.0L1100.3,561.8L1104.1,565.0L1108.5,568.7L1109.1,572.5L1112.9,577.6L1116.7,580.7L1121.1,583.9L1126.1,587.6L1132.4,593.3L1138.1,597.1L1144.4,599.3L1148.2,598.4L1154.5,596.5L1160.8,594.6L1167.1,593.9L1173.4,594.6L1179.7,596.5L1186.0,593.9L1192.3,590.8L1198.6,588.3L1204.9,586.7L1211.2,586.4L1217.5,587.0L1220.6,588.3L1223.8,590.8L1225.7,594.6L1228.8,598.4L1232.6,599.3L1237.7,598.7L1242.7,597.7L1246.5,599.0L1249.0,602.1L1252.8,605.3L1254.7,609.1L1254.0,612.8L1253.4,617.2L1252.1,621.0L1250.9,624.8L1250.3,628.6L1247.7,631.7L1250.3,634.9L1253.4,639.3L1257.2,644.3L1261.6,649.4L1265.4,653.8L1268.5,658.2L1269.8,663.2L1271.7,666.4L1273.6,672.1L1274.8,678.4L1276.1,682.8L1275.5,686.5L1278.0,691.6L1279.2,696.0L1278.0,701.0L1274.8,706.1L1271.7,710.5L1269.8,714.9L1268.5,719.9L1267.3,726.2L1266.6,732.5L1266.6,737.0L1267.9,742.0L1271.0,746.4L1274.2,752.7L1277.3,759.0L1280.5,771.6L1381.3,771.6L1381.3,481.8Z" fill="#d0d0d0" stroke="#000" stroke-width="0.9" stroke-linejoin="round"/>
<path d="M768.5,510.8L769.1,513.4L770.8,514.3L778.6,513.4L780.9,512.5L780.3,511.3L777.4,510.5L770.3,510.5Z" fill="none" stroke="#000" stroke-width="1.1"/>
<path d="M748.1,505.1L752.6,506.6L754.8,505.4L756.7,506.1L760.1,507.8L761.7,509.5L762.0,511.7L758.9,512.7L755.1,511.7L752.6,511.1L748.1,511.4Z" fill="none" stroke="#000" stroke-width="1.1"/>
<path d="M802.3,558.7L808.3,558.3L808.0,563.1L802.3,563.4Z" fill="none" stroke="#000" stroke-width="1.1"/>
<circle cx="783.4" cy="510.5" r="1.2" fill="#000"/>
<circle cx="784.7" cy="511.1" r="1.2" fill="#000"/>
<circle cx="792.9" cy="515.2" r="1.2" fill="#000"/>
<circle cx="796.3" cy="513.9" r="1.2" fill="#000"/>
<circle cx="796.9" cy="516.7" r="1.2" fill="#000"/>
<circle cx="799.8" cy="514.3" r="1.2" fill="#000"/>
<circle cx="804.2" cy="517.9" r="1.2" fill="#000"/>
<circle cx="804.8" cy="524.4" r="1.2" fill="#000"/>
<circle cx="806.4" cy="529.7" r="1.2" fill="#000"/>
<circle cx="808.8" cy="535.7" r="1.2" fill="#000"/>
<circle cx="808.2" cy="539.1" r="1.2" fill="#000"/>
<circle cx="807.0" cy="543.4" r="1.2" fill="#000"/>
<circle cx="805.8" cy="548.1" r="1.2" fill="#000"/>
<circle cx="809.9" cy="548.7" r="1.2" fill="#000"/>
<circle cx="817.7" cy="539.8" r="1.2" fill="#000"/>
<circle cx="757.6" cy="550.2" r="1.2" fill="#000"/>
<circle cx="758.9" cy="550.8" r="1.2" fill="#000"/>
<circle cx="780.9" cy="558.0" r="1.2" fill="#000"/>
<circle cx="787.8" cy="557.4" r="1.2" fill="#000"/>
<circle cx="791.6" cy="557.6" r="1.2" fill="#000"/>
<circle cx="1041.1" cy="522.1" r="1.2" fill="#000"/>
<circle cx="1044.2" cy="531.6" r="1.2" fill="#000"/>
<circle cx="1048.0" cy="525.3" r="1.2" fill="#000"/>
<circle cx="1038.6" cy="532.8" r="1.2" fill="#000"/>
<circle cx="1034.8" cy="519.6" r="1.2" fill="#000"/>
<circle cx="1048.7" cy="521.5" r="1.2" fill="#000"/>
<circle cx="1042.4" cy="529.0" r="1.2" fill="#000"/>
<circle cx="1247.1" cy="604.6" r="1.2" fill="#000"/>
<circle cx="1233.9" cy="624.8" r="1.2" fill="#000"/>
<circle cx="1238.9" cy="616.6" r="1.2" fill="#000"/>
<clipPath id="Ld"><path d="M719.8,548.0L741.8,548.6L750.0,551.1L751.3,554.2L757.6,555.5L761.4,559.3L772.1,559.9L780.3,562.4L787.8,560.5L791.0,559.3L799.2,560.5L804.2,563.7L806.7,566.2L809.9,570.0L814.3,573.1L819.3,576.9L822.5,580.7L824.4,584.5L830.0,587.6L833.2,588.9L842.6,589.5L849.6,589.5L858.4,592.0L863.4,595.8L867.2,599.6L869.7,604.0L872.3,610.3L874.1,614.7L876.0,620.4L877.3,624.8L881.1,628.0L886.8,629.9L889.9,631.1L894.9,631.1L899.3,633.0L906.3,635.5L910.1,637.4L911.9,643.1L915.1,642.5L918.9,641.8L927.7,643.7L934.0,645.0L942.2,646.2L947.9,649.4L951.0,652.5L957.3,656.3L963.6,658.2L969.3,658.8L971.2,663.2L972.7,670.8L972.7,675.8L971.8,680.9L969.9,684.7L966.1,689.7L961.7,693.5L957.9,697.9L954.8,702.3L951.0,706.7L947.2,709.9L946.6,714.9L946.6,721.2L946.6,727.5L945.3,735.7L942.2,742.0L941.6,749.5L938.4,755.2L934.0,762.1L927.7,771.6L814.3,815.7L688.3,815.7L688.3,548.0ZM1083.9,481.8L1085.2,494.4L1089.6,500.7L1090.9,507.0L1089.6,513.3L1088.3,522.1L1085.8,528.4L1082.7,533.5L1084.6,536.0L1086.5,541.0L1086.5,544.8L1087.1,548.6L1090.2,552.4L1094.6,555.5L1097.8,558.0L1100.3,561.8L1104.1,565.0L1108.5,568.7L1109.1,572.5L1112.9,577.6L1116.7,580.7L1121.1,583.9L1126.1,587.6L1132.4,593.3L1138.1,597.1L1144.4,599.3L1148.2,598.4L1154.5,596.5L1160.8,594.6L1167.1,593.9L1173.4,594.6L1179.7,596.5L1186.0,593.9L1192.3,590.8L1198.6,588.3L1204.9,586.7L1211.2,586.4L1217.5,587.0L1220.6,588.3L1223.8,590.8L1225.7,594.6L1228.8,598.4L1232.6,599.3L1237.7,598.7L1242.7,597.7L1246.5,599.0L1249.0,602.1L1252.8,605.3L1254.7,609.1L1254.0,612.8L1253.4,617.2L1252.1,621.0L1250.9,624.8L1250.3,628.6L1247.7,631.7L1250.3,634.9L1253.4,639.3L1257.2,644.3L1261.6,649.4L1265.4,653.8L1268.5,658.2L1269.8,663.2L1271.7,666.4L1273.6,672.1L1274.8,678.4L1276.1,682.8L1275.5,686.5L1278.0,691.6L1279.2,696.0L1278.0,701.0L1274.8,706.1L1271.7,710.5L1269.8,714.9L1268.5,719.9L1267.3,726.2L1266.6,732.5L1266.6,737.0L1267.9,742.0L1271.0,746.4L1274.2,752.7L1277.3,759.0L1280.5,771.6L1381.3,771.6L1381.3,481.8Z"/></clipPath>
<line x1="751.3" y1="626.7" x2="1318.3" y2="626.7" stroke="#8d6ae6" stroke-width="2.6" clip-path="url(#Ld)"/>
<path d="M918.2,597.8L899.7,611.8M879.3,597.8L892.9,611.4M936.1,636.7L906.6,622.9M919.3,617.8L935.8,619.4M940.3,616.7L982.1,610.1M919.3,637.8L932.0,651.3M780.4,540.0L789.4,545.2M1059.2,616.7L1074.7,620.0M1078.0,616.7L1092.4,617.5M1097.0,616.7L1113.4,616.7M1034.0,636.7L1052.5,635.9M1237.0,696.7L1229.5,697.4M757.6,519.6L761.9,523.0M757.6,539.1L761.6,542.3M777.4,519.6L782.4,523.4M777.4,558.7L781.3,561.8M797.3,519.6L802.6,523.6M797.3,558.7L801.6,562.1M817.1,519.6L822.5,523.7M817.1,539.1L822.0,543.0M817.1,558.7L822.1,562.5M837.0,519.6L841.9,523.5M837.0,539.1L841.6,542.9M856.8,539.1L860.5,542.7M856.8,558.7L862.2,562.7M876.7,539.1L877.0,541.9M876.7,558.7L879.8,561.8M876.7,578.2L878.6,580.3M876.7,617.2L876.7,617.3M896.5,519.6L891.2,523.6M896.5,539.1L893.3,541.8M896.5,558.7L895.3,559.5M916.4,519.6L911.0,523.6M916.4,539.1L912.0,541.0M916.4,558.7L910.8,557.9M936.2,519.6L932.0,522.7M936.2,539.1L931.4,539.4M936.2,558.7L929.4,557.3M936.2,578.2L931.9,577.5M936.2,597.7L935.3,597.3M956.0,519.6L955.6,520.7M956.0,539.1L952.5,539.3M956.0,558.7L949.8,557.6M956.0,578.2L952.4,577.7M956.0,597.7L954.7,596.9M956.0,636.8L955.9,635.9M956.0,714.9L956.0,714.9M956.0,734.4L956.5,734.6M956.0,754.0L957.4,754.3M975.9,519.6L979.1,520.7M975.9,539.1L975.1,539.9M975.9,558.7L971.8,560.3M975.9,617.2L975.7,616.4M975.9,636.8L975.3,635.5M975.9,675.8L977.5,674.0M975.9,695.4L974.2,694.0M975.9,714.9L974.1,715.2M975.9,734.4L978.0,735.2M975.9,754.0L978.2,754.6M995.7,519.6L1000.9,520.9M995.7,539.1L995.5,540.4M995.7,558.7L990.4,562.6M995.7,578.2L992.7,577.8M995.7,617.2L996.1,616.5M995.7,656.3L990.7,653.7M995.7,695.4L990.7,692.8M995.7,714.9L990.7,716.1M995.7,734.4L1000.8,735.7M995.7,754.0L998.9,754.8M1015.6,519.6L1020.7,520.8M1015.6,539.1L1015.8,539.8M1015.6,558.7L1010.9,562.2M1015.6,597.7L1011.8,595.5M1015.6,617.2L1022.1,617.1M1015.6,636.8L1012.1,633.9M1015.6,656.3L1011.4,653.8M1015.6,695.4L1011.4,693.1M1015.6,714.9L1011.4,715.9M1015.6,734.4L1020.1,735.6M1015.6,754.0L1018.6,754.8M1035.4,519.6L1039.2,518.9M1035.4,539.1L1037.7,538.2M1035.4,558.7L1038.8,556.2M1035.4,578.2L1037.0,577.0M1035.4,617.2L1048.6,618.7M1035.4,656.3L1036.5,655.2M1035.4,675.8L1038.3,674.9M1035.4,695.4L1035.4,695.3M1035.4,714.9L1035.2,715.0M1035.4,734.4L1037.9,735.3M1035.4,754.0L1038.0,754.9M1055.3,519.6L1059.1,517.1M1055.3,539.1L1059.2,536.7M1055.3,558.7L1060.7,554.6M1055.3,578.2L1059.6,576.0M1055.3,597.7L1060.7,595.3M1055.3,636.8L1054.3,634.8M1055.3,656.3L1062.9,656.2M1055.3,675.8L1062.7,675.8M1055.3,695.4L1051.5,696.3M1055.3,714.9L1059.9,712.7M1055.3,734.4L1059.0,736.7M1055.3,754.0L1058.0,755.2M1075.1,519.6L1078.9,517.1M1075.1,539.1L1079.1,536.7M1075.1,558.7L1080.1,555.3M1075.1,578.2L1080.2,576.0M1075.1,597.7L1080.6,595.2M1075.1,656.3L1083.2,656.3M1075.1,675.8L1083.0,675.8M1075.1,695.4L1070.8,696.5M1075.1,714.9L1080.1,712.5M1075.1,734.4L1078.9,736.8M1075.1,754.0L1077.7,755.3M1095.0,558.7L1099.6,556.6M1095.0,578.2L1100.9,576.7M1095.0,597.7L1103.4,596.7M1095.0,636.8L1102.2,635.5M1095.0,656.3L1101.5,655.8M1095.0,675.8L1100.4,675.4M1095.0,714.9L1097.9,714.6M1095.0,734.4L1096.7,735.5M1095.0,754.0L1096.1,754.9M1114.8,597.7L1123.2,597.6M1114.8,636.8L1122.9,633.5M1114.8,656.3L1122.6,656.1M1114.8,675.8L1122.3,674.6M1114.8,714.9L1120.2,715.8M1114.8,734.4L1112.4,736.5M1114.8,754.0L1114.7,754.8M1134.7,597.7L1142.9,597.7M1134.7,617.2L1142.7,615.3M1134.7,656.3L1142.9,656.3M1134.7,675.8L1142.9,674.5M1134.7,695.4L1140.0,691.4M1134.7,714.9L1141.3,716.2M1134.7,734.4L1130.9,737.0M1134.7,754.0L1134.2,755.0M1154.5,597.7L1161.8,597.0M1154.5,617.2L1161.6,616.2M1154.5,636.8L1160.9,635.3M1154.5,656.3L1158.7,656.4M1154.5,675.8L1157.9,675.5M1154.5,695.4L1157.1,694.2M1154.5,714.9L1157.7,715.0M1154.5,734.4L1154.6,735.2M1154.5,754.0L1154.9,754.6M1174.3,597.7L1180.3,594.8M1174.3,617.2L1182.8,617.0M1174.3,636.8L1181.2,637.0M1174.3,656.3L1171.1,658.2M1174.3,675.8L1171.0,677.7M1174.3,695.4L1171.0,696.0M1174.3,714.9L1177.7,712.8M1174.3,734.4L1178.5,736.1M1174.3,754.0L1176.6,754.8M1194.2,597.7L1199.6,593.7M1194.2,617.2L1204.0,617.3M1194.2,636.8L1203.7,636.9M1194.2,656.3L1187.4,659.0M1194.2,675.8L1188.9,678.5M1194.2,714.9L1199.6,710.8M1194.2,734.4L1199.5,737.1M1194.2,754.0L1197.0,754.8M1214.0,597.7L1219.7,595.3M1214.0,617.2L1218.7,618.4M1214.0,656.3L1210.3,659.5M1214.0,675.8L1209.8,678.5M1214.0,714.9L1216.1,713.0M1214.0,734.4L1216.3,734.3M1214.0,754.0L1215.2,753.7M1233.9,617.2L1234.1,619.7M1233.9,656.3L1229.8,662.9M1233.9,675.8L1228.6,679.8M1233.9,714.9L1237.5,709.9M1233.9,734.4L1231.6,730.7M1233.9,754.0L1233.6,752.3M1253.7,656.3L1249.7,662.9M1253.7,675.8L1248.6,679.9M1253.7,695.4L1248.8,699.0M1253.7,734.4L1251.5,730.7M1253.7,754.0L1253.0,751.7M1273.6,675.8L1269.9,679.3M1273.6,695.4L1271.0,697.0M1273.6,754.0L1273.1,752.2" stroke="#7a7a7a" stroke-width="1.8" fill="none" stroke-linecap="butt"/>
<path d="M896.1,614.6L900.5,607.8L900.9,610.9L903.8,612.2ZM896.1,614.6L888.7,611.2L891.8,610.3L892.7,607.2ZM902.5,621.0L910.6,621.7L908.0,623.6L908.2,626.8ZM940.3,619.9L932.5,621.9L934.3,619.3L933.0,616.3ZM986.6,609.4L979.5,613.4L980.6,610.3L978.7,607.8ZM935.1,654.6L927.8,651.0L930.9,650.2L931.9,647.1ZM793.1,547.3L785.6,546.0L788.1,544.4L788.2,541.4ZM1079.2,621.0L1071.2,622.1L1073.3,619.7L1072.4,616.7ZM1097.0,617.8L1089.3,620.2L1090.9,617.4L1089.6,614.6ZM1118.0,616.7L1110.4,619.5L1111.9,616.7L1110.4,613.9ZM1057.1,635.7L1049.6,638.8L1051.0,636.0L1049.4,633.2ZM1226.0,697.7L1231.6,695.0L1230.6,697.3L1232.0,699.4ZM764.2,524.8L759.2,523.3L761.2,522.4L761.6,520.4ZM763.8,544.1L759.0,542.6L760.9,541.8L761.3,539.8ZM784.8,525.3L779.5,523.7L781.6,522.8L782.0,520.6ZM783.4,563.5L778.8,562.0L780.6,561.2L781.0,559.2ZM805.2,525.6L799.7,524.0L801.8,523.0L802.2,520.7ZM803.9,563.9L799.0,562.4L800.9,561.5L801.3,559.4ZM825.1,525.6L819.6,524.0L821.7,523.0L822.1,520.7ZM824.5,544.9L819.2,543.3L821.2,542.3L821.7,540.1ZM824.5,564.4L819.2,562.8L821.3,561.9L821.7,559.6ZM844.3,525.5L839.0,523.8L841.1,522.9L841.5,520.7ZM844.0,544.8L838.8,543.2L840.9,542.3L841.3,540.1ZM862.5,544.6L857.9,542.7L859.9,542.1L860.5,540.1ZM864.7,564.6L859.2,563.0L861.3,562.0L861.7,559.7ZM877.2,543.9L875.4,540.6L876.9,541.2L878.2,540.4ZM881.7,563.5L877.4,561.8L879.2,561.2L879.8,559.3ZM880.0,581.8L876.6,580.2L878.1,579.8L878.7,578.3ZM877.9,617.6L875.6,618.0L876.3,617.1L876.2,616.1ZM888.7,525.5L891.7,520.7L892.1,523.0L894.2,524.0ZM891.4,543.4L893.5,539.5L894.0,541.3L895.7,542.0ZM893.9,560.4L895.5,557.8L895.7,559.2L896.9,559.9ZM908.4,525.6L911.5,520.7L911.8,523.0L913.9,524.0ZM909.5,542.0L912.9,538.7L912.8,540.6L914.3,541.9ZM907.9,557.5L913.0,556.3L911.8,558.0L912.5,560.0ZM929.8,524.4L932.4,520.2L932.8,522.2L934.6,523.1ZM928.7,539.5L933.1,537.5L932.3,539.3L933.3,541.1ZM926.2,556.7L932.0,555.7L930.5,557.5L931.2,559.8ZM929.4,577.1L933.8,576.1L932.7,577.6L933.3,579.4ZM933.9,596.7L936.7,596.7L935.8,597.5L935.8,598.8ZM954.9,522.1L954.9,519.2L955.8,520.2L957.1,520.2ZM950.2,539.4L954.0,537.7L953.3,539.3L954.1,540.8ZM946.7,557.0L952.2,555.9L950.8,557.7L951.5,559.9ZM950.1,577.3L954.2,576.3L953.2,577.8L953.7,579.4ZM953.2,596.0L956.3,596.4L955.2,597.2L955.0,598.6ZM955.7,634.5L957.2,636.8L956.0,636.4L955.0,637.1ZM954.8,714.7L957.0,714.1L956.5,715.0L956.7,716.0ZM957.8,735.1L955.2,735.3L956.1,734.4L956.0,733.3ZM959.0,754.7L956.0,755.2L956.8,754.2L956.6,752.9ZM981.2,521.5L977.1,521.7L978.4,520.5L978.2,518.8ZM973.9,541.0L975.0,538.4L975.4,539.6L976.6,540.0ZM969.4,561.3L972.7,558.1L972.6,560.0L974.0,561.3ZM975.3,615.0L977.0,617.1L975.8,616.9L974.9,617.7ZM974.7,634.0L976.9,636.0L975.6,636.0L974.7,637.0ZM978.8,672.5L977.7,675.9L977.1,674.5L975.6,674.1ZM972.7,692.8L976.0,693.7L974.7,694.4L974.3,695.8ZM972.3,715.4L975.1,713.7L974.7,715.1L975.4,716.3ZM979.8,735.9L976.3,736.0L977.4,735.0L977.3,733.5ZM980.0,755.1L976.5,755.6L977.5,754.4L977.3,752.9ZM1003.7,521.6L998.7,522.2L1000.0,520.7L999.6,518.6ZM995.3,542.0L994.5,539.1L995.6,539.9L996.9,539.5ZM987.9,564.6L990.9,559.7L991.3,562.0L993.4,563.0ZM990.6,577.5L994.3,576.5L993.4,577.9L993.9,579.4ZM996.8,615.1L996.7,617.9L995.9,616.9L994.7,616.9ZM988.1,652.3L993.3,652.9L991.6,654.1L991.5,656.3ZM988.1,691.5L993.3,692.0L991.6,693.2L991.6,695.4ZM988.1,716.8L992.1,713.9L991.6,715.9L993.0,717.5ZM1003.5,736.4L998.5,737.0L999.9,735.5L999.4,733.5ZM1001.0,755.4L997.0,755.9L998.2,754.6L997.9,753.0ZM1023.4,521.5L1018.4,522.2L1019.8,520.6L1019.3,518.6ZM1016.3,541.1L1014.5,539.3L1015.7,539.3L1016.5,538.5ZM1008.5,564.0L1011.3,559.5L1011.7,561.6L1013.6,562.6ZM1009.6,594.2L1014.1,594.9L1012.5,595.9L1012.4,597.8ZM1025.2,617.0L1020.0,619.2L1021.0,617.1L1019.9,615.1ZM1010.2,632.3L1014.6,633.7L1012.8,634.5L1012.4,636.3ZM1009.1,652.5L1013.8,653.2L1012.2,654.3L1012.0,656.3ZM1009.1,691.8L1013.8,692.4L1012.2,693.5L1012.1,695.5ZM1008.9,716.5L1012.6,713.9L1012.2,715.7L1013.4,717.1ZM1022.6,736.3L1018.0,736.9L1019.3,735.4L1018.9,733.5ZM1020.7,755.4L1016.8,755.9L1017.9,754.6L1017.6,753.0ZM1041.5,518.5L1037.9,520.8L1038.4,519.1L1037.3,517.6ZM1039.5,537.5L1037.0,540.0L1037.1,538.5L1036.0,537.4ZM1040.8,554.8L1038.4,558.5L1038.1,556.7L1036.5,555.9ZM1038.4,575.9L1036.8,578.8L1036.5,577.4L1035.2,576.7ZM1053.1,619.2L1045.3,621.1L1047.1,618.5L1045.9,615.6ZM1037.8,654.0L1036.6,656.9L1036.1,655.6L1034.9,655.1ZM1040.3,674.2L1037.4,676.7L1037.6,675.1L1036.5,673.9ZM1034.5,694.4L1036.7,695.2L1035.7,695.6L1035.2,696.6ZM1036.3,714.6L1034.8,716.1L1034.9,715.1L1034.1,714.4ZM1039.8,736.0L1036.2,736.2L1037.3,735.1L1037.1,733.5ZM1039.9,755.5L1036.2,755.7L1037.3,754.6L1037.2,753.1ZM1061.3,515.7L1058.6,519.5L1058.4,517.6L1056.7,516.6ZM1061.4,535.3L1058.6,539.1L1058.4,537.1L1056.8,536.1ZM1063.3,552.7L1060.2,557.6L1059.8,555.3L1057.7,554.2ZM1062.0,574.8L1058.8,578.4L1058.8,576.4L1057.2,575.2ZM1063.4,594.1L1059.7,597.9L1059.8,595.7L1058.1,594.3ZM1053.5,633.0L1056.1,635.3L1054.6,635.3L1053.7,636.5ZM1066.4,656.1L1060.6,658.4L1061.8,656.2L1060.6,654.0ZM1066.2,675.8L1060.4,678.0L1061.6,675.8L1060.4,673.6ZM1049.1,696.9L1052.6,694.4L1052.2,696.1L1053.4,697.5ZM1062.4,711.6L1059.0,715.2L1059.1,713.1L1057.5,711.9ZM1061.2,738.0L1056.7,737.3L1058.3,736.3L1058.4,734.4ZM1059.9,756.1L1056.1,756.0L1057.4,754.9L1057.3,753.3ZM1081.1,515.6L1078.5,519.5L1078.2,517.5L1076.5,516.6ZM1081.3,535.3L1078.5,539.1L1078.3,537.2L1076.7,536.1ZM1082.6,553.6L1079.5,558.0L1079.2,555.8L1077.3,554.8ZM1082.9,574.9L1079.2,578.5L1079.3,576.4L1077.7,575.1ZM1083.3,593.9L1079.6,597.8L1079.7,595.6L1077.9,594.2ZM1086.8,656.2L1080.8,658.6L1082.0,656.3L1080.8,654.0ZM1086.6,675.8L1080.6,678.1L1081.8,675.8L1080.6,673.6ZM1068.3,697.1L1072.0,694.4L1071.6,696.3L1072.8,697.7ZM1082.7,711.3L1079.2,715.0L1079.2,712.9L1077.5,711.7ZM1081.1,738.2L1076.5,737.4L1078.2,736.4L1078.4,734.5ZM1079.5,756.2L1075.8,755.9L1077.0,755.0L1077.1,753.4ZM1102.2,555.4L1098.7,559.0L1098.8,556.9L1097.2,555.7ZM1103.9,576.0L1099.4,579.1L1099.9,577.0L1098.5,575.3ZM1107.2,596.3L1101.2,599.4L1102.2,596.9L1100.7,594.7ZM1105.6,634.9L1100.4,638.0L1101.1,635.7L1099.6,633.7ZM1104.7,655.6L1099.6,658.0L1100.5,655.9L1099.3,653.9ZM1103.3,675.1L1098.7,677.4L1099.5,675.5L1098.4,673.7ZM1100.0,714.4L1096.6,716.2L1097.2,714.7L1096.3,713.3ZM1098.2,736.5L1094.9,735.9L1096.1,735.2L1096.3,733.7ZM1097.5,755.9L1094.5,755.2L1095.7,754.5L1096.0,753.2ZM1126.9,597.5L1120.8,600.0L1122.0,597.6L1120.7,595.3ZM1126.4,632.0L1121.4,636.7L1121.7,633.9L1119.6,632.2ZM1126.1,655.9L1120.3,658.4L1121.4,656.1L1120.1,653.9ZM1125.7,674.0L1120.4,677.2L1121.1,674.8L1119.6,672.8ZM1123.1,716.3L1118.0,717.4L1119.3,715.7L1118.7,713.6ZM1110.8,737.9L1112.5,734.4L1113.0,736.0L1114.5,736.7ZM1114.4,756.3L1113.7,753.6L1114.8,754.3L1115.9,754.0ZM1146.6,597.7L1140.5,600.0L1141.7,597.7L1140.5,595.4ZM1146.3,614.5L1140.8,618.2L1141.5,615.6L1139.8,613.6ZM1146.6,656.3L1140.4,658.6L1141.7,656.3L1140.4,654.0ZM1146.5,673.9L1140.8,677.2L1141.7,674.7L1140.1,672.6ZM1142.6,689.5L1139.5,694.3L1139.2,692.0L1137.1,691.0ZM1144.5,716.9L1138.8,717.9L1140.3,716.0L1139.6,713.8ZM1128.8,738.4L1131.4,734.6L1131.6,736.5L1133.3,737.4ZM1133.5,756.4L1133.6,753.5L1134.4,754.5L1135.7,754.5ZM1165.2,596.6L1159.8,599.4L1160.7,597.1L1159.3,595.0ZM1165.0,615.7L1159.7,618.7L1160.5,616.4L1159.1,614.4ZM1163.9,634.5L1159.3,637.7L1159.8,635.5L1158.3,633.8ZM1161.1,656.5L1157.0,658.0L1157.8,656.4L1157.1,654.7ZM1160.1,675.4L1156.5,677.2L1157.2,675.6L1156.3,674.1ZM1159.0,693.4L1156.4,696.1L1156.5,694.5L1155.3,693.5ZM1159.9,715.1L1156.2,716.5L1157.0,715.0L1156.3,713.5ZM1154.7,736.7L1153.4,734.3L1154.5,734.7L1155.6,734.1ZM1155.7,755.8L1153.4,754.4L1154.6,754.2L1155.3,753.1ZM1183.2,593.4L1179.3,597.6L1179.4,595.3L1177.5,593.9ZM1186.5,617.0L1180.3,619.5L1181.5,617.1L1180.2,614.8ZM1184.5,637.1L1179.0,639.0L1180.1,637.0L1179.1,634.8ZM1169.1,659.3L1171.7,656.0L1171.8,657.8L1173.3,658.8ZM1169.0,678.8L1171.6,675.5L1171.7,677.3L1173.2,678.3ZM1168.8,696.5L1172.2,694.2L1171.8,695.9L1172.8,697.3ZM1179.8,711.6L1177.2,715.1L1177.1,713.3L1175.5,712.3ZM1180.9,737.0L1176.3,737.0L1177.7,735.7L1177.6,733.8ZM1178.4,755.5L1174.9,755.6L1176.0,754.6L1175.9,753.1ZM1202.2,591.8L1199.1,596.7L1198.7,594.3L1196.6,593.3ZM1208.1,617.3L1201.2,619.8L1202.6,617.3L1201.2,614.7ZM1207.8,636.9L1201.0,639.4L1202.4,636.8L1201.0,634.3ZM1184.2,660.3L1188.7,656.2L1188.5,658.6L1190.3,660.2ZM1186.2,679.8L1189.8,675.9L1189.8,678.0L1191.5,679.3ZM1202.2,708.9L1199.1,713.8L1198.7,711.5L1196.6,710.5ZM1202.2,738.4L1196.8,737.9L1198.6,736.6L1198.6,734.4ZM1199.0,755.3L1195.3,755.8L1196.3,754.6L1196.0,753.0ZM1222.5,594.1L1218.6,597.9L1218.7,595.7L1217.0,594.3ZM1221.3,619.0L1216.6,619.7L1217.9,618.2L1217.4,616.3ZM1208.2,661.2L1210.5,656.9L1211.0,658.9L1212.8,659.7ZM1207.4,679.9L1210.3,676.0L1210.5,678.0L1212.3,679.1ZM1217.6,711.5L1216.1,715.0L1215.6,713.4L1214.1,712.9ZM1218.2,734.3L1215.0,735.7L1215.6,734.4L1214.9,733.0ZM1216.7,753.3L1214.4,755.1L1214.7,753.8L1213.9,752.8ZM1234.4,621.6L1232.6,618.5L1234.1,619.0L1235.4,618.2ZM1228.0,665.9L1229.2,659.7L1230.5,661.9L1233.0,662.1ZM1226.1,681.8L1229.1,676.9L1229.5,679.2L1231.6,680.2ZM1239.3,707.5L1237.9,712.7L1236.9,710.8L1234.7,710.4ZM1230.2,728.6L1233.9,731.3L1232.0,731.4L1231.0,733.1ZM1233.4,750.6L1235.0,753.3L1233.7,752.9L1232.6,753.6ZM1247.9,665.9L1249.0,659.7L1250.3,661.9L1252.8,662.0ZM1246.1,681.8L1249.0,677.0L1249.4,679.2L1251.5,680.2ZM1246.4,700.7L1249.3,696.2L1249.7,698.4L1251.6,699.3ZM1250.2,728.6L1253.8,731.3L1251.9,731.4L1250.9,733.0ZM1252.3,749.9L1254.7,752.5L1253.2,752.4L1252.1,753.4ZM1267.9,681.1L1270.0,676.7L1270.5,678.6L1272.4,679.3ZM1269.3,698.1L1271.4,695.0L1271.6,696.6L1273.0,697.5ZM1272.7,750.5L1274.7,753.0L1273.3,752.8L1272.2,753.7Z" fill="#7a7a7a" stroke="#7a7a7a" stroke-width="0.6" stroke-linejoin="miter"/>
<path d="M859.3,518.9L857.2,510.9M879.3,518.9L871.3,517.4M839.3,556.8L832.1,556.1M839.3,577.8L856.8,591.8M859.3,577.8L871.9,590.4M899.3,577.8L898.5,592.2M919.3,577.8L934.1,585.3M978.2,576.8L960.2,568.3M1018.1,576.8L1003.8,576.8M979.2,596.8L1030.5,592.9M999.2,596.8L1028.4,603.1M959.2,615.7L990.6,606.5M978.2,655.7L974.9,640.2M998.2,675.6L988.6,675.6M1018.0,675.6L1008.9,675.9M799.4,543.1L805.2,548.2M990.0,637.0L992.0,643.0M1118.1,616.7L1147.2,617.7M1143.4,616.7L1186.2,619.6M1139.2,636.7L1146.5,631.6M1078.0,636.7L1074.1,640.1M1219.0,636.7L1228.1,637.5M1238.0,636.7L1247.1,636.0M1034.0,593.6L1055.8,591.0M1097.1,696.7L1088.3,694.5M1118.0,696.7L1112.8,696.0M1197.0,697.7L1187.5,698.5M1218.0,696.7L1211.2,695.2M1257.0,716.0L1250.9,720.1" stroke="#000" stroke-width="1.8" fill="none" stroke-linecap="butt"/>
<path d="M856.2,507.4L860.0,512.7L857.5,512.1L855.6,513.9ZM867.7,516.8L874.1,515.6L872.5,517.7L873.3,520.2ZM828.8,555.7L834.6,554.1L833.3,556.2L834.2,558.4ZM860.4,594.7L852.7,592.1L855.7,590.9L856.2,587.8ZM875.1,593.6L867.7,590.2L870.8,589.3L871.7,586.2ZM898.2,596.8L895.8,589.1L898.6,590.7L901.4,589.4ZM938.2,587.3L930.1,586.4L932.8,584.6L932.7,581.4ZM956.1,566.3L964.2,567.0L961.6,568.9L961.8,572.1ZM999.2,576.8L1006.8,574.0L1005.3,576.8L1006.8,579.6ZM1035.0,592.6L1027.6,596.0L1028.9,593.1L1027.2,590.4ZM1032.9,604.1L1024.9,605.2L1027.0,602.8L1026.1,599.7ZM995.0,605.2L988.5,610.0L989.2,606.9L986.9,604.6ZM974.0,635.7L978.3,642.6L975.2,641.7L972.8,643.7ZM984.5,675.6L991.3,673.1L989.9,675.6L991.3,678.1ZM1005.0,676.0L1011.5,673.3L1010.2,675.8L1011.6,678.3ZM807.8,550.5L801.9,548.3L804.3,547.4L804.9,545.0ZM993.0,646.0L989.4,641.7L991.7,642.0L993.3,640.4ZM1151.8,617.8L1144.1,620.4L1145.7,617.6L1144.3,614.7ZM1190.7,619.9L1182.9,622.2L1184.6,619.5L1183.3,616.6ZM1149.7,629.4L1145.8,635.1L1145.5,632.3L1143.0,631.1ZM1072.0,641.9L1074.3,637.5L1074.8,639.5L1076.7,640.3ZM1232.0,637.8L1225.3,639.7L1226.8,637.4L1225.7,634.8ZM1251.0,635.7L1244.7,638.7L1245.8,636.1L1244.3,633.7ZM1060.3,590.4L1053.1,594.1L1054.3,591.1L1052.4,588.5ZM1084.5,693.5L1091.4,692.7L1089.6,694.8L1090.2,697.5ZM1110.0,695.7L1114.9,694.5L1113.7,696.2L1114.4,698.1ZM1183.4,698.8L1190.0,695.7L1188.8,698.4L1190.4,700.8ZM1208.0,694.5L1213.8,693.6L1212.3,695.4L1212.9,697.7ZM1248.0,722.0L1251.5,717.0L1251.8,719.5L1254.0,720.7Z" fill="#000" stroke="#000" stroke-width="0.6" stroke-linejoin="miter"/>
</g>
<rect x="751.3" y="500.7" width="567.0" height="252.0" fill="none" stroke="#000" stroke-width="2"/>
<line x1="745.3" y1="752.7" x2="751.3" y2="752.7" stroke="#000" stroke-width="1.8"/>
<line x1="747.8" y1="721.2" x2="751.3" y2="721.2" stroke="#000" stroke-width="1.8"/>
<line x1="745.3" y1="689.7" x2="751.3" y2="689.7" stroke="#000" stroke-width="1.8"/>
<line x1="747.8" y1="658.2" x2="751.3" y2="658.2" stroke="#000" stroke-width="1.8"/>
<line x1="745.3" y1="626.7" x2="751.3" y2="626.7" stroke="#000" stroke-width="1.8"/>
<line x1="747.8" y1="595.2" x2="751.3" y2="595.2" stroke="#000" stroke-width="1.8"/>
<line x1="745.3" y1="563.7" x2="751.3" y2="563.7" stroke="#000" stroke-width="1.8"/>
<line x1="747.8" y1="532.2" x2="751.3" y2="532.2" stroke="#000" stroke-width="1.8"/>
<line x1="745.3" y1="500.7" x2="751.3" y2="500.7" stroke="#000" stroke-width="1.8"/>
<line x1="751.3" y1="752.7" x2="751.3" y2="758.7" stroke="#000" stroke-width="1.8"/>
<line x1="782.8" y1="752.7" x2="782.8" y2="756.2" stroke="#000" stroke-width="1.8"/>
<line x1="814.3" y1="752.7" x2="814.3" y2="758.7" stroke="#000" stroke-width="1.8"/>
<line x1="845.8" y1="752.7" x2="845.8" y2="756.2" stroke="#000" stroke-width="1.8"/>
<line x1="877.3" y1="752.7" x2="877.3" y2="758.7" stroke="#000" stroke-width="1.8"/>
<line x1="908.8" y1="752.7" x2="908.8" y2="756.2" stroke="#000" stroke-width="1.8"/>
<line x1="940.3" y1="752.7" x2="940.3" y2="758.7" stroke="#000" stroke-width="1.8"/>
<line x1="971.8" y1="752.7" x2="971.8" y2="756.2" stroke="#000" stroke-width="1.8"/>
<line x1="1003.3" y1="752.7" x2="1003.3" y2="758.7" stroke="#000" stroke-width="1.8"/>
<line x1="1034.8" y1="752.7" x2="1034.8" y2="756.2" stroke="#000" stroke-width="1.8"/>
<line x1="1066.3" y1="752.7" x2="1066.3" y2="758.7" stroke="#000" stroke-width="1.8"/>
<line x1="1097.8" y1="752.7" x2="1097.8" y2="756.2" stroke="#000" stroke-width="1.8"/>
<line x1="1129.3" y1="752.7" x2="1129.3" y2="758.7" stroke="#000" stroke-width="1.8"/>
<line x1="1160.8" y1="752.7" x2="1160.8" y2="756.2" stroke="#000" stroke-width="1.8"/>
<line x1="1192.3" y1="752.7" x2="1192.3" y2="758.7" stroke="#000" stroke-width="1.8"/>
<line x1="1223.8" y1="752.7" x2="1223.8" y2="756.2" stroke="#000" stroke-width="1.8"/>
<line x1="1255.3" y1="752.7" x2="1255.3" y2="758.7" stroke="#000" stroke-width="1.8"/>
<line x1="1286.8" y1="752.7" x2="1286.8" y2="756.2" stroke="#000" stroke-width="1.8"/>
<line x1="1318.3" y1="752.7" x2="1318.3" y2="758.7" stroke="#000" stroke-width="1.8"/>
<text x="735.3" y="511.3" style="font-family:'Liberation Serif',serif;font-size:30.6px;" text-anchor="end" >20°N</text>
<text x="735.3" y="574.3" style="font-family:'Liberation Serif',serif;font-size:30.6px;" text-anchor="end" >10°N</text>
<text x="735.3" y="637.3" style="font-family:'Liberation Serif',serif;font-size:30.6px;" text-anchor="end" >EQ</text>
<text x="735.3" y="700.3" style="font-family:'Liberation Serif',serif;font-size:30.6px;" text-anchor="end" >10°S</text>
<text x="735.3" y="763.3" style="font-family:'Liberation Serif',serif;font-size:30.6px;" text-anchor="end" >20°S</text>
<text x="814.6" y="796.3" style="font-family:'Liberation Serif',serif;font-size:30.8px;" text-anchor="middle" >60°W</text>
<text x="940.6" y="796.3" style="font-family:'Liberation Serif',serif;font-size:30.8px;" text-anchor="middle" >40°W</text>
<text x="1066.6" y="796.3" style="font-family:'Liberation Serif',serif;font-size:30.8px;" text-anchor="middle" >20°W</text>
<text x="1192.6" y="796.3" style="font-family:'Liberation Serif',serif;font-size:30.8px;" text-anchor="middle" >0°</text>
<text x="1318.6" y="796.3" style="font-family:'Liberation Serif',serif;font-size:30.8px;" text-anchor="middle" >20°E</text>
<text x="371.0" y="25.0" style="font-family:'Liberation Serif',serif;font-size:32.6px;font-weight:bold;" text-anchor="middle" >Central Atlantic Niño</text>
<text x="1040.0" y="25.0" style="font-family:'Liberation Serif',serif;font-size:32.6px;font-weight:bold;" text-anchor="middle" >Eastern Atlantic Niño</text>
<text x="92.0" y="69.6" style="font-family:'Liberation Serif',serif;font-size:37px;font-weight:bold;" text-anchor="middle" >a</text>
<text x="761.2" y="69.6" style="font-family:'Liberation Serif',serif;font-size:37px;font-weight:bold;" text-anchor="middle" >b</text>
<text x="91.0" y="494.9" style="font-family:'Liberation Serif',serif;font-size:37px;font-weight:bold;" text-anchor="middle" >c</text>
<text x="760.5" y="494.9" style="font-family:'Liberation Serif',serif;font-size:37px;font-weight:bold;" text-anchor="middle" >d</text>
<text x="91.0" y="888.3" style="font-family:'Liberation Serif',serif;font-size:37px;font-weight:bold;" text-anchor="middle" >e</text>
<text x="760.0" y="888.3" style="font-family:'Liberation Serif',serif;font-size:37px;font-weight:bold;" text-anchor="middle" >f</text>
<rect x="553.8" y="75.3" width="95.0" height="44.0" fill="#fff" stroke="#000" stroke-width="2"/>
<path d="M560.5,94.4L591.4,94.4" stroke="#000" stroke-width="1.9" fill="none" stroke-linecap="butt"/>
<path d="M596.0,94.4L588.4,97.2L589.9,94.4L588.4,91.6Z" fill="#000" stroke="#000" stroke-width="0.6" stroke-linejoin="miter"/>
<text x="596.5" y="101.7" style="font-family:'Liberation Serif',serif;font-size:18px;" text-anchor="start" >1m/s</text>
<rect x="554.2" y="500.7" width="94.6" height="43.7" fill="#fff" stroke="#000" stroke-width="2"/>
<path d="M560.4,519.8L585.4,519.8" stroke="#000" stroke-width="1.9" fill="none" stroke-linecap="butt"/>
<path d="M590.0,519.8L582.4,522.6L583.9,519.8L582.4,517.0Z" fill="#000" stroke="#000" stroke-width="0.6" stroke-linejoin="miter"/>
<text x="595.5" y="526.6" style="font-family:'Liberation Serif',serif;font-size:18px;" text-anchor="start" >5cm/s</text>
<text x="365.0" y="67.0" style="font-family:'Liberation Serif',serif;font-size:27px;" text-anchor="middle" >SST &amp; UV850</text>
<text x="1034.0" y="67.0" style="font-family:'Liberation Serif',serif;font-size:27px;" text-anchor="middle" >SST &amp; UV850</text>
<text x="365.0" y="492.0" style="font-family:'Liberation Serif',serif;font-size:27px;" text-anchor="middle" >SSH &amp; ocean current</text>
<text x="1034.0" y="492.0" style="font-family:'Liberation Serif',serif;font-size:27px;" text-anchor="middle" >SSH &amp; ocean current</text>
<text x="365.0" y="904.0" style="font-family:'Liberation Serif',serif;font-size:27px;" text-anchor="middle" >CAN index</text>
<text x="1034.0" y="904.0" style="font-family:'Liberation Serif',serif;font-size:27px;" text-anchor="middle" >EAN index</text>
<rect x="322.40" y="395.1" width="39.24" height="12.4" fill="#3a62bd"/>
<rect x="361.04" y="395.1" width="39.24" height="12.4" fill="#4379d0"/>
<rect x="399.68" y="395.1" width="39.24" height="12.4" fill="#4d8fdf"/>
<rect x="438.32" y="395.1" width="39.24" height="12.4" fill="#5aa3ec"/>
<rect x="476.96" y="395.1" width="39.24" height="12.4" fill="#62b1f3"/>
<rect x="515.60" y="395.1" width="39.24" height="12.4" fill="#6abcf6"/>
<rect x="554.24" y="395.1" width="39.24" height="12.4" fill="#7fcff8"/>
<rect x="592.88" y="395.1" width="39.24" height="12.4" fill="#a3e4fc"/>
<rect x="631.52" y="395.1" width="39.24" height="12.4" fill="#d9f4fc"/>
<rect x="670.16" y="395.1" width="39.24" height="12.4" fill="#ffffff"/>
<rect x="708.80" y="395.1" width="39.24" height="12.4" fill="#ffffff"/>
<rect x="747.44" y="395.1" width="39.24" height="12.4" fill="#f6edc9"/>
<rect x="786.08" y="395.1" width="39.24" height="12.4" fill="#edc963"/>
<rect x="824.72" y="395.1" width="39.24" height="12.4" fill="#eeb63c"/>
<rect x="863.36" y="395.1" width="39.24" height="12.4" fill="#efa62d"/>
<rect x="902.00" y="395.1" width="39.24" height="12.4" fill="#f38a27"/>
<rect x="940.64" y="395.1" width="39.24" height="12.4" fill="#f46c20"/>
<rect x="979.28" y="395.1" width="39.24" height="12.4" fill="#f6521b"/>
<rect x="1017.92" y="395.1" width="39.24" height="12.4" fill="#f63a16"/>
<rect x="1056.56" y="395.1" width="39.24" height="12.4" fill="#f32d14"/>
<rect x="322.4" y="395.1" width="772.8" height="12.4" fill="none" stroke="#222" stroke-width="1.6"/>
<text x="322.4" y="442.5" style="font-family:'Liberation Serif',serif;font-size:29px;" text-anchor="middle" >-0.8</text>
<line x1="515.6" y1="403.0" x2="515.6" y2="407.5" stroke="#222" stroke-width="1.3"/>
<text x="515.6" y="442.5" style="font-family:'Liberation Serif',serif;font-size:29px;" text-anchor="middle" >-0.4</text>
<line x1="708.8" y1="403.0" x2="708.8" y2="407.5" stroke="#222" stroke-width="1.3"/>
<text x="708.8" y="442.5" style="font-family:'Liberation Serif',serif;font-size:29px;" text-anchor="middle" >0</text>
<line x1="902.0" y1="403.0" x2="902.0" y2="407.5" stroke="#222" stroke-width="1.3"/>
<text x="902.0" y="442.5" style="font-family:'Liberation Serif',serif;font-size:29px;" text-anchor="middle" >0.4</text>
<text x="1095.2" y="442.5" style="font-family:'Liberation Serif',serif;font-size:29px;" text-anchor="middle" >0.8</text>
<rect x="322.40" y="813.3" width="39.24" height="12.7" fill="#582a92"/>
<rect x="361.04" y="813.3" width="39.24" height="12.7" fill="#6c4ba2"/>
<rect x="399.68" y="813.3" width="39.24" height="12.7" fill="#7b68ab"/>
<rect x="438.32" y="813.3" width="39.24" height="12.7" fill="#8e81bb"/>
<rect x="476.96" y="813.3" width="39.24" height="12.7" fill="#a097cc"/>
<rect x="515.60" y="813.3" width="39.24" height="12.7" fill="#b2acd9"/>
<rect x="554.24" y="813.3" width="39.24" height="12.7" fill="#c5c2e2"/>
<rect x="592.88" y="813.3" width="39.24" height="12.7" fill="#d8d9ee"/>
<rect x="631.52" y="813.3" width="39.24" height="12.7" fill="#e8eaf5"/>
<rect x="670.16" y="813.3" width="39.24" height="12.7" fill="#ffffff"/>
<rect x="708.80" y="813.3" width="39.24" height="12.7" fill="#ffffff"/>
<rect x="747.44" y="813.3" width="39.24" height="12.7" fill="#f6ebd0"/>
<rect x="786.08" y="813.3" width="39.24" height="12.7" fill="#f3dbaa"/>
<rect x="824.72" y="813.3" width="39.24" height="12.7" fill="#efc585"/>
<rect x="863.36" y="813.3" width="39.24" height="12.7" fill="#e9b263"/>
<rect x="902.00" y="813.3" width="39.24" height="12.7" fill="#e6a04e"/>
<rect x="940.64" y="813.3" width="39.24" height="12.7" fill="#de8b36"/>
<rect x="979.28" y="813.3" width="39.24" height="12.7" fill="#d47a28"/>
<rect x="1017.92" y="813.3" width="39.24" height="12.7" fill="#c76a22"/>
<rect x="1056.56" y="813.3" width="39.24" height="12.7" fill="#b65a1c"/>
<rect x="322.4" y="813.3" width="772.8" height="12.7" fill="none" stroke="#222" stroke-width="1.6"/>
<text x="322.4" y="861.0" style="font-family:'Liberation Serif',serif;font-size:29px;" text-anchor="middle" >-3</text>
<line x1="515.6" y1="821.5" x2="515.6" y2="826.0" stroke="#222" stroke-width="1.3"/>
<text x="515.6" y="861.0" style="font-family:'Liberation Serif',serif;font-size:29px;" text-anchor="middle" >-1.5</text>
<line x1="708.8" y1="821.5" x2="708.8" y2="826.0" stroke="#222" stroke-width="1.3"/>
<text x="708.8" y="861.0" style="font-family:'Liberation Serif',serif;font-size:29px;" text-anchor="middle" >0</text>
<line x1="902.0" y1="821.5" x2="902.0" y2="826.0" stroke="#222" stroke-width="1.3"/>
<text x="902.0" y="861.0" style="font-family:'Liberation Serif',serif;font-size:29px;" text-anchor="middle" >1.5</text>
<text x="1095.2" y="861.0" style="font-family:'Liberation Serif',serif;font-size:29px;" text-anchor="middle" >3</text>
<rect x="92.2" y="1108.0" width="28.2" height="56.4" fill="#88bddf"/>
<rect x="139.4" y="1081.5" width="28.2" height="82.9" fill="#88bddf"/>
<rect x="186.6" y="1077.9" width="28.2" height="86.5" fill="#88bddf"/>
<rect x="233.8" y="1056.5" width="28.2" height="107.9" fill="#88bddf"/>
<rect x="281.0" y="985.9" width="28.2" height="178.5" fill="#88bddf"/>
<rect x="328.2" y="930.9" width="28.2" height="233.5" fill="#88bddf"/>
<rect x="375.3" y="941.5" width="28.2" height="222.9" fill="#88bddf"/>
<rect x="422.5" y="995.0" width="28.2" height="169.4" fill="#88bddf"/>
<rect x="469.7" y="1052.0" width="28.2" height="112.4" fill="#88bddf"/>
<rect x="516.9" y="1054.0" width="28.2" height="110.4" fill="#88bddf"/>
<rect x="564.1" y="1032.5" width="28.2" height="131.9" fill="#88bddf"/>
<rect x="611.3" y="1076.1" width="28.2" height="88.3" fill="#88bddf"/>
<rect x="82.7" y="912.7" width="566.3" height="251.7" fill="none" stroke="#000" stroke-width="2"/>
<line x1="76.2" y1="1164.4" x2="82.7" y2="1164.4" stroke="#000" stroke-width="1.6"/>
<line x1="79.2" y1="1151.8" x2="82.7" y2="1151.8" stroke="#000" stroke-width="1.6"/>
<line x1="79.2" y1="1139.2" x2="82.7" y2="1139.2" stroke="#000" stroke-width="1.6"/>
<line x1="79.2" y1="1126.6" x2="82.7" y2="1126.6" stroke="#000" stroke-width="1.6"/>
<line x1="79.2" y1="1114.1" x2="82.7" y2="1114.1" stroke="#000" stroke-width="1.6"/>
<line x1="76.2" y1="1101.5" x2="82.7" y2="1101.5" stroke="#000" stroke-width="1.6"/>
<line x1="79.2" y1="1088.9" x2="82.7" y2="1088.9" stroke="#000" stroke-width="1.6"/>
<line x1="79.2" y1="1076.3" x2="82.7" y2="1076.3" stroke="#000" stroke-width="1.6"/>
<line x1="79.2" y1="1063.7" x2="82.7" y2="1063.7" stroke="#000" stroke-width="1.6"/>
<line x1="79.2" y1="1051.1" x2="82.7" y2="1051.1" stroke="#000" stroke-width="1.6"/>
<line x1="76.2" y1="1038.6" x2="82.7" y2="1038.6" stroke="#000" stroke-width="1.6"/>
<line x1="79.2" y1="1026.0" x2="82.7" y2="1026.0" stroke="#000" stroke-width="1.6"/>
<line x1="79.2" y1="1013.4" x2="82.7" y2="1013.4" stroke="#000" stroke-width="1.6"/>
<line x1="79.2" y1="1000.8" x2="82.7" y2="1000.8" stroke="#000" stroke-width="1.6"/>
<line x1="79.2" y1="988.2" x2="82.7" y2="988.2" stroke="#000" stroke-width="1.6"/>
<line x1="76.2" y1="975.6" x2="82.7" y2="975.6" stroke="#000" stroke-width="1.6"/>
<line x1="79.2" y1="963.0" x2="82.7" y2="963.0" stroke="#000" stroke-width="1.6"/>
<line x1="79.2" y1="950.5" x2="82.7" y2="950.5" stroke="#000" stroke-width="1.6"/>
<line x1="79.2" y1="937.9" x2="82.7" y2="937.9" stroke="#000" stroke-width="1.6"/>
<line x1="79.2" y1="925.3" x2="82.7" y2="925.3" stroke="#000" stroke-width="1.6"/>
<line x1="76.2" y1="912.7" x2="82.7" y2="912.7" stroke="#000" stroke-width="1.6"/>
<text x="43.2" y="923.2" style="font-family:'Liberation Serif',serif;font-size:30px;" text-anchor="middle" >2</text>
<text x="47.7" y="986.1" style="font-family:'Liberation Serif',serif;font-size:30px;" text-anchor="middle" >1.5</text>
<text x="43.7" y="1049.1" style="font-family:'Liberation Serif',serif;font-size:30px;" text-anchor="middle" >1</text>
<text x="47.2" y="1112.0" style="font-family:'Liberation Serif',serif;font-size:30px;" text-anchor="middle" >0.5</text>
<text x="43.7" y="1174.9" style="font-family:'Liberation Serif',serif;font-size:30px;" text-anchor="middle" >0</text>
<line x1="106.3" y1="1164.4" x2="106.3" y2="1170.9" stroke="#000" stroke-width="1.8"/>
<text x="106.3" y="1208.4" style="font-family:'Liberation Serif',serif;font-size:30px;" text-anchor="middle" >J</text>
<line x1="153.5" y1="1164.4" x2="153.5" y2="1170.9" stroke="#000" stroke-width="1.8"/>
<text x="153.5" y="1208.4" style="font-family:'Liberation Serif',serif;font-size:30px;" text-anchor="middle" >F</text>
<line x1="200.7" y1="1164.4" x2="200.7" y2="1170.9" stroke="#000" stroke-width="1.8"/>
<text x="200.7" y="1208.4" style="font-family:'Liberation Serif',serif;font-size:30px;" text-anchor="middle" >M</text>
<line x1="247.9" y1="1164.4" x2="247.9" y2="1170.9" stroke="#000" stroke-width="1.8"/>
<text x="247.9" y="1208.4" style="font-family:'Liberation Serif',serif;font-size:30px;" text-anchor="middle" >A</text>
<line x1="295.1" y1="1164.4" x2="295.1" y2="1170.9" stroke="#000" stroke-width="1.8"/>
<text x="295.1" y="1208.4" style="font-family:'Liberation Serif',serif;font-size:30px;" text-anchor="middle" >M</text>
<line x1="342.3" y1="1164.4" x2="342.3" y2="1170.9" stroke="#000" stroke-width="1.8"/>
<text x="342.3" y="1208.4" style="font-family:'Liberation Serif',serif;font-size:30px;" text-anchor="middle" >J</text>
<line x1="389.4" y1="1164.4" x2="389.4" y2="1170.9" stroke="#000" stroke-width="1.8"/>
<text x="389.4" y="1208.4" style="font-family:'Liberation Serif',serif;font-size:30px;" text-anchor="middle" >J</text>
<line x1="436.6" y1="1164.4" x2="436.6" y2="1170.9" stroke="#000" stroke-width="1.8"/>
<text x="436.6" y="1208.4" style="font-family:'Liberation Serif',serif;font-size:30px;" text-anchor="middle" >A</text>
<line x1="483.8" y1="1164.4" x2="483.8" y2="1170.9" stroke="#000" stroke-width="1.8"/>
<text x="483.8" y="1208.4" style="font-family:'Liberation Serif',serif;font-size:30px;" text-anchor="middle" >S</text>
<line x1="531.0" y1="1164.4" x2="531.0" y2="1170.9" stroke="#000" stroke-width="1.8"/>
<text x="531.0" y="1208.4" style="font-family:'Liberation Serif',serif;font-size:30px;" text-anchor="middle" >O</text>
<line x1="578.2" y1="1164.4" x2="578.2" y2="1170.9" stroke="#000" stroke-width="1.8"/>
<text x="578.2" y="1208.4" style="font-family:'Liberation Serif',serif;font-size:30px;" text-anchor="middle" >N</text>
<line x1="625.4" y1="1164.4" x2="625.4" y2="1170.9" stroke="#000" stroke-width="1.8"/>
<text x="625.4" y="1208.4" style="font-family:'Liberation Serif',serif;font-size:30px;" text-anchor="middle" >D</text>
<rect x="761.2" y="1143.5" width="28.2" height="20.9" fill="#88bddf"/>
<rect x="808.4" y="1108.5" width="28.2" height="55.9" fill="#88bddf"/>
<rect x="855.6" y="1074.5" width="28.2" height="89.9" fill="#88bddf"/>
<rect x="902.8" y="1072.0" width="28.2" height="92.4" fill="#88bddf"/>
<rect x="950.0" y="1019.0" width="28.2" height="145.4" fill="#88bddf"/>
<rect x="997.2" y="919.5" width="28.2" height="244.9" fill="#88bddf"/>
<rect x="1044.3" y="956.5" width="28.2" height="207.9" fill="#88bddf"/>
<rect x="1091.5" y="1004.4" width="28.2" height="160.0" fill="#88bddf"/>
<rect x="1138.7" y="1059.4" width="28.2" height="105.0" fill="#88bddf"/>
<rect x="1185.9" y="1126.0" width="28.2" height="38.4" fill="#88bddf"/>
<rect x="1233.1" y="1107.0" width="28.2" height="57.4" fill="#88bddf"/>
<rect x="1280.3" y="1161.9" width="28.2" height="2.5" fill="#88bddf"/>
<rect x="751.7" y="912.7" width="566.3" height="251.7" fill="none" stroke="#000" stroke-width="2"/>
<line x1="745.2" y1="1164.4" x2="751.7" y2="1164.4" stroke="#000" stroke-width="1.6"/>
<line x1="748.2" y1="1151.8" x2="751.7" y2="1151.8" stroke="#000" stroke-width="1.6"/>
<line x1="748.2" y1="1139.2" x2="751.7" y2="1139.2" stroke="#000" stroke-width="1.6"/>
<line x1="748.2" y1="1126.6" x2="751.7" y2="1126.6" stroke="#000" stroke-width="1.6"/>
<line x1="748.2" y1="1114.1" x2="751.7" y2="1114.1" stroke="#000" stroke-width="1.6"/>
<line x1="745.2" y1="1101.5" x2="751.7" y2="1101.5" stroke="#000" stroke-width="1.6"/>
<line x1="748.2" y1="1088.9" x2="751.7" y2="1088.9" stroke="#000" stroke-width="1.6"/>
<line x1="748.2" y1="1076.3" x2="751.7" y2="1076.3" stroke="#000" stroke-width="1.6"/>
<line x1="748.2" y1="1063.7" x2="751.7" y2="1063.7" stroke="#000" stroke-width="1.6"/>
<line x1="748.2" y1="1051.1" x2="751.7" y2="1051.1" stroke="#000" stroke-width="1.6"/>
<line x1="745.2" y1="1038.6" x2="751.7" y2="1038.6" stroke="#000" stroke-width="1.6"/>
<line x1="748.2" y1="1026.0" x2="751.7" y2="1026.0" stroke="#000" stroke-width="1.6"/>
<line x1="748.2" y1="1013.4" x2="751.7" y2="1013.4" stroke="#000" stroke-width="1.6"/>
<line x1="748.2" y1="1000.8" x2="751.7" y2="1000.8" stroke="#000" stroke-width="1.6"/>
<line x1="748.2" y1="988.2" x2="751.7" y2="988.2" stroke="#000" stroke-width="1.6"/>
<line x1="745.2" y1="975.6" x2="751.7" y2="975.6" stroke="#000" stroke-width="1.6"/>
<line x1="748.2" y1="963.0" x2="751.7" y2="963.0" stroke="#000" stroke-width="1.6"/>
<line x1="748.2" y1="950.5" x2="751.7" y2="950.5" stroke="#000" stroke-width="1.6"/>
<line x1="748.2" y1="937.9" x2="751.7" y2="937.9" stroke="#000" stroke-width="1.6"/>
<line x1="748.2" y1="925.3" x2="751.7" y2="925.3" stroke="#000" stroke-width="1.6"/>
<line x1="745.2" y1="912.7" x2="751.7" y2="912.7" stroke="#000" stroke-width="1.6"/>
<text x="712.2" y="923.2" style="font-family:'Liberation Serif',serif;font-size:30px;" text-anchor="middle" >2</text>
<text x="716.7" y="986.1" style="font-family:'Liberation Serif',serif;font-size:30px;" text-anchor="middle" >1.5</text>
<text x="712.7" y="1049.1" style="font-family:'Liberation Serif',serif;font-size:30px;" text-anchor="middle" >1</text>
<text x="716.2" y="1112.0" style="font-family:'Liberation Serif',serif;font-size:30px;" text-anchor="middle" >0.5</text>
<text x="712.7" y="1174.9" style="font-family:'Liberation Serif',serif;font-size:30px;" text-anchor="middle" >0</text>
<line x1="775.3" y1="1164.4" x2="775.3" y2="1170.9" stroke="#000" stroke-width="1.8"/>
<text x="775.3" y="1208.4" style="font-family:'Liberation Serif',serif;font-size:30px;" text-anchor="middle" >J</text>
<line x1="822.5" y1="1164.4" x2="822.5" y2="1170.9" stroke="#000" stroke-width="1.8"/>
<text x="822.5" y="1208.4" style="font-family:'Liberation Serif',serif;font-size:30px;" text-anchor="middle" >F</text>
<line x1="869.7" y1="1164.4" x2="869.7" y2="1170.9" stroke="#000" stroke-width="1.8"/>
<text x="869.7" y="1208.4" style="font-family:'Liberation Serif',serif;font-size:30px;" text-anchor="middle" >M</text>
<line x1="916.9" y1="1164.4" x2="916.9" y2="1170.9" stroke="#000" stroke-width="1.8"/>
<text x="916.9" y="1208.4" style="font-family:'Liberation Serif',serif;font-size:30px;" text-anchor="middle" >A</text>
<line x1="964.1" y1="1164.4" x2="964.1" y2="1170.9" stroke="#000" stroke-width="1.8"/>
<text x="964.1" y="1208.4" style="font-family:'Liberation Serif',serif;font-size:30px;" text-anchor="middle" >M</text>
<line x1="1011.3" y1="1164.4" x2="1011.3" y2="1170.9" stroke="#000" stroke-width="1.8"/>
<text x="1011.3" y="1208.4" style="font-family:'Liberation Serif',serif;font-size:30px;" text-anchor="middle" >J</text>
<line x1="1058.4" y1="1164.4" x2="1058.4" y2="1170.9" stroke="#000" stroke-width="1.8"/>
<text x="1058.4" y="1208.4" style="font-family:'Liberation Serif',serif;font-size:30px;" text-anchor="middle" >J</text>
<line x1="1105.6" y1="1164.4" x2="1105.6" y2="1170.9" stroke="#000" stroke-width="1.8"/>
<text x="1105.6" y="1208.4" style="font-family:'Liberation Serif',serif;font-size:30px;" text-anchor="middle" >A</text>
<line x1="1152.8" y1="1164.4" x2="1152.8" y2="1170.9" stroke="#000" stroke-width="1.8"/>
<text x="1152.8" y="1208.4" style="font-family:'Liberation Serif',serif;font-size:30px;" text-anchor="middle" >S</text>
<line x1="1200.0" y1="1164.4" x2="1200.0" y2="1170.9" stroke="#000" stroke-width="1.8"/>
<text x="1200.0" y="1208.4" style="font-family:'Liberation Serif',serif;font-size:30px;" text-anchor="middle" >O</text>
<line x1="1247.2" y1="1164.4" x2="1247.2" y2="1170.9" stroke="#000" stroke-width="1.8"/>
<text x="1247.2" y="1208.4" style="font-family:'Liberation Serif',serif;font-size:30px;" text-anchor="middle" >N</text>
<line x1="1294.4" y1="1164.4" x2="1294.4" y2="1170.9" stroke="#000" stroke-width="1.8"/>
<text x="1294.4" y="1208.4" style="font-family:'Liberation Serif',serif;font-size:30px;" text-anchor="middle" >D</text>
</svg></body></html>
